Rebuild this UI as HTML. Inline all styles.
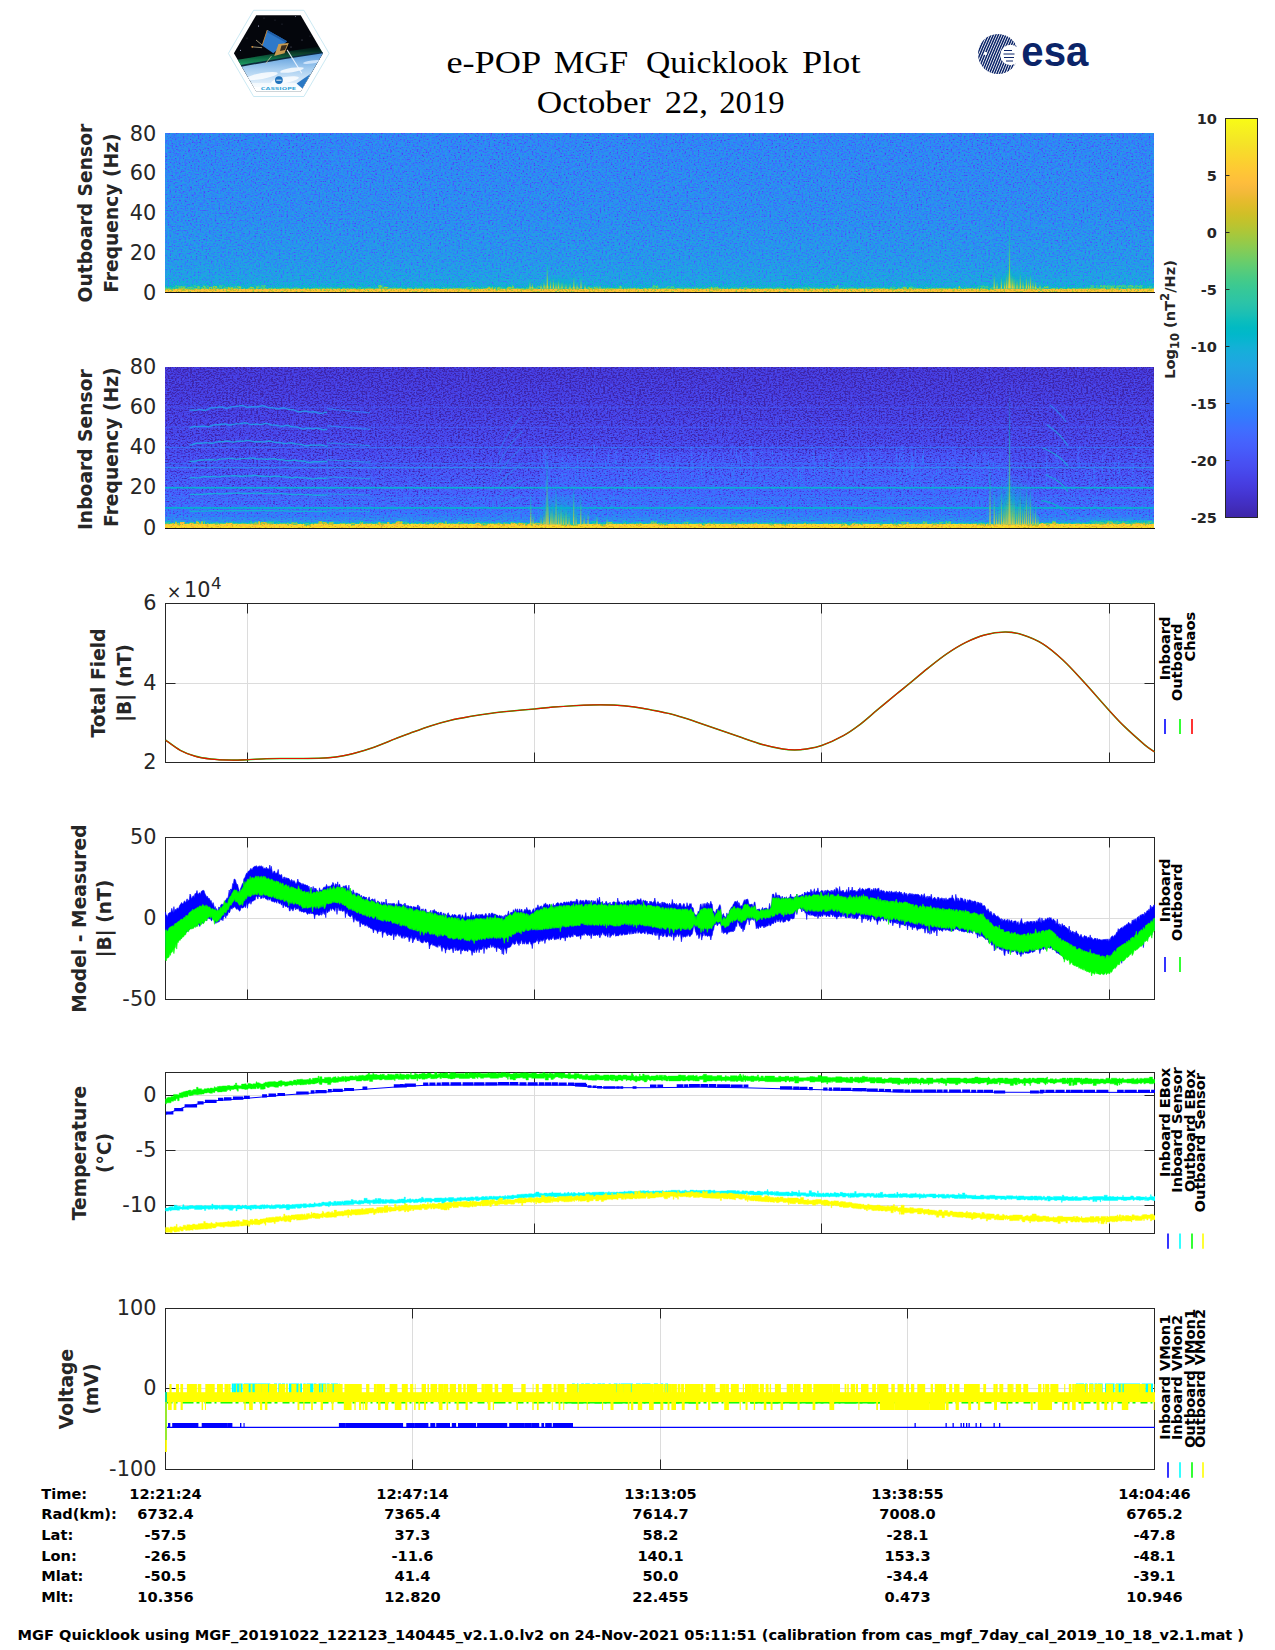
<!DOCTYPE html>
<html lang="en"><head><meta charset="utf-8"><title>e-POP MGF Quicklook Plot</title>
<style>html,body{margin:0;padding:0;background:#fff}svg{display:block}text{font-family:'DejaVu Sans','Liberation Sans',sans-serif}.tk{font-size:20.83px;fill:#262626}.yl{font-size:18.70px;font-weight:bold;fill:#262626;text-anchor:middle}.b{font-size:14.58px;font-weight:bold;fill:#000}.lg{font-size:14.58px;font-weight:bold;fill:#000;text-anchor:middle}.cb{font-size:14.58px;font-weight:bold;fill:#262626}.ttl{font-family:"Liberation Serif","DejaVu Serif",serif;font-size:31px;fill:#000}</style></head><body>
<svg width="1275" height="1650" viewBox="0 0 1275 1650">
<defs>
<filter id="sp1" filterUnits="userSpaceOnUse" x="165" y="133" width="989" height="159" color-interpolation-filters="sRGB">
<feTurbulence type="fractalNoise" baseFrequency="0.53 0.69" numOctaves="2" seed="3" result="n"/>
<feColorMatrix in="n" type="matrix" values="1 0 0 0 0  1 0 0 0 0  1 0 0 0 0  0 0 0 0 1" result="ng"/>
<feComponentTransfer in="ng" result="ns"><feFuncR type="table" tableValues="0 0 0 0.16 0.33 0.5 0.56 0.62 0.68 0.74 0.8"/><feFuncG type="table" tableValues="0 0 0 0.16 0.33 0.5 0.56 0.62 0.68 0.74 0.8"/><feFuncB type="table" tableValues="0 0 0 0.16 0.33 0.5 0.56 0.62 0.68 0.74 0.8"/></feComponentTransfer>
<feComposite in="SourceGraphic" in2="ns" operator="arithmetic" k1="0" k2="1" k3="0.38" k4="-0.18126" result="s"/>
<feComponentTransfer in="s"><feFuncR type="table" tableValues="0.2422 0.2504 0.2578 0.2647 0.2706 0.2751 0.2783 0.2803 0.2813 0.2810 0.2795 0.2760 0.2699 0.2602 0.2440 0.2206 0.1963 0.1834 0.1786 0.1764 0.1687 0.1540 0.1460 0.1380 0.1248 0.1113 0.0952 0.0689 0.0297 0.0036 0.0067 0.0433 0.0964 0.1408 0.1717 0.1938 0.2161 0.2470 0.2906 0.3406 0.3909 0.4456 0.5044 0.5616 0.6174 0.6720 0.7242 0.7738 0.8203 0.8634 0.9035 0.9393 0.9728 0.9956 0.9970 0.9952 0.9892 0.9786 0.9676 0.9610 0.9597 0.9628 0.9691 0.9769"/><feFuncG type="table" tableValues="0.1504 0.1650 0.1818 0.1978 0.2147 0.2342 0.2559 0.2782 0.3006 0.3228 0.3447 0.3667 0.3892 0.4123 0.4358 0.4603 0.4847 0.5074 0.5289 0.5499 0.5703 0.5902 0.6091 0.6276 0.6459 0.6635 0.6798 0.6948 0.7082 0.7203 0.7312 0.7411 0.7500 0.7584 0.7670 0.7758 0.7843 0.7918 0.7973 0.8008 0.8029 0.8024 0.7993 0.7942 0.7876 0.7793 0.7698 0.7598 0.7498 0.7406 0.7330 0.7288 0.7298 0.7434 0.7659 0.7893 0.8136 0.8386 0.8639 0.8890 0.9135 0.9373 0.9606 0.9839"/><feFuncB type="table" tableValues="0.6603 0.7076 0.7511 0.7952 0.8364 0.8710 0.8991 0.9221 0.9414 0.9579 0.9717 0.9829 0.9906 0.9952 0.9988 0.9973 0.9892 0.9798 0.9682 0.9520 0.9359 0.9218 0.9079 0.8973 0.8883 0.8763 0.8598 0.8394 0.8163 0.7917 0.7660 0.7394 0.7120 0.6842 0.6554 0.6251 0.5923 0.5567 0.5188 0.4789 0.4354 0.3909 0.3480 0.3045 0.2612 0.2227 0.1910 0.1646 0.1535 0.1596 0.1774 0.2100 0.2394 0.2371 0.2199 0.2028 0.1885 0.1766 0.1643 0.1537 0.1423 0.1265 0.1064 0.0805"/><feFuncA type="linear" slope="0" intercept="1"/></feComponentTransfer>
</filter>
<filter id="sp2" filterUnits="userSpaceOnUse" x="165" y="367" width="989" height="161" color-interpolation-filters="sRGB">
<feTurbulence type="fractalNoise" baseFrequency="0.53 0.69" numOctaves="2" seed="11" result="n"/>
<feColorMatrix in="n" type="matrix" values="1 0 0 0 0  1 0 0 0 0  1 0 0 0 0  0 0 0 0 1" result="ng"/>
<feComponentTransfer in="ng" result="ns"><feFuncR type="table" tableValues="0 0 0 0.16 0.33 0.5 0.56 0.62 0.68 0.74 0.8"/><feFuncG type="table" tableValues="0 0 0 0.16 0.33 0.5 0.56 0.62 0.68 0.74 0.8"/><feFuncB type="table" tableValues="0 0 0 0.16 0.33 0.5 0.56 0.62 0.68 0.74 0.8"/></feComponentTransfer>
<feComposite in="SourceGraphic" in2="ns" operator="arithmetic" k1="0" k2="1" k3="0.35" k4="-0.16695" result="s"/>
<feComponentTransfer in="s"><feFuncR type="table" tableValues="0.2422 0.2504 0.2578 0.2647 0.2706 0.2751 0.2783 0.2803 0.2813 0.2810 0.2795 0.2760 0.2699 0.2602 0.2440 0.2206 0.1963 0.1834 0.1786 0.1764 0.1687 0.1540 0.1460 0.1380 0.1248 0.1113 0.0952 0.0689 0.0297 0.0036 0.0067 0.0433 0.0964 0.1408 0.1717 0.1938 0.2161 0.2470 0.2906 0.3406 0.3909 0.4456 0.5044 0.5616 0.6174 0.6720 0.7242 0.7738 0.8203 0.8634 0.9035 0.9393 0.9728 0.9956 0.9970 0.9952 0.9892 0.9786 0.9676 0.9610 0.9597 0.9628 0.9691 0.9769"/><feFuncG type="table" tableValues="0.1504 0.1650 0.1818 0.1978 0.2147 0.2342 0.2559 0.2782 0.3006 0.3228 0.3447 0.3667 0.3892 0.4123 0.4358 0.4603 0.4847 0.5074 0.5289 0.5499 0.5703 0.5902 0.6091 0.6276 0.6459 0.6635 0.6798 0.6948 0.7082 0.7203 0.7312 0.7411 0.7500 0.7584 0.7670 0.7758 0.7843 0.7918 0.7973 0.8008 0.8029 0.8024 0.7993 0.7942 0.7876 0.7793 0.7698 0.7598 0.7498 0.7406 0.7330 0.7288 0.7298 0.7434 0.7659 0.7893 0.8136 0.8386 0.8639 0.8890 0.9135 0.9373 0.9606 0.9839"/><feFuncB type="table" tableValues="0.6603 0.7076 0.7511 0.7952 0.8364 0.8710 0.8991 0.9221 0.9414 0.9579 0.9717 0.9829 0.9906 0.9952 0.9988 0.9973 0.9892 0.9798 0.9682 0.9520 0.9359 0.9218 0.9079 0.8973 0.8883 0.8763 0.8598 0.8394 0.8163 0.7917 0.7660 0.7394 0.7120 0.6842 0.6554 0.6251 0.5923 0.5567 0.5188 0.4789 0.4354 0.3909 0.3480 0.3045 0.2612 0.2227 0.1910 0.1646 0.1535 0.1596 0.1774 0.2100 0.2394 0.2371 0.2199 0.2028 0.1885 0.1766 0.1643 0.1537 0.1423 0.1265 0.1064 0.0805"/><feFuncA type="linear" slope="0" intercept="1"/></feComponentTransfer>
</filter>
<linearGradient id="cbg" x1="0" y1="1" x2="0" y2="0">
<stop offset="0.0000" stop-color="#3e26a8"/>
<stop offset="0.0159" stop-color="#402ab4"/>
<stop offset="0.0317" stop-color="#422ec0"/>
<stop offset="0.0476" stop-color="#4332cb"/>
<stop offset="0.0635" stop-color="#4537d5"/>
<stop offset="0.0794" stop-color="#463cde"/>
<stop offset="0.0952" stop-color="#4741e5"/>
<stop offset="0.1111" stop-color="#4747eb"/>
<stop offset="0.1270" stop-color="#484df0"/>
<stop offset="0.1429" stop-color="#4852f4"/>
<stop offset="0.1587" stop-color="#4758f8"/>
<stop offset="0.1746" stop-color="#465efb"/>
<stop offset="0.1905" stop-color="#4563fd"/>
<stop offset="0.2063" stop-color="#4269fe"/>
<stop offset="0.2222" stop-color="#3e6fff"/>
<stop offset="0.2381" stop-color="#3875fe"/>
<stop offset="0.2540" stop-color="#327cfc"/>
<stop offset="0.2698" stop-color="#2f81fa"/>
<stop offset="0.2857" stop-color="#2e87f7"/>
<stop offset="0.3016" stop-color="#2d8cf3"/>
<stop offset="0.3175" stop-color="#2b91ef"/>
<stop offset="0.3333" stop-color="#2797eb"/>
<stop offset="0.3492" stop-color="#259be8"/>
<stop offset="0.3651" stop-color="#23a0e5"/>
<stop offset="0.3810" stop-color="#20a5e3"/>
<stop offset="0.3968" stop-color="#1ca9df"/>
<stop offset="0.4127" stop-color="#18addb"/>
<stop offset="0.4286" stop-color="#12b1d6"/>
<stop offset="0.4444" stop-color="#08b5d0"/>
<stop offset="0.4603" stop-color="#01b8ca"/>
<stop offset="0.4762" stop-color="#02bac3"/>
<stop offset="0.4921" stop-color="#0bbdbd"/>
<stop offset="0.5079" stop-color="#19bfb6"/>
<stop offset="0.5238" stop-color="#24c1ae"/>
<stop offset="0.5397" stop-color="#2cc4a7"/>
<stop offset="0.5556" stop-color="#31c69f"/>
<stop offset="0.5714" stop-color="#37c897"/>
<stop offset="0.5873" stop-color="#3fca8e"/>
<stop offset="0.6032" stop-color="#4acb84"/>
<stop offset="0.6190" stop-color="#57cc7a"/>
<stop offset="0.6349" stop-color="#64cd6f"/>
<stop offset="0.6508" stop-color="#72cd64"/>
<stop offset="0.6667" stop-color="#81cc59"/>
<stop offset="0.6825" stop-color="#8fcb4e"/>
<stop offset="0.6984" stop-color="#9dc943"/>
<stop offset="0.7143" stop-color="#abc739"/>
<stop offset="0.7302" stop-color="#b9c431"/>
<stop offset="0.7460" stop-color="#c5c22a"/>
<stop offset="0.7619" stop-color="#d1bf27"/>
<stop offset="0.7778" stop-color="#dcbd29"/>
<stop offset="0.7937" stop-color="#e6bb2d"/>
<stop offset="0.8095" stop-color="#f0ba36"/>
<stop offset="0.8254" stop-color="#f8ba3d"/>
<stop offset="0.8413" stop-color="#febe3c"/>
<stop offset="0.8571" stop-color="#fec338"/>
<stop offset="0.8730" stop-color="#fec934"/>
<stop offset="0.8889" stop-color="#fccf30"/>
<stop offset="0.9048" stop-color="#fad62d"/>
<stop offset="0.9206" stop-color="#f7dc2a"/>
<stop offset="0.9365" stop-color="#f5e327"/>
<stop offset="0.9524" stop-color="#f5e924"/>
<stop offset="0.9683" stop-color="#f6ef20"/>
<stop offset="0.9841" stop-color="#f7f51b"/>
<stop offset="1.0000" stop-color="#f9fb15"/>
</linearGradient>
<linearGradient id="g1" x1="0" y1="0" x2="0" y2="1">
<stop offset="0.0000" stop-color="#4a4a4a"/>
<stop offset="0.5000" stop-color="#4f4f4f"/>
<stop offset="0.8000" stop-color="#575757"/>
<stop offset="0.9200" stop-color="#5f5f5f"/>
<stop offset="0.9660" stop-color="#6b6b6b"/>
<stop offset="0.9760" stop-color="#8a8a8a"/>
<stop offset="0.9830" stop-color="#d0d0d0"/>
<stop offset="1.0000" stop-color="#d5d5d5"/>
</linearGradient>
<linearGradient id="g2" x1="0" y1="0" x2="0" y2="1">
<stop offset="0.0000" stop-color="#0f0f0f"/>
<stop offset="0.2500" stop-color="#141414"/>
<stop offset="0.5000" stop-color="#1c1c1c"/>
<stop offset="0.7000" stop-color="#282828"/>
<stop offset="0.8500" stop-color="#343434"/>
<stop offset="0.9300" stop-color="#424242"/>
<stop offset="0.9620" stop-color="#545454"/>
<stop offset="0.9710" stop-color="#8a8a8a"/>
<stop offset="0.9780" stop-color="#e2e2e2"/>
<stop offset="1.0000" stop-color="#e9e9e9"/>
</linearGradient>
<clipPath id="c1"><rect x="165" y="133" width="989" height="159"/></clipPath>
<clipPath id="c2"><rect x="165" y="367" width="989" height="161"/></clipPath>
<linearGradient id="stk" x1="0" y1="0" x2="0" y2="1"><stop offset="0" stop-color="#1ca9df" stop-opacity="0"/><stop offset="0.35" stop-color="#02bac3" stop-opacity="0.6"/><stop offset="0.75" stop-color="#81cc59" stop-opacity="0.9"/><stop offset="1" stop-color="#fccf30" stop-opacity="1"/></linearGradient>
<radialGradient id="glow" cx="0.5" cy="1" r="1" gradientTransform="translate(0.5 1) scale(0.5 1) translate(-0.5 -1)"><stop offset="0" stop-color="#37c897" stop-opacity="0.85"/><stop offset="0.5" stop-color="#01b8ca" stop-opacity="0.45"/><stop offset="1" stop-color="#20a5e3" stop-opacity="0"/></radialGradient>
</defs>
<text class="ttl" x="446.4" y="72.7" textLength="94.8" lengthAdjust="spacingAndGlyphs">e-POP</text>
<text class="ttl" x="553.7" y="72.7" textLength="74.5" lengthAdjust="spacingAndGlyphs">MGF</text>
<text class="ttl" x="645.9" y="72.7" textLength="142.3" lengthAdjust="spacingAndGlyphs">Quicklook</text>
<text class="ttl" x="802.1" y="72.7" textLength="58.4" lengthAdjust="spacingAndGlyphs">Plot</text>
<text class="ttl" x="536.7" y="113.0" textLength="113.7" lengthAdjust="spacingAndGlyphs">October</text>
<text class="ttl" x="664.7" y="113.0" textLength="43.3" lengthAdjust="spacingAndGlyphs">22,</text>
<text class="ttl" x="719.3" y="113.0" textLength="65.2" lengthAdjust="spacingAndGlyphs">2019</text>
<g id="cassiope">
<polygon points="228.4,53.4 253.6,10.3 303.9,10.3 329.1,53.4 303.9,96.5 253.6,96.5" fill="#fff" stroke="#b5e0ee" stroke-width="0.7"/>
<defs><clipPath id="hx"><polygon points="233.9,53.3 256.2,15.2 300.7,15.2 322.9,53.3 300.7,91.4 256.2,91.4"/></clipPath>
<linearGradient id="eg" x1="0" y1="0" x2="0" y2="1"><stop offset="0" stop-color="#4f93d8"/><stop offset="0.35" stop-color="#a5cdf0"/><stop offset="0.7" stop-color="#eaf4fc"/><stop offset="1" stop-color="#ffffff"/></linearGradient>
<linearGradient id="au" x1="0" y1="0" x2="0" y2="1"><stop offset="0" stop-color="#0a5a3a" stop-opacity="0"/><stop offset="0.6" stop-color="#128050" stop-opacity="0.85"/><stop offset="1" stop-color="#25b070"/></linearGradient>
<filter id="bl" x="-10%" y="-10%" width="120%" height="120%"><feGaussianBlur stdDeviation="0.7"/></filter></defs>
<g clip-path="url(#hx)">
<rect x="230" y="12" width="100" height="84" fill="#04060c"/>
<circle cx="258.5" cy="26.0" r="0.60" fill="#cfd6ff"/>
<circle cx="240.5" cy="50.3" r="0.50" fill="#cfd6ff"/>
<circle cx="295.6" cy="16.5" r="0.40" fill="#cfd6ff"/>
<circle cx="302.0" cy="40.0" r="0.40" fill="#cfd6ff"/>
<circle cx="291.0" cy="47.0" r="0.40" fill="#cfd6ff"/>
<circle cx="264.0" cy="18.0" r="0.35" fill="#cfd6ff"/>
<circle cx="282.0" cy="24.0" r="0.30" fill="#cfd6ff"/>
<circle cx="310.0" cy="36.0" r="0.30" fill="#cfd6ff"/>
<circle cx="247.0" cy="38.0" r="0.30" fill="#cfd6ff"/>
<circle cx="275.0" cy="20.0" r="0.30" fill="#cfd6ff"/>
<path d="M230 61 Q 280 52.5 330 45 L330 51.5 Q 280 59 230 67.5 Z" fill="url(#au)" filter="url(#bl)"/>
<path d="M228 67.5 Q 280 57.5 332 50.5 L332 100 L228 100 Z" fill="#0b2a3c"/>
<path d="M228 69.3 Q 280 59.2 332 52 L332 100 L228 100 Z" fill="url(#eg)"/>
<g filter="url(#bl)" opacity="0.8"><ellipse cx="262" cy="76" rx="16" ry="3" fill="#fff" transform="rotate(-10 262 76)"/><ellipse cx="292" cy="70" rx="12" ry="2.2" fill="#fff" transform="rotate(-9 292 70)"/><ellipse cx="312" cy="62" rx="9" ry="1.6" fill="#dfeeff" transform="rotate(-8 312 62)"/><ellipse cx="285" cy="80" rx="14" ry="3" fill="#fff" transform="rotate(-10 285 80)"/></g>
<rect x="240" y="83" width="80" height="5" fill="#fff" opacity="0.6"/><rect x="240" y="87" width="80" height="10" fill="#fff"/>
<path d="M287.1 49.9 L301.8 73.2" stroke="#f4f8ff" stroke-width="1.1" opacity="0.9"/>
<polygon points="296.6,83.5 310.4,74 302.7,88.7" fill="#2a78c4"/>
<polygon points="267.3,30 287.1,41.2 273.3,53.3 262.1,45.6" fill="#2e79c9"/>
<polygon points="267.3,30 287.1,41.2 285.5,42.6 266.4,31.8" fill="#1f5ea8"/>
<polygon points="278.5,44 288.8,43 284.5,53.3 274.2,55.9" fill="#c89b52"/>
<polygon points="281.5,45.5 287,45 285,50 280,51" fill="#3a2c1c"/>
<path d="M267.3 30 L262.1 45.6" stroke="#c88a3a" stroke-width="0.9"/>
<path d="M262.1 47.7 L251.7 46.8 M271.6 55.9 L265.6 63.7 M262 45 L256 40" stroke="#d6c8a0" stroke-width="0.7" fill="none"/>
<circle cx="252.3" cy="46.8" r="0.9" fill="#e09030"/>
<circle cx="278.9" cy="80.1" r="3.9" fill="#1f72bc"/><path d="M276.3 80.2 h5.2" stroke="#fff" stroke-width="0.9"/>
<text x="278.5" y="90.4" text-anchor="middle" style="font-size:4.1px;fill:#3aa8da;font-weight:bold" textLength="35.4" lengthAdjust="spacingAndGlyphs">CASSIOPE</text>
</g></g>
<g id="esa">
<clipPath id="es"><circle cx="998" cy="54" r="20"/></clipPath>
<g clip-path="url(#es)" stroke="#0b2468" stroke-width="1.5">
<path d="M937.0 80 Q 947.0 54 959.0 28" fill="none"/>
<path d="M939.5 80 Q 949.5 54 961.5 28" fill="none"/>
<path d="M942.0 80 Q 952.0 54 964.0 28" fill="none"/>
<path d="M944.5 80 Q 954.5 54 966.5 28" fill="none"/>
<path d="M947.0 80 Q 957.0 54 969.0 28" fill="none"/>
<path d="M949.5 80 Q 959.5 54 971.5 28" fill="none"/>
<path d="M952.0 80 Q 962.0 54 974.0 28" fill="none"/>
<path d="M954.5 80 Q 964.5 54 976.5 28" fill="none"/>
<path d="M957.0 80 Q 967.0 54 979.0 28" fill="none"/>
<path d="M959.5 80 Q 969.5 54 981.5 28" fill="none"/>
<path d="M962.0 80 Q 972.0 54 984.0 28" fill="none"/>
<path d="M964.5 80 Q 974.5 54 986.5 28" fill="none"/>
<path d="M967.0 80 Q 977.0 54 989.0 28" fill="none"/>
<path d="M969.5 80 Q 979.5 54 991.5 28" fill="none"/>
<path d="M972.0 80 Q 982.0 54 994.0 28" fill="none"/>
<path d="M974.5 80 Q 984.5 54 996.5 28" fill="none"/>
<path d="M977.0 80 Q 987.0 54 999.0 28" fill="none"/>
<path d="M979.5 80 Q 989.5 54 1001.5 28" fill="none"/>
<path d="M982.0 80 Q 992.0 54 1004.0 28" fill="none"/>
<path d="M984.5 80 Q 994.5 54 1006.5 28" fill="none"/>
<path d="M987.0 80 Q 997.0 54 1009.0 28" fill="none"/>
<path d="M989.5 80 Q 999.5 54 1011.5 28" fill="none"/>
<path d="M992.0 80 Q 1002.0 54 1014.0 28" fill="none"/>
<path d="M994.5 80 Q 1004.5 54 1016.5 28" fill="none"/>
<path d="M997.0 80 Q 1007.0 54 1019.0 28" fill="none"/>
<path d="M999.5 80 Q 1009.5 54 1021.5 28" fill="none"/>
<path d="M1002.0 80 Q 1012.0 54 1024.0 28" fill="none"/>
<path d="M1004.5 80 Q 1014.5 54 1026.5 28" fill="none"/>
<path d="M1007.0 80 Q 1017.0 54 1029.0 28" fill="none"/>
<path d="M1009.5 80 Q 1019.5 54 1031.5 28" fill="none"/>
<path d="M1012.0 80 Q 1022.0 54 1034.0 28" fill="none"/>
<path d="M1014.5 80 Q 1024.5 54 1036.5 28" fill="none"/>
<path d="M1017.0 80 Q 1027.0 54 1039.0 28" fill="none"/>
</g>
<circle cx="1010.5" cy="55" r="10.2" fill="#fff"/>
<path d="M1004 50.5 h8 M1003.5 54 h11 M1004 57.5 h10 M1006 61 h7" stroke="#0b2468" stroke-width="1" fill="none"/>
<circle cx="985.5" cy="53.5" r="1.7" fill="#fff"/>
<text x="1021.3" y="66.1" style="font-family:'Liberation Sans','DejaVu Sans',sans-serif;font-weight:bold;font-size:42px;fill:#0b2468" textLength="67" lengthAdjust="spacingAndGlyphs">esa</text>
</g>
<rect x="1225.5" y="118.5" width="32" height="399" fill="url(#cbg)" stroke="#262626" stroke-width="1"/>
<text class="cb" x="1217" y="123.80" text-anchor="end">10</text>
<path d="M1225.5 175.50 h4" stroke="#262626" stroke-width="1"/>
<text class="cb" x="1217" y="180.80" text-anchor="end">5</text>
<path d="M1225.5 232.50 h4" stroke="#262626" stroke-width="1"/>
<text class="cb" x="1217" y="237.80" text-anchor="end">0</text>
<path d="M1225.5 289.50 h4" stroke="#262626" stroke-width="1"/>
<text class="cb" x="1217" y="294.80" text-anchor="end">-5</text>
<path d="M1225.5 346.50 h4" stroke="#262626" stroke-width="1"/>
<text class="cb" x="1217" y="351.80" text-anchor="end">-10</text>
<path d="M1225.5 403.50 h4" stroke="#262626" stroke-width="1"/>
<text class="cb" x="1217" y="408.80" text-anchor="end">-15</text>
<path d="M1225.5 460.50 h4" stroke="#262626" stroke-width="1"/>
<text class="cb" x="1217" y="465.80" text-anchor="end">-20</text>
<text class="cb" x="1217" y="522.80" text-anchor="end">-25</text>
<text class="cb" transform="translate(1174.5,319.5) rotate(-90)" text-anchor="middle">Log<tspan dy="4" style="font-size:11.6px">10</tspan><tspan dy="-4"> (nT</tspan><tspan dy="-6" style="font-size:11.6px">2</tspan><tspan dy="6">/Hz)</tspan></text>
<g filter="url(#sp1)">
<rect x="165" y="133" width="989" height="159" fill="url(#g1)"/>
<g clip-path="url(#c1)"><rect x="165.0" y="286.6" width="3.3" height="3.0" fill="#8f8f8f" opacity="0.8"/><rect x="169.9" y="286.6" width="3.5" height="3.0" fill="#8d8d8d" opacity="0.8"/><rect x="174.7" y="285.2" width="1.9" height="3.0" fill="#8e8e8e" opacity="0.8"/><rect x="178.3" y="286.6" width="6.7" height="3.0" fill="#acacac" opacity="0.8"/><rect x="186.2" y="286.6" width="6.9" height="3.0" fill="#9b9b9b" opacity="0.8"/><rect x="193.5" y="286.6" width="2.1" height="3.0" fill="#909090" opacity="0.8"/><rect x="197.3" y="286.6" width="2.5" height="3.0" fill="#ababab" opacity="0.8"/><rect x="201.7" y="285.8" width="4.2" height="3.0" fill="#a6a6a6" opacity="0.8"/><rect x="208.7" y="286.6" width="3.5" height="3.0" fill="#b3b3b3" opacity="0.8"/><rect x="213.0" y="285.8" width="4.7" height="3.0" fill="#b5b5b5" opacity="0.8"/><rect x="218.5" y="285.2" width="6.9" height="3.0" fill="#949494" opacity="0.8"/><rect x="226.4" y="286.6" width="6.6" height="3.0" fill="#b7b7b7" opacity="0.8"/><rect x="234.8" y="285.8" width="6.3" height="3.0" fill="#adadad" opacity="0.8"/><rect x="249.6" y="286.6" width="4.1" height="3.0" fill="#b5b5b5" opacity="0.8"/><rect x="254.7" y="285.2" width="4.7" height="3.0" fill="#9b9b9b" opacity="0.8"/><rect x="260.5" y="285.2" width="5.2" height="3.0" fill="#9f9f9f" opacity="0.8"/><rect x="356.6" y="286.6" width="3.9" height="3.0" fill="#909090" opacity="0.8"/><rect x="378.3" y="285.2" width="4.1" height="3.0" fill="#c4c4c4" opacity="0.8"/><rect x="383.8" y="286.6" width="4.2" height="3.0" fill="#b6b6b6" opacity="0.8"/><rect x="466.1" y="286.6" width="6.9" height="3.0" fill="#989898" opacity="0.8"/><rect x="486.9" y="286.6" width="5.9" height="3.0" fill="#bfbfbf" opacity="0.8"/><rect x="495.2" y="286.6" width="5.6" height="3.0" fill="#a4a4a4" opacity="0.8"/><rect x="506.8" y="286.6" width="4.0" height="3.0" fill="#b5b5b5" opacity="0.8"/><rect x="511.4" y="285.2" width="2.2" height="3.0" fill="#b9b9b9" opacity="0.8"/><rect x="522.1" y="286.6" width="3.4" height="3.0" fill="#8c8c8c" opacity="0.8"/><rect x="527.9" y="286.6" width="5.5" height="3.0" fill="#a4a4a4" opacity="0.8"/><rect x="536.0" y="285.8" width="6.0" height="3.0" fill="#979797" opacity="0.8"/><rect x="543.5" y="285.2" width="5.7" height="3.0" fill="#bbbbbb" opacity="0.8"/><rect x="557.0" y="286.6" width="6.0" height="3.0" fill="#a9a9a9" opacity="0.8"/><rect x="564.5" y="286.6" width="1.6" height="3.0" fill="#aeaeae" opacity="0.8"/><rect x="568.5" y="286.6" width="2.3" height="3.0" fill="#ababab" opacity="0.8"/><rect x="571.8" y="286.6" width="4.4" height="3.0" fill="#bebebe" opacity="0.8"/><rect x="576.3" y="286.6" width="2.6" height="3.0" fill="#a8a8a8" opacity="0.8"/><rect x="587.5" y="286.6" width="4.9" height="3.0" fill="#b3b3b3" opacity="0.8"/><rect x="593.8" y="286.6" width="4.4" height="3.0" fill="#b3b3b3" opacity="0.8"/><rect x="618.7" y="285.8" width="2.8" height="3.0" fill="#b8b8b8" opacity="0.8"/><rect x="652.5" y="285.2" width="5.5" height="3.0" fill="#a4a4a4" opacity="0.8"/><rect x="667.1" y="285.8" width="6.8" height="3.0" fill="#9a9a9a" opacity="0.8"/><rect x="709.6" y="286.6" width="3.0" height="3.0" fill="#b9b9b9" opacity="0.8"/><rect x="712.8" y="286.6" width="6.2" height="3.0" fill="#a5a5a5" opacity="0.8"/><rect x="743.8" y="286.6" width="2.9" height="3.0" fill="#a8a8a8" opacity="0.8"/><rect x="804.7" y="286.6" width="5.3" height="3.0" fill="#949494" opacity="0.8"/><rect x="835.5" y="285.2" width="3.0" height="3.0" fill="#adadad" opacity="0.8"/><rect x="890.3" y="286.6" width="6.0" height="3.0" fill="#8f8f8f" opacity="0.8"/><rect x="902.6" y="286.6" width="4.0" height="3.0" fill="#afafaf" opacity="0.8"/><rect x="908.6" y="286.6" width="4.2" height="3.0" fill="#b6b6b6" opacity="0.8"/><rect x="958.6" y="285.8" width="1.6" height="3.0" fill="#c3c3c3" opacity="0.8"/><rect x="986.3" y="286.6" width="7.0" height="3.0" fill="#8f8f8f" opacity="0.8"/><rect x="993.6" y="285.8" width="5.6" height="3.0" fill="#929292" opacity="0.8"/><rect x="1012.3" y="285.2" width="1.6" height="3.0" fill="#b2b2b2" opacity="0.8"/><rect x="1015.1" y="285.2" width="5.5" height="3.0" fill="#9d9d9d" opacity="0.8"/><rect x="1023.2" y="285.2" width="1.5" height="3.0" fill="#919191" opacity="0.8"/><rect x="1033.7" y="286.6" width="3.5" height="3.0" fill="#9f9f9f" opacity="0.8"/><rect x="1038.6" y="286.6" width="3.0" height="3.0" fill="#8d8d8d" opacity="0.8"/><rect x="1043.6" y="285.8" width="5.0" height="3.0" fill="#a4a4a4" opacity="0.8"/><rect x="1091.0" y="285.2" width="3.7" height="3.0" fill="#ababab" opacity="0.8"/><rect x="1095.9" y="286.6" width="2.4" height="3.0" fill="#a8a8a8" opacity="0.8"/><rect x="1100.7" y="285.8" width="4.5" height="3.0" fill="#c5c5c5" opacity="0.8"/><rect x="1106.6" y="286.6" width="2.3" height="3.0" fill="#959595" opacity="0.8"/><rect x="1110.5" y="286.6" width="3.3" height="3.0" fill="#bebebe" opacity="0.8"/><rect x="1116.0" y="286.6" width="3.8" height="3.0" fill="#a0a0a0" opacity="0.8"/><rect x="1120.8" y="285.8" width="1.8" height="3.0" fill="#929292" opacity="0.8"/><rect x="1129.8" y="285.2" width="3.0" height="3.0" fill="#b0b0b0" opacity="0.8"/><rect x="1140.2" y="285.2" width="2.2" height="3.0" fill="#c3c3c3" opacity="0.8"/><rect x="1148.6" y="285.2" width="4.4" height="3.0" fill="#999999" opacity="0.8"/><rect x="1153.3" y="286.6" width="2.3" height="3.0" fill="#c1c1c1" opacity="0.8"/><rect x="1090" y="285.0" width="64" height="3" fill="#838383" opacity="0.6"/><rect x="176.0" y="285.5" width="10.0" height="2" fill="#a0a0a0" opacity="0.7"/><rect x="192.0" y="285.5" width="8.0" height="2" fill="#a0a0a0" opacity="0.7"/><rect x="203.0" y="285.5" width="6.0" height="2" fill="#a0a0a0" opacity="0.7"/><rect x="978.0" y="285.5" width="10.0" height="2" fill="#a0a0a0" opacity="0.7"/><rect x="1003.0" y="285.5" width="30.0" height="2" fill="#a0a0a0" opacity="0.7"/><rect x="1100.0" y="285.5" width="40.0" height="2" fill="#a0a0a0" opacity="0.7"/></g>
</g>
<g clip-path="url(#c1)"><rect x="534.0" y="272.5" width="52.0" height="16.0" fill="url(#glow)"/><rect x="986.0" y="262.5" width="52.0" height="26.0" fill="url(#glow)"/><rect x="546.7" y="252.5" width="1.2" height="36.0" fill="url(#stk)"/><rect x="529.4" y="276.5" width="1.2" height="12.0" fill="url(#stk)"/><rect x="531.9" y="279.5" width="1.2" height="9.0" fill="url(#stk)"/><rect x="540.4" y="280.5" width="1.2" height="8.0" fill="url(#stk)"/><rect x="543.4" y="276.5" width="1.2" height="12.0" fill="url(#stk)"/><rect x="549.9" y="274.5" width="1.2" height="14.0" fill="url(#stk)"/><rect x="552.8" y="272.5" width="1.2" height="16.0" fill="url(#stk)"/><rect x="555.4" y="278.5" width="1.2" height="10.0" fill="url(#stk)"/><rect x="557.9" y="274.5" width="1.2" height="14.0" fill="url(#stk)"/><rect x="561.4" y="278.5" width="1.2" height="10.0" fill="url(#stk)"/><rect x="565.4" y="280.5" width="1.2" height="8.0" fill="url(#stk)"/><rect x="569.4" y="279.5" width="1.2" height="9.0" fill="url(#stk)"/><rect x="573.2" y="270.5" width="1.2" height="18.0" fill="url(#stk)"/><rect x="576.4" y="279.5" width="1.2" height="9.0" fill="url(#stk)"/><rect x="580.4" y="272.5" width="1.2" height="16.0" fill="url(#stk)"/><rect x="584.4" y="281.5" width="1.2" height="7.0" fill="url(#stk)"/><rect x="599.4" y="282.5" width="1.2" height="6.0" fill="url(#stk)"/><rect x="1008.9" y="204.5" width="1.2" height="84.0" fill="url(#stk)"/><rect x="1007.7" y="258.5" width="1.2" height="30.0" fill="url(#stk)"/><rect x="1010.2" y="262.5" width="1.2" height="26.0" fill="url(#stk)"/><rect x="993.6" y="266.5" width="1.2" height="22.0" fill="url(#stk)"/><rect x="996.4" y="276.5" width="1.2" height="12.0" fill="url(#stk)"/><rect x="1000.8" y="270.5" width="1.2" height="18.0" fill="url(#stk)"/><rect x="1003.9" y="274.5" width="1.2" height="14.0" fill="url(#stk)"/><rect x="1005.9" y="266.5" width="1.2" height="22.0" fill="url(#stk)"/><rect x="1011.9" y="268.5" width="1.2" height="20.0" fill="url(#stk)"/><rect x="1013.4" y="270.5" width="1.2" height="18.0" fill="url(#stk)"/><rect x="1016.4" y="274.5" width="1.2" height="14.0" fill="url(#stk)"/><rect x="1019.7" y="264.5" width="1.2" height="24.0" fill="url(#stk)"/><rect x="1022.4" y="274.5" width="1.2" height="14.0" fill="url(#stk)"/><rect x="1025.8" y="268.5" width="1.2" height="20.0" fill="url(#stk)"/><rect x="1027.9" y="274.5" width="1.2" height="14.0" fill="url(#stk)"/><rect x="1029.9" y="266.5" width="1.2" height="22.0" fill="url(#stk)"/><rect x="1032.4" y="276.5" width="1.2" height="12.0" fill="url(#stk)"/><rect x="1035.0" y="276.5" width="1.2" height="12.0" fill="url(#stk)"/><rect x="1039.4" y="281.5" width="1.2" height="7.0" fill="url(#stk)"/></g>
<path d="M165 292.5 H1155" stroke="#111" stroke-width="1"/>
<text class="tk" x="156.2" y="299.60" text-anchor="end">0</text>
<text class="tk" x="156.2" y="259.85" text-anchor="end">20</text>
<text class="tk" x="156.2" y="220.10" text-anchor="end">40</text>
<text class="tk" x="156.2" y="180.35" text-anchor="end">60</text>
<text class="tk" x="156.2" y="140.60" text-anchor="end">80</text>
<text class="yl" transform="translate(92.2,213.1) rotate(-90)">Outboard Sensor</text>
<text class="yl" transform="translate(118,213.1) rotate(-90)">Frequency (Hz)</text>
<g filter="url(#sp2)">
<rect x="165" y="367" width="989" height="161" fill="url(#g2)"/>
<g clip-path="url(#c2)"><rect x="165.0" y="521.2" width="5.1" height="3.0" fill="#929292" opacity="0.8"/><rect x="172.4" y="522.6" width="1.5" height="3.0" fill="#c3c3c3" opacity="0.8"/><rect x="174.8" y="521.2" width="2.2" height="3.0" fill="#c8c8c8" opacity="0.8"/><rect x="177.4" y="522.6" width="1.9" height="3.0" fill="#acacac" opacity="0.8"/><rect x="179.9" y="521.8" width="4.8" height="3.0" fill="#e2e2e2" opacity="0.8"/><rect x="189.5" y="522.6" width="4.4" height="3.0" fill="#dedede" opacity="0.8"/><rect x="196.0" y="521.2" width="3.2" height="3.0" fill="#d8d8d8" opacity="0.8"/><rect x="201.2" y="521.2" width="1.9" height="3.0" fill="#dbdbdb" opacity="0.8"/><rect x="203.8" y="521.2" width="1.7" height="3.0" fill="#aaaaaa" opacity="0.8"/><rect x="206.7" y="522.6" width="1.5" height="3.0" fill="#9c9c9c" opacity="0.8"/><rect x="215.0" y="521.8" width="2.7" height="3.0" fill="#949494" opacity="0.8"/><rect x="225.9" y="522.6" width="6.5" height="3.0" fill="#dbdbdb" opacity="0.8"/><rect x="232.6" y="521.2" width="1.6" height="3.0" fill="#8f8f8f" opacity="0.8"/><rect x="249.0" y="521.2" width="3.3" height="3.0" fill="#8d8d8d" opacity="0.8"/><rect x="254.3" y="521.8" width="3.6" height="3.0" fill="#b1b1b1" opacity="0.8"/><rect x="258.2" y="521.2" width="1.9" height="3.0" fill="#dedede" opacity="0.8"/><rect x="260.5" y="521.8" width="6.8" height="3.0" fill="#cecece" opacity="0.8"/><rect x="268.3" y="521.2" width="5.9" height="3.0" fill="#9c9c9c" opacity="0.8"/><rect x="275.8" y="521.2" width="4.0" height="3.0" fill="#8d8d8d" opacity="0.8"/><rect x="287.1" y="522.6" width="1.7" height="3.0" fill="#a1a1a1" opacity="0.8"/><rect x="291.0" y="521.8" width="6.4" height="3.0" fill="#a8a8a8" opacity="0.8"/><rect x="304.1" y="522.6" width="6.6" height="3.0" fill="#8d8d8d" opacity="0.8"/><rect x="318.4" y="521.2" width="3.6" height="3.0" fill="#d2d2d2" opacity="0.8"/><rect x="322.4" y="521.8" width="4.2" height="3.0" fill="#d2d2d2" opacity="0.8"/><rect x="329.0" y="521.8" width="4.8" height="3.0" fill="#b3b3b3" opacity="0.8"/><rect x="351.1" y="522.6" width="3.8" height="3.0" fill="#a2a2a2" opacity="0.8"/><rect x="359.3" y="521.2" width="4.0" height="3.0" fill="#b3b3b3" opacity="0.8"/><rect x="377.6" y="521.8" width="3.0" height="3.0" fill="#cbcbcb" opacity="0.8"/><rect x="381.3" y="522.6" width="2.9" height="3.0" fill="#a3a3a3" opacity="0.8"/><rect x="386.9" y="521.8" width="2.5" height="3.0" fill="#e1e1e1" opacity="0.8"/><rect x="395.6" y="521.2" width="7.0" height="3.0" fill="#d8d8d8" opacity="0.8"/><rect x="403.3" y="521.8" width="4.0" height="3.0" fill="#9f9f9f" opacity="0.8"/><rect x="425.7" y="521.8" width="3.4" height="3.0" fill="#979797" opacity="0.8"/><rect x="434.6" y="521.8" width="2.6" height="3.0" fill="#aeaeae" opacity="0.8"/><rect x="438.3" y="522.6" width="4.9" height="3.0" fill="#d0d0d0" opacity="0.8"/><rect x="444.9" y="521.2" width="1.8" height="3.0" fill="#c4c4c4" opacity="0.8"/><rect x="457.8" y="521.8" width="3.8" height="3.0" fill="#afafaf" opacity="0.8"/><rect x="475.8" y="522.6" width="3.9" height="3.0" fill="#d2d2d2" opacity="0.8"/><rect x="480.9" y="522.6" width="6.4" height="3.0" fill="#969696" opacity="0.8"/><rect x="497.8" y="522.6" width="2.4" height="3.0" fill="#b8b8b8" opacity="0.8"/><rect x="503.0" y="522.6" width="2.1" height="3.0" fill="#a5a5a5" opacity="0.8"/><rect x="510.3" y="522.6" width="4.8" height="3.0" fill="#d9d9d9" opacity="0.8"/><rect x="517.0" y="522.6" width="6.0" height="3.0" fill="#c1c1c1" opacity="0.8"/><rect x="524.9" y="522.6" width="2.6" height="3.0" fill="#8e8e8e" opacity="0.8"/><rect x="530.3" y="522.6" width="2.4" height="3.0" fill="#a0a0a0" opacity="0.8"/><rect x="534.8" y="522.6" width="6.4" height="3.0" fill="#c5c5c5" opacity="0.8"/><rect x="542.2" y="521.8" width="3.6" height="3.0" fill="#c3c3c3" opacity="0.8"/><rect x="546.8" y="521.8" width="2.9" height="3.0" fill="#b1b1b1" opacity="0.8"/><rect x="551.0" y="521.2" width="1.6" height="3.0" fill="#b3b3b3" opacity="0.8"/><rect x="561.3" y="522.6" width="6.0" height="3.0" fill="#969696" opacity="0.8"/><rect x="568.6" y="522.6" width="2.0" height="3.0" fill="#8e8e8e" opacity="0.8"/><rect x="571.0" y="522.6" width="6.6" height="3.0" fill="#8f8f8f" opacity="0.8"/><rect x="591.5" y="521.2" width="6.0" height="3.0" fill="#a4a4a4" opacity="0.8"/><rect x="599.9" y="522.6" width="5.9" height="3.0" fill="#909090" opacity="0.8"/><rect x="606.8" y="521.8" width="5.7" height="3.0" fill="#dadada" opacity="0.8"/><rect x="623.6" y="521.2" width="3.5" height="3.0" fill="#999999" opacity="0.8"/><rect x="635.7" y="522.6" width="5.8" height="3.0" fill="#c2c2c2" opacity="0.8"/><rect x="650.7" y="521.2" width="6.4" height="3.0" fill="#cbcbcb" opacity="0.8"/><rect x="658.1" y="522.6" width="3.6" height="3.0" fill="#aaaaaa" opacity="0.8"/><rect x="664.0" y="522.6" width="3.9" height="3.0" fill="#a4a4a4" opacity="0.8"/><rect x="684.1" y="521.8" width="5.6" height="3.0" fill="#c0c0c0" opacity="0.8"/><rect x="698.5" y="522.6" width="1.5" height="3.0" fill="#b8b8b8" opacity="0.8"/><rect x="701.7" y="522.6" width="3.8" height="3.0" fill="#9c9c9c" opacity="0.8"/><rect x="707.3" y="522.6" width="4.1" height="3.0" fill="#c8c8c8" opacity="0.8"/><rect x="712.8" y="521.8" width="1.9" height="3.0" fill="#aeaeae" opacity="0.8"/><rect x="730.8" y="522.6" width="6.5" height="3.0" fill="#aeaeae" opacity="0.8"/><rect x="754.5" y="522.6" width="3.2" height="3.0" fill="#e1e1e1" opacity="0.8"/><rect x="769.3" y="522.6" width="5.1" height="3.0" fill="#a1a1a1" opacity="0.8"/><rect x="781.3" y="522.6" width="6.7" height="3.0" fill="#a2a2a2" opacity="0.8"/><rect x="803.7" y="522.6" width="2.9" height="3.0" fill="#dddddd" opacity="0.8"/><rect x="840.6" y="522.6" width="4.6" height="3.0" fill="#adadad" opacity="0.8"/><rect x="847.0" y="522.6" width="4.6" height="3.0" fill="#8d8d8d" opacity="0.8"/><rect x="852.0" y="522.6" width="6.6" height="3.0" fill="#c8c8c8" opacity="0.8"/><rect x="861.1" y="521.8" width="1.9" height="3.0" fill="#9c9c9c" opacity="0.8"/><rect x="879.7" y="522.6" width="2.9" height="3.0" fill="#8d8d8d" opacity="0.8"/><rect x="893.5" y="522.6" width="5.0" height="3.0" fill="#969696" opacity="0.8"/><rect x="900.9" y="521.8" width="5.1" height="3.0" fill="#afafaf" opacity="0.8"/><rect x="906.0" y="521.8" width="2.9" height="3.0" fill="#dadada" opacity="0.8"/><rect x="922.6" y="521.2" width="4.4" height="3.0" fill="#c8c8c8" opacity="0.8"/><rect x="931.5" y="522.6" width="6.0" height="3.0" fill="#b8b8b8" opacity="0.8"/><rect x="938.4" y="521.8" width="5.6" height="3.0" fill="#b5b5b5" opacity="0.8"/><rect x="945.5" y="521.2" width="5.9" height="3.0" fill="#bebebe" opacity="0.8"/><rect x="976.3" y="522.6" width="2.1" height="3.0" fill="#aeaeae" opacity="0.8"/><rect x="979.6" y="522.6" width="6.4" height="3.0" fill="#ababab" opacity="0.8"/><rect x="986.9" y="522.6" width="3.9" height="3.0" fill="#acacac" opacity="0.8"/><rect x="993.4" y="522.6" width="2.8" height="3.0" fill="#a9a9a9" opacity="0.8"/><rect x="1001.5" y="521.2" width="5.6" height="3.0" fill="#c7c7c7" opacity="0.8"/><rect x="1007.8" y="522.6" width="2.8" height="3.0" fill="#b7b7b7" opacity="0.8"/><rect x="1026.6" y="522.6" width="4.8" height="3.0" fill="#a7a7a7" opacity="0.8"/><rect x="1031.9" y="522.6" width="6.9" height="3.0" fill="#999999" opacity="0.8"/><rect x="1040.8" y="522.6" width="2.6" height="3.0" fill="#d0d0d0" opacity="0.8"/><rect x="1045.6" y="522.6" width="3.9" height="3.0" fill="#a3a3a3" opacity="0.8"/><rect x="1052.1" y="521.2" width="4.1" height="3.0" fill="#c7c7c7" opacity="0.8"/><rect x="1099.8" y="521.8" width="5.0" height="3.0" fill="#a1a1a1" opacity="0.8"/><rect x="1106.9" y="521.2" width="6.4" height="3.0" fill="#c9c9c9" opacity="0.8"/><rect x="1115.3" y="521.2" width="2.9" height="3.0" fill="#8c8c8c" opacity="0.8"/><rect x="1120.7" y="522.6" width="4.4" height="3.0" fill="#d9d9d9" opacity="0.8"/><rect x="1130.3" y="522.6" width="2.1" height="3.0" fill="#989898" opacity="0.8"/><rect x="1134.8" y="522.6" width="6.7" height="3.0" fill="#d4d4d4" opacity="0.8"/><rect x="1142.8" y="522.6" width="2.6" height="3.0" fill="#c2c2c2" opacity="0.8"/><rect x="1147.9" y="521.2" width="4.4" height="3.0" fill="#9d9d9d" opacity="0.8"/><rect x="540" y="451.5" width="470" height="72.5" fill="#505050" opacity="0.12"/><rect x="540" y="467.6" width="470" height="56.4" fill="#505050" opacity="0.10"/><rect x="1090" y="520.5" width="64" height="3" fill="#999999" opacity="0.6"/><rect x="719.3" y="450.6" width="1.1" height="10.0" fill="#494949" opacity="0.45"/><rect x="992.8" y="462.9" width="1.1" height="8.9" fill="#494949" opacity="0.45"/><rect x="664.8" y="461.6" width="1.1" height="8.2" fill="#494949" opacity="0.45"/><rect x="731.4" y="461.0" width="1.1" height="19.2" fill="#494949" opacity="0.45"/><rect x="700.7" y="465.7" width="1.1" height="11.6" fill="#494949" opacity="0.45"/><rect x="880.6" y="445.3" width="1.1" height="16.4" fill="#494949" opacity="0.45"/><rect x="639.1" y="449.5" width="1.1" height="14.3" fill="#494949" opacity="0.45"/><rect x="635.9" y="469.8" width="1.1" height="20.4" fill="#494949" opacity="0.45"/><rect x="912.0" y="454.5" width="1.1" height="15.5" fill="#494949" opacity="0.45"/><rect x="797.7" y="466.8" width="1.1" height="23.4" fill="#494949" opacity="0.45"/><rect x="701.1" y="454.4" width="1.1" height="21.1" fill="#494949" opacity="0.45"/><rect x="915.1" y="459.5" width="1.1" height="12.7" fill="#494949" opacity="0.45"/><rect x="791.3" y="469.9" width="1.1" height="21.3" fill="#494949" opacity="0.45"/><rect x="701.9" y="448.0" width="1.1" height="12.3" fill="#494949" opacity="0.45"/><rect x="711.8" y="466.0" width="1.1" height="14.8" fill="#494949" opacity="0.45"/><rect x="623.9" y="473.6" width="1.1" height="19.5" fill="#494949" opacity="0.45"/><rect x="667.9" y="466.3" width="1.1" height="12.8" fill="#494949" opacity="0.45"/><rect x="759.6" y="460.7" width="1.1" height="18.2" fill="#494949" opacity="0.45"/><rect x="842.6" y="462.7" width="1.1" height="22.9" fill="#494949" opacity="0.45"/><rect x="932.8" y="471.9" width="1.1" height="21.2" fill="#494949" opacity="0.45"/><rect x="956.5" y="450.0" width="1.1" height="10.2" fill="#494949" opacity="0.45"/><rect x="922.1" y="454.5" width="1.1" height="8.2" fill="#494949" opacity="0.45"/><rect x="543.3" y="444.9" width="1.1" height="18.5" fill="#494949" opacity="0.45"/><rect x="653.5" y="470.6" width="1.1" height="10.3" fill="#494949" opacity="0.45"/><rect x="645.9" y="450.2" width="1.1" height="13.5" fill="#494949" opacity="0.45"/><rect x="608.5" y="446.4" width="1.1" height="20.7" fill="#494949" opacity="0.45"/><rect x="615.6" y="446.8" width="1.1" height="17.7" fill="#494949" opacity="0.45"/><rect x="899.0" y="453.5" width="1.1" height="22.3" fill="#494949" opacity="0.45"/><rect x="902.1" y="448.3" width="1.1" height="11.2" fill="#494949" opacity="0.45"/><rect x="858.1" y="457.6" width="1.1" height="19.9" fill="#494949" opacity="0.45"/><rect x="740.6" y="447.0" width="1.1" height="16.9" fill="#494949" opacity="0.45"/><rect x="660.2" y="466.6" width="1.1" height="10.2" fill="#494949" opacity="0.45"/><rect x="765.8" y="471.9" width="1.1" height="15.5" fill="#494949" opacity="0.45"/><rect x="604.7" y="458.8" width="1.1" height="16.0" fill="#494949" opacity="0.45"/><rect x="787.3" y="447.6" width="1.1" height="8.1" fill="#494949" opacity="0.45"/><rect x="926.4" y="459.5" width="1.1" height="17.0" fill="#494949" opacity="0.45"/><rect x="845.4" y="448.3" width="1.1" height="14.0" fill="#494949" opacity="0.45"/><rect x="731.5" y="444.7" width="1.1" height="9.2" fill="#494949" opacity="0.45"/><rect x="832.3" y="454.5" width="1.1" height="8.5" fill="#494949" opacity="0.45"/><rect x="819.7" y="453.1" width="1.1" height="22.9" fill="#494949" opacity="0.45"/><rect x="690.7" y="444.0" width="1.1" height="16.2" fill="#494949" opacity="0.45"/><rect x="761.9" y="446.6" width="1.1" height="8.5" fill="#494949" opacity="0.45"/><rect x="869.8" y="454.8" width="1.1" height="13.4" fill="#494949" opacity="0.45"/><rect x="936.1" y="462.6" width="1.1" height="15.6" fill="#494949" opacity="0.45"/><rect x="780.8" y="450.4" width="1.1" height="11.4" fill="#494949" opacity="0.45"/><rect x="739.1" y="460.9" width="1.1" height="16.9" fill="#494949" opacity="0.45"/><rect x="919.9" y="464.8" width="1.1" height="21.2" fill="#494949" opacity="0.45"/><rect x="724.5" y="458.5" width="1.1" height="12.3" fill="#494949" opacity="0.45"/><rect x="772.0" y="444.2" width="1.1" height="18.5" fill="#494949" opacity="0.45"/><rect x="903.9" y="463.7" width="1.1" height="13.1" fill="#494949" opacity="0.45"/><rect x="676.2" y="456.0" width="1.1" height="18.2" fill="#494949" opacity="0.45"/><rect x="900.3" y="472.5" width="1.1" height="19.6" fill="#494949" opacity="0.45"/><rect x="947.1" y="457.2" width="1.1" height="8.8" fill="#494949" opacity="0.45"/><rect x="676.8" y="473.5" width="1.1" height="11.0" fill="#494949" opacity="0.45"/><rect x="963.7" y="455.3" width="1.1" height="18.5" fill="#494949" opacity="0.45"/><rect x="902.5" y="446.2" width="1.1" height="17.8" fill="#494949" opacity="0.45"/><rect x="822.9" y="454.7" width="1.1" height="19.1" fill="#494949" opacity="0.45"/><rect x="813.5" y="453.1" width="1.1" height="11.4" fill="#494949" opacity="0.45"/><rect x="846.2" y="459.8" width="1.1" height="20.2" fill="#494949" opacity="0.45"/><rect x="584.8" y="468.2" width="1.1" height="8.6" fill="#494949" opacity="0.45"/><rect x="895.8" y="446.1" width="1.1" height="18.5" fill="#494949" opacity="0.45"/><rect x="708.4" y="448.8" width="1.1" height="20.6" fill="#494949" opacity="0.45"/><rect x="797.7" y="465.9" width="1.1" height="12.8" fill="#494949" opacity="0.45"/><rect x="732.9" y="464.0" width="1.1" height="14.9" fill="#494949" opacity="0.45"/><rect x="834.5" y="445.5" width="1.1" height="8.9" fill="#494949" opacity="0.45"/><rect x="800.2" y="472.5" width="1.1" height="9.9" fill="#494949" opacity="0.45"/><rect x="912.4" y="456.3" width="1.1" height="22.7" fill="#494949" opacity="0.45"/><rect x="744.3" y="473.2" width="1.1" height="14.2" fill="#494949" opacity="0.45"/><rect x="811.5" y="445.4" width="1.1" height="23.7" fill="#494949" opacity="0.45"/><rect x="757.7" y="461.2" width="1.1" height="9.6" fill="#494949" opacity="0.45"/><rect x="835.8" y="467.3" width="1.1" height="10.4" fill="#494949" opacity="0.45"/><rect x="545.2" y="473.5" width="1.1" height="18.9" fill="#494949" opacity="0.45"/><rect x="594.2" y="444.5" width="1.1" height="9.4" fill="#494949" opacity="0.45"/><rect x="939.7" y="469.8" width="1.1" height="8.3" fill="#494949" opacity="0.45"/><rect x="870.3" y="466.3" width="1.1" height="19.7" fill="#494949" opacity="0.45"/><rect x="624.6" y="472.1" width="1.1" height="20.4" fill="#494949" opacity="0.45"/><rect x="867.7" y="447.8" width="1.1" height="19.7" fill="#494949" opacity="0.45"/><rect x="576.9" y="454.7" width="1.1" height="19.3" fill="#494949" opacity="0.45"/><rect x="750.8" y="445.5" width="1.1" height="12.1" fill="#494949" opacity="0.45"/><rect x="983.5" y="452.0" width="1.1" height="8.2" fill="#494949" opacity="0.45"/><rect x="544.8" y="454.0" width="1.1" height="21.1" fill="#494949" opacity="0.45"/><rect x="574.8" y="464.3" width="1.1" height="19.7" fill="#494949" opacity="0.45"/><rect x="614.7" y="447.7" width="1.1" height="15.8" fill="#494949" opacity="0.45"/><rect x="565.6" y="462.6" width="1.1" height="17.2" fill="#494949" opacity="0.45"/><rect x="740.7" y="453.2" width="1.1" height="10.3" fill="#494949" opacity="0.45"/><rect x="906.4" y="462.7" width="1.1" height="18.3" fill="#494949" opacity="0.45"/><rect x="828.9" y="461.0" width="1.1" height="14.2" fill="#494949" opacity="0.45"/><rect x="901.2" y="445.1" width="1.1" height="20.6" fill="#494949" opacity="0.45"/><rect x="799.9" y="464.8" width="1.1" height="9.0" fill="#494949" opacity="0.45"/><rect x="988.0" y="452.4" width="1.1" height="21.2" fill="#494949" opacity="0.45"/><rect x="691.4" y="455.4" width="1.1" height="23.6" fill="#494949" opacity="0.45"/><rect x="922.1" y="455.5" width="1.1" height="12.9" fill="#494949" opacity="0.45"/><rect x="736.0" y="446.9" width="1.1" height="14.0" fill="#494949" opacity="0.45"/><rect x="854.4" y="455.5" width="1.1" height="22.3" fill="#494949" opacity="0.45"/><rect x="911.1" y="465.1" width="1.1" height="8.0" fill="#494949" opacity="0.45"/><rect x="659.5" y="460.9" width="1.1" height="17.4" fill="#494949" opacity="0.45"/><rect x="915.0" y="446.9" width="1.1" height="8.7" fill="#494949" opacity="0.45"/><rect x="923.0" y="449.2" width="1.1" height="21.9" fill="#494949" opacity="0.45"/><rect x="802.2" y="465.4" width="1.1" height="21.6" fill="#494949" opacity="0.45"/><rect x="910.8" y="453.0" width="1.1" height="22.6" fill="#494949" opacity="0.45"/><rect x="698.2" y="471.1" width="1.1" height="16.9" fill="#494949" opacity="0.45"/><rect x="906.4" y="467.6" width="1.1" height="20.0" fill="#494949" opacity="0.45"/><rect x="968.5" y="466.6" width="1.1" height="17.7" fill="#494949" opacity="0.45"/><rect x="851.1" y="459.6" width="1.1" height="11.3" fill="#494949" opacity="0.45"/><rect x="655.7" y="451.0" width="1.1" height="20.7" fill="#494949" opacity="0.45"/><rect x="750.4" y="471.0" width="1.1" height="20.9" fill="#494949" opacity="0.45"/><rect x="894.7" y="466.6" width="1.1" height="17.3" fill="#494949" opacity="0.45"/><rect x="952.4" y="446.9" width="1.1" height="16.3" fill="#494949" opacity="0.45"/><rect x="758.2" y="455.9" width="1.1" height="11.0" fill="#494949" opacity="0.45"/><rect x="626.8" y="468.2" width="1.1" height="19.2" fill="#494949" opacity="0.45"/><rect x="705.6" y="456.6" width="1.1" height="14.4" fill="#494949" opacity="0.45"/><rect x="777.0" y="469.2" width="1.1" height="8.7" fill="#494949" opacity="0.45"/><rect x="998.7" y="462.4" width="1.1" height="9.7" fill="#494949" opacity="0.45"/><rect x="830.3" y="449.9" width="1.1" height="10.5" fill="#494949" opacity="0.45"/><rect x="813.9" y="463.3" width="1.1" height="16.3" fill="#494949" opacity="0.45"/><rect x="547.5" y="472.6" width="1.1" height="23.8" fill="#494949" opacity="0.45"/><rect x="938.1" y="459.0" width="1.1" height="17.1" fill="#494949" opacity="0.45"/><rect x="658.9" y="450.1" width="1.1" height="14.8" fill="#494949" opacity="0.45"/><rect x="975.3" y="450.5" width="1.1" height="21.1" fill="#494949" opacity="0.45"/><rect x="983.1" y="466.0" width="1.1" height="8.6" fill="#494949" opacity="0.45"/><rect x="630.9" y="468.2" width="1.1" height="9.3" fill="#494949" opacity="0.45"/><rect x="561.6" y="456.8" width="1.1" height="21.9" fill="#494949" opacity="0.45"/><rect x="749.7" y="445.1" width="1.1" height="22.6" fill="#494949" opacity="0.45"/><rect x="567.7" y="455.6" width="1.1" height="14.4" fill="#494949" opacity="0.45"/><rect x="593.4" y="444.7" width="1.1" height="12.1" fill="#494949" opacity="0.45"/><rect x="1102.1" y="454.3" width="1.1" height="23.3" fill="#494949" opacity="0.45"/><rect x="1113.7" y="461.8" width="1.1" height="15.2" fill="#494949" opacity="0.45"/><rect x="1057.6" y="444.5" width="1.1" height="23.9" fill="#494949" opacity="0.45"/><rect x="1064.4" y="472.5" width="1.1" height="12.1" fill="#494949" opacity="0.45"/><rect x="1078.7" y="446.4" width="1.1" height="22.5" fill="#494949" opacity="0.45"/><rect x="1132.1" y="472.2" width="1.1" height="20.6" fill="#494949" opacity="0.45"/><rect x="1118.1" y="454.1" width="1.1" height="23.8" fill="#494949" opacity="0.45"/><rect x="1046.1" y="469.3" width="1.1" height="20.1" fill="#494949" opacity="0.45"/><rect x="1143.3" y="453.2" width="1.1" height="12.8" fill="#494949" opacity="0.45"/><rect x="1105.1" y="450.8" width="1.1" height="9.7" fill="#494949" opacity="0.45"/><rect x="1075.6" y="465.9" width="1.1" height="10.0" fill="#494949" opacity="0.45"/><rect x="1092.9" y="468.6" width="1.1" height="11.8" fill="#494949" opacity="0.45"/><rect x="1055.7" y="453.2" width="1.1" height="8.2" fill="#494949" opacity="0.45"/><rect x="1118.9" y="467.8" width="1.1" height="8.6" fill="#494949" opacity="0.45"/><rect x="1142.0" y="467.0" width="1.1" height="22.9" fill="#494949" opacity="0.45"/><rect x="1135.3" y="446.8" width="1.1" height="10.2" fill="#494949" opacity="0.45"/><rect x="1089.2" y="470.7" width="1.1" height="22.9" fill="#494949" opacity="0.45"/><rect x="1132.6" y="454.7" width="1.1" height="15.2" fill="#494949" opacity="0.45"/><rect x="1077.4" y="448.8" width="1.1" height="15.6" fill="#494949" opacity="0.45"/><rect x="1109.1" y="469.4" width="1.1" height="11.5" fill="#494949" opacity="0.45"/><rect x="1046.2" y="452.1" width="1.1" height="16.9" fill="#494949" opacity="0.45"/><rect x="1055.9" y="447.4" width="1.1" height="12.3" fill="#494949" opacity="0.45"/><rect x="1085.3" y="469.0" width="1.1" height="12.3" fill="#494949" opacity="0.45"/><rect x="1132.4" y="463.6" width="1.1" height="10.7" fill="#494949" opacity="0.45"/><rect x="1094.0" y="464.1" width="1.1" height="22.5" fill="#494949" opacity="0.45"/></g>
</g>
<g clip-path="url(#c2)"><rect x="165" y="507.07" width="989" height="1.6" fill="#01b8c9" opacity="0.95"/><rect x="165" y="486.95" width="989" height="1.6" fill="#06b5cf" opacity="0.95"/><rect x="165" y="466.93" width="989" height="1.4" fill="#2a92ee" opacity="0.85"/><rect x="165" y="446.85" width="989" height="1.3" fill="#307ffb" opacity="0.70"/><rect x="165" y="426.77" width="989" height="1.2" fill="#406cfe" opacity="0.50"/><rect x="165" y="406.65" width="989" height="1.2" fill="#4465fd" opacity="0.50"/><rect x="165" y="497.31" width="989" height="1.0" fill="#2d8cf3" opacity="0.60"/><rect x="165" y="463.10" width="989" height="1.0" fill="#317dfc" opacity="0.55"/><rect x="165" y="517.44" width="989" height="1.0" fill="#22a2e4" opacity="0.40"/><rect x="165" y="477.19" width="989" height="1.0" fill="#317dfc" opacity="0.30"/><polyline points="189.6,511.2 191.9,511.2 194.2,511.2 196.5,511.2 198.8,511.1 201.1,511.1 203.4,511.2 205.7,511.1 207.9,511.0 210.2,510.8 212.5,510.8 214.8,510.8 217.1,510.8 219.4,510.7 221.7,510.8 224.0,510.9 226.3,510.9 228.6,510.8 230.9,510.7 233.2,510.7 235.5,510.7 237.8,510.6 240.1,510.5 242.3,510.5 244.6,510.7 246.9,510.8 249.2,510.7 251.5,510.7 253.8,510.7 256.1,510.7 258.4,510.6 260.7,510.5 263.0,510.6 265.3,510.7 267.6,510.8 269.9,510.8 272.2,510.8 274.5,510.9 276.7,511.0 279.0,510.9 281.3,510.8 283.6,510.8 285.9,510.9 288.2,511.0 290.5,511.1 292.8,511.1 295.1,511.2 297.4,511.4 299.7,511.4 302.0,511.3 304.3,511.3 306.6,511.3 308.9,511.4 311.1,511.4 313.4,511.4 315.7,511.5 318.0,511.6 320.3,511.6 322.6,511.5 324.9,511.5 327.2,511.5" fill="none" stroke="#13b0d7" stroke-width="1.4" opacity="0.95"/><polyline points="327.2,511.0 329.3,511.0 331.5,511.0 333.6,511.0 335.8,511.1 337.9,511.1 340.0,511.1 342.2,511.2 344.3,511.2 346.5,511.2 348.6,511.3 350.7,511.3 352.9,511.3 355.0,511.3 357.2,511.4 359.3,511.4 361.4,511.4 363.6,511.5 365.7,511.5 367.9,511.5 370.0,511.5" fill="none" stroke="#1fa5e2" stroke-width="1.2" opacity="0.8"/><polyline points="189.6,494.5 191.9,494.5 194.2,494.4 196.5,494.3 198.8,494.5 201.1,494.5 203.4,494.2 205.7,493.9 207.9,493.7 210.2,493.8 212.5,493.7 214.8,493.6 217.1,493.5 219.4,493.7 221.7,493.9 224.0,493.8 226.3,493.5 228.6,493.3 230.9,493.4 233.2,493.3 235.5,493.1 237.8,493.0 240.1,493.2 242.3,493.5 244.6,493.5 246.9,493.4 249.2,493.3 251.5,493.4 253.8,493.3 256.1,493.1 258.4,493.0 260.7,493.2 263.0,493.5 265.3,493.6 267.6,493.6 269.9,493.6 272.2,493.8 274.5,493.8 276.7,493.7 279.0,493.5 281.3,493.6 283.6,493.9 285.9,494.0 288.2,494.1 290.5,494.2 292.8,494.5 295.1,494.7 297.4,494.5 299.7,494.4 302.0,494.4 304.3,494.6 306.6,494.7 308.9,494.8 311.1,494.8 313.4,495.1 315.7,495.3 318.0,495.2 320.3,495.0 322.6,494.9 324.9,495.0 327.2,494.9" fill="none" stroke="#19acdc" stroke-width="1.4" opacity="0.95"/><polyline points="327.2,493.9 329.3,494.0 331.5,494.0 333.6,494.1 335.8,494.2 337.9,494.2 340.0,494.3 342.2,494.3 344.3,494.4 346.5,494.5 348.6,494.5 350.7,494.6 352.9,494.6 355.0,494.7 357.2,494.7 359.3,494.8 361.4,494.9 363.6,494.9 365.7,495.0 367.9,495.0 370.0,495.1" fill="none" stroke="#23a0e5" stroke-width="1.2" opacity="0.8"/><polyline points="189.6,477.9 191.9,477.7 194.2,477.8 196.5,477.9 198.8,477.8 201.1,477.3 203.4,476.8 205.7,476.8 207.9,476.8 210.2,476.7 212.5,476.5 214.8,476.6 217.1,476.9 219.4,476.9 221.7,476.5 224.0,476.2 226.3,476.1 228.6,476.1 230.9,475.9 233.2,475.6 235.5,475.7 237.8,476.1 240.1,476.3 242.3,476.2 244.6,476.0 246.9,476.0 249.2,476.0 251.5,475.8 253.8,475.5 256.1,475.5 258.4,475.9 260.7,476.3 263.0,476.3 265.3,476.3 267.6,476.4 269.9,476.6 272.2,476.5 274.5,476.2 276.7,476.1 279.0,476.4 281.3,476.8 283.6,476.9 285.9,477.0 288.2,477.3 290.5,477.7 292.8,477.7 295.1,477.4 297.4,477.3 299.7,477.6 302.0,477.9 304.3,477.9 306.6,478.0 308.9,478.4 311.1,478.8 313.4,478.9 315.7,478.6 318.0,478.3 320.3,478.3 322.6,478.4 324.9,478.2 327.2,478.1" fill="none" stroke="#1ea8e0" stroke-width="1.4" opacity="0.95"/><polyline points="327.2,476.9 329.3,477.0 331.5,477.1 333.6,477.1 335.8,477.2 337.9,477.3 340.0,477.4 342.2,477.5 344.3,477.6 346.5,477.7 348.6,477.8 350.7,477.9 352.9,477.9 355.0,478.0 357.2,478.1 359.3,478.2 361.4,478.3 363.6,478.4 365.7,478.5 367.9,478.6 370.0,478.6" fill="none" stroke="#259be8" stroke-width="1.2" opacity="0.8"/><polyline points="189.6,461.2 191.9,461.4 194.2,461.5 196.5,461.0 198.8,460.2 201.1,459.9 203.4,460.0 205.7,459.9 207.9,459.7 210.2,459.5 212.5,459.8 214.8,460.1 217.1,459.9 219.4,459.2 221.7,458.9 224.0,458.9 226.3,458.8 228.6,458.4 230.9,458.3 233.2,458.6 235.5,459.1 237.8,459.1 240.1,458.8 242.3,458.6 244.6,458.6 246.9,458.6 249.2,458.2 251.5,457.9 253.8,458.2 256.1,458.8 258.4,459.0 260.7,458.9 263.0,458.9 265.3,459.2 267.6,459.3 269.9,458.9 272.2,458.6 274.5,458.8 276.7,459.3 279.0,459.7 281.3,459.7 283.6,459.9 285.9,460.5 288.2,460.8 290.5,460.5 292.8,460.2 295.1,460.2 297.4,460.7 299.7,461.0 302.0,461.0 304.3,461.3 306.6,462.0 308.9,462.5 311.1,462.3 313.4,461.8 315.7,461.7 318.0,461.8 320.3,461.8 322.6,461.5 324.9,461.5 327.2,462.0" fill="none" stroke="#21a3e3" stroke-width="1.4" opacity="0.95"/><polyline points="327.2,459.8 329.3,460.0 331.5,460.1 333.6,460.2 335.8,460.3 337.9,460.4 340.0,460.6 342.2,460.7 344.3,460.8 346.5,460.9 348.6,461.0 350.7,461.1 352.9,461.3 355.0,461.4 357.2,461.5 359.3,461.6 361.4,461.7 363.6,461.8 365.7,462.0 367.9,462.1 370.0,462.2" fill="none" stroke="#2896eb" stroke-width="1.2" opacity="0.8"/><polyline points="189.6,445.1 191.9,444.9 194.2,444.0 196.5,443.3 198.8,443.1 201.1,443.3 203.4,443.1 205.7,442.8 207.9,442.9 210.2,443.3 212.5,443.3 214.8,442.7 217.1,441.9 219.4,441.7 221.7,441.8 224.0,441.5 226.3,441.1 228.6,441.2 230.9,441.8 233.2,442.1 235.5,441.8 237.8,441.3 240.1,441.2 242.3,441.3 244.6,441.0 246.9,440.5 249.2,440.4 251.5,441.1 253.8,441.7 256.1,441.7 258.4,441.5 260.7,441.7 263.0,441.9 265.3,441.7 267.6,441.2 269.9,441.0 272.2,441.6 274.5,442.2 276.7,442.5 279.0,442.5 281.3,442.9 283.6,443.5 285.9,443.6 288.2,443.1 290.5,442.8 292.8,443.2 295.1,443.7 297.4,444.0 299.7,444.1 302.0,444.7 304.3,445.5 306.6,445.8 308.9,445.5 311.1,445.0 313.4,445.1 315.7,445.2 318.0,445.1 320.3,444.9 322.6,445.2 324.9,445.9 327.2,446.3" fill="none" stroke="#249ee6" stroke-width="1.4" opacity="0.95"/><polyline points="327.2,442.8 329.3,443.0 331.5,443.1 333.6,443.2 335.8,443.4 337.9,443.5 340.0,443.7 342.2,443.8 344.3,444.0 346.5,444.1 348.6,444.3 350.7,444.4 352.9,444.6 355.0,444.7 357.2,444.9 359.3,445.0 361.4,445.1 363.6,445.3 365.7,445.4 367.9,445.6 370.0,445.7" fill="none" stroke="#2b90ef" stroke-width="1.2" opacity="0.8"/><polyline points="189.6,428.2 191.9,427.0 194.2,426.5 196.5,426.6 198.8,426.7 201.1,426.3 203.4,426.1 205.7,426.4 207.9,426.8 210.2,426.4 212.5,425.4 214.8,424.7 217.1,424.7 219.4,424.7 221.7,424.2 224.0,423.9 226.3,424.3 228.6,425.0 230.9,425.0 233.2,424.4 235.5,423.9 237.8,423.9 240.1,423.8 242.3,423.3 244.6,422.8 246.9,423.2 249.2,424.1 251.5,424.5 253.8,424.3 256.1,424.1 258.4,424.4 260.7,424.5 263.0,424.0 265.3,423.4 267.6,423.6 269.9,424.5 272.2,425.1 274.5,425.1 276.7,425.3 279.0,425.9 281.3,426.4 283.6,426.0 285.9,425.4 288.2,425.5 290.5,426.2 292.8,426.7 295.1,426.9 297.4,427.2 299.7,428.1 302.0,428.9 304.3,428.8 306.6,428.3 308.9,428.2 311.1,428.5 313.4,428.6 315.7,428.4 318.0,428.3 320.3,429.0 322.6,429.8 324.9,429.8 327.2,429.2" fill="none" stroke="#2699ea" stroke-width="1.4" opacity="0.95"/><polyline points="327.2,425.8 329.3,425.9 331.5,426.1 333.6,426.3 335.8,426.5 337.9,426.6 340.0,426.8 342.2,427.0 344.3,427.2 346.5,427.4 348.6,427.5 350.7,427.7 352.9,427.9 355.0,428.1 357.2,428.2 359.3,428.4 361.4,428.6 363.6,428.8 365.7,428.9 367.9,429.1 370.0,429.3" fill="none" stroke="#2d8bf4" stroke-width="1.2" opacity="0.8"/><polyline points="189.6,410.1 191.9,409.9 194.2,410.2 196.5,410.1 198.8,409.6 201.1,409.6 203.4,410.2 205.7,410.2 207.9,409.3 210.2,408.1 212.5,407.7 214.8,407.8 217.1,407.5 219.4,407.0 221.7,407.0 224.0,407.7 226.3,408.2 228.6,407.7 230.9,406.9 233.2,406.6 235.5,406.6 237.8,406.3 240.1,405.6 242.3,405.5 244.6,406.3 246.9,407.2 249.2,407.2 251.5,406.7 253.8,406.7 256.1,407.0 258.4,406.8 260.7,406.0 263.0,405.7 265.3,406.5 267.6,407.4 269.9,407.8 272.2,407.7 274.5,408.1 276.7,408.8 279.0,408.9 281.3,408.2 283.6,407.8 285.9,408.3 288.2,409.2 290.5,409.6 292.8,409.7 295.1,410.4 297.4,411.5 299.7,412.0 302.0,411.5 304.3,411.0 306.6,411.3 308.9,412.0 311.1,412.0 313.4,411.7 315.7,412.0 318.0,413.0 320.3,413.5 322.6,413.1 324.9,412.4 327.2,412.3" fill="none" stroke="#2a93ed" stroke-width="1.4" opacity="0.95"/><polyline points="327.2,408.7 329.3,408.9 331.5,409.1 333.6,409.3 335.8,409.6 337.9,409.8 340.0,410.0 342.2,410.2 344.3,410.4 346.5,410.6 348.6,410.8 350.7,411.0 352.9,411.2 355.0,411.4 357.2,411.6 359.3,411.8 361.4,412.0 363.6,412.2 365.7,412.4 367.9,412.6 370.0,412.8" fill="none" stroke="#2e85f8" stroke-width="1.2" opacity="0.8"/><path d="M327.5 437.4 V511.9 M370 457.6 V511.9" stroke="#2e87f7" stroke-width="1" opacity="0.35"/><polyline points="499.0,517.6 500.1,516.9 501.3,516.5 502.4,516.1 503.6,515.7 504.8,515.4 505.9,515.1 507.1,514.9 508.2,514.6 509.4,514.4 510.5,514.1 511.6,513.9 512.8,513.6 514.0,513.4 515.1,513.2 516.2,513.0 517.4,512.8 518.5,512.5 519.7,512.3 520.9,512.1 522.0,511.9" fill="none" stroke="#249ee6" stroke-width="1.1" opacity="0.6"/><polyline points="499.0,507.2 500.1,505.8 501.3,504.9 502.4,504.2 503.6,503.5 504.8,502.9 505.9,502.3 507.1,501.7 508.2,501.2 509.4,500.7 510.5,500.2 511.6,499.7 512.8,499.3 514.0,498.8 515.1,498.4 516.2,497.9 517.4,497.5 518.5,497.1 519.7,496.7 520.9,496.3 522.0,495.9" fill="none" stroke="#2699e9" stroke-width="1.1" opacity="0.6"/><polyline points="499.0,496.7 500.1,494.6 501.3,493.4 502.4,492.2 503.6,491.2 504.8,490.3 505.9,489.4 507.1,488.6 508.2,487.8 509.4,487.1 510.5,486.3 511.6,485.6 512.8,484.9 514.0,484.2 515.1,483.6 516.2,482.9 517.4,482.3 518.5,481.6 519.7,481.0 520.9,480.4 522.0,479.8" fill="none" stroke="#2895ec" stroke-width="1.1" opacity="0.6"/><polyline points="499.0,486.3 500.1,483.5 501.3,481.8 502.4,480.3 503.6,479.0 504.8,477.8 505.9,476.6 507.1,475.5 508.2,474.4 509.4,473.4 510.5,472.4 511.6,471.5 512.8,470.5 514.0,469.6 515.1,468.7 516.2,467.9 517.4,467.0 518.5,466.2 519.7,465.4 520.9,464.6 522.0,463.8" fill="none" stroke="#2b90ef" stroke-width="1.1" opacity="0.6"/><polyline points="499.0,475.9 500.1,472.4 501.3,470.3 502.4,468.4 503.6,466.7 504.8,465.2 505.9,463.7 507.1,462.4 508.2,461.0 509.4,459.8 510.5,458.5 511.6,457.3 512.8,456.2 514.0,455.0 515.1,453.9 516.2,452.8 517.4,451.8 518.5,450.7 519.7,449.7 520.9,448.7 522.0,447.7" fill="none" stroke="#2d8cf3" stroke-width="1.1" opacity="0.6"/><polyline points="499.0,465.5 500.1,461.3 501.3,458.7 502.4,456.5 503.6,454.5 504.8,452.6 505.9,450.9 507.1,449.2 508.2,447.6 509.4,446.1 510.5,444.6 511.6,443.2 512.8,441.8 514.0,440.4 515.1,439.1 516.2,437.8 517.4,436.5 518.5,435.3 519.7,434.0 520.9,432.8 522.0,431.6" fill="none" stroke="#2e87f7" stroke-width="1.1" opacity="0.6"/><polyline points="499.0,455.0 500.1,450.2 501.3,447.2 502.4,444.6 503.6,442.2 504.8,440.1 505.9,438.0 507.1,436.1 508.2,434.3 509.4,432.5 510.5,430.7 511.6,429.1 512.8,427.4 514.0,425.9 515.1,424.3 516.2,422.8 517.4,421.3 518.5,419.8 519.7,418.4 520.9,417.0 522.0,415.6" fill="none" stroke="#2f82fa" stroke-width="1.1" opacity="0.6"/><rect x="532.0" y="490.5" width="60.0" height="34.0" fill="url(#glow)"/><rect x="984.0" y="474.5" width="56.0" height="50.0" fill="url(#glow)"/><rect x="530.1" y="490.5" width="1.3" height="34.0" fill="url(#stk)" opacity="0.8"/><rect x="532.4" y="510.5" width="1.3" height="14.0" fill="url(#stk)" opacity="0.8"/><rect x="540.4" y="512.5" width="1.3" height="12.0" fill="url(#stk)" opacity="0.8"/><rect x="543.4" y="506.5" width="1.3" height="18.0" fill="url(#stk)" opacity="0.8"/><rect x="546.4" y="446.5" width="1.3" height="78.0" fill="url(#stk)" opacity="0.8"/><rect x="545.4" y="494.5" width="1.3" height="30.0" fill="url(#stk)" opacity="0.8"/><rect x="547.6" y="490.5" width="1.3" height="34.0" fill="url(#stk)" opacity="0.8"/><rect x="549.9" y="502.5" width="1.3" height="22.0" fill="url(#stk)" opacity="0.8"/><rect x="551.4" y="496.5" width="1.3" height="28.0" fill="url(#stk)" opacity="0.8"/><rect x="553.4" y="506.5" width="1.3" height="18.0" fill="url(#stk)" opacity="0.8"/><rect x="555.4" y="480.5" width="1.3" height="44.0" fill="url(#stk)" opacity="0.8"/><rect x="557.9" y="502.5" width="1.3" height="22.0" fill="url(#stk)" opacity="0.8"/><rect x="560.4" y="498.5" width="1.3" height="26.0" fill="url(#stk)" opacity="0.8"/><rect x="562.9" y="508.5" width="1.3" height="16.0" fill="url(#stk)" opacity="0.8"/><rect x="565.4" y="502.5" width="1.3" height="22.0" fill="url(#stk)" opacity="0.8"/><rect x="568.4" y="510.5" width="1.3" height="14.0" fill="url(#stk)" opacity="0.8"/><rect x="573.0" y="480.5" width="1.3" height="44.0" fill="url(#stk)" opacity="0.8"/><rect x="575.4" y="508.5" width="1.3" height="16.0" fill="url(#stk)" opacity="0.8"/><rect x="580.1" y="490.5" width="1.3" height="34.0" fill="url(#stk)" opacity="0.8"/><rect x="583.4" y="510.5" width="1.3" height="14.0" fill="url(#stk)" opacity="0.8"/><rect x="587.4" y="506.5" width="1.3" height="18.0" fill="url(#stk)" opacity="0.8"/><rect x="596.4" y="512.5" width="1.3" height="12.0" fill="url(#stk)" opacity="0.8"/><rect x="606.4" y="515.5" width="1.3" height="9.0" fill="url(#stk)" opacity="0.8"/><rect x="1008.9" y="384.5" width="1.3" height="140.0" fill="url(#stk)" opacity="0.8"/><rect x="1007.6" y="464.5" width="1.3" height="60.0" fill="url(#stk)" opacity="0.8"/><rect x="1010.1" y="474.5" width="1.3" height="50.0" fill="url(#stk)" opacity="0.8"/><rect x="989.4" y="460.5" width="1.3" height="64.0" fill="url(#stk)" opacity="0.8"/><rect x="993.6" y="484.5" width="1.3" height="40.0" fill="url(#stk)" opacity="0.8"/><rect x="995.9" y="502.5" width="1.3" height="22.0" fill="url(#stk)" opacity="0.8"/><rect x="998.4" y="498.5" width="1.3" height="26.0" fill="url(#stk)" opacity="0.8"/><rect x="1000.8" y="478.5" width="1.3" height="46.0" fill="url(#stk)" opacity="0.8"/><rect x="1002.9" y="496.5" width="1.3" height="28.0" fill="url(#stk)" opacity="0.8"/><rect x="1004.4" y="488.5" width="1.3" height="36.0" fill="url(#stk)" opacity="0.8"/><rect x="1006.1" y="484.5" width="1.3" height="40.0" fill="url(#stk)" opacity="0.8"/><rect x="1011.9" y="488.5" width="1.3" height="36.0" fill="url(#stk)" opacity="0.8"/><rect x="1013.4" y="484.5" width="1.3" height="40.0" fill="url(#stk)" opacity="0.8"/><rect x="1015.9" y="498.5" width="1.3" height="26.0" fill="url(#stk)" opacity="0.8"/><rect x="1017.9" y="494.5" width="1.3" height="30.0" fill="url(#stk)" opacity="0.8"/><rect x="1019.6" y="482.5" width="1.3" height="42.0" fill="url(#stk)" opacity="0.8"/><rect x="1021.9" y="498.5" width="1.3" height="26.0" fill="url(#stk)" opacity="0.8"/><rect x="1023.9" y="494.5" width="1.3" height="30.0" fill="url(#stk)" opacity="0.8"/><rect x="1025.8" y="478.5" width="1.3" height="46.0" fill="url(#stk)" opacity="0.8"/><rect x="1027.8" y="494.5" width="1.3" height="30.0" fill="url(#stk)" opacity="0.8"/><rect x="1029.8" y="482.5" width="1.3" height="42.0" fill="url(#stk)" opacity="0.8"/><rect x="1032.3" y="502.5" width="1.3" height="22.0" fill="url(#stk)" opacity="0.8"/><rect x="1034.9" y="500.5" width="1.3" height="24.0" fill="url(#stk)" opacity="0.8"/><rect x="1037.3" y="512.5" width="1.3" height="12.0" fill="url(#stk)" opacity="0.8"/><path d="M1041.0 500.7 Q 1060.0 503.0 1068.0 516.0" fill="none" stroke="#02b7cb" stroke-width="1.3" opacity="0.85"/><path d="M1046.0 475.0 Q 1062.0 481.0 1068.0 492.0" fill="none" stroke="#12b1d6" stroke-width="1.3" opacity="0.85"/><path d="M1043.0 448.0 Q 1060.0 455.0 1068.0 466.0" fill="none" stroke="#1caadf" stroke-width="1.3" opacity="0.85"/><path d="M1047.0 425.0 Q 1060.0 433.0 1068.0 446.0" fill="none" stroke="#249ee6" stroke-width="1.3" opacity="0.85"/><path d="M1050.0 405.0 Q 1060.0 413.0 1066.0 422.0" fill="none" stroke="#2e87f7" stroke-width="1.3" opacity="0.85"/></g>
<path d="M165 528.5 H1155" stroke="#111" stroke-width="1"/>
<text class="tk" x="156.2" y="534.70" text-anchor="end">0</text>
<text class="tk" x="156.2" y="494.45" text-anchor="end">20</text>
<text class="tk" x="156.2" y="454.20" text-anchor="end">40</text>
<text class="tk" x="156.2" y="413.95" text-anchor="end">60</text>
<text class="tk" x="156.2" y="373.70" text-anchor="end">80</text>
<text class="yl" transform="translate(92.2,449.7) rotate(-90)">Inboard Sensor</text>
<text class="yl" transform="translate(118,447.2) rotate(-90)">Frequency (Hz)</text>
<path d="M247.5 603.5 V762.5" stroke="#dcdcdc" stroke-width="1"/>
<path d="M534.5 603.5 V762.5" stroke="#dcdcdc" stroke-width="1"/>
<path d="M821.5 603.5 V762.5" stroke="#dcdcdc" stroke-width="1"/>
<path d="M1109.5 603.5 V762.5" stroke="#dcdcdc" stroke-width="1"/>
<path d="M165.5 683.5 H1154.5" stroke="#dcdcdc" stroke-width="1"/>
<rect x="165.5" y="603.5" width="989.0" height="159.0" fill="none" stroke="#262626" stroke-width="1"/>
<path d="M247.5 762.5 v-10 M247.5 603.5 v10 M534.5 762.5 v-10 M534.5 603.5 v10 M821.5 762.5 v-10 M821.5 603.5 v10 M1109.5 762.5 v-10 M1109.5 603.5 v10 M165.5 683.5 h10 M1154.5 683.5 h-10" stroke="#262626" stroke-width="1" fill="none"/>
<text class="tk" x="156.4" y="769.20" text-anchor="end">2</text>
<text class="tk" x="156.4" y="690.20" text-anchor="end">4</text>
<text class="tk" x="156.4" y="610.20" text-anchor="end">6</text>
<text class="yl" transform="translate(105.3,683.0) rotate(-90)">Total Field</text>
<text class="yl" transform="translate(130.5,683.0) rotate(-90)">|B| (nT)</text>
<path d="M165.7 740.2 C168.1 741.9 175.6 747.8 180.4 750.4 C185.2 753.0 189.6 754.6 194.7 756.1 C199.8 757.6 204.9 758.4 211.0 759.1 C217.1 759.8 225.3 760.0 231.4 760.1 C237.5 760.2 241.9 759.9 247.7 759.7 C253.5 759.5 258.9 758.9 266.0 758.7 C273.1 758.5 281.7 758.6 290.5 758.5 C299.3 758.4 311.5 758.5 319.0 758.3 C326.5 758.1 329.6 757.9 335.4 757.1 C341.2 756.3 347.2 755.0 353.7 753.4 C360.1 751.8 367.3 749.7 374.1 747.3 C380.9 744.9 388.5 741.5 394.5 739.1 C400.5 736.8 404.0 735.4 410.0 733.2 C416.0 731.0 423.6 728.1 430.4 725.9 C437.2 723.7 444.0 721.8 450.8 720.2 C457.6 718.6 464.4 717.5 471.2 716.3 C478.0 715.1 484.8 714.1 491.6 713.2 C498.4 712.3 504.9 711.7 512.0 711.0 C519.1 710.3 527.6 709.6 534.4 709.0 C541.2 708.4 546.2 707.6 552.7 707.1 C559.2 706.6 566.3 706.1 573.1 705.7 C579.9 705.3 586.7 705.0 593.5 704.9 C600.3 704.8 607.1 704.8 613.9 705.1 C620.7 705.4 627.5 706.0 634.3 706.9 C641.1 707.8 648.8 709.5 654.7 710.6 C660.7 711.8 665.7 712.8 670.0 713.8 C674.3 714.8 675.3 715.2 680.4 716.8 C685.5 718.4 694.0 721.1 700.8 723.4 C707.6 725.7 714.4 728.1 721.2 730.5 C728.0 732.9 734.8 735.3 741.6 737.6 C748.4 739.9 755.2 742.5 762.0 744.4 C768.8 746.3 777.0 748.0 782.4 748.9 C787.8 749.8 790.5 749.9 794.6 749.9 C798.7 749.9 802.3 749.6 806.8 748.9 C811.3 748.2 815.6 747.8 821.7 745.6 C827.8 743.4 837.3 739.0 843.5 735.6 C849.7 732.2 853.1 729.7 858.8 725.4 C864.5 721.1 871.3 714.9 877.6 709.7 C883.9 704.5 891.2 698.4 896.5 694.0 C901.8 689.6 904.4 687.7 909.6 683.4 C914.8 679.1 921.6 673.2 927.8 668.3 C934.0 663.4 940.4 658.2 946.7 653.9 C953.0 649.6 959.2 645.7 965.5 642.6 C971.8 639.5 977.7 636.9 984.3 635.1 C990.9 633.3 998.7 632.1 1005.0 632.0 C1011.3 631.9 1016.0 632.7 1022.3 634.7 C1028.6 636.7 1035.9 639.5 1042.7 643.8 C1049.5 648.0 1056.3 653.9 1063.1 660.2 C1069.9 666.5 1075.8 673.2 1083.5 681.6 C1091.2 690.0 1102.6 703.2 1109.4 710.7 C1116.2 718.2 1118.4 720.7 1124.3 726.4 C1130.2 732.1 1139.7 740.5 1144.7 744.8 C1149.7 749.0 1152.9 750.7 1154.5 751.9" fill="none" stroke="#00d800" stroke-width="1.55"/>
<path d="M165.7 740.2 C168.1 741.9 175.6 747.8 180.4 750.4 C185.2 753.0 189.6 754.6 194.7 756.1 C199.8 757.6 204.9 758.4 211.0 759.1 C217.1 759.8 225.3 760.0 231.4 760.1 C237.5 760.2 241.9 759.9 247.7 759.7 C253.5 759.5 258.9 758.9 266.0 758.7 C273.1 758.5 281.7 758.6 290.5 758.5 C299.3 758.4 311.5 758.5 319.0 758.3 C326.5 758.1 329.6 757.9 335.4 757.1 C341.2 756.3 347.2 755.0 353.7 753.4 C360.1 751.8 367.3 749.7 374.1 747.3 C380.9 744.9 388.5 741.5 394.5 739.1 C400.5 736.8 404.0 735.4 410.0 733.2 C416.0 731.0 423.6 728.1 430.4 725.9 C437.2 723.7 444.0 721.8 450.8 720.2 C457.6 718.6 464.4 717.5 471.2 716.3 C478.0 715.1 484.8 714.1 491.6 713.2 C498.4 712.3 504.9 711.7 512.0 711.0 C519.1 710.3 527.6 709.6 534.4 709.0 C541.2 708.4 546.2 707.6 552.7 707.1 C559.2 706.6 566.3 706.1 573.1 705.7 C579.9 705.3 586.7 705.0 593.5 704.9 C600.3 704.8 607.1 704.8 613.9 705.1 C620.7 705.4 627.5 706.0 634.3 706.9 C641.1 707.8 648.8 709.5 654.7 710.6 C660.7 711.8 665.7 712.8 670.0 713.8 C674.3 714.8 675.3 715.2 680.4 716.8 C685.5 718.4 694.0 721.1 700.8 723.4 C707.6 725.7 714.4 728.1 721.2 730.5 C728.0 732.9 734.8 735.3 741.6 737.6 C748.4 739.9 755.2 742.5 762.0 744.4 C768.8 746.3 777.0 748.0 782.4 748.9 C787.8 749.8 790.5 749.9 794.6 749.9 C798.7 749.9 802.3 749.6 806.8 748.9 C811.3 748.2 815.6 747.8 821.7 745.6 C827.8 743.4 837.3 739.0 843.5 735.6 C849.7 732.2 853.1 729.7 858.8 725.4 C864.5 721.1 871.3 714.9 877.6 709.7 C883.9 704.5 891.2 698.4 896.5 694.0 C901.8 689.6 904.4 687.7 909.6 683.4 C914.8 679.1 921.6 673.2 927.8 668.3 C934.0 663.4 940.4 658.2 946.7 653.9 C953.0 649.6 959.2 645.7 965.5 642.6 C971.8 639.5 977.7 636.9 984.3 635.1 C990.9 633.3 998.7 632.1 1005.0 632.0 C1011.3 631.9 1016.0 632.7 1022.3 634.7 C1028.6 636.7 1035.9 639.5 1042.7 643.8 C1049.5 648.0 1056.3 653.9 1063.1 660.2 C1069.9 666.5 1075.8 673.2 1083.5 681.6 C1091.2 690.0 1102.6 703.2 1109.4 710.7 C1116.2 718.2 1118.4 720.7 1124.3 726.4 C1130.2 732.1 1139.7 740.5 1144.7 744.8 C1149.7 749.0 1152.9 750.7 1154.5 751.9" fill="none" stroke="#e81000" stroke-width="1.1"/>
<text class="tk" x="166.8" y="597.8" style="font-size:17.5px">×</text>
<text class="tk" x="183.9" y="597.2">10<tspan dx="0.5" dy="-8.6" style="font-size:16.7px">4</tspan></text>
<text class="lg" transform="translate(1170.3,648.5) rotate(-90)">Inboard</text>
<text class="lg" transform="translate(1182.3,662.4) rotate(-90)">Outboard</text>
<text class="lg" transform="translate(1194.5,636.7) rotate(-90)">Chaos</text>
<path d="M1165.0 719.0 V734.0" stroke="#0000ff" stroke-width="1.6"/>
<path d="M1180.0 719.0 V734.0" stroke="#00ff00" stroke-width="1.6"/>
<path d="M1192.0 719.0 V734.0" stroke="#ff0000" stroke-width="1.6"/>
<path d="M247.5 837.5 V999.5" stroke="#dcdcdc" stroke-width="1"/>
<path d="M534.5 837.5 V999.5" stroke="#dcdcdc" stroke-width="1"/>
<path d="M821.5 837.5 V999.5" stroke="#dcdcdc" stroke-width="1"/>
<path d="M1109.5 837.5 V999.5" stroke="#dcdcdc" stroke-width="1"/>
<path d="M165.5 918.5 H1154.5" stroke="#dcdcdc" stroke-width="1"/>
<rect x="165.5" y="837.5" width="989.0" height="162.0" fill="none" stroke="#262626" stroke-width="1"/>
<path d="M247.5 999.5 v-10 M247.5 837.5 v10 M534.5 999.5 v-10 M534.5 837.5 v10 M821.5 999.5 v-10 M821.5 837.5 v10 M1109.5 999.5 v-10 M1109.5 837.5 v10 M165.5 918.5 h10 M1154.5 918.5 h-10" stroke="#262626" stroke-width="1" fill="none"/>
<text class="tk" x="156.4" y="1006.20" text-anchor="end">-50</text>
<text class="tk" x="156.4" y="925.20" text-anchor="end">0</text>
<text class="tk" x="156.4" y="844.20" text-anchor="end">50</text>
<text class="yl" transform="translate(85.8,918.5) rotate(-90)">Model - Measured</text>
<text class="yl" transform="translate(111.2,918.5) rotate(-90)">|B| (nT)</text>
<clipPath id="c4"><rect x="165.0" y="837.5" width="990.0" height="162.0"/></clipPath>
<g clip-path="url(#c4)">
<polygon points="165.5,912.0 166.2,915.4 166.9,914.9 167.6,917.6 168.3,913.7 169.0,913.1 169.7,912.6 170.4,912.8 171.1,911.6 171.8,908.3 172.5,910.8 173.2,912.6 173.9,906.6 174.6,911.7 175.3,909.2 176.0,910.6 176.7,908.7 177.4,907.8 178.1,909.2 178.8,907.9 179.5,906.1 180.2,904.6 180.9,904.0 181.6,902.5 182.3,903.8 183.0,904.1 183.7,902.5 184.4,900.9 185.1,901.5 185.8,903.1 186.5,900.0 187.2,898.8 187.9,901.5 188.6,899.9 189.3,899.9 190.0,894.0 190.7,895.2 191.4,898.5 192.1,897.8 192.8,896.2 193.5,895.7 194.2,897.5 194.9,893.7 195.6,893.6 196.3,893.1 197.0,890.5 197.7,894.0 198.4,894.3 199.1,892.9 199.8,892.8 200.5,894.4 201.2,891.5 201.9,891.0 202.6,890.6 203.3,890.4 204.0,890.5 204.7,892.9 205.4,894.5 206.1,895.8 206.8,897.3 207.5,896.3 208.2,898.7 208.9,898.1 209.6,898.8 210.3,901.6 211.0,900.3 211.7,902.4 212.4,904.9 213.1,902.6 213.8,905.0 214.5,908.9 215.2,906.5 215.9,910.5 216.6,908.5 217.3,912.0 218.0,911.6 218.7,907.0 219.4,907.3 220.1,908.2 220.8,904.9 221.5,904.2 222.2,903.9 222.9,905.2 223.6,904.8 224.3,902.3 225.0,901.7 225.7,900.0 226.4,899.3 227.1,897.8 227.8,898.9 228.5,894.9 229.2,890.0 229.9,894.5 230.6,888.9 231.3,890.1 232.0,888.5 232.7,883.5 233.4,883.9 234.1,879.0 234.8,879.2 235.5,879.9 236.2,883.0 236.9,884.6 237.6,884.5 238.3,888.0 239.0,889.9 239.7,894.4 240.4,889.1 241.1,887.3 241.8,885.5 242.5,883.4 243.2,883.9 243.9,878.6 244.6,878.3 245.3,876.5 246.0,874.4 246.7,873.0 247.4,873.5 248.1,871.3 248.8,871.2 249.5,870.4 250.2,869.5 250.9,868.3 251.6,869.4 252.3,869.5 253.0,867.6 253.7,867.1 254.4,866.4 255.1,866.2 255.8,866.3 256.5,865.7 257.2,867.6 257.9,866.5 258.6,866.7 259.3,865.7 260.0,866.9 260.7,865.9 261.4,865.8 262.1,867.5 262.8,866.5 263.5,868.8 264.2,868.4 264.9,867.9 265.6,869.3 266.3,867.0 267.0,869.2 267.7,868.4 268.4,868.7 269.1,869.5 269.8,865.0 270.5,870.5 271.2,866.2 271.9,870.0 272.6,873.4 273.3,872.5 274.0,871.1 274.7,871.1 275.4,874.1 276.1,872.7 276.8,873.4 277.5,872.1 278.2,869.4 278.9,875.6 279.6,874.5 280.3,875.6 281.0,874.5 281.7,874.7 282.4,878.7 283.1,878.9 283.8,877.1 284.5,876.9 285.2,879.4 285.9,877.4 286.6,878.3 287.3,878.0 288.0,878.9 288.7,878.1 289.4,879.6 290.1,880.1 290.8,882.0 291.5,879.4 292.2,880.2 292.9,882.2 293.6,880.7 294.3,880.7 295.0,882.2 295.7,883.9 296.4,883.5 297.1,882.0 297.8,879.0 298.5,882.0 299.2,882.3 299.9,882.5 300.6,882.9 301.3,883.6 302.0,885.2 302.7,883.6 303.4,883.8 304.1,884.7 304.8,884.9 305.5,884.7 306.2,885.3 306.9,885.6 307.6,885.3 308.3,887.4 309.0,886.1 309.7,890.0 310.4,889.3 311.1,887.0 311.8,890.2 312.5,889.1 313.2,886.4 313.9,891.3 314.6,887.9 315.3,888.7 316.0,888.2 316.7,890.5 317.4,890.4 318.1,892.7 318.8,892.1 319.5,887.8 320.2,890.6 320.9,889.8 321.6,890.2 322.3,890.8 323.0,888.6 323.7,887.3 324.4,887.5 325.1,886.6 325.8,887.7 326.5,884.4 327.2,886.1 327.9,887.7 328.6,886.2 329.3,886.2 330.0,886.5 330.7,886.5 331.4,884.9 332.1,885.3 332.8,882.4 333.5,883.1 334.2,886.7 334.9,885.5 335.6,883.7 336.3,884.1 337.0,887.0 337.7,881.8 338.4,887.4 339.1,884.4 339.8,884.5 340.5,888.4 341.2,887.6 341.9,887.4 342.6,888.0 343.3,885.8 344.0,888.5 344.7,885.9 345.4,886.2 346.1,885.2 346.8,887.1 347.5,888.9 348.2,889.8 348.9,885.1 349.6,891.8 350.3,889.9 351.0,891.7 351.7,890.9 352.4,894.1 353.1,889.8 353.8,891.9 354.5,893.3 355.2,895.8 355.9,892.7 356.6,893.2 357.3,893.0 358.0,894.8 358.7,893.7 359.4,894.0 360.1,895.6 360.8,897.6 361.5,895.3 362.2,897.4 362.9,897.6 363.6,896.3 364.3,897.3 365.0,896.8 365.7,897.9 366.4,897.1 367.1,900.0 367.8,900.2 368.5,897.9 369.2,896.8 369.9,900.0 370.6,900.6 371.3,899.6 372.0,899.3 372.7,898.9 373.4,899.5 374.1,902.3 374.8,898.7 375.5,901.8 376.2,902.6 376.9,903.6 377.6,900.9 378.3,901.2 379.0,903.1 379.7,901.9 380.4,904.4 381.1,904.1 381.8,901.6 382.5,904.2 383.2,902.1 383.9,902.3 384.6,902.4 385.3,906.5 386.0,899.0 386.7,902.9 387.4,903.9 388.1,905.8 388.8,903.0 389.5,903.8 390.2,905.5 390.9,903.1 391.6,904.4 392.3,903.5 393.0,904.1 393.7,903.3 394.4,903.4 395.1,904.7 395.8,905.4 396.5,903.7 397.2,906.1 397.9,904.0 398.6,900.3 399.3,904.1 400.0,904.1 400.7,904.1 401.4,904.1 402.1,905.4 402.8,905.0 403.5,904.4 404.2,905.5 404.9,903.0 405.6,904.7 406.3,908.1 407.0,905.1 407.7,906.8 408.4,905.7 409.1,906.0 409.8,908.3 410.5,906.0 411.2,906.6 411.9,906.4 412.6,909.5 413.3,906.6 414.0,906.8 414.7,907.0 415.4,907.2 416.1,907.1 416.8,908.5 417.5,905.3 418.2,905.1 418.9,909.1 419.6,906.4 420.3,910.6 421.0,911.5 421.7,908.9 422.4,910.2 423.1,908.7 423.8,912.6 424.5,911.2 425.2,909.1 425.9,909.1 426.6,912.9 427.3,912.1 428.0,912.3 428.7,912.3 429.4,913.5 430.1,912.4 430.8,910.2 431.5,913.5 432.2,912.8 432.9,910.2 433.6,911.1 434.3,909.4 435.0,911.6 435.7,911.2 436.4,911.5 437.1,912.1 437.8,913.3 438.5,911.9 439.2,914.9 439.9,912.9 440.6,912.1 441.3,912.1 442.0,914.9 442.7,915.4 443.4,912.9 444.1,916.4 444.8,913.4 445.5,914.0 446.2,915.0 446.9,916.4 447.6,913.5 448.3,912.7 449.0,915.3 449.7,915.0 450.4,916.6 451.1,916.1 451.8,915.4 452.5,914.2 453.2,916.3 453.9,914.8 454.6,914.6 455.3,915.0 456.0,914.9 456.7,917.6 457.4,916.8 458.1,915.3 458.8,914.7 459.5,914.8 460.2,914.5 460.9,918.1 461.6,916.9 462.3,914.7 463.0,916.3 463.7,918.2 464.4,917.3 465.1,915.9 465.8,912.6 466.5,917.7 467.2,916.2 467.9,917.7 468.6,915.9 469.3,917.7 470.0,917.0 470.7,915.1 471.4,912.2 472.1,917.5 472.8,915.3 473.5,915.1 474.2,917.4 474.9,916.3 475.6,914.8 476.3,913.8 477.0,915.2 477.7,915.8 478.4,914.5 479.1,918.0 479.8,914.3 480.5,915.0 481.2,914.4 481.9,914.8 482.6,914.2 483.3,916.1 484.0,915.8 484.7,915.8 485.4,913.7 486.1,913.6 486.8,916.1 487.5,915.8 488.2,915.9 488.9,913.3 489.6,913.5 490.3,916.7 491.0,913.7 491.7,913.1 492.4,913.2 493.1,913.4 493.8,915.1 494.5,913.9 495.2,914.0 495.9,914.9 496.6,915.0 497.3,915.1 498.0,916.3 498.7,916.4 499.4,915.2 500.1,915.5 500.8,916.2 501.5,915.7 502.2,919.1 502.9,915.9 503.6,918.6 504.3,915.4 505.0,918.0 505.7,914.7 506.4,915.0 507.1,916.5 507.8,913.6 508.5,910.9 509.2,915.4 509.9,914.3 510.6,912.6 511.3,912.5 512.0,912.1 512.7,912.7 513.4,909.7 514.1,912.3 514.8,910.7 515.5,908.7 516.2,909.7 516.9,912.0 517.6,908.8 518.3,911.6 519.0,911.5 519.7,908.8 520.4,912.3 521.1,909.8 521.8,909.0 522.5,912.1 523.2,912.9 523.9,911.0 524.6,909.4 525.3,909.5 526.0,911.1 526.7,907.4 527.4,909.6 528.1,909.9 528.8,910.4 529.5,909.9 530.2,909.9 530.9,912.3 531.6,912.7 532.3,910.9 533.0,909.5 533.7,908.6 534.4,912.0 535.1,910.5 535.8,907.8 536.5,908.1 537.2,907.4 537.9,904.8 538.6,906.9 539.3,908.4 540.0,906.2 540.7,906.4 541.4,905.7 542.1,908.6 542.8,906.6 543.5,905.5 544.2,903.7 544.9,905.2 545.6,902.9 546.3,904.8 547.0,904.9 547.7,904.6 548.4,907.3 549.1,904.5 549.8,904.1 550.5,906.3 551.2,905.7 551.9,904.7 552.6,907.5 553.3,903.6 554.0,907.0 554.7,905.0 555.4,905.8 556.1,903.8 556.8,903.1 557.5,902.8 558.2,902.7 558.9,903.4 559.6,905.5 560.3,903.1 561.0,902.7 561.7,903.0 562.4,903.9 563.1,903.8 563.8,902.0 564.5,902.1 565.2,902.4 565.9,903.3 566.6,901.7 567.3,903.3 568.0,901.7 568.7,902.1 569.4,903.5 570.1,901.4 570.8,901.2 571.5,901.2 572.2,901.6 572.9,901.9 573.6,901.4 574.3,902.5 575.0,900.9 575.7,903.3 576.4,899.3 577.1,899.3 577.8,900.4 578.5,904.2 579.2,904.0 579.9,900.6 580.6,900.1 581.3,901.9 582.0,900.4 582.7,901.1 583.4,900.4 584.1,902.4 584.8,901.9 585.5,899.9 586.2,900.1 586.9,900.2 587.6,902.1 588.3,900.4 589.0,903.4 589.7,900.5 590.4,903.0 591.1,900.7 591.8,900.4 592.5,903.8 593.2,900.5 593.9,902.5 594.6,901.1 595.3,900.8 596.0,903.0 596.7,904.1 597.4,898.4 598.1,900.8 598.8,900.8 599.5,897.0 600.2,903.2 600.9,902.1 601.6,903.3 602.3,901.3 603.0,903.3 603.7,904.8 604.4,903.2 605.1,904.9 605.8,901.5 606.5,901.4 607.2,903.6 607.9,904.1 608.6,902.9 609.3,904.4 610.0,902.1 610.7,904.9 611.4,903.9 612.1,905.6 612.8,902.0 613.5,901.8 614.2,902.3 614.9,901.8 615.6,903.4 616.3,902.4 617.0,904.6 617.7,898.1 618.4,901.4 619.1,902.2 619.8,901.7 620.5,904.5 621.2,902.5 621.9,902.2 622.6,902.9 623.3,904.7 624.0,901.0 624.7,901.6 625.4,903.3 626.1,903.4 626.8,901.5 627.5,900.8 628.2,900.8 628.9,900.6 629.6,903.0 630.3,902.7 631.0,900.6 631.7,903.6 632.4,901.5 633.1,900.9 633.8,900.9 634.5,900.6 635.2,900.3 635.9,903.2 636.6,902.2 637.3,898.8 638.0,899.8 638.7,899.9 639.4,900.3 640.1,900.0 640.8,898.5 641.5,901.1 642.2,903.9 642.9,900.4 643.6,900.3 644.3,900.9 645.0,901.0 645.7,900.5 646.4,902.2 647.1,901.0 647.8,904.3 648.5,903.3 649.2,904.4 649.9,901.0 650.6,901.9 651.3,901.5 652.0,902.0 652.7,903.7 653.4,901.8 654.1,901.8 654.8,898.0 655.5,901.7 656.2,903.6 656.9,905.0 657.6,901.8 658.3,901.8 659.0,904.2 659.7,903.4 660.4,903.3 661.1,905.7 661.8,902.2 662.5,902.1 663.2,904.3 663.9,902.1 664.6,903.0 665.3,902.9 666.0,903.6 666.7,904.3 667.4,903.5 668.1,904.3 668.8,906.2 669.5,903.0 670.2,905.2 670.9,904.6 671.6,904.3 672.3,899.4 673.0,903.0 673.7,904.4 674.4,903.1 675.1,903.9 675.8,904.9 676.5,903.4 677.2,906.7 677.9,904.7 678.6,906.4 679.3,903.5 680.0,903.5 680.7,903.6 681.4,906.2 682.1,906.7 682.8,905.6 683.5,903.7 684.2,903.7 684.9,907.0 685.6,906.9 686.3,907.3 687.0,902.7 687.7,905.4 688.4,906.2 689.1,905.4 689.8,903.6 690.5,904.1 691.2,903.6 691.9,908.8 692.6,907.2 693.3,908.3 694.0,913.4 694.7,913.8 695.4,915.1 696.1,915.6 696.8,914.6 697.5,914.3 698.2,911.2 698.9,912.3 699.6,909.9 700.3,904.8 701.0,903.8 701.7,907.2 702.4,907.3 703.1,903.5 703.8,907.4 704.5,903.5 705.2,906.6 705.9,903.4 706.6,904.3 707.3,902.2 708.0,905.5 708.7,903.2 709.4,905.5 710.1,904.0 710.8,901.2 711.5,903.8 712.2,904.3 712.9,910.9 713.6,911.1 714.3,912.1 715.0,913.7 715.7,912.4 716.4,909.4 717.1,909.9 717.8,908.9 718.5,907.8 719.2,905.9 719.9,904.6 720.6,906.5 721.3,914.8 722.0,917.6 722.7,914.7 723.4,913.6 724.1,916.6 724.8,916.2 725.5,917.4 726.2,917.3 726.9,912.9 727.6,916.1 728.3,914.1 729.0,913.6 729.7,909.9 730.4,909.3 731.1,907.8 731.8,906.8 732.5,906.9 733.2,904.3 733.9,904.0 734.6,901.7 735.3,901.8 736.0,901.3 736.7,902.5 737.4,900.7 738.1,905.3 738.8,902.4 739.5,903.8 740.2,907.3 740.9,905.6 741.6,905.8 742.3,906.2 743.0,903.4 743.7,901.6 744.4,899.7 745.1,901.8 745.8,899.5 746.5,899.5 747.2,899.2 747.9,899.3 748.6,902.9 749.3,904.7 750.0,904.2 750.7,904.6 751.4,904.3 752.1,904.0 752.8,906.4 753.5,906.6 754.2,902.4 754.9,901.9 755.6,906.7 756.3,913.0 757.0,909.6 757.7,909.5 758.4,909.3 759.1,908.9 759.8,909.2 760.5,912.4 761.2,910.4 761.9,908.8 762.6,907.4 763.3,910.3 764.0,908.5 764.7,908.5 765.4,908.2 766.1,908.0 766.8,908.2 767.5,910.1 768.2,910.2 768.9,908.1 769.6,903.4 770.3,909.2 771.0,906.0 771.7,904.1 772.4,894.3 773.1,894.1 773.8,894.2 774.5,897.4 775.2,896.7 775.9,892.5 776.6,895.6 777.3,895.1 778.0,898.2 778.7,895.0 779.4,895.2 780.1,896.3 780.8,898.6 781.5,897.9 782.2,896.1 782.9,898.7 783.6,899.1 784.3,897.4 785.0,897.3 785.7,899.3 786.4,896.7 787.1,899.1 787.8,898.5 788.5,897.8 789.2,897.4 789.9,896.9 790.6,894.0 791.3,896.9 792.0,897.1 792.7,897.1 793.4,897.7 794.1,896.7 794.8,899.5 795.5,896.3 796.2,896.9 796.9,894.0 797.6,898.1 798.3,896.2 799.0,895.4 799.7,895.9 800.4,895.0 801.1,896.2 801.8,894.4 802.5,894.0 803.2,896.3 803.9,895.1 804.6,892.1 805.3,893.8 806.0,892.4 806.7,894.3 807.4,891.6 808.1,892.1 808.8,892.6 809.5,892.2 810.2,893.0 810.9,889.3 811.6,891.4 812.3,891.3 813.0,894.4 813.7,891.1 814.4,888.7 815.1,893.1 815.8,891.9 816.5,891.0 817.2,891.0 817.9,887.9 818.6,891.5 819.3,892.7 820.0,891.7 820.7,892.0 821.4,890.6 822.1,890.6 822.8,891.1 823.5,894.3 824.2,890.6 824.9,894.3 825.6,890.3 826.3,891.7 827.0,890.2 827.7,890.2 828.4,890.6 829.1,892.1 829.8,890.9 830.5,892.2 831.2,890.0 831.9,892.5 832.6,890.5 833.3,892.4 834.0,889.7 834.7,889.6 835.4,892.4 836.1,887.5 836.8,889.6 837.5,888.5 838.2,890.9 838.9,893.3 839.6,886.5 840.3,891.5 841.0,890.7 841.7,891.6 842.4,891.0 843.1,890.0 843.8,891.6 844.5,893.1 845.2,891.9 845.9,892.2 846.6,889.6 847.3,893.2 848.0,891.1 848.7,887.1 849.4,893.1 850.1,890.8 850.8,890.0 851.5,890.8 852.2,887.0 852.9,891.2 853.6,890.5 854.3,890.7 855.0,890.1 855.7,891.6 856.4,892.1 857.1,890.7 857.8,892.1 858.5,889.2 859.2,890.0 859.9,887.7 860.6,890.9 861.3,890.3 862.0,888.7 862.7,888.6 863.4,889.2 864.1,890.0 864.8,890.9 865.5,888.9 866.2,889.5 866.9,889.1 867.6,888.7 868.3,888.1 869.0,889.3 869.7,887.9 870.4,891.3 871.1,890.4 871.8,889.2 872.5,890.4 873.2,889.7 873.9,888.2 874.6,891.3 875.3,888.4 876.0,888.5 876.7,891.3 877.4,888.7 878.1,889.1 878.8,887.9 879.5,891.9 880.2,891.5 880.9,890.1 881.6,890.2 882.3,890.7 883.0,891.5 883.7,890.5 884.4,891.3 885.1,893.5 885.8,892.3 886.5,891.1 887.2,891.7 887.9,891.7 888.6,892.5 889.3,890.9 890.0,893.7 890.7,891.7 891.4,891.1 892.1,891.8 892.8,892.7 893.5,892.5 894.2,891.7 894.9,892.7 895.6,891.7 896.3,891.2 897.0,893.9 897.7,892.2 898.4,893.3 899.1,891.6 899.8,891.8 900.5,893.3 901.2,892.0 901.9,894.1 902.6,893.9 903.3,896.1 904.0,892.5 904.7,892.6 905.4,894.8 906.1,893.2 906.8,894.2 907.5,896.9 908.2,893.7 908.9,895.6 909.6,893.3 910.3,893.4 911.0,895.1 911.7,893.7 912.4,893.8 913.1,895.8 913.8,893.9 914.5,895.0 915.2,894.3 915.9,894.3 916.6,894.6 917.3,894.3 918.0,894.7 918.7,894.5 919.4,895.3 920.1,896.7 920.8,896.0 921.5,894.2 922.2,894.9 922.9,897.8 923.6,895.3 924.3,893.6 925.0,896.5 925.7,898.4 926.4,896.5 927.1,899.3 927.8,895.9 928.5,898.3 929.2,896.0 929.9,898.0 930.6,896.8 931.3,894.2 932.0,898.2 932.7,900.2 933.4,898.1 934.1,898.1 934.8,897.1 935.5,899.1 936.2,898.8 936.9,900.7 937.6,897.3 938.3,897.4 939.0,897.5 939.7,900.6 940.4,898.5 941.1,898.8 941.8,897.7 942.5,898.4 943.2,900.8 943.9,898.1 944.6,899.1 945.3,900.4 946.0,897.8 946.7,900.2 947.4,899.4 948.1,900.0 948.8,898.4 949.5,898.3 950.2,897.8 950.9,898.5 951.6,897.7 952.3,894.9 953.0,898.0 953.7,898.6 954.4,900.7 955.1,901.6 955.8,894.3 956.5,898.6 957.2,897.8 957.9,901.2 958.6,898.2 959.3,900.4 960.0,901.3 960.7,897.8 961.4,898.3 962.1,898.1 962.8,899.2 963.5,900.8 964.2,901.8 964.9,898.8 965.6,899.5 966.3,902.3 967.0,903.0 967.7,899.7 968.4,901.5 969.1,899.8 969.8,899.9 970.5,900.2 971.2,900.5 971.9,902.9 972.6,900.8 973.3,901.9 974.0,901.2 974.7,901.1 975.4,901.3 976.1,901.8 976.8,905.5 977.5,902.1 978.2,902.5 978.9,902.4 979.6,903.4 980.3,902.7 981.0,904.8 981.7,902.9 982.4,906.0 983.1,906.1 983.8,905.5 984.5,905.5 985.2,906.7 985.9,909.3 986.6,910.3 987.3,910.5 988.0,908.7 988.7,910.4 989.4,912.4 990.1,912.8 990.8,911.2 991.5,912.2 992.2,915.4 992.9,915.6 993.6,913.4 994.3,913.5 995.0,915.1 995.7,915.6 996.4,916.6 997.1,917.0 997.8,915.7 998.5,917.2 999.2,917.4 999.9,918.7 1000.6,919.8 1001.3,918.5 1002.0,921.8 1002.7,919.2 1003.4,920.4 1004.1,920.2 1004.8,919.1 1005.5,921.6 1006.2,920.4 1006.9,919.8 1007.6,919.3 1008.3,923.1 1009.0,919.5 1009.7,920.9 1010.4,921.7 1011.1,920.3 1011.8,920.2 1012.5,922.9 1013.2,922.5 1013.9,921.0 1014.6,921.1 1015.3,920.9 1016.0,920.9 1016.7,924.6 1017.4,922.3 1018.1,921.6 1018.8,925.0 1019.5,924.3 1020.2,922.0 1020.9,920.2 1021.6,918.5 1022.3,923.0 1023.0,923.2 1023.7,924.2 1024.4,923.2 1025.1,921.9 1025.8,925.2 1026.5,921.8 1027.2,921.7 1027.9,921.3 1028.6,921.9 1029.3,922.7 1030.0,921.3 1030.7,921.6 1031.4,921.7 1032.1,921.1 1032.8,924.3 1033.5,921.3 1034.2,921.6 1034.9,921.3 1035.6,923.8 1036.3,920.6 1037.0,922.3 1037.7,921.0 1038.4,918.7 1039.1,922.3 1039.8,917.6 1040.5,921.3 1041.2,923.2 1041.9,917.9 1042.6,920.4 1043.3,921.6 1044.0,919.9 1044.7,922.0 1045.4,918.6 1046.1,919.9 1046.8,919.3 1047.5,918.0 1048.2,917.8 1048.9,920.2 1049.6,917.4 1050.3,918.3 1051.0,917.6 1051.7,920.1 1052.4,920.6 1053.1,919.0 1053.8,919.3 1054.5,920.8 1055.2,920.8 1055.9,924.0 1056.6,922.7 1057.3,919.1 1058.0,923.9 1058.7,924.5 1059.4,923.7 1060.1,927.3 1060.8,924.2 1061.5,927.9 1062.2,923.5 1062.9,925.5 1063.6,925.9 1064.3,925.0 1065.0,927.0 1065.7,927.0 1066.4,927.4 1067.1,928.0 1067.8,929.2 1068.5,930.1 1069.2,926.1 1069.9,932.7 1070.6,930.3 1071.3,933.0 1072.0,931.9 1072.7,931.1 1073.4,931.7 1074.1,934.6 1074.8,932.0 1075.5,933.6 1076.2,930.8 1076.9,932.7 1077.6,934.0 1078.3,933.9 1079.0,935.8 1079.7,937.3 1080.4,935.2 1081.1,934.3 1081.8,936.4 1082.5,937.2 1083.2,938.4 1083.9,936.3 1084.6,935.4 1085.3,936.6 1086.0,935.9 1086.7,936.6 1087.4,938.9 1088.1,937.1 1088.8,937.5 1089.5,938.2 1090.2,934.9 1090.9,938.7 1091.6,937.5 1092.3,938.3 1093.0,940.0 1093.7,939.6 1094.4,938.3 1095.1,938.8 1095.8,938.0 1096.5,941.1 1097.2,938.3 1097.9,939.4 1098.6,939.9 1099.3,938.9 1100.0,939.6 1100.7,940.1 1101.4,940.3 1102.1,939.4 1102.8,940.3 1103.5,939.5 1104.2,939.6 1104.9,939.4 1105.6,939.4 1106.3,939.1 1107.0,941.0 1107.7,938.9 1108.4,941.5 1109.1,938.8 1109.8,941.1 1110.5,938.4 1111.2,936.9 1111.9,936.2 1112.6,935.8 1113.3,938.1 1114.0,935.7 1114.7,935.2 1115.4,935.4 1116.1,933.6 1116.8,932.1 1117.5,932.5 1118.2,928.6 1118.9,931.0 1119.6,929.2 1120.3,928.5 1121.0,928.1 1121.7,927.6 1122.4,928.8 1123.1,926.6 1123.8,927.4 1124.5,925.6 1125.2,926.3 1125.9,925.0 1126.6,924.2 1127.3,924.8 1128.0,923.3 1128.7,922.2 1129.4,923.9 1130.1,923.2 1130.8,924.5 1131.5,923.7 1132.2,919.9 1132.9,921.7 1133.6,919.8 1134.3,919.3 1135.0,921.1 1135.7,918.7 1136.4,921.7 1137.1,917.7 1137.8,917.1 1138.5,916.4 1139.2,919.6 1139.9,915.4 1140.6,914.9 1141.3,916.1 1142.0,914.0 1142.7,914.4 1143.4,914.1 1144.1,915.7 1144.8,912.2 1145.5,913.6 1146.2,913.1 1146.9,910.8 1147.6,910.7 1148.3,911.1 1149.0,908.9 1149.7,911.4 1150.4,905.1 1151.1,909.3 1151.8,906.5 1152.5,907.6 1153.2,906.5 1153.9,904.9 1154.6,904.9 1154.6,930.3 1153.9,927.9 1153.2,928.2 1152.5,931.4 1151.8,934.8 1151.1,933.2 1150.4,934.1 1149.7,931.7 1149.0,934.5 1148.3,936.0 1147.6,939.3 1146.9,938.9 1146.2,936.9 1145.5,940.3 1144.8,938.9 1144.1,940.3 1143.4,947.6 1142.7,941.1 1142.0,943.3 1141.3,943.2 1140.6,942.9 1139.9,944.5 1139.2,945.7 1138.5,947.7 1137.8,946.4 1137.1,945.9 1136.4,947.0 1135.7,947.8 1135.0,949.3 1134.3,948.1 1133.6,949.9 1132.9,947.8 1132.2,951.4 1131.5,951.4 1130.8,953.6 1130.1,952.8 1129.4,953.4 1128.7,952.9 1128.0,954.4 1127.3,954.0 1126.6,954.9 1125.9,955.0 1125.2,953.0 1124.5,955.2 1123.8,957.3 1123.1,957.3 1122.4,957.9 1121.7,963.3 1121.0,956.6 1120.3,957.5 1119.6,960.2 1118.9,958.5 1118.2,959.8 1117.5,962.4 1116.8,962.4 1116.1,963.6 1115.4,963.3 1114.7,965.1 1114.0,965.3 1113.3,968.6 1112.6,964.1 1111.9,967.8 1111.2,966.9 1110.5,967.0 1109.8,969.7 1109.1,968.6 1108.4,969.6 1107.7,969.1 1107.0,970.6 1106.3,970.1 1105.6,969.1 1104.9,968.7 1104.2,974.2 1103.5,970.2 1102.8,967.1 1102.1,968.5 1101.4,966.6 1100.7,969.9 1100.0,969.3 1099.3,969.9 1098.6,969.8 1097.9,968.1 1097.2,969.2 1096.5,969.2 1095.8,969.0 1095.1,968.7 1094.4,966.1 1093.7,966.1 1093.0,968.4 1092.3,964.4 1091.6,964.9 1090.9,967.6 1090.2,966.3 1089.5,969.6 1088.8,966.0 1088.1,966.5 1087.4,967.0 1086.7,966.3 1086.0,965.2 1085.3,965.1 1084.6,965.9 1083.9,965.4 1083.2,967.6 1082.5,965.0 1081.8,962.9 1081.1,962.7 1080.4,963.7 1079.7,960.5 1079.0,962.8 1078.3,962.6 1077.6,963.0 1076.9,960.8 1076.2,963.0 1075.5,961.0 1074.8,964.7 1074.1,960.0 1073.4,960.3 1072.7,959.1 1072.0,959.4 1071.3,960.3 1070.6,960.3 1069.9,960.1 1069.2,959.7 1068.5,957.5 1067.8,957.7 1067.1,955.9 1066.4,958.0 1065.7,955.0 1065.0,956.7 1064.3,956.9 1063.6,958.7 1062.9,956.2 1062.2,955.4 1061.5,954.2 1060.8,954.8 1060.1,954.7 1059.4,954.3 1058.7,953.7 1058.0,953.2 1057.3,952.8 1056.6,953.1 1055.9,951.5 1055.2,950.6 1054.5,948.8 1053.8,949.5 1053.1,949.3 1052.4,949.8 1051.7,946.1 1051.0,948.2 1050.3,948.0 1049.6,948.3 1048.9,946.0 1048.2,948.0 1047.5,945.0 1046.8,949.0 1046.1,948.7 1045.4,949.3 1044.7,946.1 1044.0,948.9 1043.3,949.7 1042.6,948.9 1041.9,947.6 1041.2,949.7 1040.5,950.2 1039.8,953.6 1039.1,949.1 1038.4,946.9 1037.7,949.3 1037.0,947.2 1036.3,949.7 1035.6,947.5 1034.9,951.5 1034.2,951.0 1033.5,952.0 1032.8,952.2 1032.1,952.3 1031.4,950.6 1030.7,952.3 1030.0,952.7 1029.3,953.0 1028.6,953.3 1027.9,953.3 1027.2,953.3 1026.5,953.0 1025.8,953.2 1025.1,953.0 1024.4,951.4 1023.7,952.7 1023.0,954.4 1022.3,952.3 1021.6,954.6 1020.9,956.6 1020.2,953.9 1019.5,954.2 1018.8,950.5 1018.1,952.7 1017.4,955.0 1016.7,953.6 1016.0,952.4 1015.3,949.7 1014.6,950.0 1013.9,951.7 1013.2,951.5 1012.5,951.9 1011.8,949.8 1011.1,952.6 1010.4,950.4 1009.7,950.9 1009.0,951.0 1008.3,953.9 1007.6,951.2 1006.9,949.0 1006.2,951.1 1005.5,950.2 1004.8,955.7 1004.1,954.4 1003.4,948.3 1002.7,948.0 1002.0,950.8 1001.3,949.1 1000.6,949.5 999.9,949.3 999.2,949.1 998.5,945.8 997.8,947.5 997.1,948.3 996.4,946.3 995.7,949.1 995.0,946.0 994.3,951.0 993.6,943.4 992.9,943.9 992.2,945.4 991.5,945.0 990.8,941.9 990.1,942.1 989.4,940.2 988.7,942.5 988.0,938.8 987.3,939.9 986.6,937.1 985.9,939.8 985.2,937.9 984.5,938.3 983.8,937.6 983.1,936.9 982.4,936.2 981.7,935.2 981.0,936.5 980.3,934.1 979.6,936.6 978.9,934.8 978.2,934.6 977.5,938.1 976.8,932.8 976.1,934.3 975.4,932.5 974.7,930.2 974.0,930.1 973.3,931.1 972.6,933.6 971.9,931.0 971.2,933.0 970.5,930.5 969.8,933.1 969.1,932.5 968.4,932.0 967.7,932.6 967.0,931.4 966.3,931.7 965.6,931.4 964.9,931.7 964.2,931.9 963.5,931.7 962.8,931.4 962.1,931.2 961.4,931.4 960.7,930.7 960.0,927.7 959.3,931.2 958.6,930.1 957.9,929.2 957.2,930.0 956.5,928.2 955.8,929.2 955.1,929.3 954.4,928.4 953.7,930.8 953.0,931.1 952.3,931.0 951.6,928.3 950.9,930.0 950.2,931.4 949.5,930.6 948.8,930.6 948.1,930.1 947.4,929.6 946.7,930.3 946.0,929.3 945.3,930.6 944.6,929.0 943.9,929.2 943.2,929.4 942.5,931.4 941.8,930.9 941.1,930.3 940.4,929.7 939.7,930.6 939.0,930.1 938.3,929.2 937.6,927.4 936.9,936.0 936.2,929.6 935.5,930.7 934.8,930.8 934.1,932.7 933.4,930.6 932.7,930.5 932.0,929.8 931.3,933.7 930.6,927.8 929.9,934.3 929.2,927.8 928.5,932.7 927.8,933.3 927.1,929.5 926.4,926.5 925.7,929.8 925.0,933.2 924.3,929.3 923.6,928.1 922.9,929.1 922.2,927.5 921.5,928.0 920.8,928.5 920.1,928.8 919.4,928.8 918.7,928.9 918.0,928.7 917.3,930.5 916.6,928.4 915.9,927.2 915.2,926.1 914.5,927.9 913.8,927.8 913.1,926.6 912.4,929.8 911.7,926.5 911.0,926.7 910.3,927.1 909.6,924.8 908.9,925.9 908.2,924.6 907.5,930.0 906.8,924.0 906.1,924.5 905.4,926.0 904.7,925.5 904.0,925.5 903.3,923.9 902.6,924.7 901.9,924.6 901.2,924.6 900.5,924.1 899.8,928.1 899.1,923.8 898.4,922.1 897.7,924.0 897.0,920.7 896.3,923.6 895.6,922.7 894.9,922.4 894.2,922.8 893.5,922.6 892.8,925.8 892.1,921.9 891.4,919.3 890.7,922.9 890.0,922.8 889.3,920.0 888.6,919.7 887.9,918.9 887.2,919.2 886.5,921.4 885.8,920.2 885.1,919.1 884.4,918.3 883.7,921.1 883.0,919.0 882.3,918.5 881.6,918.8 880.9,919.4 880.2,921.4 879.5,919.4 878.8,920.5 878.1,920.9 877.4,924.6 876.7,920.8 876.0,920.5 875.3,918.3 874.6,920.3 873.9,919.3 873.2,917.5 872.5,916.8 871.8,917.3 871.1,920.0 870.4,921.8 869.7,917.2 869.0,919.7 868.3,919.6 867.6,920.7 866.9,916.0 866.2,919.1 865.5,918.9 864.8,915.6 864.1,918.7 863.4,918.9 862.7,917.4 862.0,922.8 861.3,917.8 860.6,915.2 859.9,914.9 859.2,915.4 858.5,916.5 857.8,918.5 857.1,918.4 856.4,919.3 855.7,917.2 855.0,917.9 854.3,918.5 853.6,918.5 852.9,914.7 852.2,918.4 851.5,914.4 850.8,916.6 850.1,918.0 849.4,917.5 848.7,917.4 848.0,918.0 847.3,914.1 846.6,918.0 845.9,917.7 845.2,917.5 844.5,915.5 843.8,914.4 843.1,916.7 842.4,914.3 841.7,916.4 841.0,917.4 840.3,916.4 839.6,914.7 838.9,916.9 838.2,916.4 837.5,917.1 836.8,919.2 836.1,916.7 835.4,916.8 834.7,917.1 834.0,915.9 833.3,914.2 832.6,916.7 831.9,914.0 831.2,914.9 830.5,913.2 829.8,917.0 829.1,915.4 828.4,916.4 827.7,915.2 827.0,915.4 826.3,916.9 825.6,914.1 824.9,915.4 824.2,914.4 823.5,913.9 822.8,916.4 822.1,916.1 821.4,914.5 820.7,916.6 820.0,916.7 819.3,915.4 818.6,916.5 817.9,918.5 817.2,913.8 816.5,916.4 815.8,916.3 815.1,916.2 814.4,916.3 813.7,915.2 813.0,915.7 812.3,914.7 811.6,914.9 810.9,915.6 810.2,912.7 809.5,915.2 808.8,915.0 808.1,914.2 807.4,913.0 806.7,919.6 806.0,911.9 805.3,913.3 804.6,911.4 803.9,910.4 803.2,911.1 802.5,907.5 801.8,912.0 801.1,908.9 800.4,908.9 799.7,907.0 799.0,906.1 798.3,906.6 797.6,910.5 796.9,914.5 796.2,910.7 795.5,910.7 794.8,914.1 794.1,918.4 793.4,918.4 792.7,919.2 792.0,918.2 791.3,918.4 790.6,918.1 789.9,920.2 789.2,921.1 788.5,921.3 787.8,920.5 787.1,919.8 786.4,919.4 785.7,920.7 785.0,922.1 784.3,921.6 783.6,922.3 782.9,922.2 782.2,919.0 781.5,920.6 780.8,921.8 780.1,922.4 779.4,918.7 778.7,920.4 778.0,922.0 777.3,919.9 776.6,919.5 775.9,922.6 775.2,922.7 774.5,920.3 773.8,923.3 773.1,923.9 772.4,923.3 771.7,923.4 771.0,925.1 770.3,926.1 769.6,925.1 768.9,923.0 768.2,925.7 767.5,925.9 766.8,925.6 766.1,926.7 765.4,926.8 764.7,926.3 764.0,928.0 763.3,926.3 762.6,926.1 761.9,925.8 761.2,926.6 760.5,927.9 759.8,925.7 759.1,926.9 758.4,928.7 757.7,928.3 757.0,925.9 756.3,928.8 755.6,922.9 754.9,920.4 754.2,916.5 753.5,920.4 752.8,917.6 752.1,919.9 751.4,918.1 750.7,920.5 750.0,917.5 749.3,924.9 748.6,920.0 747.9,919.2 747.2,919.6 746.5,922.5 745.8,924.4 745.1,925.7 744.4,929.8 743.7,928.5 743.0,931.7 742.3,926.9 741.6,928.9 740.9,928.0 740.2,924.7 739.5,926.4 738.8,923.4 738.1,922.5 737.4,920.6 736.7,926.6 736.0,925.4 735.3,927.4 734.6,930.6 733.9,930.0 733.2,931.9 732.5,931.2 731.8,931.7 731.1,931.1 730.4,931.8 729.7,932.1 729.0,931.7 728.3,932.1 727.6,933.5 726.9,934.4 726.2,932.8 725.5,932.3 724.8,932.7 724.1,932.7 723.4,933.6 722.7,929.6 722.0,932.7 721.3,926.6 720.6,924.0 719.9,923.5 719.2,923.6 718.5,923.2 717.8,925.2 717.1,925.8 716.4,922.9 715.7,924.6 715.0,924.6 714.3,925.7 713.6,930.0 712.9,930.9 712.2,935.6 711.5,936.1 710.8,940.0 710.1,935.5 709.4,936.3 708.7,935.6 708.0,936.2 707.3,936.5 706.6,935.2 705.9,935.1 705.2,936.2 704.5,934.4 703.8,932.5 703.1,935.9 702.4,936.4 701.7,940.1 701.0,933.4 700.3,933.7 699.6,936.9 698.9,938.7 698.2,934.4 697.5,934.6 696.8,935.4 696.1,932.7 695.4,931.4 694.7,927.5 694.0,923.8 693.3,928.4 692.6,932.4 691.9,934.7 691.2,934.3 690.5,936.2 689.8,936.5 689.1,936.2 688.4,933.7 687.7,935.2 687.0,936.6 686.3,935.0 685.6,937.2 684.9,936.5 684.2,936.4 683.5,937.3 682.8,935.3 682.1,937.4 681.4,941.8 680.7,935.8 680.0,933.5 679.3,935.1 678.6,936.7 677.9,934.7 677.2,933.7 676.5,935.5 675.8,937.2 675.1,935.1 674.4,936.8 673.7,940.5 673.0,934.8 672.3,933.6 671.6,936.9 670.9,936.6 670.2,934.5 669.5,936.3 668.8,933.2 668.1,935.6 667.4,936.8 666.7,936.8 666.0,936.7 665.3,933.2 664.6,933.6 663.9,935.9 663.2,936.6 662.5,936.5 661.8,932.8 661.1,935.8 660.4,934.7 659.7,936.3 659.0,939.8 658.3,932.8 657.6,933.5 656.9,935.6 656.2,932.2 655.5,935.4 654.8,935.2 654.1,932.6 653.4,931.9 652.7,934.9 652.0,934.6 651.3,933.8 650.6,933.9 649.9,933.9 649.2,933.5 648.5,933.2 647.8,934.5 647.1,933.2 646.4,931.0 645.7,931.4 645.0,934.1 644.3,933.4 643.6,932.1 642.9,932.5 642.2,932.9 641.5,933.6 640.8,933.5 640.1,932.9 639.4,931.2 638.7,932.6 638.0,933.4 637.3,930.1 636.6,931.6 635.9,933.6 635.2,932.7 634.5,931.8 633.8,934.0 633.1,932.6 632.4,934.1 631.7,930.6 631.0,934.3 630.3,931.4 629.6,934.4 628.9,930.9 628.2,933.5 627.5,934.4 626.8,934.3 626.1,934.8 625.4,934.5 624.7,935.1 624.0,933.8 623.3,933.4 622.6,935.2 621.9,934.5 621.2,935.5 620.5,933.5 619.8,934.1 619.1,935.2 618.4,935.9 617.7,935.6 617.0,935.9 616.3,935.7 615.6,936.2 614.9,932.8 614.2,933.6 613.5,935.3 612.8,934.7 612.1,934.3 611.4,936.1 610.7,935.7 610.0,937.7 609.3,933.6 608.6,933.1 607.9,937.3 607.2,935.8 606.5,933.3 605.8,935.9 605.1,936.1 604.4,934.0 603.7,934.7 603.0,932.9 602.3,932.3 601.6,935.3 600.9,933.3 600.2,937.6 599.5,937.5 598.8,933.7 598.1,935.1 597.4,935.6 596.7,934.4 596.0,935.3 595.3,935.4 594.6,934.9 593.9,936.0 593.2,934.8 592.5,932.7 591.8,935.7 591.1,938.7 590.4,933.6 589.7,935.6 589.0,935.5 588.3,934.0 587.6,935.6 586.9,935.3 586.2,934.2 585.5,933.8 584.8,932.9 584.1,935.4 583.4,933.4 582.7,935.5 582.0,934.7 581.3,935.5 580.6,939.3 579.9,935.3 579.2,936.0 578.5,936.2 577.8,936.1 577.1,936.4 576.4,936.4 575.7,935.2 575.0,934.4 574.3,935.2 573.6,933.2 572.9,937.1 572.2,935.2 571.5,935.9 570.8,937.3 570.1,937.3 569.4,937.1 568.7,934.0 568.0,937.1 567.3,937.8 566.6,937.1 565.9,937.2 565.2,941.1 564.5,936.4 563.8,938.3 563.1,937.2 562.4,937.6 561.7,937.7 561.0,938.5 560.3,940.1 559.6,935.4 558.9,938.5 558.2,939.1 557.5,938.3 556.8,939.5 556.1,938.3 555.4,939.6 554.7,939.7 554.0,939.3 553.3,935.8 552.6,938.2 551.9,938.8 551.2,939.9 550.5,938.6 549.8,939.2 549.1,940.4 548.4,939.5 547.7,937.5 547.0,939.1 546.3,939.3 545.6,940.1 544.9,943.5 544.2,938.2 543.5,940.3 542.8,940.2 542.1,941.5 541.4,940.3 540.7,939.7 540.0,941.8 539.3,941.0 538.6,944.1 537.9,938.6 537.2,941.3 536.5,939.8 535.8,942.2 535.1,942.5 534.4,942.5 533.7,943.3 533.0,941.8 532.3,948.6 531.6,944.0 530.9,944.3 530.2,941.9 529.5,941.1 528.8,942.6 528.1,944.3 527.4,943.4 526.7,944.3 526.0,942.9 525.3,940.5 524.6,944.2 523.9,941.9 523.2,944.0 522.5,944.1 521.8,940.3 521.1,940.4 520.4,943.8 519.7,942.3 519.0,945.6 518.3,943.3 517.6,943.7 516.9,941.4 516.2,940.1 515.5,943.9 514.8,944.1 514.1,944.6 513.4,943.3 512.7,942.2 512.0,944.3 511.3,945.3 510.6,946.8 509.9,947.1 509.2,947.6 508.5,947.5 507.8,947.7 507.1,948.0 506.4,953.5 505.7,949.6 505.0,949.0 504.3,947.1 503.6,954.7 502.9,946.7 502.2,954.1 501.5,948.4 500.8,950.0 500.1,947.6 499.4,949.0 498.7,948.0 498.0,947.4 497.3,947.3 496.6,951.8 495.9,947.4 495.2,947.2 494.5,948.2 493.8,945.1 493.1,947.2 492.4,945.1 491.7,947.5 491.0,945.2 490.3,944.1 489.6,948.1 488.9,946.9 488.2,947.4 487.5,947.6 486.8,949.4 486.1,948.7 485.4,947.3 484.7,947.5 484.0,953.6 483.3,945.7 482.6,948.2 481.9,949.5 481.2,949.6 480.5,949.4 479.8,949.2 479.1,952.7 478.4,947.3 477.7,949.8 477.0,950.6 476.3,952.6 475.6,948.4 474.9,950.6 474.2,953.0 473.5,951.3 472.8,951.4 472.1,955.4 471.4,951.5 470.7,950.3 470.0,949.7 469.3,950.0 468.6,948.4 467.9,951.5 467.2,951.3 466.5,949.7 465.8,951.0 465.1,950.4 464.4,950.9 463.7,949.2 463.0,949.4 462.3,950.9 461.6,949.4 460.9,954.2 460.2,948.5 459.5,949.6 458.8,950.6 458.1,949.9 457.4,950.7 456.7,950.2 456.0,947.3 455.3,950.9 454.6,947.4 453.9,947.2 453.2,952.9 452.5,949.8 451.8,948.1 451.1,948.8 450.4,948.8 449.7,949.8 449.0,950.0 448.3,948.8 447.6,946.3 446.9,949.9 446.2,948.4 445.5,953.2 444.8,948.2 444.1,948.5 443.4,947.1 442.7,947.7 442.0,951.5 441.3,948.2 440.6,945.4 439.9,944.4 439.2,946.4 438.5,944.0 437.8,947.5 437.1,945.6 436.4,947.1 435.7,946.5 435.0,945.3 434.3,945.7 433.6,945.0 432.9,945.6 432.2,943.6 431.5,944.0 430.8,944.9 430.1,945.3 429.4,949.0 428.7,942.6 428.0,942.2 427.3,941.0 426.6,942.5 425.9,942.0 425.2,942.3 424.5,940.3 423.8,940.8 423.1,942.9 422.4,942.8 421.7,942.6 421.0,942.4 420.3,941.6 419.6,938.0 418.9,941.1 418.2,938.2 417.5,940.9 416.8,939.0 416.1,937.1 415.4,937.4 414.7,939.5 414.0,938.8 413.3,941.5 412.6,943.0 411.9,935.6 411.2,938.4 410.5,937.0 409.8,940.2 409.1,941.8 408.4,936.5 407.7,937.0 407.0,937.4 406.3,936.1 405.6,937.8 404.9,935.6 404.2,938.6 403.5,935.4 402.8,936.8 402.1,938.4 401.4,937.7 400.7,935.5 400.0,934.6 399.3,936.4 398.6,935.6 397.9,934.1 397.2,933.6 396.5,935.1 395.8,936.5 395.1,934.1 394.4,935.1 393.7,940.0 393.0,932.7 392.3,934.0 391.6,935.4 390.9,935.3 390.2,935.3 389.5,934.3 388.8,935.1 388.1,932.4 387.4,935.9 386.7,934.2 386.0,933.3 385.3,931.6 384.6,932.2 383.9,932.0 383.2,933.5 382.5,937.5 381.8,931.1 381.1,930.9 380.4,931.7 379.7,929.3 379.0,931.9 378.3,930.5 377.6,933.6 376.9,930.9 376.2,930.3 375.5,930.1 374.8,929.6 374.1,929.8 373.4,932.9 372.7,929.2 372.0,929.1 371.3,928.6 370.6,928.4 369.9,927.4 369.2,927.1 368.5,927.6 367.8,924.7 367.1,926.4 366.4,924.1 365.7,925.4 365.0,926.2 364.3,923.9 363.6,924.2 362.9,924.8 362.2,924.2 361.5,922.8 360.8,922.9 360.1,927.1 359.4,921.2 358.7,919.9 358.0,921.7 357.3,920.4 356.6,920.8 355.9,920.3 355.2,917.6 354.5,919.0 353.8,922.3 353.1,918.9 352.4,915.5 351.7,914.7 351.0,916.5 350.3,916.9 349.6,916.4 348.9,915.8 348.2,915.3 347.5,910.9 346.8,913.7 346.1,911.5 345.4,917.7 344.7,909.5 344.0,911.4 343.3,910.2 342.6,911.4 341.9,911.1 341.2,908.3 340.5,911.1 339.8,908.9 339.1,910.8 338.4,907.5 337.7,908.0 337.0,914.4 336.3,908.3 335.6,906.9 334.9,911.4 334.2,910.1 333.5,909.6 332.8,908.4 332.1,908.6 331.4,910.6 330.7,907.7 330.0,909.4 329.3,911.5 328.6,910.8 327.9,912.5 327.2,912.7 326.5,909.1 325.8,917.7 325.1,911.9 324.4,914.5 323.7,913.6 323.0,911.2 322.3,914.0 321.6,915.3 320.9,912.0 320.2,915.0 319.5,915.2 318.8,915.6 318.1,915.0 317.4,914.0 316.7,914.0 316.0,915.1 315.3,914.2 314.6,918.9 313.9,913.9 313.2,914.0 312.5,913.5 311.8,912.6 311.1,914.0 310.4,911.8 309.7,914.1 309.0,912.7 308.3,913.6 307.6,914.5 306.9,913.6 306.2,912.5 305.5,911.7 304.8,912.2 304.1,911.9 303.4,912.4 302.7,911.3 302.0,911.9 301.3,911.8 300.6,910.4 299.9,911.4 299.2,910.4 298.5,907.6 297.8,909.3 297.1,908.4 296.4,908.5 295.7,910.0 295.0,906.9 294.3,907.7 293.6,909.5 292.9,911.1 292.2,908.9 291.5,909.2 290.8,907.4 290.1,911.1 289.4,910.9 288.7,906.7 288.0,907.5 287.3,907.3 286.6,906.3 285.9,906.8 285.2,906.5 284.5,904.6 283.8,905.6 283.1,907.9 282.4,902.2 281.7,905.2 281.0,904.2 280.3,902.0 279.6,903.7 278.9,903.4 278.2,901.8 277.5,899.9 276.8,903.3 276.1,902.1 275.4,900.9 274.7,902.4 274.0,901.8 273.3,901.6 272.6,901.6 271.9,901.3 271.2,901.1 270.5,897.4 269.8,899.5 269.1,900.3 268.4,897.8 267.7,900.3 267.0,898.7 266.3,899.2 265.6,898.9 264.9,897.2 264.2,897.2 263.5,898.3 262.8,895.0 262.1,898.3 261.4,898.3 260.7,898.7 260.0,895.1 259.3,896.9 258.6,895.5 257.9,899.1 257.2,897.0 256.5,895.7 255.8,897.1 255.1,900.2 254.4,900.0 253.7,900.7 253.0,901.1 252.3,901.3 251.6,901.9 250.9,904.3 250.2,900.8 249.5,903.2 248.8,903.5 248.1,903.7 247.4,908.3 246.7,902.0 246.0,905.8 245.3,907.8 244.6,905.4 243.9,907.1 243.2,907.8 242.5,907.9 241.8,908.1 241.1,907.0 240.4,910.0 239.7,911.2 239.0,910.6 238.3,909.8 237.6,908.0 236.9,909.5 236.2,908.7 235.5,907.7 234.8,906.5 234.1,907.4 233.4,907.7 232.7,907.4 232.0,909.3 231.3,908.4 230.6,908.4 229.9,911.9 229.2,912.9 228.5,911.0 227.8,914.6 227.1,915.8 226.4,915.2 225.7,918.2 225.0,913.4 224.3,916.7 223.6,917.1 222.9,920.8 222.2,918.2 221.5,919.9 220.8,920.2 220.1,917.2 219.4,921.6 218.7,921.8 218.0,922.2 217.3,922.3 216.6,921.9 215.9,923.5 215.2,922.0 214.5,921.2 213.8,918.5 213.1,918.3 212.4,918.5 211.7,920.9 211.0,920.3 210.3,917.4 209.6,918.8 208.9,918.9 208.2,917.1 207.5,916.9 206.8,921.0 206.1,919.4 205.4,919.6 204.7,919.4 204.0,922.2 203.3,922.8 202.6,922.8 201.9,923.7 201.2,920.1 200.5,924.1 199.8,926.5 199.1,924.6 198.4,924.4 197.7,924.3 197.0,925.7 196.3,926.2 195.6,925.7 194.9,925.5 194.2,926.9 193.5,927.3 192.8,927.6 192.1,928.2 191.4,926.9 190.7,928.8 190.0,928.3 189.3,929.8 188.6,930.7 187.9,928.7 187.2,931.7 186.5,932.0 185.8,932.6 185.1,931.6 184.4,933.1 183.7,934.8 183.0,935.7 182.3,934.4 181.6,936.8 180.9,938.8 180.2,934.5 179.5,937.7 178.8,939.3 178.1,939.4 177.4,940.3 176.7,940.9 176.0,940.9 175.3,938.9 174.6,944.2 173.9,941.0 173.2,946.1 172.5,943.9 171.8,944.6 171.1,945.0 170.4,942.4 169.7,943.5 169.0,944.2 168.3,945.2 167.6,947.8 166.9,947.9 166.2,948.0 165.5,945.5" fill="#0000ff" stroke="#0000ff" stroke-width="0.6" stroke-linejoin="miter"/>
<polygon points="165.5,930.6 166.2,929.6 166.9,930.8 167.6,931.3 168.3,930.1 169.0,928.0 169.7,927.4 170.4,927.0 171.1,926.6 171.8,926.3 172.5,926.0 173.2,925.5 173.9,926.9 174.6,923.8 175.3,923.8 176.0,923.0 176.7,923.2 177.4,922.2 178.1,921.6 178.8,921.3 179.5,921.3 180.2,919.9 180.9,919.4 181.6,918.9 182.3,919.6 183.0,919.0 183.7,917.7 184.4,916.9 185.1,918.2 185.8,915.6 186.5,915.6 187.2,915.6 187.9,916.0 188.6,913.7 189.3,912.6 190.0,912.3 190.7,911.6 191.4,911.1 192.1,910.8 192.8,909.1 193.5,910.5 194.2,909.8 194.9,908.9 195.6,908.7 196.3,908.5 197.0,907.6 197.7,907.2 198.4,907.9 199.1,906.3 199.8,905.9 200.5,906.0 201.2,906.5 201.9,906.1 202.6,904.6 203.3,904.8 204.0,906.2 204.7,906.0 205.4,906.2 206.1,904.8 206.8,907.3 207.5,905.7 208.2,907.1 208.9,907.3 209.6,906.8 210.3,908.0 211.0,908.4 211.7,909.5 212.4,908.3 213.1,909.2 213.8,909.4 214.5,909.6 215.2,909.8 215.9,910.0 216.6,911.1 217.3,910.5 218.0,909.9 218.7,910.4 219.4,910.1 220.1,907.9 220.8,907.2 221.5,908.9 222.2,906.2 222.9,906.2 223.6,904.8 224.3,900.6 225.0,903.4 225.7,902.8 226.4,902.8 227.1,904.3 227.8,902.9 228.5,899.6 229.2,898.4 229.9,896.9 230.6,895.9 231.3,895.5 232.0,893.3 232.7,892.4 233.4,890.9 234.1,889.9 234.8,889.7 235.5,890.5 236.2,889.9 236.9,890.4 237.6,892.4 238.3,892.9 239.0,891.1 239.7,893.4 240.4,890.9 241.1,889.6 241.8,889.9 242.5,887.5 243.2,888.5 243.9,881.4 244.6,885.8 245.3,883.1 246.0,881.5 246.7,882.5 247.4,879.5 248.1,878.8 248.8,880.0 249.5,879.9 250.2,876.3 250.9,880.1 251.6,877.8 252.3,877.7 253.0,877.2 253.7,879.0 254.4,878.0 255.1,877.2 255.8,875.9 256.5,876.4 257.2,878.3 257.9,875.9 258.6,876.3 259.3,878.8 260.0,876.6 260.7,877.3 261.4,875.9 262.1,878.2 262.8,877.2 263.5,875.9 264.2,877.7 264.9,876.3 265.6,877.2 266.3,878.2 267.0,878.9 267.7,879.1 268.4,877.8 269.1,879.5 269.8,879.2 270.5,880.8 271.2,878.8 271.9,879.8 272.6,879.7 273.3,880.8 274.0,881.8 274.7,880.7 275.4,882.8 276.1,881.1 276.8,881.0 277.5,881.7 278.2,881.5 278.9,882.0 279.6,884.8 280.3,882.5 281.0,883.6 281.7,884.8 282.4,883.0 283.1,883.4 283.8,886.4 284.5,885.8 285.2,884.7 285.9,885.1 286.6,884.7 287.3,886.5 288.0,886.9 288.7,885.4 289.4,888.1 290.1,888.5 290.8,886.9 291.5,886.7 292.2,888.3 292.9,886.9 293.6,887.5 294.3,888.5 295.0,888.0 295.7,888.7 296.4,888.9 297.1,889.6 297.8,889.1 298.5,885.7 299.2,888.8 299.9,889.0 300.6,891.6 301.3,889.5 302.0,892.3 302.7,891.2 303.4,892.1 304.1,891.2 304.8,891.0 305.5,893.8 306.2,891.9 306.9,892.0 307.6,892.3 308.3,891.6 309.0,894.1 309.7,893.2 310.4,889.7 311.1,887.9 311.8,893.9 312.5,893.8 313.2,892.4 313.9,892.0 314.6,892.1 315.3,893.9 316.0,891.8 316.7,891.3 317.4,892.1 318.1,891.8 318.8,893.2 319.5,891.5 320.2,891.1 320.9,891.5 321.6,892.0 322.3,890.9 323.0,889.9 323.7,890.1 324.4,889.4 325.1,890.0 325.8,889.6 326.5,890.7 327.2,889.0 327.9,888.0 328.6,890.4 329.3,889.2 330.0,887.3 330.7,887.1 331.4,889.4 332.1,888.7 332.8,889.1 333.5,886.2 334.2,887.2 334.9,888.8 335.6,889.2 336.3,887.6 337.0,887.3 337.7,886.5 338.4,887.1 339.1,887.7 339.8,887.1 340.5,889.4 341.2,888.0 341.9,887.0 342.6,887.9 343.3,888.2 344.0,888.0 344.7,890.1 345.4,888.2 346.1,891.6 346.8,891.2 347.5,889.7 348.2,890.2 348.9,891.8 349.6,890.7 350.3,888.1 351.0,891.6 351.7,894.1 352.4,894.9 353.1,895.4 353.8,893.7 354.5,894.5 355.2,895.1 355.9,896.8 356.6,896.8 357.3,896.3 358.0,894.8 358.7,895.7 359.4,896.1 360.1,896.5 360.8,898.2 361.5,897.1 362.2,900.1 362.9,899.1 363.6,898.8 364.3,899.9 365.0,901.2 365.7,899.3 366.4,899.2 367.1,900.6 367.8,899.8 368.5,901.3 369.2,901.1 369.9,902.5 370.6,901.8 371.3,900.5 372.0,900.7 372.7,901.3 373.4,901.6 374.1,902.0 374.8,902.2 375.5,903.7 376.2,904.1 376.9,902.7 377.6,902.4 378.3,902.6 379.0,904.2 379.7,904.8 380.4,904.0 381.1,905.1 381.8,905.0 382.5,905.7 383.2,905.2 383.9,904.3 384.6,906.0 385.3,904.6 386.0,904.7 386.7,905.4 387.4,907.6 388.1,905.2 388.8,905.1 389.5,905.7 390.2,905.0 390.9,907.2 391.6,905.6 392.3,905.8 393.0,907.5 393.7,906.3 394.4,907.7 395.1,905.7 395.8,904.7 396.5,905.8 397.2,907.4 397.9,906.2 398.6,906.9 399.3,905.9 400.0,908.5 400.7,906.6 401.4,908.3 402.1,906.4 402.8,906.5 403.5,905.0 404.2,906.5 404.9,909.1 405.6,906.7 406.3,909.4 407.0,907.9 407.7,909.4 408.4,910.3 409.1,907.8 409.8,908.5 410.5,908.1 411.2,909.5 411.9,908.6 412.6,908.9 413.3,911.3 414.0,910.9 414.7,910.3 415.4,910.7 416.1,909.1 416.8,909.7 417.5,909.5 418.2,911.4 418.9,910.0 419.6,911.8 420.3,910.7 421.0,910.7 421.7,911.9 422.4,910.4 423.1,910.7 423.8,911.6 424.5,911.0 425.2,911.4 425.9,912.7 426.6,914.0 427.3,912.1 428.0,914.0 428.7,912.4 429.4,911.8 430.1,912.2 430.8,912.7 431.5,915.0 432.2,912.5 432.9,913.7 433.6,915.7 434.3,913.4 435.0,913.2 435.7,913.4 436.4,915.7 437.1,914.2 437.8,916.1 438.5,915.4 439.2,915.4 439.9,915.7 440.6,914.8 441.3,915.5 442.0,916.5 442.7,915.1 443.4,915.3 444.1,917.5 444.8,916.5 445.5,914.4 446.2,916.1 446.9,918.6 447.6,918.2 448.3,917.9 449.0,917.1 449.7,917.5 450.4,919.6 451.1,917.2 451.8,917.3 452.5,917.4 453.2,918.0 453.9,919.5 454.6,917.5 455.3,917.7 456.0,918.4 456.7,919.3 457.4,917.8 458.1,920.8 458.8,917.9 459.5,919.8 460.2,920.6 460.9,921.1 461.6,919.0 462.3,918.5 463.0,918.4 463.7,920.1 464.4,920.4 465.1,921.3 465.8,920.4 466.5,920.6 467.2,919.6 467.9,918.8 468.6,920.8 469.3,919.3 470.0,919.1 470.7,921.4 471.4,919.6 472.1,919.4 472.8,921.4 473.5,919.3 474.2,920.4 474.9,918.9 475.6,918.7 476.3,918.6 477.0,918.8 477.7,918.7 478.4,919.0 479.1,918.7 479.8,919.2 480.5,918.2 481.2,919.0 481.9,918.4 482.6,919.1 483.3,919.4 484.0,918.2 484.7,919.6 485.4,919.2 486.1,919.2 486.8,917.6 487.5,916.5 488.2,918.1 488.9,920.3 489.6,917.3 490.3,917.4 491.0,917.2 491.7,919.9 492.4,917.6 493.1,918.2 493.8,917.9 494.5,917.4 495.2,914.9 495.9,917.5 496.6,918.4 497.3,917.9 498.0,918.0 498.7,918.1 499.4,918.0 500.1,918.8 500.8,919.3 501.5,918.0 502.2,918.3 502.9,921.0 503.6,919.6 504.3,919.2 505.0,919.5 505.7,917.0 506.4,917.0 507.1,916.2 507.8,916.4 508.5,915.4 509.2,915.1 509.9,914.6 510.6,914.3 511.3,915.4 512.0,915.5 512.7,915.0 513.4,913.2 514.1,913.4 514.8,911.8 515.5,911.6 516.2,912.1 516.9,914.0 517.6,912.9 518.3,912.0 519.0,913.1 519.7,914.1 520.4,912.1 521.1,913.7 521.8,912.2 522.5,914.4 523.2,912.8 523.9,913.9 524.6,913.2 525.3,915.4 526.0,913.8 526.7,913.5 527.4,915.5 528.1,914.1 528.8,916.4 529.5,915.5 530.2,915.4 530.9,914.1 531.6,914.1 532.3,913.4 533.0,913.0 533.7,914.9 534.4,911.9 535.1,912.1 535.8,911.2 536.5,910.3 537.2,911.4 537.9,909.5 538.6,911.3 539.3,910.4 540.0,909.9 540.7,908.9 541.4,908.8 542.1,910.3 542.8,909.2 543.5,907.5 544.2,907.7 544.9,907.4 545.6,909.0 546.3,907.3 547.0,908.4 547.7,909.6 548.4,908.1 549.1,908.2 549.8,907.3 550.5,906.8 551.2,903.9 551.9,908.0 552.6,906.4 553.3,908.9 554.0,906.7 554.7,908.7 555.4,907.3 556.1,906.1 556.8,907.7 557.5,906.4 558.2,907.2 558.9,905.9 559.6,905.7 560.3,905.7 561.0,907.0 561.7,905.5 562.4,907.9 563.1,905.9 563.8,905.3 564.5,905.5 565.2,907.5 565.9,905.4 566.6,905.3 567.3,905.4 568.0,906.0 568.7,905.0 569.4,905.8 570.1,906.0 570.8,907.4 571.5,905.3 572.2,906.6 572.9,905.1 573.6,903.2 574.3,906.7 575.0,906.3 575.7,904.5 576.4,904.3 577.1,904.8 577.8,905.7 578.5,904.4 579.2,905.6 579.9,904.4 580.6,906.1 581.3,904.5 582.0,904.0 582.7,906.7 583.4,906.6 584.1,906.4 584.8,904.9 585.5,904.0 586.2,906.3 586.9,904.0 587.6,906.8 588.3,904.4 589.0,904.3 589.7,904.2 590.4,905.4 591.1,901.7 591.8,905.0 592.5,906.1 593.2,905.1 593.9,904.3 594.6,904.6 595.3,904.3 596.0,904.6 596.7,905.2 597.4,905.7 598.1,904.7 598.8,904.4 599.5,904.9 600.2,904.9 600.9,905.2 601.6,902.2 602.3,904.5 603.0,905.1 603.7,905.4 604.4,904.7 605.1,904.8 605.8,905.2 606.5,904.9 607.2,905.8 607.9,907.0 608.6,904.7 609.3,903.6 610.0,905.8 610.7,905.1 611.4,905.6 612.1,905.5 612.8,905.1 613.5,905.8 614.2,905.4 614.9,905.8 615.6,902.5 616.3,905.3 617.0,905.5 617.7,904.9 618.4,905.1 619.1,906.4 619.8,904.6 620.5,904.6 621.2,904.6 621.9,904.5 622.6,906.7 623.3,904.8 624.0,904.5 624.7,905.1 625.4,904.5 626.1,904.8 626.8,907.1 627.5,905.0 628.2,906.8 628.9,905.7 629.6,904.2 630.3,904.9 631.0,905.0 631.7,904.5 632.4,906.4 633.1,904.2 633.8,904.2 634.5,905.7 635.2,904.8 635.9,905.7 636.6,905.4 637.3,904.5 638.0,904.9 638.7,904.3 639.4,904.2 640.1,905.1 640.8,905.5 641.5,904.4 642.2,907.0 642.9,905.8 643.6,901.5 644.3,904.9 645.0,904.7 645.7,905.6 646.4,907.4 647.1,905.9 647.8,904.9 648.5,905.0 649.2,906.0 649.9,905.1 650.6,905.5 651.3,905.6 652.0,905.7 652.7,906.5 653.4,906.4 654.1,905.9 654.8,906.6 655.5,908.1 656.2,905.9 656.9,906.3 657.6,906.0 658.3,906.7 659.0,906.3 659.7,907.1 660.4,908.8 661.1,907.6 661.8,910.0 662.5,907.2 663.2,907.3 663.9,909.5 664.6,909.2 665.3,908.0 666.0,907.7 666.7,908.4 667.4,910.3 668.1,907.6 668.8,908.6 669.5,910.6 670.2,907.8 670.9,909.1 671.6,907.8 672.3,908.2 673.0,910.0 673.7,908.6 674.4,908.3 675.1,908.5 675.8,909.1 676.5,909.6 677.2,909.4 677.9,909.7 678.6,909.2 679.3,909.4 680.0,909.0 680.7,909.4 681.4,911.2 682.1,908.7 682.8,909.3 683.5,909.5 684.2,910.1 684.9,908.7 685.6,908.9 686.3,910.3 687.0,908.7 687.7,909.2 688.4,911.2 689.1,910.3 689.8,910.7 690.5,908.7 691.2,909.0 691.9,911.0 692.6,912.2 693.3,912.1 694.0,912.8 694.7,917.4 695.4,916.3 696.1,920.2 696.8,916.1 697.5,914.7 698.2,913.3 698.9,914.7 699.6,912.1 700.3,909.7 701.0,910.4 701.7,908.8 702.4,910.4 703.1,908.3 703.8,908.3 704.5,908.2 705.2,908.3 705.9,908.3 706.6,909.0 707.3,909.4 708.0,908.3 708.7,908.3 709.4,909.3 710.1,908.3 710.8,908.3 711.5,908.6 712.2,909.8 712.9,913.8 713.6,913.4 714.3,917.8 715.0,916.3 715.7,914.6 716.4,913.3 717.1,913.5 717.8,909.6 718.5,911.1 719.2,911.5 719.9,910.6 720.6,909.2 721.3,913.8 722.0,920.5 722.7,919.9 723.4,918.0 724.1,917.1 724.8,919.0 725.5,919.1 726.2,917.9 726.9,916.8 727.6,914.4 728.3,915.2 729.0,913.7 729.7,911.0 730.4,910.0 731.1,909.1 731.8,908.3 732.5,909.4 733.2,907.3 733.9,906.6 734.6,906.5 735.3,909.6 736.0,908.1 736.7,909.6 737.4,907.5 738.1,908.3 738.8,907.9 739.5,909.5 740.2,907.9 740.9,910.4 741.6,910.0 742.3,908.9 743.0,908.3 743.7,905.5 744.4,904.7 745.1,904.4 745.8,904.1 746.5,905.2 747.2,904.4 747.9,904.0 748.6,906.6 749.3,906.4 750.0,907.8 750.7,908.6 751.4,906.7 752.1,906.8 752.8,909.0 753.5,906.8 754.2,906.7 754.9,905.5 755.6,908.3 756.3,910.2 757.0,910.0 757.7,910.7 758.4,910.4 759.1,911.8 759.8,911.6 760.5,910.3 761.2,910.4 761.9,909.6 762.6,910.3 763.3,909.5 764.0,910.9 764.7,909.7 765.4,909.7 766.1,909.2 766.8,910.6 767.5,908.7 768.2,909.5 768.9,910.4 769.6,909.6 770.3,908.2 771.0,907.9 771.7,903.5 772.4,898.0 773.1,898.0 773.8,897.8 774.5,898.1 775.2,898.8 775.9,897.6 776.6,897.7 777.3,899.4 778.0,897.7 778.7,898.0 779.4,898.2 780.1,900.0 780.8,899.2 781.5,898.1 782.2,900.2 782.9,898.0 783.6,898.4 784.3,898.7 785.0,899.2 785.7,897.9 786.4,898.2 787.1,898.5 787.8,899.4 788.5,898.2 789.2,898.5 789.9,897.9 790.6,897.9 791.3,900.8 792.0,898.3 792.7,899.2 793.4,900.4 794.1,897.7 794.8,897.5 795.5,897.4 796.2,897.3 796.9,894.0 797.6,899.3 798.3,897.3 799.0,896.7 799.7,897.7 800.4,897.1 801.1,896.3 801.8,896.2 802.5,896.5 803.2,895.8 803.9,898.1 804.6,897.5 805.3,895.1 806.0,897.2 806.7,894.9 807.4,897.3 808.1,896.6 808.8,895.5 809.5,894.8 810.2,896.6 810.9,896.1 811.6,897.0 812.3,895.6 813.0,894.9 813.7,894.7 814.4,894.7 815.1,894.9 815.8,895.1 816.5,894.9 817.2,894.7 817.9,895.1 818.6,894.7 819.3,895.7 820.0,897.1 820.7,892.0 821.4,892.5 822.1,895.2 822.8,896.1 823.5,896.1 824.2,896.5 824.9,894.8 825.6,894.9 826.3,896.4 827.0,894.7 827.7,896.9 828.4,892.7 829.1,897.5 829.8,896.8 830.5,894.7 831.2,894.7 831.9,894.7 832.6,894.8 833.3,894.7 834.0,896.9 834.7,895.8 835.4,896.2 836.1,896.5 836.8,895.5 837.5,895.3 838.2,893.8 838.9,895.5 839.6,896.5 840.3,896.0 841.0,898.1 841.7,895.9 842.4,897.3 843.1,896.6 843.8,897.7 844.5,896.8 845.2,897.4 845.9,896.7 846.6,898.9 847.3,899.4 848.0,897.3 848.7,897.3 849.4,897.0 850.1,894.9 850.8,898.9 851.5,896.6 852.2,899.0 852.9,897.3 853.6,896.3 854.3,896.8 855.0,898.4 855.7,897.2 856.4,894.9 857.1,899.0 857.8,896.7 858.5,898.3 859.2,896.3 859.9,896.2 860.6,898.7 861.3,895.8 862.0,895.8 862.7,898.4 863.4,894.2 864.1,896.2 864.8,896.7 865.5,896.1 866.2,896.4 866.9,896.4 867.6,896.8 868.3,899.1 869.0,899.6 869.7,900.0 870.4,897.6 871.1,898.1 871.8,897.8 872.5,897.9 873.2,898.0 873.9,898.3 874.6,898.5 875.3,898.3 876.0,900.0 876.7,899.6 877.4,900.2 878.1,896.7 878.8,901.8 879.5,899.2 880.2,899.1 880.9,899.3 881.6,901.7 882.3,900.4 883.0,900.6 883.7,900.6 884.4,900.1 885.1,902.7 885.8,900.1 886.5,901.2 887.2,900.9 887.9,900.8 888.6,902.4 889.3,901.3 890.0,902.9 890.7,901.0 891.4,900.9 892.1,901.6 892.8,901.1 893.5,901.0 894.2,903.6 894.9,901.2 895.6,901.3 896.3,899.0 897.0,901.4 897.7,902.7 898.4,904.0 899.1,902.1 899.8,901.8 900.5,903.3 901.2,902.2 901.9,902.6 902.6,903.7 903.3,902.5 904.0,902.8 904.7,901.8 905.4,902.0 906.1,902.2 906.8,902.6 907.5,902.5 908.2,903.7 908.9,903.7 909.6,903.5 910.3,904.3 911.0,904.0 911.7,904.8 912.4,904.7 913.1,904.0 913.8,906.7 914.5,906.2 915.2,905.1 915.9,904.8 916.6,905.1 917.3,905.5 918.0,908.1 918.7,908.3 919.4,906.5 920.1,905.8 920.8,906.1 921.5,907.5 922.2,906.3 922.9,903.9 923.6,906.3 924.3,906.4 925.0,906.4 925.7,909.2 926.4,906.5 927.1,906.6 927.8,907.1 928.5,907.0 929.2,906.8 929.9,908.0 930.6,905.6 931.3,907.0 932.0,909.2 932.7,908.8 933.4,907.6 934.1,907.5 934.8,908.1 935.5,908.3 936.2,910.4 936.9,907.5 937.6,909.2 938.3,907.7 939.0,910.2 939.7,908.6 940.4,908.9 941.1,908.9 941.8,910.3 942.5,908.2 943.2,908.2 943.9,910.9 944.6,908.8 945.3,909.7 946.0,909.9 946.7,909.0 947.4,910.1 948.1,909.4 948.8,908.8 949.5,908.8 950.2,909.0 950.9,911.2 951.6,909.1 952.3,910.0 953.0,911.3 953.7,909.2 954.4,911.8 955.1,910.7 955.8,909.6 956.5,909.7 957.2,909.7 957.9,912.0 958.6,911.8 959.3,909.8 960.0,911.3 960.7,910.1 961.4,912.1 962.1,910.4 962.8,912.4 963.5,910.6 964.2,913.2 964.9,911.0 965.6,909.8 966.3,912.2 967.0,911.1 967.7,911.5 968.4,911.7 969.1,911.7 969.8,914.0 970.5,913.5 971.2,914.6 971.9,913.0 972.6,913.4 973.3,913.2 974.0,912.6 974.7,912.7 975.4,913.2 976.1,913.8 976.8,913.2 977.5,914.4 978.2,914.4 978.9,915.7 979.6,914.7 980.3,914.0 981.0,914.0 981.7,914.2 982.4,915.8 983.1,913.4 983.8,916.7 984.5,916.7 985.2,918.1 985.9,919.6 986.6,919.8 987.3,919.2 988.0,921.2 988.7,919.5 989.4,923.6 990.1,922.0 990.8,923.5 991.5,923.1 992.2,924.8 992.9,925.2 993.6,926.3 994.3,927.3 995.0,926.2 995.7,926.2 996.4,926.1 997.1,927.5 997.8,927.0 998.5,929.6 999.2,925.0 999.9,928.7 1000.6,929.5 1001.3,929.6 1002.0,929.4 1002.7,929.6 1003.4,929.7 1004.1,932.3 1004.8,932.1 1005.5,932.1 1006.2,931.8 1006.9,931.6 1007.6,931.7 1008.3,931.6 1009.0,931.2 1009.7,933.2 1010.4,933.7 1011.1,934.0 1011.8,932.2 1012.5,933.9 1013.2,933.5 1013.9,933.0 1014.6,932.6 1015.3,932.5 1016.0,934.3 1016.7,934.7 1017.4,934.1 1018.1,933.8 1018.8,934.9 1019.5,934.7 1020.2,935.9 1020.9,934.7 1021.6,934.9 1022.3,935.6 1023.0,934.3 1023.7,934.3 1024.4,934.1 1025.1,934.1 1025.8,935.9 1026.5,935.7 1027.2,933.6 1027.9,933.4 1028.6,932.8 1029.3,935.5 1030.0,934.8 1030.7,932.9 1031.4,934.6 1032.1,933.7 1032.8,934.0 1033.5,933.6 1034.2,933.9 1034.9,932.4 1035.6,928.8 1036.3,931.4 1037.0,933.7 1037.7,932.9 1038.4,932.4 1039.1,931.3 1039.8,932.9 1040.5,934.0 1041.2,931.1 1041.9,931.0 1042.6,930.7 1043.3,930.6 1044.0,930.8 1044.7,932.5 1045.4,930.4 1046.1,930.4 1046.8,930.2 1047.5,930.8 1048.2,929.8 1048.9,929.8 1049.6,929.6 1050.3,929.8 1051.0,930.9 1051.7,930.8 1052.4,931.1 1053.1,933.0 1053.8,932.2 1054.5,933.4 1055.2,933.7 1055.9,934.5 1056.6,937.7 1057.3,936.0 1058.0,936.7 1058.7,938.4 1059.4,938.4 1060.1,938.2 1060.8,938.6 1061.5,941.2 1062.2,941.0 1062.9,939.7 1063.6,940.2 1064.3,941.7 1065.0,941.3 1065.7,941.4 1066.4,942.5 1067.1,942.1 1067.8,942.7 1068.5,943.3 1069.2,943.4 1069.9,945.9 1070.6,944.3 1071.3,944.8 1072.0,945.0 1072.7,947.2 1073.4,946.4 1074.1,946.1 1074.8,947.3 1075.5,946.6 1076.2,949.6 1076.9,949.1 1077.6,949.4 1078.3,948.9 1079.0,948.1 1079.7,948.4 1080.4,948.9 1081.1,949.1 1081.8,951.8 1082.5,949.7 1083.2,952.3 1083.9,950.6 1084.6,950.9 1085.3,951.5 1086.0,951.4 1086.7,951.6 1087.4,951.8 1088.1,953.3 1088.8,952.1 1089.5,953.3 1090.2,949.3 1090.9,954.6 1091.6,952.9 1092.3,954.7 1093.0,953.2 1093.7,953.4 1094.4,953.5 1095.1,954.9 1095.8,954.2 1096.5,954.7 1097.2,954.8 1097.9,954.9 1098.6,954.9 1099.3,954.7 1100.0,956.7 1100.7,956.4 1101.4,955.9 1102.1,956.6 1102.8,955.6 1103.5,957.1 1104.2,956.0 1104.9,958.6 1105.6,958.0 1106.3,955.5 1107.0,955.3 1107.7,955.1 1108.4,955.5 1109.1,957.9 1109.8,955.4 1110.5,956.9 1111.2,954.6 1111.9,955.6 1112.6,953.3 1113.3,952.1 1114.0,951.7 1114.7,950.3 1115.4,951.7 1116.1,951.8 1116.8,948.6 1117.5,948.0 1118.2,947.5 1118.9,947.1 1119.6,947.1 1120.3,945.8 1121.0,946.6 1121.7,944.9 1122.4,945.0 1123.1,944.1 1123.8,944.4 1124.5,943.3 1125.2,943.1 1125.9,944.5 1126.6,941.4 1127.3,941.6 1128.0,942.7 1128.7,939.9 1129.4,940.8 1130.1,941.4 1130.8,938.1 1131.5,938.4 1132.2,937.1 1132.9,937.2 1133.6,937.5 1134.3,938.2 1135.0,935.0 1135.7,934.7 1136.4,931.1 1137.1,935.9 1137.8,934.9 1138.5,933.5 1139.2,931.3 1139.9,931.4 1140.6,930.8 1141.3,929.4 1142.0,930.2 1142.7,930.6 1143.4,927.4 1144.1,929.1 1144.8,928.9 1145.5,925.6 1146.2,925.0 1146.9,925.0 1147.6,924.2 1148.3,923.2 1149.0,923.2 1149.7,923.4 1150.4,923.3 1151.1,920.6 1151.8,921.9 1152.5,922.3 1153.2,918.9 1153.9,918.6 1154.6,918.1 1154.6,931.0 1153.9,930.0 1153.2,932.0 1152.5,933.2 1151.8,938.2 1151.1,934.6 1150.4,934.9 1149.7,936.7 1149.0,936.9 1148.3,937.7 1147.6,941.5 1146.9,939.5 1146.2,941.0 1145.5,941.4 1144.8,941.1 1144.1,942.1 1143.4,944.5 1142.7,944.7 1142.0,945.7 1141.3,946.3 1140.6,946.3 1139.9,946.5 1139.2,947.4 1138.5,948.1 1137.8,949.1 1137.1,949.4 1136.4,949.5 1135.7,950.8 1135.0,950.1 1134.3,949.9 1133.6,952.5 1132.9,954.4 1132.2,955.6 1131.5,951.6 1130.8,954.3 1130.1,954.8 1129.4,955.1 1128.7,956.7 1128.0,956.7 1127.3,957.7 1126.6,956.7 1125.9,958.6 1125.2,959.2 1124.5,960.2 1123.8,960.9 1123.1,961.1 1122.4,961.0 1121.7,960.8 1121.0,960.9 1120.3,961.2 1119.6,964.4 1118.9,965.1 1118.2,964.4 1117.5,964.2 1116.8,966.3 1116.1,967.0 1115.4,968.4 1114.7,967.2 1114.0,968.8 1113.3,968.7 1112.6,970.1 1111.9,971.8 1111.2,972.5 1110.5,971.2 1109.8,973.4 1109.1,974.1 1108.4,972.7 1107.7,973.0 1107.0,974.0 1106.3,974.7 1105.6,972.4 1104.9,973.3 1104.2,974.3 1103.5,974.6 1102.8,974.4 1102.1,973.7 1101.4,973.2 1100.7,974.5 1100.0,974.4 1099.3,974.3 1098.6,973.9 1097.9,974.1 1097.2,973.4 1096.5,973.5 1095.8,971.0 1095.1,973.6 1094.4,974.4 1093.7,973.2 1093.0,973.0 1092.3,973.0 1091.6,976.0 1090.9,971.2 1090.2,972.2 1089.5,972.4 1088.8,972.1 1088.1,971.7 1087.4,971.4 1086.7,971.7 1086.0,970.0 1085.3,971.1 1084.6,969.7 1083.9,968.3 1083.2,970.2 1082.5,969.4 1081.8,968.1 1081.1,969.3 1080.4,968.2 1079.7,967.5 1079.0,968.4 1078.3,965.9 1077.6,966.8 1076.9,966.0 1076.2,966.8 1075.5,965.0 1074.8,965.9 1074.1,965.3 1073.4,965.1 1072.7,964.7 1072.0,962.4 1071.3,962.4 1070.6,963.6 1069.9,964.6 1069.2,960.6 1068.5,959.5 1067.8,960.7 1067.1,960.2 1066.4,959.8 1065.7,959.2 1065.0,958.6 1064.3,962.2 1063.6,957.5 1062.9,957.1 1062.2,956.1 1061.5,955.9 1060.8,955.2 1060.1,954.3 1059.4,952.7 1058.7,951.9 1058.0,950.6 1057.3,952.1 1056.6,950.6 1055.9,949.4 1055.2,950.4 1054.5,950.3 1053.8,949.5 1053.1,949.3 1052.4,948.3 1051.7,947.0 1051.0,946.2 1050.3,945.5 1049.6,947.9 1048.9,948.0 1048.2,945.4 1047.5,948.2 1046.8,951.5 1046.1,948.5 1045.4,948.5 1044.7,946.6 1044.0,946.9 1043.3,946.7 1042.6,947.3 1041.9,948.4 1041.2,949.0 1040.5,948.3 1039.8,947.9 1039.1,948.8 1038.4,949.8 1037.7,949.6 1037.0,948.7 1036.3,949.9 1035.6,947.7 1034.9,950.3 1034.2,950.0 1033.5,950.6 1032.8,948.3 1032.1,951.0 1031.4,950.5 1030.7,949.8 1030.0,949.3 1029.3,948.9 1028.6,951.3 1027.9,951.7 1027.2,951.2 1026.5,950.7 1025.8,952.1 1025.1,951.0 1024.4,950.4 1023.7,952.4 1023.0,952.4 1022.3,952.5 1021.6,950.2 1020.9,951.6 1020.2,952.2 1019.5,953.2 1018.8,950.8 1018.1,951.8 1017.4,950.7 1016.7,948.7 1016.0,951.5 1015.3,950.6 1014.6,949.8 1013.9,950.5 1013.2,950.9 1012.5,950.0 1011.8,950.4 1011.1,949.8 1010.4,954.8 1009.7,949.9 1009.0,948.8 1008.3,949.5 1007.6,949.5 1006.9,949.7 1006.2,948.9 1005.5,949.4 1004.8,948.7 1004.1,948.0 1003.4,948.6 1002.7,946.2 1002.0,948.6 1001.3,946.7 1000.6,947.5 999.9,946.8 999.2,947.3 998.5,945.9 997.8,946.5 997.1,946.0 996.4,945.0 995.7,950.2 995.0,944.8 994.3,943.1 993.6,944.5 992.9,942.8 992.2,940.8 991.5,940.4 990.8,942.7 990.1,942.0 989.4,944.1 988.7,940.8 988.0,937.4 987.3,938.3 986.6,938.9 985.9,938.3 985.2,937.6 984.5,934.9 983.8,935.6 983.1,934.3 982.4,932.9 981.7,931.6 981.0,932.4 980.3,934.9 979.6,933.8 978.9,931.1 978.2,933.4 977.5,931.7 976.8,933.0 976.1,932.5 975.4,932.7 974.7,931.3 974.0,929.9 973.3,930.4 972.6,932.2 971.9,931.5 971.2,929.0 970.5,930.7 969.8,928.9 969.1,929.8 968.4,930.9 967.7,933.1 967.0,930.2 966.3,928.4 965.6,929.4 964.9,929.8 964.2,929.5 963.5,928.2 962.8,927.8 962.1,928.7 961.4,927.7 960.7,928.7 960.0,928.9 959.3,929.1 958.6,927.7 957.9,927.5 957.2,926.8 956.5,926.1 955.8,926.1 955.1,928.2 954.4,928.9 953.7,928.9 953.0,928.9 952.3,926.6 951.6,932.0 950.9,928.7 950.2,927.9 949.5,926.5 948.8,928.3 948.1,928.6 947.4,925.8 946.7,928.5 946.0,927.4 945.3,928.5 944.6,927.5 943.9,927.7 943.2,928.2 942.5,927.5 941.8,928.3 941.1,928.0 940.4,925.3 939.7,927.6 939.0,927.2 938.3,927.2 937.6,925.3 936.9,927.6 936.2,926.0 935.5,927.0 934.8,926.2 934.1,924.8 933.4,927.1 932.7,927.1 932.0,926.7 931.3,925.8 930.6,923.9 929.9,925.4 929.2,931.0 928.5,926.1 927.8,924.8 927.1,926.2 926.4,926.1 925.7,925.6 925.0,925.8 924.3,923.5 923.6,924.3 922.9,923.6 922.2,925.4 921.5,922.8 920.8,923.0 920.1,924.2 919.4,922.1 918.7,922.5 918.0,923.2 917.3,924.5 916.6,921.5 915.9,924.4 915.2,922.8 914.5,924.1 913.8,922.7 913.1,923.4 912.4,922.5 911.7,921.2 911.0,922.8 910.3,922.8 909.6,922.2 908.9,921.3 908.2,920.3 907.5,921.6 906.8,921.7 906.1,921.4 905.4,922.1 904.7,924.6 904.0,919.3 903.3,920.9 902.6,918.8 901.9,921.4 901.2,919.2 900.5,919.2 899.8,921.1 899.1,921.1 898.4,920.0 897.7,919.7 897.0,918.2 896.3,918.7 895.6,920.2 894.9,919.2 894.2,917.6 893.5,918.0 892.8,918.9 892.1,920.0 891.4,920.0 890.7,917.6 890.0,919.9 889.3,917.7 888.6,924.5 887.9,917.6 887.2,918.7 886.5,919.4 885.8,918.3 885.1,919.1 884.4,919.1 883.7,916.6 883.0,916.3 882.3,916.9 881.6,915.9 880.9,918.2 880.2,917.0 879.5,916.4 878.8,915.1 878.1,916.9 877.4,916.9 876.7,916.3 876.0,919.0 875.3,916.2 874.6,916.7 873.9,915.7 873.2,915.9 872.5,915.5 871.8,915.1 871.1,913.8 870.4,915.9 869.7,913.9 869.0,915.6 868.3,914.1 867.6,914.9 866.9,912.6 866.2,915.0 865.5,914.9 864.8,913.8 864.1,913.3 863.4,914.7 862.7,914.0 862.0,913.7 861.3,914.3 860.6,914.8 859.9,911.8 859.2,913.4 858.5,912.3 857.8,913.7 857.1,912.5 856.4,911.9 855.7,913.0 855.0,914.3 854.3,914.4 853.6,914.4 852.9,912.5 852.2,914.3 851.5,912.3 850.8,912.8 850.1,912.7 849.4,914.1 848.7,913.8 848.0,914.1 847.3,916.8 846.6,913.6 845.9,913.1 845.2,913.0 844.5,913.3 843.8,911.3 843.1,914.7 842.4,910.3 841.7,912.7 841.0,912.6 840.3,912.4 839.6,910.9 838.9,911.1 838.2,909.1 837.5,911.8 836.8,911.6 836.1,908.7 835.4,910.1 834.7,911.2 834.0,911.1 833.3,911.0 832.6,909.7 831.9,908.2 831.2,909.7 830.5,909.6 829.8,911.2 829.1,908.7 828.4,911.1 827.7,910.9 827.0,911.5 826.3,911.2 825.6,911.4 824.9,911.7 824.2,909.0 823.5,909.6 822.8,909.4 822.1,910.7 821.4,912.0 820.7,910.3 820.0,910.8 819.3,911.2 818.6,911.6 817.9,910.5 817.2,911.8 816.5,910.6 815.8,910.5 815.1,911.6 814.4,911.0 813.7,910.9 813.0,911.5 812.3,909.8 811.6,909.1 810.9,911.4 810.2,910.0 809.5,911.2 808.8,909.4 808.1,909.6 807.4,911.6 806.7,911.8 806.0,908.8 805.3,911.2 804.6,908.2 803.9,909.7 803.2,907.6 802.5,907.5 801.8,909.2 801.1,908.8 800.4,906.8 799.7,908.3 799.0,908.7 798.3,908.9 797.6,908.4 796.9,912.8 796.2,910.1 795.5,910.2 794.8,910.9 794.1,912.0 793.4,913.0 792.7,913.6 792.0,914.0 791.3,913.2 790.6,914.1 789.9,914.2 789.2,914.2 788.5,913.8 787.8,912.0 787.1,914.4 786.4,914.5 785.7,914.6 785.0,912.0 784.3,914.7 783.6,916.7 782.9,914.7 782.2,914.3 781.5,914.6 780.8,912.1 780.1,913.6 779.4,912.9 778.7,912.6 778.0,914.5 777.3,914.8 776.6,914.6 775.9,912.9 775.2,914.4 774.5,916.2 773.8,915.9 773.1,916.1 772.4,917.3 771.7,915.2 771.0,915.0 770.3,917.7 769.6,916.7 768.9,918.3 768.2,917.3 767.5,918.0 766.8,917.1 766.1,918.0 765.4,919.1 764.7,917.5 764.0,917.4 763.3,917.5 762.6,918.1 761.9,920.0 761.2,917.9 760.5,918.3 759.8,917.6 759.1,919.8 758.4,919.0 757.7,920.3 757.0,921.1 756.3,921.4 755.6,918.0 754.9,918.6 754.2,918.6 753.5,918.6 752.8,916.5 752.1,917.6 751.4,918.6 750.7,917.5 750.0,916.4 749.3,918.6 748.6,918.1 747.9,915.8 747.2,918.4 746.5,917.7 745.8,920.0 745.1,920.4 744.4,920.7 743.7,920.5 743.0,919.9 742.3,922.3 741.6,922.1 740.9,922.7 740.2,918.7 739.5,921.2 738.8,921.0 738.1,920.7 737.4,917.6 736.7,919.8 736.0,919.8 735.3,920.8 734.6,921.2 733.9,920.3 733.2,919.8 732.5,922.8 731.8,920.8 731.1,921.2 730.4,922.8 729.7,922.1 729.0,925.4 728.3,925.9 727.6,926.3 726.9,925.4 726.2,927.0 725.5,927.6 724.8,927.6 724.1,925.3 723.4,926.0 722.7,925.1 722.0,924.9 721.3,926.1 720.6,921.4 719.9,921.5 719.2,921.9 718.5,922.2 717.8,922.6 717.1,921.7 716.4,920.9 715.7,922.3 715.0,923.9 714.3,922.5 713.6,925.5 712.9,924.4 712.2,927.4 711.5,929.0 710.8,928.3 710.1,927.6 709.4,928.8 708.7,927.9 708.0,929.0 707.3,932.4 706.6,927.3 705.9,929.1 705.2,928.7 704.5,927.3 703.8,929.5 703.1,931.5 702.4,927.8 701.7,929.6 701.0,932.7 700.3,927.7 699.6,928.1 698.9,927.9 698.2,927.7 697.5,925.5 696.8,925.1 696.1,926.7 695.4,926.1 694.7,925.1 694.0,924.3 693.3,925.7 692.6,927.1 691.9,928.2 691.2,928.0 690.5,929.8 689.8,929.9 689.1,929.8 688.4,928.3 687.7,927.3 687.0,929.5 686.3,928.8 685.6,929.8 684.9,928.1 684.2,929.8 683.5,928.2 682.8,928.9 682.1,927.3 681.4,929.9 680.7,931.0 680.0,928.8 679.3,927.0 678.6,928.9 677.9,928.0 677.2,929.7 676.5,929.8 675.8,929.4 675.1,928.7 674.4,929.7 673.7,932.9 673.0,930.5 672.3,929.4 671.6,928.8 670.9,927.8 670.2,928.9 669.5,933.4 668.8,926.9 668.1,928.3 667.4,926.9 666.7,927.5 666.0,929.4 665.3,929.2 664.6,929.3 663.9,928.6 663.2,927.9 662.5,927.4 661.8,926.9 661.1,929.3 660.4,927.1 659.7,928.6 659.0,928.4 658.3,927.5 657.6,928.1 656.9,927.1 656.2,927.5 655.5,927.4 654.8,925.8 654.1,927.2 653.4,927.1 652.7,927.4 652.0,927.1 651.3,924.4 650.6,926.5 649.9,925.5 649.2,926.4 648.5,926.1 647.8,924.3 647.1,926.2 646.4,925.7 645.7,926.2 645.0,924.6 644.3,926.1 643.6,925.8 642.9,924.7 642.2,924.4 641.5,925.4 640.8,925.0 640.1,923.8 639.4,923.8 638.7,925.1 638.0,925.2 637.3,923.5 636.6,928.1 635.9,924.8 635.2,925.0 634.5,924.1 633.8,926.7 633.1,924.8 632.4,923.7 631.7,924.2 631.0,925.5 630.3,923.9 629.6,923.1 628.9,925.6 628.2,923.8 627.5,924.4 626.8,922.9 626.1,925.0 625.4,923.3 624.7,923.5 624.0,923.6 623.3,924.9 622.6,923.6 621.9,925.0 621.2,923.4 620.5,925.8 619.8,925.9 619.1,925.6 618.4,926.1 617.7,926.1 617.0,923.6 616.3,926.3 615.6,926.0 614.9,926.2 614.2,925.7 613.5,926.0 612.8,925.5 612.1,924.9 611.4,925.2 610.7,925.0 610.0,924.5 609.3,924.1 608.6,926.0 607.9,925.0 607.2,923.6 606.5,928.1 605.8,924.6 605.1,923.4 604.4,926.0 603.7,925.7 603.0,924.0 602.3,924.2 601.6,925.6 600.9,925.5 600.2,924.9 599.5,922.9 598.8,925.5 598.1,925.6 597.4,924.4 596.7,925.4 596.0,924.6 595.3,924.8 594.6,925.6 593.9,925.0 593.2,925.1 592.5,923.0 591.8,925.4 591.1,924.6 590.4,925.1 589.7,924.5 589.0,925.4 588.3,922.9 587.6,925.2 586.9,925.3 586.2,923.4 585.5,925.1 584.8,922.8 584.1,925.1 583.4,922.8 582.7,923.8 582.0,922.9 581.3,923.4 580.6,923.3 579.9,925.9 579.2,925.3 578.5,925.5 577.8,924.9 577.1,925.5 576.4,925.9 575.7,925.1 575.0,926.1 574.3,925.3 573.6,926.2 572.9,926.5 572.2,924.1 571.5,926.5 570.8,925.6 570.1,925.0 569.4,925.8 568.7,926.9 568.0,926.7 567.3,926.1 566.6,927.0 565.9,927.2 565.2,926.8 564.5,926.2 563.8,926.7 563.1,925.5 562.4,925.6 561.7,927.5 561.0,925.8 560.3,931.7 559.6,925.7 558.9,928.0 558.2,927.7 557.5,927.6 556.8,928.2 556.1,927.3 555.4,927.6 554.7,928.4 554.0,926.4 553.3,928.3 552.6,926.6 551.9,928.7 551.2,927.4 550.5,928.9 549.8,926.6 549.1,929.1 548.4,928.9 547.7,928.1 547.0,929.5 546.3,928.5 545.6,928.1 544.9,929.6 544.2,929.0 543.5,927.9 542.8,929.8 542.1,930.0 541.4,929.3 540.7,929.8 540.0,929.6 539.3,929.7 538.6,929.9 537.9,928.1 537.2,930.3 536.5,928.6 535.8,930.3 535.1,928.8 534.4,929.2 533.7,930.1 533.0,928.0 532.3,930.2 531.6,927.9 530.9,928.7 530.2,930.2 529.5,929.6 528.8,930.9 528.1,930.2 527.4,930.8 526.7,928.3 526.0,930.6 525.3,928.5 524.6,931.5 523.9,930.9 523.2,931.9 522.5,930.7 521.8,930.6 521.1,934.2 520.4,931.9 519.7,932.6 519.0,932.7 518.3,930.2 517.6,932.6 516.9,931.5 516.2,932.5 515.5,933.7 514.8,933.3 514.1,934.4 513.4,934.6 512.7,934.2 512.0,934.2 511.3,937.1 510.6,936.1 509.9,936.2 509.2,935.6 508.5,936.9 507.8,942.1 507.1,937.9 506.4,937.1 505.7,938.1 505.0,937.9 504.3,943.3 503.6,939.1 502.9,937.7 502.2,937.6 501.5,937.3 500.8,937.2 500.1,938.9 499.4,936.7 498.7,937.7 498.0,938.4 497.3,936.4 496.6,938.6 495.9,938.3 495.2,937.6 494.5,938.4 493.8,936.3 493.1,937.5 492.4,937.9 491.7,938.5 491.0,937.3 490.3,938.3 489.6,936.5 488.9,938.9 488.2,936.7 487.5,938.5 486.8,937.3 486.1,937.8 485.4,939.2 484.7,939.5 484.0,938.2 483.3,938.8 482.6,938.1 481.9,939.9 481.2,939.6 480.5,937.7 479.8,939.9 479.1,939.4 478.4,938.8 477.7,940.2 477.0,940.2 476.3,940.5 475.6,940.4 474.9,939.0 474.2,943.6 473.5,940.7 472.8,940.0 472.1,940.6 471.4,938.6 470.7,939.4 470.0,940.3 469.3,941.3 468.6,940.3 467.9,940.1 467.2,940.9 466.5,940.3 465.8,940.3 465.1,939.6 464.4,940.3 463.7,937.7 463.0,938.6 462.3,938.5 461.6,938.0 460.9,940.0 460.2,939.8 459.5,938.4 458.8,939.4 458.1,939.1 457.4,937.1 456.7,938.4 456.0,937.6 455.3,938.9 454.6,939.1 453.9,938.4 453.2,939.5 452.5,938.4 451.8,938.0 451.1,937.4 450.4,938.4 449.7,938.3 449.0,938.1 448.3,938.0 447.6,937.2 446.9,934.7 446.2,935.9 445.5,935.0 444.8,934.4 444.1,935.1 443.4,935.8 442.7,936.0 442.0,935.8 441.3,934.0 440.6,933.8 439.9,936.3 439.2,934.2 438.5,934.8 437.8,937.2 437.1,935.7 436.4,935.1 435.7,935.5 435.0,933.9 434.3,933.8 433.6,934.1 432.9,934.7 432.2,932.4 431.5,934.1 430.8,934.5 430.1,934.0 429.4,934.1 428.7,931.8 428.0,931.4 427.3,931.3 426.6,933.5 425.9,931.0 425.2,933.0 424.5,932.9 423.8,935.3 423.1,932.6 422.4,932.1 421.7,930.6 421.0,932.0 420.3,935.3 419.6,930.2 418.9,930.7 418.2,930.9 417.5,931.2 416.8,931.0 416.1,928.2 415.4,930.5 414.7,929.7 414.0,930.1 413.3,930.1 412.6,929.4 411.9,927.4 411.2,929.5 410.5,928.7 409.8,929.0 409.1,928.4 408.4,927.9 407.7,927.5 407.0,926.1 406.3,925.2 405.6,926.4 404.9,924.5 404.2,925.7 403.5,925.5 402.8,925.0 402.1,924.5 401.4,926.3 400.7,924.1 400.0,926.0 399.3,921.9 398.6,923.2 397.9,924.5 397.2,923.9 396.5,923.3 395.8,924.0 395.1,921.7 394.4,923.3 393.7,922.4 393.0,923.5 392.3,923.0 391.6,921.6 390.9,920.7 390.2,920.5 389.5,921.6 388.8,921.3 388.1,921.4 387.4,919.9 386.7,921.6 386.0,921.4 385.3,919.8 384.6,920.3 383.9,919.3 383.2,921.4 382.5,920.8 381.8,920.6 381.1,920.5 380.4,919.9 379.7,919.7 379.0,919.5 378.3,919.6 377.6,916.8 376.9,919.5 376.2,916.8 375.5,916.3 374.8,916.7 374.1,918.4 373.4,918.3 372.7,918.0 372.0,916.5 371.3,916.2 370.6,915.9 369.9,917.4 369.2,917.2 368.5,914.2 367.8,916.8 367.1,915.7 366.4,916.3 365.7,913.5 365.0,915.7 364.3,914.6 363.6,914.8 362.9,915.2 362.2,914.6 361.5,913.4 360.8,913.6 360.1,913.4 359.4,913.7 358.7,910.7 358.0,912.8 357.3,912.9 356.6,912.5 355.9,912.0 355.2,910.5 354.5,910.9 353.8,910.8 353.1,909.3 352.4,910.7 351.7,909.1 351.0,908.6 350.3,909.5 349.6,908.2 348.9,909.7 348.2,908.2 347.5,907.4 346.8,907.4 346.1,905.4 345.4,905.2 344.7,905.9 344.0,905.2 343.3,903.7 342.6,905.0 341.9,903.3 341.2,903.1 340.5,901.9 339.8,904.3 339.1,903.1 338.4,901.8 337.7,903.0 337.0,903.2 336.3,902.2 335.6,902.9 334.9,901.2 334.2,902.6 333.5,902.4 332.8,900.7 332.1,902.9 331.4,903.2 330.7,903.3 330.0,903.7 329.3,903.3 328.6,903.9 327.9,904.0 327.2,902.9 326.5,903.3 325.8,905.3 325.1,907.6 324.4,908.9 323.7,906.5 323.0,903.9 322.3,907.1 321.6,904.9 320.9,907.6 320.2,905.3 319.5,907.4 318.8,908.5 318.1,908.3 317.4,906.1 316.7,906.1 316.0,908.5 315.3,907.1 314.6,905.7 313.9,907.4 313.2,906.7 312.5,912.0 311.8,905.8 311.1,906.9 310.4,907.4 309.7,906.9 309.0,908.0 308.3,907.6 307.6,908.3 306.9,908.1 306.2,905.5 305.5,908.1 304.8,907.9 304.1,907.7 303.4,907.4 302.7,908.7 302.0,906.1 301.3,906.6 300.6,903.9 299.9,905.6 299.2,905.6 298.5,904.1 297.8,903.9 297.1,903.9 296.4,904.2 295.7,903.3 295.0,902.4 294.3,904.2 293.6,904.3 292.9,903.4 292.2,901.6 291.5,903.3 290.8,903.5 290.1,902.0 289.4,902.7 288.7,906.0 288.0,901.1 287.3,902.4 286.6,900.0 285.9,900.2 285.2,901.4 284.5,901.5 283.8,901.2 283.1,898.6 282.4,900.0 281.7,899.0 281.0,900.4 280.3,899.7 279.6,898.7 278.9,899.6 278.2,897.5 277.5,899.2 276.8,898.4 276.1,898.9 275.4,896.2 274.7,898.1 274.0,897.9 273.3,895.3 272.6,896.4 271.9,897.4 271.2,897.2 270.5,896.4 269.8,896.4 269.1,896.7 268.4,896.6 267.7,895.5 267.0,895.4 266.3,894.8 265.6,895.6 264.9,894.2 264.2,895.3 263.5,892.5 262.8,895.0 262.1,895.2 261.4,895.2 260.7,895.2 260.0,895.3 259.3,895.0 258.6,892.8 257.9,893.1 257.2,895.0 256.5,894.6 255.8,894.6 255.1,893.6 254.4,894.8 253.7,894.4 253.0,895.4 252.3,893.3 251.6,895.4 250.9,896.4 250.2,896.7 249.5,895.9 248.8,896.7 248.1,895.1 247.4,896.1 246.7,898.3 246.0,899.4 245.3,897.6 244.6,900.9 243.9,900.0 243.2,902.8 242.5,905.6 241.8,902.5 241.1,904.7 240.4,904.8 239.7,905.3 239.0,904.8 238.3,903.4 237.6,902.4 236.9,901.3 236.2,902.0 235.5,901.8 234.8,898.5 234.1,900.7 233.4,901.2 232.7,902.4 232.0,903.0 231.3,905.2 230.6,904.9 229.9,905.3 229.2,906.8 228.5,909.5 227.8,909.8 227.1,909.6 226.4,912.1 225.7,913.2 225.0,912.2 224.3,912.0 223.6,915.1 222.9,914.8 222.2,915.7 221.5,916.6 220.8,917.8 220.1,918.9 219.4,918.6 218.7,920.5 218.0,920.2 217.3,921.7 216.6,921.9 215.9,921.4 215.2,920.2 214.5,924.3 213.8,920.2 213.1,919.7 212.4,919.2 211.7,917.2 211.0,916.5 210.3,918.1 209.6,916.6 208.9,917.1 208.2,917.7 207.5,917.7 206.8,920.2 206.1,921.1 205.4,920.6 204.7,920.8 204.0,923.3 203.3,923.8 202.6,922.0 201.9,922.0 201.2,924.9 200.5,925.3 199.8,923.6 199.1,923.2 198.4,923.4 197.7,926.6 197.0,925.3 196.3,926.2 195.6,927.5 194.9,925.6 194.2,927.3 193.5,928.5 192.8,927.7 192.1,929.1 191.4,928.8 190.7,928.6 190.0,929.5 189.3,928.9 188.6,931.8 187.9,931.5 187.2,931.2 186.5,931.3 185.8,934.6 185.1,935.0 184.4,934.9 183.7,936.8 183.0,937.0 182.3,937.2 181.6,938.7 180.9,938.3 180.2,940.4 179.5,939.9 178.8,941.0 178.1,942.8 177.4,942.1 176.7,949.1 176.0,944.1 175.3,947.4 174.6,948.8 173.9,953.6 173.2,949.2 172.5,951.5 171.8,952.6 171.1,952.1 170.4,955.4 169.7,953.5 169.0,957.2 168.3,957.4 167.6,958.1 166.9,957.9 166.2,960.9 165.5,959.7" fill="#00ff00" stroke="#00ff00" stroke-width="0.6" stroke-linejoin="miter"/>
</g>
<text class="lg" transform="translate(1170.3,890.4) rotate(-90)">Inboard</text>
<text class="lg" transform="translate(1182.3,902.4) rotate(-90)">Outboard</text>
<path d="M1165.0 957.0 V972.0" stroke="#0000ff" stroke-width="1.6"/>
<path d="M1180.0 957.0 V972.0" stroke="#00ff00" stroke-width="1.6"/>
<path d="M247.5 1072.5 V1233.5" stroke="#dcdcdc" stroke-width="1"/>
<path d="M534.5 1072.5 V1233.5" stroke="#dcdcdc" stroke-width="1"/>
<path d="M821.5 1072.5 V1233.5" stroke="#dcdcdc" stroke-width="1"/>
<path d="M1109.5 1072.5 V1233.5" stroke="#dcdcdc" stroke-width="1"/>
<path d="M165.5 1205.5 H1154.5" stroke="#dcdcdc" stroke-width="1"/>
<path d="M165.5 1150.5 H1154.5" stroke="#dcdcdc" stroke-width="1"/>
<path d="M165.5 1095.5 H1154.5" stroke="#dcdcdc" stroke-width="1"/>
<rect x="165.5" y="1072.5" width="989.0" height="161.0" fill="none" stroke="#262626" stroke-width="1"/>
<path d="M247.5 1233.5 v-10 M247.5 1072.5 v10 M534.5 1233.5 v-10 M534.5 1072.5 v10 M821.5 1233.5 v-10 M821.5 1072.5 v10 M1109.5 1233.5 v-10 M1109.5 1072.5 v10 M165.5 1205.5 h10 M1154.5 1205.5 h-10 M165.5 1150.5 h10 M1154.5 1150.5 h-10 M165.5 1095.5 h10 M1154.5 1095.5 h-10" stroke="#262626" stroke-width="1" fill="none"/>
<text class="tk" x="156.4" y="1212.20" text-anchor="end">-10</text>
<text class="tk" x="156.4" y="1157.20" text-anchor="end">-5</text>
<text class="tk" x="156.4" y="1102.20" text-anchor="end">0</text>
<text class="yl" transform="translate(85.8,1153.0) rotate(-90)">Temperature</text>
<text class="yl" transform="translate(111.2,1153.0) rotate(-90)">(°C)</text>
<clipPath id="c5"><rect x="165.0" y="1072.5" width="990.0" height="161.0"/></clipPath>
<g clip-path="url(#c5)">
<polyline points="166.0,1114.2 176.0,1110.2 187.0,1106.2 213.0,1100.9 248.0,1098.2 285.0,1095.0 333.0,1091.5 400.0,1086.7 427.0,1085.2 499.0,1084.9 570.0,1085.2 600.0,1087.7 650.0,1087.7 700.0,1087.2 740.0,1087.7 800.0,1089.2 860.0,1090.7 900.0,1092.2 1154.0,1092.4" fill="none" stroke="#0000ff" stroke-width="1"/>
<path d="M166.0 1111.4h7.4v3.2h-7.4zM174.2 1108.1h9.1v3.2h-9.1zM184.6 1104.3h12.5v3.2h-12.5zM197.5 1101.3h6.1v3.2h-6.1zM204.9 1099.8h11.7v3.2h-11.7zM218.0 1097.7h5.3v3.2h-5.3zM224.0 1097.2h7.5v3.2h-7.5zM232.9 1096.6h10.5v3.2h-10.5zM244.0 1095.7h5.8v3.2h-5.8zM262.1 1094.2h5.0v3.2h-5.0zM268.5 1093.6h7.6v3.2h-7.6zM277.4 1092.9h7.6v3.2h-7.6zM296.2 1091.4h12.5v3.2h-12.5z" fill="#0000ff"/>
<path d="M310.7 1090.3h3.8v3.2h-3.8zM315.4 1090.0h11.2v3.2h-11.2zM327.9 1089.1h3.9v3.2h-3.9zM332.6 1088.7h10.2v3.2h-10.2zM344.1 1087.9h9.9v3.2h-9.9zM362.5 1086.6h4.8v3.2h-4.8zM393.8 1084.3h13.0v3.2h-13.0z" fill="#0000ff"/>
<path d="M400.0 1083.9h3.3v3.2h-3.3zM404.7 1083.6h11.2v3.2h-11.2zM423.1 1082.6h5.2v3.2h-5.2zM429.4 1082.4h6.0v3.2h-6.0zM436.7 1082.4h4.1v3.2h-4.1zM441.6 1082.3h7.7v3.2h-7.7zM450.5 1082.3h10.7v3.2h-10.7zM462.6 1082.3h10.9v3.2h-10.9zM474.1 1082.2h10.3v3.2h-10.3zM485.3 1082.2h11.9v3.2h-11.9zM497.8 1082.1h11.2v3.2h-11.2zM509.6 1082.1h8.7v3.2h-8.7zM519.5 1082.2h7.0v3.2h-7.0zM527.7 1082.2h10.0v3.2h-10.0zM538.8 1082.3h5.6v3.2h-5.6zM544.9 1082.3h6.4v3.2h-6.4zM551.8 1082.3h6.1v3.2h-6.1zM558.6 1082.4h8.1v3.2h-8.1zM568.0 1082.4h6.0v3.2h-6.0zM574.3 1082.8h11.9v3.2h-11.9z" fill="#0000ff"/>
<path d="M575.0 1084.1h12.1v2.5h-12.1zM587.6 1085.2h3.9v2.5h-3.9zM592.7 1085.6h3.9v2.5h-3.9zM597.0 1085.9h5.1v2.5h-5.1zM603.2 1086.2h12.4v2.5h-12.4zM616.2 1086.2h3.6v2.5h-3.6zM620.2 1086.2h3.0v2.5h-3.0zM632.6 1086.2h3.9v2.5h-3.9z" fill="#0000ff"/>
<path d="M650.0 1084.5h6.5v3.0h-6.5zM657.3 1084.4h5.8v3.0h-5.8zM676.7 1084.2h6.8v3.0h-6.8zM684.1 1084.2h4.1v3.0h-4.1zM688.9 1084.1h11.0v3.0h-11.0zM700.4 1084.0h7.8v3.0h-7.8zM708.8 1084.1h7.5v3.0h-7.5zM717.1 1084.2h12.9v3.0h-12.9zM730.5 1084.4h12.2v3.0h-12.2zM743.5 1084.6h4.9v3.0h-4.9z" fill="#0000ff"/>
<path d="" fill="#0000ff"/>
<path d="M780.0 1086.3h12.3v3.2h-12.3zM793.2 1086.6h6.0v3.2h-6.0zM799.5 1086.8h8.0v3.2h-8.0zM808.9 1087.0h3.9v3.2h-3.9zM823.2 1087.4h4.3v3.2h-4.3zM828.8 1087.5h3.3v3.2h-3.3zM833.2 1087.6h7.2v3.2h-7.2zM840.8 1087.8h10.6v3.2h-10.6zM852.3 1088.1h9.8v3.2h-9.8z" fill="#0000ff"/>
<path d="M860.0 1088.1h6.7v3.0h-6.7zM867.0 1088.4h10.8v3.0h-10.8zM878.8 1088.8h5.5v3.0h-5.5zM884.9 1089.0h6.2v3.0h-6.2zM892.5 1089.3h11.3v3.0h-11.3zM904.3 1089.6h5.9v3.0h-5.9zM911.1 1089.6h11.5v3.0h-11.5zM923.4 1089.6h12.8v3.0h-12.8zM936.9 1089.6h5.7v3.0h-5.7zM943.4 1089.6h4.2v3.0h-4.2zM949.1 1089.6h11.8v3.0h-11.8zM962.2 1089.6h7.9v3.0h-7.9zM971.2 1089.7h5.0v3.0h-5.0zM977.2 1089.7h6.0v3.0h-6.0zM983.7 1089.7h9.4v3.0h-9.4z" fill="#0000ff"/>
<path d="M994.0 1090.6h11.2v3.0h-11.2zM1030.0 1090.6h8.9v3.0h-8.9zM1039.5 1090.6h3.8v3.0h-3.8z" fill="#0000ff"/>
<path d="M1040.0 1089.7h4.6v3.0h-4.6zM1045.4 1089.7h8.9v3.0h-8.9zM1055.5 1089.7h9.1v3.0h-9.1zM1066.0 1089.7h4.4v3.0h-4.4zM1070.7 1089.7h12.1v3.0h-12.1zM1083.6 1089.7h11.4v3.0h-11.4zM1096.4 1089.8h12.0v3.0h-12.0zM1117.1 1089.8h6.6v3.0h-6.6zM1124.5 1089.8h12.3v3.0h-12.3zM1138.0 1089.8h12.0v3.0h-12.0zM1151.1 1089.8h8.0v3.0h-8.0z" fill="#0000ff"/>
<polygon points="165.5,1208.1 168.7,1208.1 168.7,1206.9 169.9,1206.9 169.9,1206.8 171.1,1206.8 171.1,1206.7 171.9,1206.7 171.9,1206.6 173.1,1206.6 173.1,1207.5 173.9,1207.5 174.0,1205.2 177.2,1205.2 177.2,1206.2 179.6,1206.2 179.6,1206.1 180.4,1206.1 180.4,1207.0 182.0,1207.0 182.0,1206.4 182.8,1206.4 182.8,1204.7 184.0,1204.7 184.0,1206.2 187.2,1206.2 187.2,1206.0 188.8,1206.0 188.8,1206.0 189.6,1206.0 189.6,1205.5 190.4,1205.5 190.5,1205.5 192.9,1205.5 192.9,1205.9 193.7,1205.9 193.7,1205.9 194.5,1205.9 194.5,1205.9 195.7,1205.9 195.7,1205.4 198.9,1205.4 198.9,1205.4 202.1,1205.4 202.1,1205.9 204.5,1205.9 204.5,1205.4 205.7,1205.4 205.7,1205.8 208.1,1205.8 208.1,1205.8 210.5,1205.8 210.6,1205.8 211.8,1205.8 211.8,1204.0 213.0,1204.0 213.0,1205.3 214.6,1205.3 214.6,1205.3 217.8,1205.3 217.8,1205.7 219.4,1205.7 219.4,1205.2 220.2,1205.2 220.2,1206.2 221.4,1206.2 221.4,1205.2 223.8,1205.2 223.8,1205.2 224.6,1205.2 224.6,1205.2 227.8,1205.2 227.9,1205.2 229.5,1205.2 229.5,1205.2 232.7,1205.2 232.7,1205.6 233.5,1205.6 233.5,1205.6 235.9,1205.6 235.9,1205.6 237.1,1205.6 237.1,1205.1 238.7,1205.1 238.7,1205.1 239.9,1205.1 239.9,1206.1 242.3,1206.1 242.3,1205.0 243.1,1205.0 243.1,1206.0 244.3,1206.0 244.4,1205.5 245.2,1205.5 245.2,1205.0 246.0,1205.0 246.0,1205.5 246.8,1205.5 246.8,1206.0 250.0,1206.0 250.0,1205.5 251.6,1205.5 251.6,1205.0 252.4,1205.0 252.4,1205.5 253.6,1205.5 253.6,1204.9 254.4,1204.9 254.4,1204.9 255.2,1204.9 255.2,1204.9 256.4,1204.9 256.5,1205.9 258.9,1205.9 258.9,1205.9 259.7,1205.9 259.7,1205.4 260.5,1205.4 260.5,1204.9 261.3,1204.9 261.3,1204.9 262.1,1204.9 262.1,1204.8 262.9,1204.8 262.9,1205.3 263.7,1205.3 263.7,1204.8 264.9,1204.8 264.9,1205.3 266.5,1205.3 266.5,1204.8 267.7,1204.8 267.8,1205.3 269.0,1205.3 269.0,1205.3 269.8,1205.3 269.8,1205.8 271.4,1205.8 271.4,1204.7 272.2,1204.7 272.2,1205.7 273.8,1205.7 273.8,1205.2 274.6,1205.2 274.6,1205.2 275.4,1205.2 275.4,1204.7 276.2,1204.7 276.2,1204.7 279.4,1204.7 279.4,1204.7 280.6,1204.7 280.7,1205.6 281.5,1205.6 281.5,1205.1 282.3,1205.1 282.3,1204.6 284.7,1204.6 284.7,1205.6 285.5,1205.6 285.5,1205.1 286.3,1205.1 286.3,1204.6 289.5,1204.6 289.5,1205.0 291.9,1205.0 291.9,1204.5 293.5,1204.5 293.5,1205.0 294.3,1205.0 294.3,1204.4 295.5,1204.4 295.6,1204.3 297.2,1204.3 297.2,1204.2 300.4,1204.2 300.4,1203.9 301.6,1203.9 301.6,1204.3 303.2,1204.3 303.2,1203.7 306.4,1203.7 306.4,1204.4 308.8,1204.4 308.8,1203.7 310.0,1203.7 310.0,1203.6 310.8,1203.6 310.8,1204.1 314.0,1204.1 314.0,1202.8 315.2,1202.8 315.3,1203.7 318.5,1203.7 318.5,1203.0 320.1,1203.0 320.1,1203.3 321.7,1203.3 321.7,1202.2 322.5,1202.2 322.5,1202.1 323.3,1202.1 323.3,1202.1 324.1,1202.1 324.1,1202.5 325.3,1202.5 325.3,1202.4 328.5,1202.4 328.5,1201.7 329.3,1201.7 329.3,1201.6 330.9,1201.6 331.0,1202.5 332.2,1202.5 332.2,1202.4 333.8,1202.4 333.8,1201.3 336.2,1201.3 336.2,1202.2 337.0,1202.2 337.0,1201.6 337.8,1201.6 337.8,1201.6 341.0,1201.6 341.0,1202.0 341.8,1202.0 341.8,1200.9 342.6,1200.9 342.6,1201.9 343.8,1201.9 343.8,1200.9 345.4,1200.9 345.5,1200.8 346.3,1200.8 346.3,1200.8 349.5,1200.8 349.5,1201.1 350.3,1201.1 350.3,1201.1 351.1,1201.1 351.1,1199.5 352.7,1199.5 352.7,1199.9 353.5,1199.9 353.5,1201.5 354.3,1201.5 354.3,1200.4 356.7,1200.4 356.7,1201.4 358.3,1201.4 358.3,1200.8 359.1,1200.8 359.2,1200.3 360.0,1200.3 360.0,1200.7 360.8,1200.7 360.8,1200.2 361.6,1200.2 361.6,1200.7 364.0,1200.7 364.0,1198.3 367.2,1198.3 367.2,1199.9 369.6,1199.9 369.6,1200.3 370.4,1200.3 370.4,1200.3 372.8,1200.3 372.8,1199.7 375.2,1199.7 375.2,1198.5 376.8,1198.5 376.9,1200.1 377.7,1200.1 377.7,1198.5 380.9,1198.5 380.9,1199.5 381.7,1199.5 381.7,1199.5 384.1,1199.5 384.1,1200.4 384.9,1200.4 384.9,1199.4 386.5,1199.4 386.5,1199.8 388.9,1199.8 388.9,1199.8 390.1,1199.8 390.1,1199.3 392.5,1199.3 392.5,1199.7 394.1,1199.7 394.2,1200.2 397.4,1200.2 397.4,1199.6 399.0,1199.6 399.0,1199.0 399.8,1199.0 399.8,1199.5 400.6,1199.5 400.6,1199.0 401.8,1199.0 401.8,1199.0 404.2,1199.0 404.2,1197.1 405.4,1197.1 405.4,1199.9 407.0,1199.9 407.0,1199.3 409.4,1199.3 409.4,1198.8 411.0,1198.8 411.1,1199.7 411.9,1199.7 411.9,1199.2 413.5,1199.2 413.5,1199.7 415.1,1199.7 415.1,1199.1 415.9,1199.1 415.9,1199.1 417.1,1199.1 417.1,1199.6 417.9,1199.6 417.9,1199.0 419.5,1199.0 419.5,1198.5 420.3,1198.5 420.3,1198.5 421.5,1198.5 421.5,1197.2 423.1,1197.2 423.2,1198.4 424.0,1198.4 424.0,1199.4 424.8,1199.4 424.8,1198.4 425.6,1198.4 425.6,1198.3 426.8,1198.3 426.8,1198.3 430.0,1198.3 430.0,1198.2 431.2,1198.2 431.2,1198.7 432.0,1198.7 432.0,1199.1 434.4,1199.1 434.4,1198.1 436.8,1198.1 436.8,1198.0 440.0,1198.0 440.1,1197.9 441.7,1197.9 441.7,1198.3 444.9,1198.3 444.9,1197.7 446.1,1197.7 446.1,1198.2 448.5,1198.2 448.5,1197.6 449.3,1197.6 449.3,1197.6 452.5,1197.6 452.5,1197.5 453.7,1197.5 453.7,1198.4 456.9,1198.4 456.9,1197.8 460.1,1197.8 460.1,1197.2 461.3,1197.2 461.4,1197.7 462.2,1197.7 462.2,1197.7 464.6,1197.7 464.6,1197.1 465.8,1197.1 465.8,1198.1 467.4,1198.1 467.4,1197.5 469.8,1197.5 469.8,1197.4 470.6,1197.4 470.6,1196.9 473.0,1196.9 473.0,1197.3 473.8,1197.3 473.8,1197.8 475.0,1197.8 475.0,1196.8 475.8,1196.8 475.9,1196.7 478.3,1196.7 478.3,1197.7 479.1,1197.7 479.1,1197.6 480.3,1197.6 480.3,1197.6 481.1,1197.6 481.1,1197.1 481.9,1197.1 481.9,1196.5 482.7,1196.5 482.7,1196.5 483.9,1196.5 483.9,1197.0 485.1,1197.0 485.1,1196.4 487.5,1196.4 487.5,1197.4 488.7,1197.4 488.8,1196.3 492.0,1196.3 492.0,1197.2 492.8,1197.2 492.8,1196.2 494.4,1196.2 494.4,1196.6 496.0,1196.6 496.0,1196.6 498.4,1196.6 498.4,1196.5 499.2,1196.5 499.2,1196.0 500.8,1196.0 500.8,1196.9 501.6,1196.9 501.6,1196.3 504.8,1196.3 504.8,1195.5 505.6,1195.5 505.7,1196.5 507.3,1196.5 507.3,1195.4 508.1,1195.4 508.1,1195.8 511.3,1195.8 511.3,1195.6 512.1,1195.6 512.1,1195.0 513.7,1195.0 513.7,1195.4 516.9,1195.4 516.9,1194.6 517.7,1194.6 517.7,1194.6 520.1,1194.6 520.1,1194.4 520.9,1194.4 520.9,1194.3 521.7,1194.3 521.8,1194.2 523.0,1194.2 523.0,1194.2 524.6,1194.2 524.6,1194.0 527.0,1194.0 527.0,1194.3 528.6,1194.3 528.6,1193.7 531.8,1193.7 531.8,1194.0 534.2,1194.0 534.2,1193.3 535.0,1193.3 535.0,1193.3 535.8,1193.3 535.8,1192.0 539.0,1192.0 539.0,1193.2 540.2,1193.2 540.3,1193.2 541.5,1193.2 541.5,1193.7 543.9,1193.7 543.9,1193.1 545.5,1193.1 545.5,1193.1 546.3,1193.1 546.3,1193.1 547.1,1193.1 547.1,1193.6 548.7,1193.6 548.7,1193.0 551.9,1193.0 551.9,1191.9 552.7,1191.9 552.7,1193.0 554.3,1193.0 554.3,1192.9 557.5,1192.9 557.6,1192.9 560.0,1192.9 560.0,1192.8 560.8,1192.8 560.8,1193.8 564.0,1193.8 564.0,1192.8 565.6,1192.8 565.6,1193.7 566.4,1193.7 566.4,1193.2 567.2,1193.2 567.2,1192.7 568.0,1192.7 568.0,1192.1 568.8,1192.1 568.8,1193.2 570.4,1193.2 570.4,1193.2 571.2,1193.2 571.3,1192.6 572.1,1192.6 572.1,1193.6 573.3,1193.6 573.3,1192.6 574.9,1192.6 574.9,1193.1 575.7,1193.1 575.7,1193.6 578.1,1193.6 578.1,1192.5 579.3,1192.5 579.3,1193.0 581.7,1193.0 581.7,1193.0 583.3,1193.0 583.3,1192.4 584.5,1192.4 584.5,1193.4 586.1,1193.4 586.2,1192.4 587.0,1192.4 587.0,1192.4 587.8,1192.4 587.8,1192.4 588.6,1192.4 588.6,1192.3 589.8,1192.3 589.8,1192.8 592.2,1192.8 592.2,1192.3 594.6,1192.3 594.6,1192.2 597.8,1192.2 597.8,1192.2 598.6,1192.2 598.6,1192.1 601.8,1192.1 601.8,1192.0 604.2,1192.0 604.3,1193.0 605.1,1193.0 605.1,1192.4 608.3,1192.4 608.3,1191.8 609.5,1191.8 609.5,1192.8 610.3,1192.8 610.3,1192.3 612.7,1192.3 612.7,1192.2 615.1,1192.2 615.1,1192.6 615.9,1192.6 615.9,1192.1 618.3,1192.1 618.3,1192.5 619.1,1192.5 619.1,1192.0 619.9,1192.0 620.0,1192.0 623.2,1192.0 623.2,1191.9 624.0,1191.9 624.0,1191.3 624.8,1191.3 624.8,1191.8 628.0,1191.8 628.0,1191.2 630.4,1191.2 630.4,1191.1 631.6,1191.1 631.6,1191.6 634.8,1191.6 634.8,1191.5 635.6,1191.5 635.6,1191.5 638.0,1191.5 638.0,1191.4 639.6,1191.4 639.7,1190.8 641.3,1190.8 641.3,1191.3 642.5,1191.3 642.5,1190.7 643.7,1190.7 643.7,1190.7 644.5,1190.7 644.5,1191.2 645.3,1191.2 645.3,1191.1 647.7,1191.1 647.7,1190.6 648.5,1190.6 648.5,1191.5 650.9,1191.5 650.9,1191.5 652.5,1191.5 652.5,1191.0 654.1,1191.0 654.2,1191.5 655.0,1191.5 655.0,1191.0 655.8,1191.0 655.8,1190.9 658.2,1190.9 658.2,1190.9 659.8,1190.9 659.8,1190.9 662.2,1190.9 662.2,1190.4 663.0,1190.4 663.0,1191.4 665.4,1191.4 665.4,1190.9 666.2,1190.9 666.2,1190.8 667.0,1190.8 667.0,1191.3 667.8,1191.3 667.9,1190.8 671.1,1190.8 671.1,1190.3 674.3,1190.3 674.3,1190.3 675.5,1190.3 675.5,1190.3 676.7,1190.3 676.7,1190.7 677.5,1190.7 677.5,1190.2 678.3,1190.2 678.3,1190.2 679.9,1190.2 679.9,1191.2 682.3,1191.2 682.3,1190.7 683.5,1190.7 683.5,1191.2 684.3,1191.2 684.4,1190.2 686.0,1190.2 686.0,1190.7 686.8,1190.7 686.8,1191.2 690.0,1191.2 690.0,1190.1 692.4,1190.1 692.4,1190.1 693.6,1190.1 693.6,1190.6 694.8,1190.6 694.8,1190.6 696.0,1190.6 696.0,1190.1 696.8,1190.1 696.8,1190.6 699.2,1190.6 699.2,1190.5 700.0,1190.5 700.1,1190.5 702.5,1190.5 702.5,1190.5 703.7,1190.5 703.7,1190.0 704.5,1190.0 704.5,1190.5 706.1,1190.5 706.1,1190.6 708.5,1190.6 708.5,1190.1 709.3,1190.1 709.3,1190.1 710.9,1190.1 710.9,1190.7 713.3,1190.7 713.3,1190.2 714.1,1190.2 714.1,1190.2 714.9,1190.2 715.0,1191.2 717.4,1191.2 717.4,1191.3 720.6,1191.3 720.6,1190.9 723.8,1190.9 723.8,1190.9 727.0,1190.9 727.0,1190.5 729.4,1190.5 729.4,1190.5 732.6,1190.5 732.6,1190.6 735.8,1190.6 735.8,1191.2 737.0,1191.2 737.0,1190.7 739.4,1190.7 739.4,1191.7 740.2,1191.7 740.3,1191.8 741.9,1191.8 741.9,1190.8 742.7,1190.8 742.7,1190.8 743.9,1190.8 743.9,1191.3 745.1,1191.3 745.1,1190.9 747.5,1190.9 747.5,1191.4 748.3,1191.4 748.3,1191.9 749.5,1191.9 749.5,1191.0 752.7,1191.0 752.7,1191.0 753.9,1191.0 753.9,1192.0 757.1,1192.0 757.2,1191.1 759.6,1191.1 759.6,1191.2 760.4,1191.2 760.4,1191.7 762.8,1191.7 762.8,1192.3 764.0,1192.3 764.0,1191.3 767.2,1191.3 767.2,1189.6 768.0,1189.6 768.0,1191.4 768.8,1191.4 768.8,1191.9 770.4,1191.9 770.4,1191.5 772.8,1191.5 772.8,1192.0 773.6,1192.0 773.7,1192.5 774.5,1192.5 774.5,1191.6 775.3,1191.6 775.3,1192.6 776.1,1192.6 776.1,1191.6 778.5,1191.6 778.5,1192.2 780.1,1192.2 780.1,1192.2 783.3,1192.2 783.3,1192.3 785.7,1192.3 785.7,1191.9 786.9,1191.9 786.9,1191.9 789.3,1191.9 789.3,1193.0 790.1,1193.0 790.2,1193.0 791.4,1193.0 791.4,1191.4 793.0,1191.4 793.0,1192.1 795.4,1192.1 795.4,1192.1 797.0,1192.1 797.0,1192.7 798.6,1192.7 798.6,1190.4 799.4,1190.4 799.4,1192.2 800.2,1192.2 800.2,1193.2 801.0,1193.2 801.0,1192.8 803.4,1192.8 803.4,1192.8 805.8,1192.8 805.9,1193.4 809.1,1193.4 809.1,1190.7 811.5,1190.7 811.5,1192.5 813.1,1192.5 813.1,1192.6 813.9,1192.6 813.9,1192.6 815.1,1192.6 815.1,1193.1 815.9,1193.1 815.9,1193.2 816.7,1193.2 816.7,1193.7 817.5,1193.7 817.5,1190.9 818.3,1190.9 818.3,1193.2 820.7,1193.2 820.8,1193.8 822.4,1193.8 822.4,1193.3 823.2,1193.3 823.2,1192.9 824.0,1192.9 824.0,1193.9 824.8,1193.9 824.8,1193.4 825.6,1193.4 825.6,1192.9 828.8,1192.9 828.8,1194.0 830.0,1194.0 830.0,1193.0 831.6,1193.0 831.6,1193.5 834.0,1193.5 834.0,1192.4 835.6,1192.4 835.7,1193.1 837.3,1193.1 837.3,1193.1 838.5,1193.1 838.5,1193.6 839.3,1193.6 839.3,1194.1 840.1,1194.1 840.1,1192.3 842.5,1192.3 842.5,1193.1 845.7,1193.1 845.7,1193.6 848.1,1193.6 848.1,1193.2 848.9,1193.2 848.9,1194.2 849.7,1194.2 849.7,1193.2 850.5,1193.2 850.6,1193.2 853.0,1193.2 853.0,1193.2 854.6,1193.2 854.6,1191.5 856.2,1191.5 856.2,1193.7 858.6,1193.7 858.6,1193.2 860.2,1193.2 860.2,1193.3 863.4,1193.3 863.4,1193.3 864.2,1193.3 864.2,1193.8 865.0,1193.8 865.0,1193.8 866.6,1193.8 866.6,1193.3 869.8,1193.3 869.9,1193.8 871.1,1193.8 871.1,1193.3 873.5,1193.3 873.5,1193.4 874.3,1193.4 874.3,1194.4 875.9,1194.4 875.9,1193.4 877.1,1193.4 877.1,1194.4 877.9,1194.4 877.9,1193.4 880.3,1193.4 880.3,1192.3 882.7,1192.3 882.7,1194.4 883.5,1194.4 883.5,1194.4 884.3,1194.4 884.4,1194.0 886.0,1194.0 886.0,1194.5 886.8,1194.5 886.8,1194.5 888.4,1194.5 888.4,1194.0 889.6,1194.0 889.6,1194.0 892.8,1194.0 892.8,1194.0 894.4,1194.0 894.4,1193.5 895.2,1193.5 895.2,1194.5 896.8,1194.5 896.8,1192.3 898.0,1192.3 898.0,1194.1 899.2,1194.1 899.3,1194.1 900.1,1194.1 900.1,1193.6 900.9,1193.6 900.9,1194.1 902.5,1194.1 902.5,1193.6 903.3,1193.6 903.3,1193.6 906.5,1193.6 906.5,1193.6 907.3,1193.6 907.3,1194.6 908.9,1194.6 908.9,1194.2 909.7,1194.2 909.7,1194.2 910.5,1194.2 910.5,1193.7 912.9,1193.7 913.0,1193.7 915.4,1193.7 915.4,1192.9 916.2,1192.9 916.2,1194.2 918.6,1194.2 918.6,1194.2 919.4,1194.2 919.4,1193.7 920.2,1193.7 920.2,1194.2 921.8,1194.2 921.8,1194.8 922.6,1194.8 922.6,1194.8 923.4,1194.8 923.4,1193.8 924.2,1193.8 924.2,1194.3 925.0,1194.3 925.1,1194.8 926.3,1194.8 926.3,1194.3 929.5,1194.3 929.5,1193.9 932.7,1193.9 932.7,1193.9 935.9,1193.9 935.9,1195.0 938.3,1195.0 938.3,1194.1 939.1,1194.1 939.1,1194.6 941.5,1194.6 941.5,1194.2 942.3,1194.2 942.3,1194.2 944.7,1194.2 944.7,1195.2 946.3,1195.2 946.4,1194.3 947.6,1194.3 947.6,1194.3 948.8,1194.3 948.8,1195.3 949.6,1195.3 949.6,1194.8 952.0,1194.8 952.0,1194.4 954.4,1194.4 954.4,1195.0 956.0,1195.0 956.0,1195.0 958.4,1195.0 958.4,1193.5 959.2,1193.5 959.2,1194.6 961.6,1194.6 961.6,1195.1 962.4,1195.1 962.5,1192.9 964.9,1192.9 964.9,1194.7 965.7,1194.7 965.7,1194.7 966.9,1194.7 966.9,1195.3 970.1,1195.3 970.1,1195.3 971.7,1195.3 971.7,1195.4 974.9,1195.4 974.9,1194.9 975.7,1194.9 975.7,1196.0 976.5,1196.0 976.5,1196.0 978.1,1196.0 978.1,1196.0 980.5,1196.0 980.6,1195.1 981.4,1195.1 981.4,1195.1 983.8,1195.1 983.8,1196.2 984.6,1196.2 984.6,1195.7 985.4,1195.7 985.4,1196.2 986.6,1196.2 986.6,1195.7 989.8,1195.7 989.8,1195.3 990.6,1195.3 990.6,1195.3 991.8,1195.3 991.8,1195.3 995.0,1195.3 995.0,1195.9 995.8,1195.9 995.9,1195.9 997.5,1195.9 997.5,1196.0 1000.7,1196.0 1000.7,1196.1 1001.5,1196.1 1001.5,1196.1 1004.7,1196.1 1004.7,1196.2 1005.5,1196.2 1005.5,1196.7 1006.3,1196.7 1006.3,1195.7 1008.7,1195.7 1008.7,1195.7 1009.5,1195.7 1009.5,1195.7 1010.7,1195.7 1010.7,1195.8 1011.9,1195.8 1012.0,1195.8 1012.8,1195.8 1012.8,1196.3 1015.2,1196.3 1015.2,1196.3 1016.0,1196.3 1016.0,1195.8 1016.8,1195.8 1016.8,1196.4 1018.4,1196.4 1018.4,1195.9 1020.8,1195.9 1020.8,1195.9 1024.0,1195.9 1024.0,1196.5 1025.2,1196.5 1025.2,1196.5 1026.0,1196.5 1026.0,1196.5 1027.2,1196.5 1027.3,1196.5 1030.5,1196.5 1030.5,1196.1 1032.9,1196.1 1032.9,1196.6 1034.1,1196.6 1034.1,1196.1 1037.3,1196.1 1037.3,1196.7 1038.1,1196.7 1038.1,1196.2 1041.3,1196.2 1041.3,1196.7 1042.1,1196.7 1042.1,1197.2 1043.3,1197.2 1043.3,1196.2 1044.5,1196.2 1044.5,1197.3 1046.9,1197.3 1047.0,1196.3 1047.8,1196.3 1047.8,1196.3 1050.2,1196.3 1050.2,1196.9 1052.6,1196.9 1052.6,1197.4 1053.4,1197.4 1053.4,1196.4 1054.6,1196.4 1054.6,1196.4 1057.0,1196.4 1057.0,1196.5 1060.2,1196.5 1060.2,1196.5 1061.4,1196.5 1061.4,1197.0 1062.2,1197.0 1062.2,1195.2 1063.8,1195.2 1063.9,1196.5 1064.7,1196.5 1064.7,1197.0 1065.5,1197.0 1065.5,1196.5 1067.9,1196.5 1067.9,1197.0 1068.7,1197.0 1068.7,1197.0 1071.9,1197.0 1071.9,1196.5 1073.5,1196.5 1073.5,1197.5 1074.3,1197.5 1074.3,1197.0 1075.1,1197.0 1075.1,1196.5 1077.5,1196.5 1077.5,1197.5 1079.9,1197.5 1080.0,1197.5 1081.2,1197.5 1081.2,1197.5 1082.8,1197.5 1082.8,1196.5 1084.0,1196.5 1084.0,1196.5 1084.8,1196.5 1084.8,1196.5 1087.2,1196.5 1087.2,1197.5 1088.8,1197.5 1088.8,1197.5 1089.6,1197.5 1089.6,1197.0 1092.8,1197.0 1092.8,1196.5 1094.4,1196.5 1094.4,1196.5 1095.2,1196.5 1095.3,1196.5 1096.9,1196.5 1096.9,1196.5 1100.1,1196.5 1100.1,1196.5 1100.9,1196.5 1100.9,1196.5 1102.5,1196.5 1102.5,1196.5 1103.3,1196.5 1103.3,1197.0 1104.1,1197.0 1104.1,1195.2 1107.3,1195.2 1107.3,1197.0 1108.9,1197.0 1108.9,1196.5 1111.3,1196.5 1111.3,1197.0 1112.1,1197.0 1112.2,1196.5 1113.0,1196.5 1113.0,1196.5 1113.8,1196.5 1113.8,1197.0 1117.0,1197.0 1117.0,1196.5 1117.8,1196.5 1117.8,1197.0 1121.0,1197.0 1121.0,1197.0 1122.6,1197.0 1122.6,1195.4 1123.4,1195.4 1123.4,1197.0 1126.6,1197.0 1126.6,1197.0 1127.4,1197.0 1127.4,1197.0 1130.6,1197.0 1130.7,1195.9 1133.1,1195.9 1133.1,1196.5 1133.9,1196.5 1133.9,1197.5 1134.7,1197.5 1134.7,1197.5 1136.3,1197.5 1136.3,1196.5 1139.5,1196.5 1139.5,1196.5 1140.3,1196.5 1140.3,1197.0 1143.5,1197.0 1143.5,1197.0 1144.7,1197.0 1144.7,1197.5 1145.5,1197.5 1145.5,1196.5 1146.3,1196.5 1146.4,1197.5 1148.8,1197.5 1148.8,1197.0 1150.4,1197.0 1150.4,1194.7 1151.2,1194.7 1151.2,1196.5 1152.8,1196.5 1152.8,1197.0 1154.0,1197.0 1154.0,1196.5 1155.0,1196.5 1155.0,1200.5 1154.0,1200.5 1154.0,1200.5 1152.8,1200.5 1152.8,1200.0 1151.2,1200.0 1151.2,1199.5 1150.4,1199.5 1150.4,1200.0 1148.8,1200.0 1148.8,1200.5 1146.4,1200.5 1146.3,1199.5 1145.5,1199.5 1145.5,1200.5 1144.7,1200.5 1144.7,1199.5 1143.5,1199.5 1143.5,1200.0 1140.3,1200.0 1140.3,1200.5 1139.5,1200.5 1139.5,1200.0 1136.3,1200.0 1136.3,1199.5 1134.7,1199.5 1134.7,1200.0 1133.9,1200.0 1133.9,1200.5 1133.1,1200.5 1133.1,1199.5 1130.7,1199.5 1130.6,1200.0 1127.4,1200.0 1127.4,1200.0 1126.6,1200.0 1126.6,1200.5 1123.4,1200.5 1123.4,1200.0 1122.6,1200.0 1122.6,1200.0 1121.0,1200.0 1121.0,1199.5 1117.8,1199.5 1117.8,1200.5 1117.0,1200.5 1117.0,1200.5 1113.8,1200.5 1113.8,1200.5 1113.0,1200.5 1113.0,1200.5 1112.2,1200.5 1112.1,1200.5 1111.3,1200.5 1111.3,1200.5 1108.9,1200.5 1108.9,1200.5 1107.3,1200.5 1107.3,1200.5 1104.1,1200.5 1104.1,1200.0 1103.3,1200.0 1103.3,1200.5 1102.5,1200.5 1102.5,1199.5 1100.9,1199.5 1100.9,1201.8 1100.1,1201.8 1100.1,1200.0 1096.9,1200.0 1096.9,1201.6 1095.3,1201.6 1095.2,1200.5 1094.4,1200.5 1094.4,1201.6 1092.8,1201.6 1092.8,1199.5 1089.6,1199.5 1089.6,1200.5 1088.8,1200.5 1088.8,1200.0 1087.2,1200.0 1087.2,1200.0 1084.8,1200.0 1084.8,1200.0 1084.0,1200.0 1084.0,1200.0 1082.8,1200.0 1082.8,1200.0 1081.2,1200.0 1081.2,1200.5 1080.0,1200.5 1079.9,1200.5 1077.5,1200.5 1077.5,1200.5 1075.1,1200.5 1075.1,1200.0 1074.3,1200.0 1074.3,1200.5 1073.5,1200.5 1073.5,1200.5 1071.9,1200.5 1071.9,1200.5 1068.7,1200.5 1068.7,1200.5 1067.9,1200.5 1067.9,1200.0 1065.5,1200.0 1065.5,1200.5 1064.7,1200.5 1064.7,1200.5 1063.9,1200.5 1063.8,1200.5 1062.2,1200.5 1062.2,1202.3 1061.4,1202.3 1061.4,1200.0 1060.2,1200.0 1060.2,1200.0 1057.0,1200.0 1057.0,1200.4 1054.6,1200.4 1054.6,1199.9 1053.4,1199.9 1053.4,1199.4 1052.6,1199.4 1052.6,1199.9 1050.2,1199.9 1050.2,1201.1 1047.8,1201.1 1047.8,1199.3 1047.0,1199.3 1046.9,1200.3 1044.5,1200.3 1044.5,1199.2 1043.3,1199.2 1043.3,1199.7 1042.1,1199.7 1042.1,1200.2 1041.3,1200.2 1041.3,1199.7 1038.1,1199.7 1038.1,1200.2 1037.3,1200.2 1037.3,1200.1 1034.1,1200.1 1034.1,1199.6 1032.9,1199.6 1032.9,1200.1 1030.5,1200.1 1030.5,1200.0 1027.3,1200.0 1027.2,1199.0 1026.0,1199.0 1026.0,1199.5 1025.2,1199.5 1025.2,1200.0 1024.0,1200.0 1024.0,1199.4 1020.8,1199.4 1020.8,1199.9 1018.4,1199.9 1018.4,1199.9 1016.8,1199.9 1016.8,1198.8 1016.0,1198.8 1016.0,1198.8 1015.2,1198.8 1015.2,1198.8 1012.8,1198.8 1012.8,1198.8 1012.0,1198.8 1011.9,1199.3 1010.7,1199.3 1010.7,1198.7 1009.5,1198.7 1009.5,1199.2 1008.7,1199.2 1008.7,1198.7 1006.3,1198.7 1006.3,1199.7 1005.5,1199.7 1005.5,1199.7 1004.7,1199.7 1004.7,1199.1 1001.5,1199.1 1001.5,1199.6 1000.7,1199.6 1000.7,1198.5 997.5,1198.5 997.5,1199.4 995.9,1199.4 995.8,1199.4 995.0,1199.4 995.0,1198.8 991.8,1198.8 991.8,1198.8 990.6,1198.8 990.6,1198.3 989.8,1198.3 989.8,1199.2 986.6,1199.2 986.6,1198.7 985.4,1198.7 985.4,1198.2 984.6,1198.2 984.6,1198.7 983.8,1198.7 983.8,1199.1 981.4,1199.1 981.4,1199.1 980.6,1199.1 980.5,1199.0 978.1,1199.0 978.1,1199.0 976.5,1199.0 976.5,1199.0 975.7,1199.0 975.7,1198.9 974.9,1198.9 974.9,1198.9 971.7,1198.9 971.7,1198.3 970.1,1198.3 970.1,1198.3 966.9,1198.3 966.9,1197.7 965.7,1197.7 965.7,1198.7 964.9,1198.7 964.9,1198.6 962.5,1198.6 962.4,1198.6 961.6,1198.6 961.6,1198.6 959.2,1198.6 959.2,1197.6 958.4,1197.6 958.4,1198.5 956.0,1198.5 956.0,1198.5 954.4,1198.5 954.4,1197.9 952.0,1197.9 952.0,1197.3 949.6,1197.3 949.6,1198.3 948.8,1198.3 948.8,1197.8 947.6,1197.8 947.6,1197.8 946.4,1197.8 946.3,1198.2 944.7,1198.2 944.7,1198.2 942.3,1198.2 942.3,1197.7 941.5,1197.7 941.5,1197.1 939.1,1197.1 939.1,1198.1 938.3,1198.1 938.3,1197.0 935.9,1197.0 935.9,1197.9 932.7,1197.9 932.7,1196.9 929.5,1196.9 929.5,1196.8 926.3,1196.8 926.3,1197.8 925.1,1197.8 925.0,1197.3 924.2,1197.3 924.2,1197.8 923.4,1197.8 923.4,1197.8 922.6,1197.8 922.6,1197.8 921.8,1197.8 921.8,1197.7 920.2,1197.7 920.2,1199.0 919.4,1199.0 919.4,1197.2 918.6,1197.2 918.6,1197.2 916.2,1197.2 916.2,1197.2 915.4,1197.2 915.4,1197.2 913.0,1197.2 912.9,1197.7 910.5,1197.7 910.5,1197.7 909.7,1197.7 909.7,1197.7 908.9,1197.7 908.9,1197.1 907.3,1197.1 907.3,1197.6 906.5,1197.6 906.5,1197.1 903.3,1197.1 903.3,1197.1 902.5,1197.1 902.5,1197.6 900.9,1197.6 900.9,1197.6 900.1,1197.6 900.1,1197.6 899.3,1197.6 899.2,1196.6 898.0,1196.6 898.0,1197.6 896.8,1197.6 896.8,1197.5 895.2,1197.5 895.2,1197.5 894.4,1197.5 894.4,1197.5 892.8,1197.5 892.8,1197.5 889.6,1197.5 889.6,1197.5 888.4,1197.5 888.4,1197.0 886.8,1197.0 886.8,1197.0 886.0,1197.0 886.0,1197.0 884.4,1197.0 884.3,1196.4 883.5,1196.4 883.5,1197.4 882.7,1197.4 882.7,1197.4 880.3,1197.4 880.3,1197.4 877.9,1197.4 877.9,1196.9 877.1,1196.9 877.1,1197.4 875.9,1197.4 875.9,1197.4 874.3,1197.4 874.3,1197.4 873.5,1197.4 873.5,1196.3 871.1,1196.3 871.1,1197.3 869.9,1197.3 869.8,1196.3 866.6,1196.3 866.6,1197.3 865.0,1197.3 865.0,1197.3 864.2,1197.3 864.2,1197.3 863.4,1197.3 863.4,1196.3 860.2,1196.3 860.2,1196.7 858.6,1196.7 858.6,1197.2 856.2,1197.2 856.2,1196.7 854.6,1196.7 854.6,1197.2 853.0,1197.2 853.0,1197.2 850.6,1197.2 850.5,1197.8 849.7,1197.8 849.7,1196.2 848.9,1196.2 848.9,1197.2 848.1,1197.2 848.1,1196.1 845.7,1196.1 845.7,1197.1 842.5,1197.1 842.5,1196.1 840.1,1196.1 840.1,1196.1 839.3,1196.1 839.3,1197.1 838.5,1197.1 838.5,1196.6 837.3,1196.6 837.3,1197.1 835.7,1197.1 835.6,1196.5 834.0,1196.5 834.0,1196.5 831.6,1196.5 831.6,1196.5 830.0,1196.5 830.0,1197.0 828.8,1197.0 828.8,1196.4 825.6,1196.4 825.6,1196.9 824.8,1196.9 824.8,1196.4 824.0,1196.4 824.0,1196.9 823.2,1196.9 823.2,1196.3 822.4,1196.3 822.4,1196.8 820.8,1196.8 820.7,1196.7 818.3,1196.7 818.3,1196.7 817.5,1196.7 817.5,1196.2 816.7,1196.2 816.7,1196.7 815.9,1196.7 815.9,1195.6 815.1,1195.6 815.1,1196.6 813.9,1196.6 813.9,1196.1 813.1,1196.1 813.1,1196.5 811.5,1196.5 811.5,1196.0 809.1,1196.0 809.1,1196.4 805.9,1196.4 805.8,1195.8 803.4,1195.8 803.4,1195.3 801.0,1195.3 801.0,1196.2 800.2,1196.2 800.2,1196.2 799.4,1196.2 799.4,1196.2 798.6,1196.2 798.6,1196.2 797.0,1196.2 797.0,1195.6 795.4,1195.6 795.4,1195.6 793.0,1195.6 793.0,1196.0 791.4,1196.0 791.4,1196.0 790.2,1196.0 790.1,1195.5 789.3,1195.5 789.3,1195.9 786.9,1195.9 786.9,1195.4 785.7,1195.4 785.7,1195.8 783.3,1195.8 783.3,1195.7 780.1,1195.7 780.1,1195.7 778.5,1195.7 778.5,1195.6 776.1,1195.6 776.1,1195.1 775.3,1195.1 775.3,1195.6 774.5,1195.6 774.5,1194.5 773.7,1194.5 773.6,1195.0 772.8,1195.0 772.8,1195.0 770.4,1195.0 770.4,1194.4 768.8,1194.4 768.8,1195.4 768.0,1195.4 768.0,1194.9 767.2,1194.9 767.2,1194.3 764.0,1194.3 764.0,1194.3 762.8,1194.3 762.8,1195.2 760.4,1195.2 760.4,1195.2 759.6,1195.2 759.6,1195.1 757.2,1195.1 757.1,1195.0 753.9,1195.0 753.9,1195.0 752.7,1195.0 752.7,1194.5 749.5,1194.5 749.5,1194.4 748.3,1194.4 748.3,1194.4 747.5,1194.4 747.5,1193.9 745.1,1193.9 745.1,1194.8 743.9,1194.8 743.9,1194.3 742.7,1194.3 742.7,1194.3 741.9,1194.3 741.9,1194.8 740.3,1194.8 740.2,1193.7 739.4,1193.7 739.4,1194.7 737.0,1194.7 737.0,1194.2 735.8,1194.2 735.8,1194.1 732.6,1194.1 732.6,1195.1 729.4,1195.1 729.4,1194.5 727.0,1194.5 727.0,1193.9 723.8,1193.9 723.8,1193.4 720.6,1193.4 720.6,1194.3 717.4,1194.3 717.4,1194.2 715.0,1194.2 714.9,1193.7 714.1,1193.7 714.1,1194.2 713.3,1194.2 713.3,1193.2 710.9,1193.2 710.9,1194.1 709.3,1194.1 709.3,1193.6 708.5,1193.6 708.5,1194.1 706.1,1194.1 706.1,1193.5 704.5,1193.5 704.5,1194.0 703.7,1194.0 703.7,1194.0 702.5,1194.0 702.5,1193.5 700.1,1193.5 700.0,1194.0 699.2,1194.0 699.2,1195.2 696.8,1195.2 696.8,1194.1 696.0,1194.1 696.0,1193.1 694.8,1193.1 694.8,1193.1 693.6,1193.1 693.6,1194.1 692.4,1194.1 692.4,1194.1 690.0,1194.1 690.0,1193.2 686.8,1193.2 686.8,1194.2 686.0,1194.2 686.0,1193.7 684.4,1193.7 684.3,1193.7 683.5,1193.7 683.5,1193.7 682.3,1193.7 682.3,1194.2 679.9,1194.2 679.9,1194.2 678.3,1194.2 678.3,1194.2 677.5,1194.2 677.5,1194.2 676.7,1194.2 676.7,1193.8 675.5,1193.8 675.5,1195.0 674.3,1195.0 674.3,1194.3 671.1,1194.3 671.1,1194.3 667.9,1194.3 667.8,1194.3 667.0,1194.3 667.0,1194.3 666.2,1194.3 666.2,1195.5 665.4,1195.5 665.4,1193.9 663.0,1193.9 663.0,1194.4 662.2,1194.4 662.2,1193.9 659.8,1193.9 659.8,1194.4 658.2,1194.4 658.2,1193.9 655.8,1193.9 655.8,1194.5 655.0,1194.5 655.0,1194.0 654.2,1194.0 654.1,1194.5 652.5,1194.5 652.5,1194.0 650.9,1194.0 650.9,1194.5 648.5,1194.5 648.5,1193.6 647.7,1193.6 647.7,1195.2 645.3,1195.2 645.3,1194.7 644.5,1194.7 644.5,1194.7 643.7,1194.7 643.7,1194.2 642.5,1194.2 642.5,1194.8 641.3,1194.8 641.3,1194.8 639.7,1194.8 639.6,1196.0 638.0,1196.0 638.0,1194.0 635.6,1194.0 635.6,1195.0 634.8,1195.0 634.8,1195.1 631.6,1195.1 631.6,1194.6 630.4,1194.6 630.4,1194.7 628.0,1194.7 628.0,1195.3 624.8,1195.3 624.8,1195.9 624.0,1195.9 624.0,1194.9 623.2,1194.9 623.2,1194.5 620.0,1194.5 619.9,1195.0 619.1,1195.0 619.1,1196.6 618.3,1196.6 618.3,1196.2 615.9,1196.2 615.9,1194.6 615.1,1194.6 615.1,1194.7 612.7,1194.7 612.7,1195.3 610.3,1195.3 610.3,1195.8 609.5,1195.8 609.5,1195.8 608.3,1195.8 608.3,1194.9 605.1,1194.9 605.1,1196.0 604.3,1196.0 604.2,1195.5 601.8,1195.5 601.8,1195.6 598.6,1195.6 598.6,1195.7 597.8,1195.7 597.8,1196.2 594.6,1196.2 594.6,1196.9 592.2,1196.9 592.2,1196.3 589.8,1196.3 589.8,1195.8 588.6,1195.8 588.6,1196.4 587.8,1196.4 587.8,1195.9 587.0,1195.9 587.0,1195.4 586.2,1195.4 586.1,1195.9 584.5,1195.9 584.5,1196.4 583.3,1196.4 583.3,1196.0 581.7,1196.0 581.7,1196.5 579.3,1196.5 579.3,1196.5 578.1,1196.5 578.1,1195.6 575.7,1195.6 575.7,1196.6 574.9,1196.6 574.9,1196.6 573.3,1196.6 573.3,1196.6 572.1,1196.6 572.1,1195.6 571.3,1195.6 571.2,1195.7 570.4,1195.7 570.4,1196.2 568.8,1196.2 568.8,1196.2 568.0,1196.2 568.0,1196.7 567.2,1196.7 567.2,1196.7 566.4,1196.7 566.4,1196.7 565.6,1196.7 565.6,1196.8 564.0,1196.8 564.0,1196.8 560.8,1196.8 560.8,1196.3 560.0,1196.3 560.0,1196.9 557.6,1196.9 557.5,1196.9 554.3,1196.9 554.3,1197.0 552.7,1197.0 552.7,1196.5 551.9,1196.5 551.9,1197.0 548.7,1197.0 548.7,1197.1 547.1,1197.1 547.1,1196.6 546.3,1196.6 546.3,1196.6 545.5,1196.6 545.5,1196.6 543.9,1196.6 543.9,1197.2 541.5,1197.2 541.5,1197.2 540.3,1197.2 540.2,1197.2 539.0,1197.2 539.0,1196.8 535.8,1196.8 535.8,1196.8 535.0,1196.8 535.0,1196.8 534.2,1196.8 534.2,1197.5 531.8,1197.5 531.8,1197.7 528.6,1197.7 528.6,1197.3 527.0,1197.3 527.0,1197.5 524.6,1197.5 524.6,1198.2 523.0,1198.2 523.0,1197.7 521.8,1197.7 521.7,1198.3 520.9,1198.3 520.9,1197.9 520.1,1197.9 520.1,1198.6 517.7,1198.6 517.7,1198.1 516.9,1198.1 516.9,1197.9 513.7,1197.9 513.7,1199.0 512.1,1199.0 512.1,1199.1 511.3,1199.1 511.3,1198.8 508.1,1198.8 508.1,1199.4 507.3,1199.4 507.3,1198.5 505.7,1198.5 505.6,1199.5 504.8,1199.5 504.8,1199.8 501.6,1199.8 501.6,1198.9 500.8,1198.9 500.8,1200.0 499.2,1200.0 499.2,1199.5 498.4,1199.5 498.4,1200.1 496.0,1200.1 496.0,1199.6 494.4,1199.6 494.4,1199.7 492.8,1199.7 492.8,1200.2 492.0,1200.2 492.0,1199.3 488.8,1199.3 488.7,1200.4 487.5,1200.4 487.5,1200.4 485.1,1200.4 485.1,1200.0 483.9,1200.0 483.9,1200.5 482.7,1200.5 482.7,1200.5 481.9,1200.5 481.9,1200.1 481.1,1200.1 481.1,1199.6 480.3,1199.6 480.3,1200.1 479.1,1200.1 479.1,1200.7 478.3,1200.7 478.3,1200.7 475.9,1200.7 475.8,1199.8 475.0,1199.8 475.0,1199.8 473.8,1199.8 473.8,1200.8 473.0,1200.8 473.0,1200.4 470.6,1200.4 470.6,1200.4 469.8,1200.4 469.8,1201.0 467.4,1201.0 467.4,1200.6 465.8,1200.6 465.8,1200.1 464.6,1200.1 464.6,1200.2 462.2,1200.2 462.2,1200.2 461.4,1200.2 461.3,1201.2 460.1,1201.2 460.1,1200.8 456.9,1200.8 456.9,1201.4 453.7,1201.4 453.7,1201.0 452.5,1201.0 452.5,1202.3 449.3,1202.3 449.3,1201.6 448.5,1201.6 448.5,1200.7 446.1,1200.7 446.1,1201.7 444.9,1201.7 444.9,1203.6 441.7,1203.6 441.7,1201.4 440.1,1201.4 440.0,1202.0 436.8,1202.0 436.8,1202.1 434.4,1202.1 434.4,1201.1 432.0,1201.1 432.0,1202.2 431.2,1202.2 431.2,1202.2 430.0,1202.2 430.0,1201.8 426.8,1201.8 426.8,1201.8 425.6,1201.8 425.6,1202.4 424.8,1202.4 424.8,1201.4 424.0,1201.4 424.0,1201.9 423.2,1201.9 423.1,1201.9 421.5,1201.9 421.5,1202.5 420.3,1202.5 420.3,1201.5 419.5,1201.5 419.5,1202.0 417.9,1202.0 417.9,1202.6 417.1,1202.6 417.1,1202.6 415.9,1202.6 415.9,1202.6 415.1,1202.6 415.1,1202.7 413.5,1202.7 413.5,1201.7 411.9,1201.7 411.9,1202.2 411.1,1202.2 411.0,1202.8 409.4,1202.8 409.4,1202.3 407.0,1202.3 407.0,1202.4 405.4,1202.4 405.4,1204.0 404.2,1204.0 404.2,1203.0 401.8,1203.0 401.8,1202.5 400.6,1202.5 400.6,1203.0 399.8,1203.0 399.8,1203.0 399.0,1203.0 399.0,1203.1 397.4,1203.1 397.4,1203.2 394.2,1203.2 394.1,1203.2 392.5,1203.2 392.5,1203.3 390.1,1203.3 390.1,1203.3 388.9,1203.3 388.9,1202.8 386.5,1202.8 386.5,1203.4 384.9,1203.4 384.9,1203.4 384.1,1203.4 384.1,1203.5 381.7,1203.5 381.7,1202.5 380.9,1202.5 380.9,1203.6 377.7,1203.6 377.7,1203.1 376.9,1203.1 376.8,1203.6 375.2,1203.6 375.2,1203.7 372.8,1203.7 372.8,1202.8 370.4,1202.8 370.4,1204.6 369.6,1204.6 369.6,1203.4 367.2,1203.4 367.2,1203.1 364.0,1203.1 364.0,1203.7 361.6,1203.7 361.6,1203.7 360.8,1203.7 360.8,1204.2 360.0,1204.2 360.0,1204.3 359.2,1204.3 359.1,1204.3 358.3,1204.3 358.3,1203.9 356.7,1203.9 356.7,1203.4 354.3,1203.4 354.3,1204.0 353.5,1204.0 353.5,1204.5 352.7,1204.5 352.7,1204.6 351.1,1204.6 351.1,1204.6 350.3,1204.6 350.3,1204.6 349.5,1204.6 349.5,1204.8 346.3,1204.8 346.3,1204.8 345.5,1204.8 345.4,1204.9 343.8,1204.9 343.8,1204.9 342.6,1204.9 342.6,1203.9 341.8,1203.9 341.8,1205.0 341.0,1205.0 341.0,1205.1 337.8,1205.1 337.8,1205.1 337.0,1205.1 337.0,1205.2 336.2,1205.2 336.2,1205.3 333.8,1205.3 333.8,1205.4 332.2,1205.4 332.2,1204.5 331.0,1204.5 330.9,1205.6 329.3,1205.6 329.3,1206.8 328.5,1206.8 328.5,1205.9 325.3,1205.9 325.3,1205.0 324.1,1205.0 324.1,1205.1 323.3,1205.1 323.3,1205.1 322.5,1205.1 322.5,1205.7 321.7,1205.7 321.7,1206.3 320.1,1206.3 320.1,1206.5 318.5,1206.5 318.5,1206.2 315.3,1206.2 315.2,1206.8 314.0,1206.8 314.0,1207.1 310.8,1207.1 310.8,1207.1 310.0,1207.1 310.0,1207.2 308.8,1207.2 308.8,1206.9 306.4,1206.9 306.4,1207.7 303.2,1207.7 303.2,1206.8 301.6,1206.8 301.6,1207.9 300.4,1207.9 300.4,1208.2 297.2,1208.2 297.2,1207.3 295.6,1207.3 295.5,1208.4 294.3,1208.4 294.3,1208.0 293.5,1208.0 293.5,1208.5 291.9,1208.5 291.9,1208.5 289.5,1208.5 289.5,1209.7 286.3,1209.7 286.3,1208.1 285.5,1208.1 285.5,1208.1 284.7,1208.1 284.7,1208.1 282.3,1208.1 282.3,1208.6 281.5,1208.6 281.5,1208.1 280.7,1208.1 280.6,1208.7 279.4,1208.7 279.4,1207.7 276.2,1207.7 276.2,1208.7 275.4,1208.7 275.4,1208.2 274.6,1208.2 274.6,1208.7 273.8,1208.7 273.8,1208.7 272.2,1208.7 272.2,1208.2 271.4,1208.2 271.4,1208.8 269.8,1208.8 269.8,1208.3 269.0,1208.3 269.0,1207.8 267.8,1207.8 267.7,1208.3 266.5,1208.3 266.5,1208.3 264.9,1208.3 264.9,1208.8 263.7,1208.8 263.7,1208.8 262.9,1208.8 262.9,1207.8 262.1,1207.8 262.1,1208.9 261.3,1208.9 261.3,1208.9 260.5,1208.9 260.5,1208.9 259.7,1208.9 259.7,1208.9 258.9,1208.9 258.9,1208.4 256.5,1208.4 256.4,1208.9 255.2,1208.9 255.2,1208.4 254.4,1208.4 254.4,1208.4 253.6,1208.4 253.6,1209.0 252.4,1209.0 252.4,1208.0 251.6,1208.0 251.6,1210.1 250.0,1210.1 250.0,1209.0 246.8,1209.0 246.8,1209.0 246.0,1209.0 246.0,1208.5 245.2,1208.5 245.2,1208.5 244.4,1208.5 244.3,1208.0 243.1,1208.0 243.1,1208.0 242.3,1208.0 242.3,1209.1 239.9,1209.1 239.9,1209.1 238.7,1209.1 238.7,1209.1 237.1,1209.1 237.1,1210.9 235.9,1210.9 235.9,1208.1 233.5,1208.1 233.5,1209.1 232.7,1209.1 232.7,1210.3 229.5,1210.3 229.5,1209.2 227.9,1209.2 227.8,1208.7 224.6,1208.7 224.6,1208.7 223.8,1208.7 223.8,1209.2 221.4,1209.2 221.4,1208.7 220.2,1208.7 220.2,1209.2 219.4,1209.2 219.4,1208.2 217.8,1208.2 217.8,1209.3 214.6,1209.3 214.6,1208.3 213.0,1208.3 213.0,1209.3 211.8,1209.3 211.8,1208.8 210.6,1208.8 210.5,1209.3 208.1,1209.3 208.1,1208.8 205.7,1208.8 205.7,1210.5 204.5,1210.5 204.5,1208.9 202.1,1208.9 202.1,1209.4 198.9,1209.4 198.9,1209.4 195.7,1209.4 195.7,1209.4 194.5,1209.4 194.5,1208.4 193.7,1208.4 193.7,1208.4 192.9,1208.4 192.9,1208.5 190.5,1208.5 190.4,1209.0 189.6,1209.0 189.6,1208.5 188.8,1208.5 188.8,1209.5 187.2,1209.5 187.2,1209.2 184.0,1209.2 184.0,1209.3 182.8,1209.3 182.8,1209.4 182.0,1209.4 182.0,1209.0 180.4,1209.0 180.4,1209.1 179.6,1209.1 179.6,1210.2 177.2,1210.2 177.2,1210.0 174.0,1210.0 173.9,1210.0 173.1,1210.0 173.1,1210.1 171.9,1210.1 171.9,1210.2 171.1,1210.2 171.1,1210.8 169.9,1210.8 169.9,1209.9 168.7,1209.9 168.7,1211.1 165.5,1211.1" fill="#00ffff" stroke="#00ffff" stroke-width="0.4"/>
<polygon points="165.5,1098.9 166.7,1098.9 166.7,1097.8 167.9,1097.8 167.9,1097.2 171.1,1097.2 171.1,1096.4 173.5,1096.4 173.5,1094.4 175.9,1094.4 175.9,1094.5 177.5,1094.5 177.6,1094.8 179.2,1094.8 179.2,1092.9 181.6,1092.9 181.6,1092.2 183.2,1092.2 183.2,1091.8 184.4,1091.8 184.4,1091.5 185.6,1091.5 185.6,1091.1 188.0,1091.1 188.0,1090.5 189.2,1090.5 189.2,1090.1 190.8,1090.1 190.8,1091.2 191.6,1091.2 191.6,1090.4 192.4,1090.4 192.5,1090.3 193.3,1090.3 193.3,1089.5 196.5,1089.5 196.5,1087.3 198.1,1087.3 198.1,1088.8 199.3,1088.8 199.3,1088.7 201.7,1088.7 201.7,1089.8 204.1,1089.8 204.1,1088.8 207.3,1088.8 207.3,1088.3 208.9,1088.3 208.9,1088.8 210.1,1088.8 210.1,1088.0 212.5,1088.0 212.6,1088.4 213.4,1088.4 213.4,1088.3 214.2,1088.3 214.2,1086.8 215.0,1086.8 215.0,1087.4 217.4,1087.4 217.4,1086.5 219.0,1086.5 219.0,1086.3 222.2,1086.3 222.2,1086.0 223.4,1086.0 223.4,1085.9 226.6,1085.9 226.6,1086.3 227.4,1086.3 227.4,1085.5 229.8,1085.5 229.9,1086.0 230.7,1086.0 230.7,1085.9 233.9,1085.9 233.9,1084.9 235.5,1084.9 235.5,1083.0 236.7,1083.0 236.7,1085.3 237.5,1085.3 237.5,1085.2 238.3,1085.2 238.3,1085.8 241.5,1085.8 241.5,1084.1 244.7,1084.1 244.7,1083.8 246.3,1083.8 246.3,1085.1 247.9,1085.1 248.0,1083.5 249.6,1083.5 249.6,1083.4 250.4,1083.4 250.4,1084.0 252.0,1084.0 252.0,1084.6 252.8,1084.6 252.8,1083.8 256.0,1083.8 256.0,1081.8 256.8,1081.8 256.8,1082.8 259.2,1082.8 259.2,1083.3 260.4,1083.3 260.4,1083.9 263.6,1083.9 263.6,1082.9 265.2,1082.9 265.3,1082.1 266.5,1082.1 266.5,1082.7 267.3,1082.7 267.3,1081.9 268.5,1081.9 268.5,1081.8 269.3,1081.8 269.3,1081.8 270.5,1081.8 270.5,1081.7 273.7,1081.7 273.7,1081.4 275.3,1081.4 275.3,1082.0 278.5,1082.0 278.5,1081.0 279.7,1081.0 279.7,1080.9 280.5,1080.9 280.6,1080.5 281.4,1080.5 281.4,1080.8 282.2,1080.8 282.2,1081.4 284.6,1081.4 284.6,1082.0 285.4,1082.0 285.4,1081.9 286.6,1081.9 286.6,1081.8 287.8,1081.8 287.8,1081.7 289.4,1081.7 289.4,1080.9 291.8,1080.9 291.8,1081.4 292.6,1081.4 292.6,1081.3 293.4,1081.3 293.5,1080.1 295.9,1080.1 295.9,1081.0 296.7,1081.0 296.7,1079.6 299.9,1079.6 299.9,1079.3 301.1,1079.3 301.1,1079.2 302.7,1079.2 302.7,1079.8 304.3,1079.8 304.3,1079.7 306.7,1079.7 306.7,1079.5 307.9,1079.5 307.9,1079.4 309.1,1079.4 309.1,1078.6 310.7,1078.6 310.8,1079.8 312.4,1079.8 312.4,1078.3 314.8,1078.3 314.8,1078.1 316.4,1078.1 316.4,1078.0 318.0,1078.0 318.0,1076.1 318.8,1076.1 318.8,1078.5 319.6,1078.5 319.6,1076.7 322.0,1076.7 322.0,1079.0 324.4,1079.0 324.4,1077.4 327.6,1077.4 327.6,1077.2 330.8,1077.2 330.9,1078.4 332.1,1078.4 332.1,1077.7 333.3,1077.7 333.3,1076.9 334.9,1076.9 334.9,1076.8 336.1,1076.8 336.1,1078.1 337.7,1078.1 337.7,1076.6 338.5,1076.6 338.5,1077.3 341.7,1077.3 341.7,1076.4 344.1,1076.4 344.1,1077.6 344.9,1077.6 344.9,1076.2 345.7,1076.2 345.8,1076.8 346.6,1076.8 346.6,1076.8 349.8,1076.8 349.8,1075.9 353.0,1075.9 353.0,1076.4 355.4,1076.4 355.4,1075.6 356.2,1075.6 356.2,1076.2 358.6,1076.2 358.6,1075.4 361.8,1075.4 361.8,1075.2 363.4,1075.2 363.4,1075.8 365.8,1075.8 365.8,1074.9 367.0,1074.9 367.1,1074.5 368.3,1074.5 368.3,1073.0 369.5,1073.0 369.5,1074.7 372.7,1074.7 372.7,1073.4 373.9,1073.4 373.9,1074.5 377.1,1074.5 377.1,1075.1 379.5,1075.1 379.5,1075.0 380.3,1075.0 380.3,1074.3 381.1,1074.3 381.1,1075.0 381.9,1075.0 381.9,1074.3 383.1,1074.3 383.2,1074.2 384.4,1074.2 384.4,1075.6 387.6,1075.6 387.6,1074.1 388.8,1074.1 388.8,1074.4 392.0,1074.4 392.0,1074.7 394.4,1074.7 394.4,1075.3 395.2,1075.3 395.2,1073.9 398.4,1073.9 398.4,1075.2 399.6,1075.2 399.6,1073.8 400.4,1073.8 400.4,1073.8 401.2,1073.8 401.3,1074.5 404.5,1074.5 404.5,1075.1 406.1,1075.1 406.1,1074.3 409.3,1074.3 409.3,1075.0 410.5,1075.0 410.5,1072.4 411.3,1072.4 411.3,1074.9 414.5,1074.9 414.5,1073.4 415.3,1073.4 415.3,1073.4 416.1,1073.4 416.1,1074.1 416.9,1074.1 416.9,1074.1 417.7,1074.1 417.8,1074.7 419.0,1074.7 419.0,1074.0 420.6,1074.0 420.6,1074.0 421.8,1074.0 421.8,1073.2 425.0,1073.2 425.0,1073.9 427.4,1073.9 427.4,1073.1 429.8,1073.1 429.8,1073.1 430.6,1073.1 430.6,1073.8 431.4,1073.8 431.4,1074.5 434.6,1074.5 434.6,1072.0 437.0,1072.0 437.1,1074.4 438.3,1074.4 438.3,1073.7 439.9,1073.7 439.9,1073.0 441.5,1073.0 441.5,1073.7 442.3,1073.7 442.3,1073.0 445.5,1073.0 445.5,1072.6 447.9,1072.6 447.9,1074.4 449.5,1074.4 449.5,1073.6 450.3,1073.6 450.3,1071.2 452.7,1071.2 452.7,1071.2 455.1,1071.2 455.2,1072.9 456.0,1072.9 456.0,1073.6 459.2,1073.6 459.2,1073.6 460.8,1073.6 460.8,1073.6 464.0,1073.6 464.0,1074.2 464.8,1074.2 464.8,1072.8 468.0,1072.8 468.0,1074.2 468.8,1074.2 468.8,1072.8 469.6,1072.8 469.6,1072.4 471.2,1072.4 471.2,1072.4 472.0,1072.4 472.1,1072.8 475.3,1072.8 475.3,1072.8 476.5,1072.8 476.5,1073.5 477.3,1073.5 477.3,1072.8 478.1,1072.8 478.1,1072.7 479.7,1072.7 479.7,1072.7 480.5,1072.7 480.5,1073.4 483.7,1073.4 483.7,1073.4 485.3,1073.4 485.3,1073.4 487.7,1073.4 487.7,1072.7 488.5,1072.7 488.6,1072.7 489.4,1072.7 489.4,1073.4 490.2,1073.4 490.2,1072.7 493.4,1072.7 493.4,1072.6 496.6,1072.6 496.6,1074.0 497.4,1074.0 497.4,1073.3 498.6,1073.3 498.6,1072.6 499.4,1072.6 499.4,1073.3 501.0,1073.3 501.0,1070.8 502.6,1070.8 502.6,1072.2 505.8,1072.2 505.9,1073.3 507.5,1073.3 507.5,1072.6 508.3,1072.6 508.3,1073.3 509.9,1073.3 509.9,1074.0 513.1,1074.0 513.1,1073.3 515.5,1073.3 515.5,1072.7 517.1,1072.7 517.1,1073.4 520.3,1073.4 520.3,1072.7 522.7,1072.7 522.7,1072.7 523.5,1072.7 523.5,1072.3 525.9,1072.3 526.0,1072.7 528.4,1072.7 528.4,1073.4 531.6,1073.4 531.6,1072.7 533.2,1072.7 533.2,1072.7 536.4,1072.7 536.4,1074.1 539.6,1074.1 539.6,1073.4 542.8,1073.4 542.8,1071.7 544.4,1071.7 544.4,1072.7 545.2,1072.7 545.2,1073.5 548.4,1073.5 548.4,1074.2 549.2,1074.2 549.3,1072.8 550.9,1072.8 550.9,1073.5 553.3,1073.5 553.3,1074.2 554.5,1074.2 554.5,1072.8 555.3,1072.8 555.3,1072.8 558.5,1072.8 558.5,1072.8 560.9,1072.8 560.9,1072.9 562.5,1072.9 562.5,1072.9 564.9,1072.9 564.9,1074.5 568.1,1074.5 568.1,1073.2 570.5,1073.2 570.6,1074.8 571.8,1074.8 571.8,1074.8 574.2,1074.8 574.2,1073.6 576.6,1073.6 576.6,1073.7 579.0,1073.7 579.0,1074.5 582.2,1074.5 582.2,1075.4 585.4,1075.4 585.4,1074.2 586.6,1074.2 586.6,1074.3 587.8,1074.3 587.8,1075.7 589.4,1075.7 589.4,1075.8 590.6,1075.8 590.7,1075.2 591.9,1075.2 591.9,1075.3 595.1,1075.3 595.1,1074.3 596.7,1074.3 596.7,1074.8 598.3,1074.8 598.3,1074.9 599.5,1074.9 599.5,1075.7 602.7,1075.7 602.7,1075.7 603.5,1075.7 603.5,1075.0 604.3,1075.0 604.3,1075.0 605.9,1075.0 605.9,1075.0 606.7,1075.0 606.8,1075.0 608.4,1075.0 608.4,1075.0 609.2,1075.0 609.2,1075.7 610.0,1075.7 610.0,1075.0 611.2,1075.0 611.2,1075.0 612.0,1075.0 612.0,1075.0 612.8,1075.0 612.8,1075.1 613.6,1075.1 613.6,1075.1 614.8,1075.1 614.8,1075.8 618.0,1075.8 618.0,1075.1 621.2,1075.1 621.3,1075.8 622.9,1075.8 622.9,1075.1 626.1,1075.1 626.1,1075.1 626.9,1075.1 626.9,1075.8 630.1,1075.8 630.1,1075.8 631.3,1075.8 631.3,1073.4 632.9,1073.4 632.9,1075.1 633.7,1075.1 633.7,1076.5 635.3,1076.5 635.3,1075.8 636.9,1075.8 636.9,1076.5 639.3,1076.5 639.4,1074.1 640.2,1074.1 640.2,1075.9 642.6,1075.9 642.6,1074.1 644.2,1074.1 644.2,1075.2 646.6,1075.2 646.6,1075.2 647.4,1075.2 647.4,1075.2 649.0,1075.2 649.0,1075.9 649.8,1075.9 649.8,1076.6 651.0,1076.6 651.0,1075.9 653.4,1075.9 653.4,1075.9 655.8,1075.9 655.9,1075.2 658.3,1075.2 658.3,1076.6 659.1,1076.6 659.1,1075.2 661.5,1075.2 661.5,1075.2 662.7,1075.2 662.7,1076.7 663.5,1076.7 663.5,1075.3 665.9,1075.3 665.9,1076.0 667.1,1076.0 667.1,1076.7 667.9,1076.7 667.9,1076.0 668.7,1076.0 668.7,1076.0 670.3,1076.0 670.4,1076.0 672.8,1076.0 672.8,1076.0 676.0,1076.0 676.0,1076.0 678.4,1076.0 678.4,1074.9 680.8,1074.9 680.8,1075.3 682.4,1075.3 682.4,1075.3 684.0,1075.3 684.0,1075.3 685.6,1075.3 685.6,1076.7 687.2,1076.7 687.2,1076.0 688.0,1076.0 688.0,1075.4 688.8,1075.4 688.9,1075.4 689.7,1075.4 689.7,1075.4 692.9,1075.4 692.9,1075.0 693.7,1075.0 693.7,1076.1 694.5,1076.1 694.5,1076.1 695.7,1076.1 695.7,1075.4 697.3,1075.4 697.3,1076.8 698.1,1076.8 698.1,1076.8 699.3,1076.8 699.3,1076.1 702.5,1076.1 702.5,1075.4 703.3,1075.4 703.4,1074.3 706.6,1074.3 706.6,1075.5 707.4,1075.5 707.4,1075.5 709.8,1075.5 709.8,1075.5 711.4,1075.5 711.4,1075.5 712.2,1075.5 712.2,1076.2 714.6,1076.2 714.6,1076.2 717.0,1076.2 717.0,1075.6 720.2,1075.6 720.2,1075.6 721.0,1075.6 721.0,1075.6 721.8,1075.6 721.9,1077.0 725.1,1077.0 725.1,1075.7 726.3,1075.7 726.3,1076.4 728.7,1076.4 728.7,1077.1 730.3,1077.1 730.3,1075.7 732.7,1075.7 732.7,1075.7 735.1,1075.7 735.1,1075.8 735.9,1075.8 735.9,1075.8 737.1,1075.8 737.1,1076.5 737.9,1076.5 737.9,1075.8 739.5,1075.8 739.6,1074.0 740.8,1074.0 740.8,1075.8 742.0,1075.8 742.0,1077.2 742.8,1077.2 742.8,1074.7 743.6,1074.7 743.6,1076.1 744.8,1076.1 744.8,1075.8 746.0,1075.8 746.0,1076.6 746.8,1076.6 746.8,1075.9 747.6,1075.9 747.6,1076.6 750.8,1076.6 750.8,1075.9 754.0,1075.9 754.1,1076.6 757.3,1076.6 757.3,1074.9 758.5,1074.9 758.5,1076.7 759.3,1076.7 759.3,1077.4 760.9,1077.4 760.9,1076.0 761.7,1076.0 761.7,1076.0 763.3,1076.0 763.3,1077.4 764.9,1077.4 764.9,1076.0 766.5,1076.0 766.5,1076.1 768.9,1076.1 768.9,1076.1 772.1,1076.1 772.2,1076.1 774.6,1076.1 774.6,1077.5 776.2,1077.5 776.2,1077.6 778.6,1077.6 778.6,1076.2 781.0,1076.2 781.0,1076.9 781.8,1076.9 781.8,1076.9 785.0,1076.9 785.0,1076.3 786.6,1076.3 786.6,1076.3 789.0,1076.3 789.0,1077.7 789.8,1077.7 789.8,1077.0 790.6,1077.0 790.7,1077.0 793.1,1077.0 793.1,1077.7 793.9,1077.7 793.9,1076.3 794.7,1076.3 794.7,1076.3 795.5,1076.3 795.5,1076.4 798.7,1076.4 798.7,1077.8 801.9,1077.8 801.9,1077.8 803.5,1077.8 803.5,1077.8 806.7,1077.8 806.7,1077.2 809.9,1077.2 809.9,1076.5 813.1,1076.5 813.2,1076.8 814.8,1076.8 814.8,1077.2 818.0,1077.2 818.0,1075.5 821.2,1075.5 821.2,1076.6 823.6,1076.6 823.6,1076.6 826.8,1076.6 826.8,1076.7 827.6,1076.7 827.6,1077.4 830.8,1077.4 830.8,1078.1 831.6,1078.1 831.6,1077.4 832.4,1077.4 832.4,1077.4 835.6,1077.4 835.7,1076.8 838.1,1076.8 838.1,1076.8 841.3,1076.8 841.3,1076.9 842.1,1076.9 842.1,1077.6 845.3,1077.6 845.3,1077.7 846.1,1077.7 846.1,1077.3 847.7,1077.3 847.7,1077.7 848.5,1077.7 848.5,1078.4 849.7,1078.4 849.7,1077.1 852.9,1077.1 852.9,1078.5 854.5,1078.5 854.6,1077.2 857.8,1077.2 857.8,1077.2 859.0,1077.2 859.0,1077.9 859.8,1077.9 859.8,1077.3 861.4,1077.3 861.4,1077.3 862.2,1077.3 862.2,1076.2 864.6,1076.2 864.6,1076.9 867.8,1076.9 867.8,1078.8 868.6,1078.8 868.6,1077.4 870.2,1077.4 870.2,1077.4 872.6,1077.4 872.7,1077.5 875.1,1077.5 875.1,1078.2 876.3,1078.2 876.3,1077.6 879.5,1077.6 879.5,1077.6 881.9,1077.6 881.9,1079.1 884.3,1079.1 884.3,1078.4 885.1,1078.4 885.1,1079.1 888.3,1079.1 888.3,1078.1 889.5,1078.1 889.5,1077.8 890.3,1077.8 890.3,1077.8 891.9,1077.8 892.0,1077.9 894.4,1077.9 894.4,1077.9 897.6,1077.9 897.6,1078.0 900.0,1078.0 900.0,1078.7 900.8,1078.7 900.8,1079.4 904.0,1079.4 904.0,1078.0 904.8,1078.0 904.8,1078.0 907.2,1078.0 907.2,1078.0 908.0,1078.0 908.0,1078.7 908.8,1078.7 908.8,1078.0 909.6,1078.0 909.7,1078.0 910.9,1078.0 910.9,1078.0 912.1,1078.0 912.1,1078.0 914.5,1078.0 914.5,1078.0 915.3,1078.0 915.3,1078.0 916.9,1078.0 916.9,1078.7 918.5,1078.7 918.5,1079.4 920.1,1079.4 920.1,1078.7 920.9,1078.7 920.9,1078.0 923.3,1078.0 923.3,1078.7 924.1,1078.7 924.2,1079.4 926.6,1079.4 926.6,1078.0 928.2,1078.0 928.2,1078.0 929.0,1078.0 929.0,1078.0 930.6,1078.0 930.6,1078.0 933.0,1078.0 933.0,1079.4 936.2,1079.4 936.2,1078.7 938.6,1078.7 938.6,1078.7 939.4,1078.7 939.4,1078.7 940.6,1078.7 940.6,1078.0 943.0,1078.0 943.1,1078.7 944.3,1078.7 944.3,1078.7 945.5,1078.7 945.5,1079.4 946.7,1079.4 946.7,1078.0 949.1,1078.0 949.1,1078.0 949.9,1078.0 949.9,1078.0 952.3,1078.0 952.3,1078.0 955.5,1078.0 955.5,1078.0 957.9,1078.0 957.9,1078.0 959.5,1078.0 959.5,1078.0 960.3,1078.0 960.4,1078.7 963.6,1078.7 963.6,1078.1 966.0,1078.1 966.0,1078.1 966.8,1078.1 966.8,1078.8 969.2,1078.8 969.2,1078.4 971.6,1078.4 971.6,1078.1 974.8,1078.1 974.8,1077.0 978.0,1077.0 978.0,1077.7 980.4,1077.7 980.4,1078.1 981.2,1078.1 981.2,1078.1 984.4,1078.1 984.5,1078.1 986.9,1078.1 986.9,1078.1 988.1,1078.1 988.1,1077.0 988.9,1077.0 988.9,1078.1 990.1,1078.1 990.1,1079.5 991.7,1079.5 991.7,1078.8 992.5,1078.8 992.5,1078.8 993.7,1078.8 993.7,1078.1 994.5,1078.1 994.5,1078.8 997.7,1078.8 997.7,1078.1 999.3,1078.1 999.4,1078.1 1000.2,1078.1 1000.2,1078.1 1003.4,1078.1 1003.4,1079.5 1004.6,1079.5 1004.6,1078.1 1007.8,1078.1 1007.8,1078.8 1010.2,1078.8 1010.2,1078.8 1013.4,1078.8 1013.4,1078.1 1015.0,1078.1 1015.0,1078.1 1017.4,1078.1 1017.4,1078.8 1018.2,1078.8 1018.2,1078.1 1019.0,1078.1 1019.1,1078.8 1019.9,1078.8 1019.9,1079.5 1022.3,1079.5 1022.3,1079.5 1023.1,1079.5 1023.1,1078.8 1023.9,1078.8 1023.9,1078.1 1025.5,1078.1 1025.5,1078.8 1028.7,1078.8 1028.7,1078.1 1029.9,1078.1 1029.9,1078.1 1030.7,1078.1 1030.7,1079.5 1031.9,1079.5 1031.9,1078.1 1034.3,1078.1 1034.4,1078.8 1036.8,1078.8 1036.8,1078.1 1040.0,1078.1 1040.0,1078.1 1043.2,1078.1 1043.2,1078.1 1044.4,1078.1 1044.4,1078.8 1045.2,1078.8 1045.2,1078.1 1046.0,1078.1 1046.0,1078.1 1046.8,1078.1 1046.8,1077.0 1047.6,1077.0 1047.6,1079.5 1050.0,1079.5 1050.0,1078.8 1053.2,1078.8 1053.3,1079.5 1054.9,1079.5 1054.9,1078.8 1056.5,1078.8 1056.5,1079.5 1059.7,1079.5 1059.7,1078.8 1062.1,1078.8 1062.1,1078.1 1064.5,1078.1 1064.5,1078.1 1065.7,1078.1 1065.7,1079.5 1066.9,1079.5 1066.9,1078.1 1068.1,1078.1 1068.1,1078.8 1068.9,1078.8 1068.9,1078.1 1071.3,1078.1 1071.4,1078.1 1072.6,1078.1 1072.6,1079.5 1073.8,1079.5 1073.8,1078.1 1077.0,1078.1 1077.0,1078.1 1080.2,1078.1 1080.2,1078.8 1081.0,1078.8 1081.0,1078.1 1081.8,1078.1 1081.8,1079.5 1082.6,1079.5 1082.6,1078.8 1085.0,1078.8 1085.0,1078.1 1086.6,1078.1 1086.6,1078.1 1087.8,1078.1 1087.9,1078.8 1088.7,1078.8 1088.7,1078.8 1091.9,1078.8 1091.9,1079.6 1093.1,1079.6 1093.1,1078.9 1096.3,1078.9 1096.3,1078.9 1098.7,1078.9 1098.7,1079.6 1100.3,1079.6 1100.3,1078.9 1103.5,1078.9 1103.5,1079.6 1105.9,1079.6 1105.9,1078.2 1109.1,1078.2 1109.1,1078.2 1109.9,1078.2 1110.0,1079.6 1111.2,1079.6 1111.2,1078.2 1114.4,1078.2 1114.4,1078.2 1116.8,1078.2 1116.8,1078.9 1118.0,1078.9 1118.0,1078.9 1119.2,1078.9 1119.2,1078.2 1120.0,1078.2 1120.0,1078.9 1121.2,1078.9 1121.2,1078.9 1122.0,1078.9 1122.0,1078.2 1123.6,1078.2 1123.6,1079.6 1126.8,1079.6 1126.9,1078.9 1130.1,1078.9 1130.1,1078.9 1131.7,1078.9 1131.7,1078.2 1132.5,1078.2 1132.5,1078.9 1133.3,1078.9 1133.3,1078.2 1134.1,1078.2 1134.1,1079.6 1135.7,1079.6 1135.7,1078.9 1136.9,1078.9 1136.9,1078.2 1138.1,1078.2 1138.1,1079.6 1139.7,1079.6 1139.7,1078.2 1140.5,1078.2 1140.6,1078.9 1141.4,1078.9 1141.4,1078.2 1142.2,1078.2 1142.2,1078.9 1143.8,1078.9 1143.8,1078.2 1145.4,1078.2 1145.4,1078.2 1148.6,1078.2 1148.6,1078.2 1149.4,1078.2 1149.4,1077.1 1152.6,1077.1 1152.6,1078.9 1153.4,1078.9 1153.4,1079.6 1155.0,1079.6 1155.0,1083.1 1153.4,1083.1 1153.4,1083.8 1152.6,1083.8 1152.6,1083.8 1149.4,1083.8 1149.4,1083.1 1148.6,1083.1 1148.6,1083.1 1145.4,1083.1 1145.4,1083.8 1143.8,1083.8 1143.8,1082.4 1142.2,1082.4 1142.2,1083.1 1141.4,1083.1 1141.4,1083.8 1140.6,1083.8 1140.5,1083.1 1139.7,1083.1 1139.7,1083.1 1138.1,1083.1 1138.1,1083.8 1136.9,1083.8 1136.9,1083.8 1135.7,1083.8 1135.7,1083.8 1134.1,1083.8 1134.1,1083.8 1133.3,1083.8 1133.3,1083.5 1132.5,1083.5 1132.5,1083.8 1131.7,1083.8 1131.7,1083.1 1130.1,1083.1 1130.1,1083.1 1126.9,1083.1 1126.8,1082.4 1123.6,1082.4 1123.6,1082.4 1122.0,1082.4 1122.0,1083.8 1121.2,1083.8 1121.2,1083.1 1120.0,1083.1 1120.0,1084.9 1119.2,1084.9 1119.2,1083.1 1118.0,1083.1 1118.0,1085.5 1116.8,1085.5 1116.8,1084.8 1114.4,1084.8 1114.4,1083.8 1111.2,1083.8 1111.2,1083.8 1110.0,1083.8 1109.9,1083.1 1109.1,1083.1 1109.1,1083.1 1105.9,1083.1 1105.9,1083.8 1103.5,1083.8 1103.5,1083.1 1100.3,1083.1 1100.3,1083.8 1098.7,1083.8 1098.7,1083.8 1096.3,1083.8 1096.3,1085.5 1093.1,1085.5 1093.1,1083.1 1091.9,1083.1 1091.9,1083.7 1088.7,1083.7 1088.7,1083.7 1087.9,1083.7 1087.8,1083.4 1086.6,1083.4 1086.6,1083.7 1085.0,1083.7 1085.0,1083.7 1082.6,1083.7 1082.6,1084.8 1081.8,1084.8 1081.8,1083.7 1081.0,1083.7 1081.0,1083.7 1080.2,1083.7 1080.2,1082.3 1077.0,1082.3 1077.0,1084.8 1073.8,1084.8 1073.8,1085.5 1072.6,1085.5 1072.6,1082.3 1071.4,1082.3 1071.3,1085.5 1068.9,1085.5 1068.9,1083.0 1068.1,1083.0 1068.1,1083.7 1066.9,1083.7 1066.9,1083.0 1065.7,1083.0 1065.7,1083.7 1064.5,1083.7 1064.5,1083.7 1062.1,1083.7 1062.1,1082.3 1059.7,1082.3 1059.7,1082.3 1056.5,1082.3 1056.5,1083.0 1054.9,1083.0 1054.9,1083.7 1053.3,1083.7 1053.2,1083.0 1050.0,1083.0 1050.0,1082.3 1047.6,1082.3 1047.6,1083.7 1046.8,1083.7 1046.8,1083.0 1046.0,1083.0 1046.0,1084.8 1045.2,1084.8 1045.2,1083.7 1044.4,1083.7 1044.4,1083.0 1043.2,1083.0 1043.2,1082.3 1040.0,1082.3 1040.0,1083.7 1036.8,1083.7 1036.8,1083.0 1034.4,1083.0 1034.3,1082.3 1031.9,1082.3 1031.9,1083.0 1030.7,1083.0 1030.7,1085.5 1029.9,1085.5 1029.9,1083.7 1028.7,1083.7 1028.7,1083.0 1025.5,1083.0 1025.5,1085.5 1023.9,1085.5 1023.9,1083.0 1023.1,1083.0 1023.1,1083.7 1022.3,1083.7 1022.3,1083.0 1019.9,1083.0 1019.9,1083.7 1019.1,1083.7 1019.0,1083.7 1018.2,1083.7 1018.2,1082.3 1017.4,1082.3 1017.4,1084.8 1015.0,1084.8 1015.0,1083.7 1013.4,1083.7 1013.4,1085.4 1010.2,1085.4 1010.2,1083.7 1007.8,1083.7 1007.8,1083.7 1004.6,1083.7 1004.6,1083.0 1003.4,1083.0 1003.4,1083.0 1000.2,1083.0 1000.2,1084.8 999.4,1084.8 999.3,1082.3 997.7,1082.3 997.7,1083.7 994.5,1083.7 994.5,1083.7 993.7,1083.7 993.7,1083.0 992.5,1083.0 992.5,1083.7 991.7,1083.7 991.7,1083.7 990.1,1083.7 990.1,1083.7 988.9,1083.7 988.9,1084.1 988.1,1084.1 988.1,1084.7 986.9,1084.7 986.9,1082.3 984.5,1082.3 984.4,1083.0 981.2,1083.0 981.2,1083.0 980.4,1083.0 980.4,1083.7 978.0,1083.7 978.0,1083.0 974.8,1083.0 974.8,1083.4 971.6,1083.4 971.6,1083.0 969.2,1083.0 969.2,1083.0 966.8,1083.0 966.8,1083.7 966.0,1083.7 966.0,1083.0 963.6,1083.0 963.6,1082.2 960.4,1082.2 960.3,1083.6 959.5,1083.6 959.5,1083.6 957.9,1083.6 957.9,1084.7 955.5,1084.7 955.5,1083.6 952.3,1083.6 952.3,1083.6 949.9,1083.6 949.9,1083.6 949.1,1083.6 949.1,1082.9 946.7,1082.9 946.7,1085.4 945.5,1085.4 945.5,1083.6 944.3,1083.6 944.3,1083.6 943.1,1083.6 943.0,1082.9 940.6,1082.9 940.6,1082.2 939.4,1082.2 939.4,1083.6 938.6,1083.6 938.6,1082.2 936.2,1082.2 936.2,1082.2 933.0,1082.2 933.0,1083.6 930.6,1083.6 930.6,1083.6 929.0,1083.6 929.0,1084.7 928.2,1084.7 928.2,1083.3 926.6,1083.3 926.6,1083.6 924.2,1083.6 924.1,1084.0 923.3,1084.0 923.3,1082.9 920.9,1082.9 920.9,1084.7 920.1,1084.7 920.1,1082.9 918.5,1082.9 918.5,1083.6 916.9,1083.6 916.9,1082.9 915.3,1082.9 915.3,1083.6 914.5,1083.6 914.5,1083.6 912.1,1083.6 912.1,1082.2 910.9,1082.2 910.9,1083.6 909.7,1083.6 909.6,1083.6 908.8,1083.6 908.8,1084.7 908.0,1084.7 908.0,1082.9 907.2,1082.9 907.2,1083.6 904.8,1083.6 904.8,1082.9 904.0,1082.9 904.0,1083.6 900.8,1083.6 900.8,1082.9 900.0,1082.9 900.0,1084.6 897.6,1084.6 897.6,1083.5 894.4,1083.5 894.4,1083.5 892.0,1083.5 891.9,1082.7 890.3,1082.7 890.3,1082.0 889.5,1082.0 889.5,1082.7 888.3,1082.7 888.3,1082.6 885.1,1082.6 885.1,1083.3 884.3,1083.3 884.3,1083.3 881.9,1083.3 881.9,1082.9 879.5,1082.9 879.5,1082.9 876.3,1082.9 876.3,1081.7 875.1,1081.7 875.1,1083.1 872.7,1083.1 872.6,1083.0 870.2,1083.0 870.2,1081.6 868.6,1081.6 868.6,1081.6 867.8,1081.6 867.8,1081.5 864.6,1081.5 864.6,1082.2 862.2,1082.2 862.2,1082.9 861.4,1082.9 861.4,1082.2 859.8,1082.2 859.8,1082.8 859.0,1082.8 859.0,1082.8 857.8,1082.8 857.8,1082.1 854.6,1082.1 854.5,1081.3 852.9,1081.3 852.9,1082.7 849.7,1082.7 849.7,1082.6 848.5,1082.6 848.5,1082.6 847.7,1082.6 847.7,1082.6 846.1,1082.6 846.1,1081.9 845.3,1081.9 845.3,1081.8 842.1,1081.8 842.1,1082.5 841.3,1082.5 841.3,1082.4 838.1,1082.4 838.1,1082.4 835.7,1082.4 835.6,1081.6 832.4,1081.6 832.4,1082.3 831.6,1082.3 831.6,1080.9 830.8,1080.9 830.8,1082.3 827.6,1082.3 827.6,1084.0 826.8,1084.0 826.8,1082.2 823.6,1082.2 823.6,1082.6 821.2,1082.6 821.2,1081.5 818.0,1081.5 818.0,1081.4 814.8,1081.4 814.8,1082.1 813.2,1082.1 813.1,1082.1 809.9,1082.1 809.9,1080.7 806.7,1080.7 806.7,1080.6 803.5,1080.6 803.5,1081.3 801.9,1081.3 801.9,1081.3 798.7,1081.3 798.7,1083.1 795.5,1083.1 795.5,1083.0 794.7,1083.0 794.7,1080.5 793.9,1080.5 793.9,1081.2 793.1,1081.2 793.1,1081.2 790.7,1081.2 790.6,1081.2 789.8,1081.2 789.8,1081.9 789.0,1081.9 789.0,1080.5 786.6,1080.5 786.6,1081.9 785.0,1081.9 785.0,1081.1 781.8,1081.1 781.8,1081.1 781.0,1081.1 781.0,1081.8 778.6,1081.8 778.6,1081.8 776.2,1081.8 776.2,1081.7 774.6,1081.7 774.6,1081.7 772.2,1081.7 772.1,1081.7 768.9,1081.7 768.9,1081.7 766.5,1081.7 766.5,1081.6 764.9,1081.6 764.9,1080.9 763.3,1080.9 763.3,1080.9 761.7,1080.9 761.7,1080.9 760.9,1080.9 760.9,1080.9 759.3,1080.9 759.3,1081.6 758.5,1081.6 758.5,1080.2 757.3,1080.2 757.3,1080.8 754.1,1080.8 754.0,1081.5 750.8,1081.5 750.8,1080.8 747.6,1080.8 747.6,1080.8 746.8,1080.8 746.8,1080.1 746.0,1080.1 746.0,1081.4 744.8,1081.4 744.8,1080.0 743.6,1080.0 743.6,1081.4 742.8,1081.4 742.8,1081.4 742.0,1081.4 742.0,1081.4 740.8,1081.4 740.8,1080.7 739.6,1080.7 739.5,1080.7 737.9,1080.7 737.9,1081.4 737.1,1081.4 737.1,1081.4 735.9,1081.4 735.9,1080.7 735.1,1080.7 735.1,1081.3 732.7,1081.3 732.7,1081.3 730.3,1081.3 730.3,1080.6 728.7,1080.6 728.7,1080.6 726.3,1080.6 726.3,1081.3 725.1,1081.3 725.1,1080.5 721.9,1080.5 721.8,1081.2 721.0,1081.2 721.0,1080.5 720.2,1080.5 720.2,1080.5 717.0,1080.5 717.0,1081.1 714.6,1081.1 714.6,1080.4 712.2,1080.4 712.2,1081.1 711.4,1081.1 711.4,1081.1 709.8,1081.1 709.8,1081.1 707.4,1081.1 707.4,1081.1 706.6,1081.1 706.6,1082.1 703.4,1082.1 703.3,1079.6 702.5,1079.6 702.5,1079.6 699.3,1079.6 699.3,1081.0 698.1,1081.0 698.1,1081.0 697.3,1081.0 697.3,1081.0 695.7,1081.0 695.7,1081.0 694.5,1081.0 694.5,1080.3 693.7,1080.3 693.7,1081.0 692.9,1081.0 692.9,1080.3 689.7,1080.3 689.7,1081.0 688.9,1081.0 688.8,1081.0 688.0,1081.0 688.0,1080.2 687.2,1080.2 687.2,1080.2 685.6,1080.2 685.6,1080.9 684.0,1080.9 684.0,1080.9 682.4,1080.9 682.4,1080.2 680.8,1080.2 680.8,1080.9 678.4,1080.9 678.4,1080.9 676.0,1080.9 676.0,1080.9 672.8,1080.9 672.8,1080.9 670.4,1080.9 670.3,1080.9 668.7,1080.9 668.7,1079.5 667.9,1079.5 667.9,1080.9 667.1,1080.9 667.1,1080.9 665.9,1080.9 665.9,1080.2 663.5,1080.2 663.5,1079.5 662.7,1079.5 662.7,1080.8 661.5,1080.8 661.5,1080.1 659.1,1080.1 659.1,1080.1 658.3,1080.1 658.3,1080.1 655.9,1080.1 655.8,1080.8 653.4,1080.8 653.4,1080.1 651.0,1080.1 651.0,1080.8 649.8,1080.8 649.8,1080.1 649.0,1080.1 649.0,1079.4 647.4,1079.4 647.4,1080.8 646.6,1080.8 646.6,1081.9 644.2,1081.9 644.2,1080.8 642.6,1080.8 642.6,1080.1 640.2,1080.1 640.2,1080.8 639.4,1080.8 639.3,1080.7 636.9,1080.7 636.9,1081.8 635.3,1081.8 635.3,1080.7 633.7,1080.7 633.7,1080.0 632.9,1080.0 632.9,1080.0 631.3,1080.0 631.3,1080.7 630.1,1080.7 630.1,1080.0 626.9,1080.0 626.9,1080.7 626.1,1080.7 626.1,1079.3 622.9,1079.3 622.9,1080.7 621.3,1080.7 621.2,1080.0 618.0,1080.0 618.0,1081.1 614.8,1081.1 614.8,1079.3 613.6,1079.3 613.6,1080.7 612.8,1080.7 612.8,1080.6 612.0,1080.6 612.0,1080.6 611.2,1080.6 611.2,1079.9 610.0,1079.9 610.0,1079.2 609.2,1079.2 609.2,1080.6 608.4,1080.6 608.4,1080.6 606.8,1080.6 606.7,1080.6 605.9,1080.6 605.9,1080.6 604.3,1080.6 604.3,1079.2 603.5,1079.2 603.5,1079.9 602.7,1079.9 602.7,1079.9 599.5,1079.9 599.5,1079.8 598.3,1079.8 598.3,1079.7 596.7,1079.7 596.7,1080.3 595.1,1080.3 595.1,1080.2 591.9,1080.2 591.9,1080.1 590.7,1080.1 590.6,1080.0 589.4,1080.0 589.4,1079.9 587.8,1079.9 587.8,1079.2 586.6,1079.2 586.6,1079.8 585.4,1079.8 585.4,1079.6 582.2,1079.6 582.2,1078.7 579.0,1078.7 579.0,1077.9 576.6,1077.9 576.6,1079.2 574.2,1079.2 574.2,1078.3 571.8,1078.3 571.8,1078.3 570.6,1078.3 570.5,1078.8 568.1,1078.8 568.1,1078.0 564.9,1078.0 564.9,1077.8 562.5,1077.8 562.5,1078.5 560.9,1078.5 560.9,1077.7 558.5,1077.7 558.5,1077.0 555.3,1077.0 555.3,1077.7 554.5,1077.7 554.5,1078.4 553.3,1078.4 553.3,1079.4 550.9,1079.4 550.9,1077.7 549.3,1077.7 549.2,1077.7 548.4,1077.7 548.4,1080.1 545.2,1080.1 545.2,1077.6 544.4,1077.6 544.4,1078.3 542.8,1078.3 542.8,1078.3 539.6,1078.3 539.6,1078.3 536.4,1078.3 536.4,1078.3 533.2,1078.3 533.2,1078.3 531.6,1078.3 531.6,1077.6 528.4,1077.6 528.4,1080.0 526.0,1080.0 525.9,1078.3 523.5,1078.3 523.5,1078.3 522.7,1078.3 522.7,1077.6 520.3,1077.6 520.3,1078.0 517.1,1078.0 517.1,1078.3 515.5,1078.3 515.5,1080.0 513.1,1080.0 513.1,1079.3 509.9,1079.3 509.9,1076.8 508.3,1076.8 508.3,1079.3 507.5,1079.3 507.5,1077.5 505.9,1077.5 505.8,1076.8 502.6,1076.8 502.6,1077.5 501.0,1077.5 501.0,1077.5 499.4,1077.5 499.4,1077.5 498.6,1077.5 498.6,1078.2 497.4,1078.2 497.4,1078.2 496.6,1078.2 496.6,1078.2 493.4,1078.2 493.4,1078.3 490.2,1078.3 490.2,1077.6 489.4,1077.6 489.4,1077.6 488.6,1077.6 488.5,1076.9 487.7,1076.9 487.7,1077.6 485.3,1077.6 485.3,1077.6 483.7,1077.6 483.7,1078.3 480.5,1078.3 480.5,1077.6 479.7,1077.6 479.7,1076.9 478.1,1076.9 478.1,1078.4 477.3,1078.4 477.3,1077.7 476.5,1077.7 476.5,1077.0 475.3,1077.0 475.3,1078.4 472.1,1078.4 472.0,1077.7 471.2,1077.7 471.2,1077.7 469.6,1077.7 469.6,1078.4 468.8,1078.4 468.8,1078.4 468.0,1078.4 468.0,1078.4 464.8,1078.4 464.8,1078.4 464.0,1078.4 464.0,1078.5 460.8,1078.5 460.8,1078.5 459.2,1078.5 459.2,1077.8 456.0,1077.8 456.0,1077.8 455.2,1077.8 455.1,1078.5 452.7,1078.5 452.7,1078.9 450.3,1078.9 450.3,1078.5 449.5,1078.5 449.5,1078.6 447.9,1078.6 447.9,1077.9 445.5,1077.9 445.5,1077.9 442.3,1077.9 442.3,1077.2 441.5,1077.2 441.5,1078.6 439.9,1078.6 439.9,1077.2 438.3,1077.2 438.3,1077.9 437.1,1077.9 437.0,1078.6 434.6,1078.6 434.6,1078.7 431.4,1078.7 431.4,1078.7 430.6,1078.7 430.6,1077.3 429.8,1077.3 429.8,1078.0 427.4,1078.0 427.4,1078.8 425.0,1078.8 425.0,1079.2 421.8,1079.2 421.8,1078.2 420.6,1078.2 420.6,1078.9 419.0,1078.9 419.0,1078.2 417.8,1078.2 417.7,1080.7 416.9,1080.7 416.9,1078.3 416.1,1078.3 416.1,1079.0 415.3,1079.0 415.3,1079.0 414.5,1079.0 414.5,1079.1 411.3,1079.1 411.3,1078.8 410.5,1078.8 410.5,1077.8 409.3,1077.8 409.3,1079.2 406.1,1079.2 406.1,1078.6 404.5,1078.6 404.5,1079.4 401.3,1079.4 401.2,1079.4 400.4,1079.4 400.4,1078.7 399.6,1078.7 399.6,1079.4 398.4,1079.4 398.4,1078.8 395.2,1078.8 395.2,1080.6 394.4,1080.6 394.4,1079.6 392.0,1079.6 392.0,1079.7 388.8,1079.7 388.8,1079.7 387.6,1079.7 387.6,1079.8 384.4,1079.8 384.4,1079.1 383.2,1079.1 383.1,1079.2 381.9,1079.2 381.9,1079.9 381.1,1079.9 381.1,1079.9 380.3,1079.9 380.3,1079.9 379.5,1079.9 379.5,1079.3 377.1,1079.3 377.1,1079.4 373.9,1079.4 373.9,1079.4 372.7,1079.4 372.7,1081.4 369.5,1081.4 369.5,1079.7 368.3,1079.7 368.3,1080.5 367.1,1080.5 367.0,1080.5 365.8,1080.5 365.8,1080.7 363.4,1080.7 363.4,1080.1 361.8,1080.1 361.8,1081.0 358.6,1081.0 358.6,1081.1 356.2,1081.1 356.2,1079.8 355.4,1079.8 355.4,1079.9 353.0,1079.9 353.0,1080.1 349.8,1080.1 349.8,1081.0 346.6,1081.0 346.6,1081.7 345.8,1081.7 345.7,1081.8 344.9,1081.8 344.9,1080.4 344.1,1080.4 344.1,1081.3 341.7,1081.3 341.7,1081.5 338.5,1081.5 338.5,1082.2 337.7,1082.2 337.7,1082.3 336.1,1082.3 336.1,1082.4 334.9,1082.4 334.9,1082.5 333.3,1082.5 333.3,1081.9 332.1,1081.9 332.1,1082.6 330.9,1082.6 330.8,1084.6 327.6,1084.6 327.6,1083.0 324.4,1083.0 324.4,1082.5 322.0,1082.5 322.0,1084.4 319.6,1084.4 319.6,1083.4 318.8,1083.4 318.8,1082.1 318.0,1082.1 318.0,1082.9 316.4,1082.9 316.4,1083.4 314.8,1083.4 314.8,1083.9 312.4,1083.9 312.4,1083.7 310.8,1083.7 310.7,1084.2 309.1,1084.2 309.1,1084.3 307.9,1084.3 307.9,1083.7 306.7,1083.7 306.7,1084.6 304.3,1084.6 304.3,1084.7 302.7,1084.7 302.7,1084.8 301.1,1084.8 301.1,1084.9 299.9,1084.9 299.9,1084.5 296.7,1084.5 296.7,1085.2 295.9,1085.2 295.9,1084.7 293.5,1084.7 293.4,1084.8 292.6,1084.8 292.6,1085.6 291.8,1085.6 291.8,1085.1 289.4,1085.1 289.4,1085.2 287.8,1085.2 287.8,1086.0 286.6,1086.0 286.6,1086.1 285.4,1086.1 285.4,1086.2 284.6,1086.2 284.6,1084.9 282.2,1084.9 282.2,1085.7 281.4,1085.7 281.4,1086.5 280.6,1086.5 280.5,1085.8 279.7,1085.8 279.7,1085.9 278.5,1085.9 278.5,1087.3 275.3,1087.3 275.3,1087.0 273.7,1087.0 273.7,1086.6 270.5,1086.6 270.5,1086.7 269.3,1086.7 269.3,1087.4 268.5,1087.4 268.5,1087.5 267.3,1087.5 267.3,1086.9 266.5,1086.9 266.5,1086.3 265.3,1086.3 265.2,1088.9 263.6,1088.9 263.6,1089.2 260.4,1089.2 260.4,1087.5 259.2,1087.5 259.2,1088.4 256.8,1088.4 256.8,1087.1 256.0,1087.1 256.0,1088.7 252.8,1088.7 252.8,1088.8 252.0,1088.8 252.0,1088.9 250.4,1088.9 250.4,1088.3 249.6,1088.3 249.6,1088.4 248.0,1088.4 247.9,1089.3 246.3,1089.3 246.3,1089.4 244.7,1089.4 244.7,1089.0 241.5,1089.0 241.5,1088.6 238.3,1088.6 238.3,1091.2 237.5,1091.2 237.5,1090.2 236.7,1090.2 236.7,1088.9 235.5,1088.9 235.5,1089.1 233.9,1089.1 233.9,1089.4 230.7,1089.4 230.7,1090.9 229.9,1090.9 229.8,1089.7 227.4,1089.7 227.4,1090.5 226.6,1090.5 226.6,1091.5 223.4,1091.5 223.4,1091.6 222.2,1091.6 222.2,1091.9 219.0,1091.9 219.0,1092.1 217.4,1092.1 217.4,1090.9 215.0,1090.9 215.0,1092.4 214.2,1092.4 214.2,1092.5 213.4,1092.5 213.4,1091.9 212.6,1091.9 212.5,1093.2 210.1,1093.2 210.1,1093.0 208.9,1093.0 208.9,1092.5 207.3,1092.5 207.3,1093.0 204.1,1093.0 204.1,1094.0 201.7,1094.0 201.7,1094.3 199.3,1094.3 199.3,1094.4 198.1,1094.4 198.1,1094.7 196.5,1094.7 196.5,1094.4 193.3,1094.4 193.3,1095.2 192.5,1095.2 192.4,1095.3 191.6,1095.3 191.6,1095.4 190.8,1095.4 190.8,1095.7 189.2,1095.7 189.2,1094.7 188.0,1094.7 188.0,1096.7 185.6,1096.7 185.6,1097.1 184.4,1097.1 184.4,1096.7 183.2,1096.7 183.2,1097.8 181.6,1097.8 181.6,1097.8 179.2,1097.8 179.2,1100.7 177.6,1100.7 177.5,1098.7 175.9,1098.7 175.9,1100.4 173.5,1100.4 173.5,1101.3 171.1,1101.3 171.1,1102.8 167.9,1102.8 167.9,1102.7 166.7,1102.7 166.7,1103.8 165.5,1103.8" fill="#00ff00" stroke="#00ff00" stroke-width="0.4"/>
<polygon points="165.5,1227.4 168.7,1227.4 168.7,1228.5 169.9,1228.5 169.9,1226.9 172.3,1226.9 172.3,1227.3 173.9,1227.3 173.9,1226.4 176.3,1226.4 176.3,1224.3 177.1,1224.3 177.2,1227.4 179.6,1227.4 179.6,1226.4 180.8,1226.4 180.8,1226.9 183.2,1226.9 183.2,1225.2 185.6,1225.2 185.6,1226.3 186.8,1226.3 186.8,1224.7 190.0,1224.7 190.0,1225.1 191.6,1225.1 191.6,1225.0 192.4,1225.0 192.4,1224.2 193.2,1224.2 193.2,1224.1 194.8,1224.1 194.9,1224.7 198.1,1224.7 198.1,1223.7 200.5,1223.7 200.5,1223.5 203.7,1223.5 203.7,1221.4 205.3,1221.4 205.3,1223.0 207.7,1223.0 207.7,1223.5 210.9,1223.5 210.9,1222.5 211.7,1222.5 211.7,1223.1 212.5,1223.1 212.5,1223.7 215.7,1223.7 215.7,1222.1 216.5,1222.1 216.6,1222.7 219.8,1222.7 219.8,1222.5 223.0,1222.5 223.0,1222.3 224.6,1222.3 224.6,1222.1 227.8,1222.1 227.8,1221.2 228.6,1221.2 228.6,1221.8 229.4,1221.8 229.4,1221.8 231.8,1221.8 231.8,1220.9 235.0,1220.9 235.0,1221.4 236.2,1221.4 236.2,1220.6 239.4,1220.6 239.5,1221.7 240.3,1221.7 240.3,1221.7 242.7,1221.7 242.7,1219.7 244.3,1219.7 244.3,1220.0 247.5,1220.0 247.5,1220.4 248.3,1220.4 248.3,1221.1 249.9,1221.1 249.9,1219.5 251.1,1219.5 251.1,1219.4 251.9,1219.4 251.9,1219.3 252.7,1219.3 252.7,1220.6 254.3,1220.6 254.4,1219.0 257.6,1219.0 257.6,1220.1 260.0,1220.1 260.0,1219.1 261.6,1219.1 261.6,1219.0 263.2,1219.0 263.2,1218.8 264.0,1218.8 264.0,1218.7 265.2,1218.7 265.2,1218.6 266.0,1218.6 266.0,1217.8 266.8,1217.8 266.8,1217.7 267.6,1217.7 267.6,1218.3 268.4,1218.3 268.5,1217.5 271.7,1217.5 271.7,1217.2 274.1,1217.2 274.1,1217.6 275.3,1217.6 275.3,1216.8 278.5,1216.8 278.5,1217.1 279.3,1217.1 279.3,1216.4 280.9,1216.4 280.9,1217.6 282.5,1217.6 282.5,1216.7 283.7,1216.7 283.7,1214.1 284.9,1214.1 284.9,1215.8 285.7,1215.8 285.8,1215.7 287.0,1215.7 287.0,1216.2 287.8,1216.2 287.8,1215.5 288.6,1215.5 288.6,1215.4 289.4,1215.4 289.4,1216.0 291.0,1216.0 291.0,1215.1 291.8,1215.1 291.8,1215.0 293.4,1215.0 293.4,1214.9 295.0,1214.9 295.0,1214.7 296.6,1214.7 296.6,1214.6 297.4,1214.6 297.5,1214.5 300.7,1214.5 300.7,1214.2 303.1,1214.2 303.1,1214.7 304.3,1214.7 304.3,1213.9 305.1,1213.9 305.1,1215.2 306.3,1215.2 306.3,1213.7 307.9,1213.7 307.9,1213.6 309.5,1213.6 309.5,1214.8 311.1,1214.8 311.1,1212.2 311.9,1212.2 311.9,1213.9 312.7,1213.9 312.8,1213.1 315.2,1213.1 315.2,1213.6 318.4,1213.6 318.4,1214.0 320.0,1214.0 320.0,1213.9 321.6,1213.9 321.6,1213.1 322.4,1213.1 322.4,1211.2 323.2,1211.2 323.2,1212.2 324.0,1212.2 324.0,1213.5 325.6,1213.5 325.6,1212.7 326.8,1212.7 326.8,1211.9 328.4,1211.9 328.5,1211.7 329.3,1211.7 329.3,1212.4 331.7,1212.4 331.7,1211.5 332.5,1211.5 332.5,1212.8 334.1,1212.8 334.1,1210.1 336.5,1210.1 336.5,1211.7 338.1,1211.7 338.1,1211.6 341.3,1211.6 341.3,1211.3 342.1,1211.3 342.1,1211.2 343.3,1211.2 343.3,1211.8 344.1,1211.8 344.2,1210.4 346.6,1210.4 346.6,1210.1 347.8,1210.1 347.8,1209.6 348.6,1209.6 348.6,1210.0 350.2,1210.0 350.2,1211.2 351.0,1211.2 351.0,1209.4 351.8,1209.4 351.8,1209.7 355.0,1209.7 355.0,1209.4 357.4,1209.4 357.4,1209.2 360.6,1209.2 360.6,1209.6 361.4,1209.6 361.5,1208.4 363.1,1208.4 363.1,1209.4 364.3,1209.4 364.3,1209.3 365.5,1209.3 365.5,1208.5 368.7,1208.5 368.7,1208.2 371.9,1208.2 371.9,1207.9 373.5,1207.9 373.5,1209.2 375.1,1209.2 375.1,1209.1 376.7,1209.1 376.7,1207.5 377.5,1207.5 377.5,1207.4 378.3,1207.4 378.4,1207.4 379.2,1207.4 379.2,1207.3 380.0,1207.3 380.0,1207.2 383.2,1207.2 383.2,1207.7 384.0,1207.7 384.0,1205.8 386.4,1205.8 386.4,1205.6 388.0,1205.6 388.0,1207.2 389.6,1207.2 389.6,1206.4 390.4,1206.4 390.4,1207.0 392.0,1207.0 392.0,1207.6 394.4,1207.6 394.5,1204.2 396.1,1204.2 396.1,1206.5 398.5,1206.5 398.5,1205.6 399.7,1205.6 399.7,1206.2 401.3,1206.2 401.3,1205.4 404.5,1205.4 404.5,1203.5 405.7,1203.5 405.7,1204.0 407.3,1204.0 407.3,1205.7 408.9,1205.7 408.9,1204.9 410.5,1204.9 410.5,1205.5 411.3,1205.5 411.4,1205.5 412.6,1205.5 412.6,1206.1 413.8,1206.1 413.8,1205.3 416.2,1205.3 416.2,1205.2 419.4,1205.2 419.4,1205.0 420.2,1205.0 420.2,1204.2 421.0,1204.2 421.0,1205.6 421.8,1205.6 421.8,1204.1 424.2,1204.1 424.2,1203.9 425.0,1203.9 425.0,1204.6 427.4,1204.6 427.5,1202.6 428.3,1202.6 428.3,1204.4 429.1,1204.4 429.1,1204.3 429.9,1204.3 429.9,1203.6 430.7,1203.6 430.7,1204.2 431.9,1204.2 431.9,1203.5 433.1,1203.5 433.1,1203.4 434.7,1203.4 434.7,1204.0 437.9,1204.0 437.9,1203.1 439.5,1203.1 439.5,1203.0 440.7,1203.0 440.8,1203.6 444.0,1203.6 444.0,1202.7 447.2,1202.7 447.2,1202.5 448.0,1202.5 448.0,1202.4 449.2,1202.4 449.2,1202.3 451.6,1202.3 451.6,1202.9 453.2,1202.9 453.2,1201.0 454.0,1201.0 454.0,1202.0 457.2,1202.0 457.2,1201.8 458.4,1201.8 458.4,1201.8 460.0,1201.8 460.1,1201.7 463.3,1201.7 463.3,1201.5 465.7,1201.5 465.7,1201.3 467.3,1201.3 467.3,1201.9 469.7,1201.9 469.7,1201.0 471.3,1201.0 471.3,1202.3 472.1,1202.3 472.1,1200.9 473.3,1200.9 473.3,1201.5 474.1,1201.5 474.1,1201.5 476.5,1201.5 476.5,1202.0 479.7,1202.0 479.8,1201.8 481.0,1201.8 481.0,1201.0 481.8,1201.0 481.8,1200.3 484.2,1200.3 484.2,1200.1 487.4,1200.1 487.4,1199.9 488.6,1199.9 488.6,1200.6 489.8,1200.6 489.8,1199.8 491.4,1199.8 491.4,1199.7 493.0,1199.7 493.0,1199.6 494.6,1199.6 494.6,1200.9 497.8,1200.9 497.9,1199.3 498.7,1199.3 498.7,1199.2 499.5,1199.2 499.5,1198.1 502.7,1198.1 502.7,1200.4 504.3,1200.4 504.3,1199.6 507.5,1199.6 507.5,1199.5 510.7,1199.5 510.7,1200.0 513.9,1200.0 513.9,1199.9 514.7,1199.9 514.7,1199.1 517.9,1199.1 517.9,1198.3 519.1,1198.3 519.2,1197.9 521.6,1197.9 521.6,1198.1 522.8,1198.1 522.8,1199.4 523.6,1199.4 523.6,1198.0 526.0,1198.0 526.0,1198.6 528.4,1198.6 528.4,1197.8 530.8,1197.8 530.8,1197.3 531.6,1197.3 531.6,1198.3 533.2,1198.3 533.2,1198.2 534.4,1198.2 534.4,1198.2 535.6,1198.2 535.7,1197.4 536.5,1197.4 536.5,1197.4 537.3,1197.4 537.3,1197.4 538.1,1197.4 538.1,1198.0 541.3,1198.0 541.3,1195.4 544.5,1195.4 544.5,1197.1 547.7,1197.1 547.7,1196.5 550.9,1196.5 550.9,1196.8 551.7,1196.8 551.7,1198.2 552.5,1198.2 552.5,1196.7 554.1,1196.7 554.2,1198.1 557.4,1198.1 557.4,1196.5 558.2,1196.5 558.2,1197.2 559.0,1197.2 559.0,1196.5 561.4,1196.5 561.4,1196.4 563.8,1196.4 563.8,1196.3 564.6,1196.3 564.6,1196.9 565.8,1196.9 565.8,1196.2 569.0,1196.2 569.0,1196.0 572.2,1196.0 572.2,1197.3 573.8,1197.3 573.9,1196.5 574.7,1196.5 574.7,1196.5 575.9,1196.5 575.9,1195.8 576.7,1195.8 576.7,1195.7 578.3,1195.7 578.3,1196.4 579.1,1196.4 579.1,1196.3 579.9,1196.3 579.9,1195.6 582.3,1195.6 582.3,1196.2 583.9,1196.2 583.9,1196.1 585.5,1196.1 585.5,1194.3 586.7,1194.3 586.8,1194.2 589.2,1194.2 589.2,1195.2 592.4,1195.2 592.4,1195.1 593.2,1195.1 593.2,1196.4 595.6,1196.4 595.6,1194.9 598.8,1194.9 598.8,1195.5 601.2,1195.5 601.2,1195.4 603.6,1195.4 603.6,1194.6 605.2,1194.6 605.2,1193.4 606.8,1193.4 606.8,1195.1 610.0,1195.1 610.1,1195.0 611.7,1195.0 611.7,1193.1 612.5,1193.1 612.5,1194.9 613.7,1194.9 613.7,1194.8 616.9,1194.8 616.9,1192.9 618.1,1192.9 618.1,1193.5 621.3,1193.5 621.3,1193.7 622.1,1193.7 622.1,1193.7 622.9,1193.7 622.9,1193.7 623.7,1193.7 623.7,1195.0 624.5,1195.0 624.6,1193.6 626.2,1193.6 626.2,1193.5 629.4,1193.5 629.4,1194.1 630.6,1194.1 630.6,1193.3 633.0,1193.3 633.0,1194.6 634.6,1194.6 634.6,1191.4 637.0,1191.4 637.0,1193.7 637.8,1193.7 637.8,1191.2 640.2,1191.2 640.2,1192.9 642.6,1192.9 642.6,1192.7 643.4,1192.7 643.5,1193.4 645.9,1193.4 645.9,1192.6 647.5,1192.6 647.5,1193.2 649.9,1193.2 649.9,1192.4 652.3,1192.4 652.3,1193.8 654.7,1193.8 654.7,1193.0 655.5,1193.0 655.5,1192.3 658.7,1192.3 658.7,1193.6 659.9,1193.6 659.9,1192.9 661.5,1192.9 661.5,1193.6 662.3,1193.6 662.4,1191.1 663.6,1191.1 663.6,1192.1 664.4,1192.1 664.4,1192.1 667.6,1192.1 667.6,1192.0 670.0,1192.0 670.0,1192.0 673.2,1192.0 673.2,1191.9 674.0,1191.9 674.0,1192.2 675.6,1192.2 675.6,1192.6 676.4,1192.6 676.4,1193.3 677.6,1193.3 677.6,1190.7 678.4,1190.7 678.5,1192.5 679.7,1192.5 679.7,1193.2 682.9,1193.2 682.9,1193.1 685.3,1193.1 685.3,1191.7 686.1,1191.7 686.1,1192.4 687.7,1192.4 687.7,1192.3 688.5,1192.3 688.5,1192.3 690.9,1192.3 690.9,1191.6 692.1,1191.6 692.1,1191.7 693.3,1191.7 693.3,1192.5 695.7,1192.5 695.8,1191.9 696.6,1191.9 696.6,1191.9 697.4,1191.9 697.4,1192.7 698.6,1192.7 698.6,1192.0 699.4,1192.0 699.4,1193.4 702.6,1193.4 702.6,1191.1 704.2,1191.1 704.2,1192.3 705.8,1192.3 705.8,1191.3 707.4,1191.3 707.4,1193.8 710.6,1193.8 710.6,1193.3 711.4,1193.3 711.5,1192.6 712.3,1192.6 712.3,1192.7 713.1,1192.7 713.1,1193.4 715.5,1193.4 715.5,1192.8 717.1,1192.8 717.1,1192.5 719.5,1192.5 719.5,1193.7 720.3,1193.7 720.3,1193.7 721.5,1193.7 721.5,1193.1 722.7,1193.1 722.7,1193.9 723.5,1193.9 723.5,1193.2 726.7,1193.2 726.8,1194.0 728.0,1194.0 728.0,1193.4 729.2,1193.4 729.2,1193.1 732.4,1193.1 732.4,1193.7 734.0,1193.7 734.0,1193.8 734.8,1193.8 734.8,1193.9 735.6,1193.9 735.6,1193.9 738.8,1193.9 738.8,1194.9 740.0,1194.9 740.0,1193.9 741.6,1193.9 741.6,1194.4 742.4,1194.4 742.5,1194.4 744.9,1194.4 744.9,1195.3 746.5,1195.3 746.5,1193.0 747.3,1193.0 747.3,1196.2 748.1,1196.2 748.1,1195.6 749.7,1195.6 749.7,1196.4 750.9,1196.4 750.9,1195.8 751.7,1195.8 751.7,1195.8 753.3,1195.8 753.3,1195.3 754.1,1195.3 754.1,1196.0 754.9,1196.0 755.0,1195.4 755.8,1195.4 755.8,1195.4 758.2,1195.4 758.2,1195.6 761.4,1195.6 761.4,1197.3 764.6,1197.3 764.6,1195.7 767.8,1195.7 767.8,1196.4 769.0,1196.4 769.0,1196.4 769.8,1196.4 769.8,1197.2 773.0,1197.2 773.0,1197.4 773.8,1197.4 773.8,1198.2 774.6,1198.2 774.7,1197.6 775.5,1197.6 775.5,1197.6 776.3,1197.6 776.3,1197.7 777.1,1197.7 777.1,1197.1 778.7,1197.1 778.7,1197.9 779.9,1197.9 779.9,1196.9 783.1,1196.9 783.1,1198.2 786.3,1198.2 786.3,1198.4 787.5,1198.4 787.5,1197.8 788.3,1197.8 788.3,1197.8 789.1,1197.8 789.2,1197.9 790.0,1197.9 790.0,1197.9 792.4,1197.9 792.4,1198.1 795.6,1198.1 795.6,1197.9 798.0,1197.9 798.0,1198.4 798.8,1198.4 798.8,1199.1 800.4,1199.1 800.4,1197.5 803.6,1197.5 803.6,1200.1 806.8,1200.1 806.8,1200.3 807.6,1200.3 807.6,1199.0 808.4,1199.0 808.5,1200.4 810.9,1200.4 810.9,1200.5 812.5,1200.5 812.5,1199.9 815.7,1199.9 815.7,1199.4 818.1,1199.4 818.1,1199.6 821.3,1199.6 821.3,1200.5 823.7,1200.5 823.7,1199.9 824.5,1199.9 824.5,1200.0 826.1,1200.0 826.1,1200.0 827.7,1200.0 827.7,1200.8 828.5,1200.8 828.6,1200.9 829.4,1200.9 829.4,1201.7 831.0,1201.7 831.0,1201.1 831.8,1201.1 831.8,1201.2 834.2,1201.2 834.2,1200.8 835.4,1200.8 835.4,1200.9 838.6,1200.9 838.6,1202.6 839.4,1202.6 839.4,1202.0 840.6,1202.0 840.6,1201.4 842.2,1201.4 842.2,1201.6 843.0,1201.6 843.1,1201.7 845.5,1201.7 845.5,1202.6 848.7,1202.6 848.7,1202.2 850.3,1202.2 850.3,1202.4 851.1,1202.4 851.1,1202.5 851.9,1202.5 851.9,1203.3 853.1,1203.3 853.1,1203.4 856.3,1203.4 856.3,1203.7 857.9,1203.7 857.9,1203.9 860.3,1203.9 860.3,1204.1 861.5,1204.1 861.6,1204.9 862.4,1204.9 862.4,1204.3 864.0,1204.3 864.0,1205.2 866.4,1205.2 866.4,1205.4 867.6,1205.4 867.6,1204.2 868.4,1204.2 868.4,1204.2 869.2,1204.2 869.2,1205.0 871.6,1205.0 871.6,1205.3 872.8,1205.3 872.8,1205.4 873.6,1205.4 873.6,1205.5 876.8,1205.5 876.9,1205.0 877.7,1205.0 877.7,1205.1 880.1,1205.1 880.1,1206.0 880.9,1206.0 880.9,1206.0 883.3,1206.0 883.3,1206.2 884.9,1206.2 884.9,1206.4 887.3,1206.4 887.3,1205.8 888.5,1205.8 888.5,1206.6 890.9,1206.6 890.9,1206.1 893.3,1206.1 893.3,1204.6 894.5,1204.6 894.6,1206.4 895.4,1206.4 895.4,1206.5 897.8,1206.5 897.8,1208.1 899.4,1208.1 899.4,1207.5 900.2,1207.5 900.2,1207.6 901.0,1207.6 901.0,1205.2 904.2,1205.2 904.2,1207.9 907.4,1207.9 907.4,1208.2 909.8,1208.2 909.8,1207.6 911.0,1207.6 911.0,1207.7 913.4,1207.7 913.5,1208.6 914.3,1208.6 914.3,1208.7 917.5,1208.7 917.5,1208.3 918.3,1208.3 918.3,1208.3 921.5,1208.3 921.5,1208.6 923.1,1208.6 923.1,1210.1 923.9,1210.1 923.9,1209.5 924.7,1209.5 924.7,1209.5 927.9,1209.5 927.9,1209.1 929.1,1209.1 929.1,1209.9 930.3,1209.9 930.4,1210.0 931.6,1210.0 931.6,1210.1 932.4,1210.1 932.4,1210.2 934.8,1210.2 934.8,1211.1 935.6,1211.1 935.6,1210.5 936.4,1210.5 936.4,1211.2 938.8,1211.2 938.8,1210.0 942.0,1210.0 942.0,1211.7 944.4,1211.7 944.4,1210.5 945.2,1210.5 945.2,1210.6 947.6,1210.6 947.7,1212.2 950.1,1212.2 950.1,1211.0 952.5,1211.0 952.5,1211.9 955.7,1211.9 955.7,1212.1 957.3,1212.1 957.3,1212.3 958.5,1212.3 958.5,1212.0 961.7,1212.0 961.7,1212.0 962.9,1212.0 962.9,1212.8 964.1,1212.8 964.1,1212.9 965.7,1212.9 965.7,1212.3 966.5,1212.3 966.6,1211.3 967.4,1211.3 967.4,1212.4 968.2,1212.4 968.2,1212.5 971.4,1212.5 971.4,1213.5 973.0,1213.5 973.0,1212.5 975.4,1212.5 975.4,1213.1 977.0,1213.1 977.0,1213.2 980.2,1213.2 980.2,1214.2 981.8,1214.2 981.8,1212.5 984.2,1212.5 984.2,1213.7 985.4,1213.7 985.5,1215.1 986.3,1215.1 986.3,1213.8 987.5,1213.8 987.5,1213.8 989.9,1213.8 989.9,1213.9 991.1,1213.9 991.1,1214.0 994.3,1214.0 994.3,1215.5 995.1,1215.5 995.1,1215.5 995.9,1215.5 995.9,1214.9 996.7,1214.9 996.7,1214.2 997.5,1214.2 997.5,1214.2 999.1,1214.2 999.2,1215.7 1002.4,1215.7 1002.4,1214.4 1004.0,1214.4 1004.0,1215.2 1005.2,1215.2 1005.2,1215.9 1006.0,1215.9 1006.0,1215.3 1007.2,1215.3 1007.2,1216.0 1008.0,1216.0 1008.0,1216.1 1009.6,1216.1 1009.6,1215.4 1012.8,1215.4 1012.8,1214.9 1013.6,1214.9 1013.6,1214.9 1016.8,1214.9 1016.9,1215.0 1019.3,1215.0 1019.3,1215.1 1021.7,1215.1 1021.7,1215.2 1022.5,1215.2 1022.5,1216.7 1024.9,1216.7 1024.9,1216.1 1026.5,1216.1 1026.5,1215.4 1028.1,1215.4 1028.1,1216.2 1029.7,1216.2 1029.7,1216.3 1030.5,1216.3 1030.5,1215.6 1032.1,1215.6 1032.1,1213.9 1035.3,1213.9 1035.4,1214.0 1036.2,1214.0 1036.2,1215.4 1037.0,1215.4 1037.0,1215.8 1037.8,1215.8 1037.8,1215.8 1039.4,1215.8 1039.4,1216.5 1042.6,1216.5 1042.6,1215.9 1045.8,1215.9 1045.8,1216.6 1049.0,1216.6 1049.0,1217.4 1049.8,1217.4 1049.8,1217.4 1053.0,1217.4 1053.0,1216.8 1053.8,1216.8 1053.9,1217.5 1057.1,1217.5 1057.1,1216.8 1057.9,1216.8 1057.9,1216.2 1060.3,1216.2 1060.3,1216.2 1061.1,1216.2 1061.1,1216.2 1061.9,1216.2 1061.9,1216.2 1062.7,1216.2 1062.7,1217.0 1065.9,1217.0 1065.9,1217.0 1067.5,1217.0 1067.5,1217.0 1070.7,1217.0 1070.7,1217.1 1073.1,1217.1 1073.2,1216.4 1074.8,1216.4 1074.8,1217.9 1075.6,1217.9 1075.6,1216.5 1076.4,1216.5 1076.4,1216.5 1077.2,1216.5 1077.2,1216.5 1078.0,1216.5 1078.0,1217.2 1079.6,1217.2 1079.6,1218.0 1081.2,1218.0 1081.2,1216.6 1082.0,1216.6 1082.0,1218.0 1085.2,1218.0 1085.2,1217.4 1086.0,1217.4 1086.1,1217.4 1088.5,1217.4 1088.5,1217.4 1090.1,1217.4 1090.1,1216.6 1091.7,1216.6 1091.7,1216.6 1094.1,1216.6 1094.1,1218.0 1094.9,1218.0 1094.9,1217.2 1095.7,1217.2 1095.7,1216.5 1098.1,1216.5 1098.1,1216.5 1099.3,1216.5 1099.3,1217.9 1100.9,1217.9 1100.9,1216.4 1104.1,1216.4 1104.2,1216.4 1105.0,1216.4 1105.0,1216.4 1105.8,1216.4 1105.8,1217.7 1106.6,1217.7 1106.6,1216.3 1107.8,1216.3 1107.8,1217.0 1109.4,1217.0 1109.4,1216.3 1111.8,1216.3 1111.8,1216.2 1115.0,1216.2 1115.0,1216.1 1115.8,1216.1 1115.8,1216.1 1117.0,1216.1 1117.0,1214.9 1117.8,1214.9 1117.9,1216.6 1119.1,1216.6 1119.1,1214.8 1120.7,1214.8 1120.7,1217.2 1121.5,1217.2 1121.5,1215.4 1123.9,1215.4 1123.9,1216.3 1125.5,1216.3 1125.5,1215.5 1128.7,1215.5 1128.7,1216.1 1131.1,1216.1 1131.1,1216.6 1131.9,1216.6 1131.9,1214.8 1134.3,1214.8 1134.3,1215.8 1135.1,1215.8 1135.2,1215.7 1138.4,1215.7 1138.4,1216.3 1139.2,1216.3 1139.2,1216.2 1141.6,1216.2 1141.6,1215.4 1142.4,1215.4 1142.4,1214.7 1143.6,1214.7 1143.6,1214.6 1144.4,1214.6 1144.4,1214.6 1146.8,1214.6 1146.8,1215.1 1148.0,1215.1 1148.0,1215.1 1150.4,1215.1 1150.4,1214.2 1151.6,1214.2 1151.7,1214.2 1153.3,1214.2 1153.3,1215.5 1155.0,1215.5 1155.0,1219.7 1153.3,1219.7 1153.3,1219.8 1151.7,1219.8 1151.6,1220.9 1150.4,1220.9 1150.4,1218.6 1148.0,1218.6 1148.0,1220.0 1146.8,1220.0 1146.8,1218.8 1144.4,1218.8 1144.4,1220.6 1143.6,1220.6 1143.6,1218.9 1142.4,1218.9 1142.4,1220.3 1141.6,1220.3 1141.6,1220.4 1139.2,1220.4 1139.2,1220.5 1138.4,1220.5 1138.4,1220.6 1135.2,1220.6 1135.1,1219.3 1134.3,1219.3 1134.3,1220.1 1131.9,1220.1 1131.9,1221.9 1131.1,1221.9 1131.1,1221.0 1128.7,1221.0 1128.7,1221.1 1125.5,1221.1 1125.5,1220.5 1123.9,1220.5 1123.9,1220.7 1121.5,1220.7 1121.5,1221.4 1120.7,1221.4 1120.7,1220.8 1119.1,1220.8 1119.1,1220.8 1117.9,1220.8 1117.8,1221.6 1117.0,1221.6 1117.0,1221.7 1115.8,1221.7 1115.8,1221.0 1115.0,1221.0 1115.0,1221.8 1111.8,1221.8 1111.8,1221.2 1109.4,1221.2 1109.4,1221.9 1107.8,1221.9 1107.8,1221.9 1106.6,1221.9 1106.6,1223.7 1105.8,1223.7 1105.8,1220.6 1105.0,1220.6 1105.0,1222.0 1104.2,1222.0 1104.1,1223.8 1100.9,1223.8 1100.9,1220.7 1099.3,1220.7 1099.3,1223.2 1098.1,1223.2 1098.1,1221.4 1095.7,1221.4 1095.7,1222.1 1094.9,1222.1 1094.9,1221.5 1094.1,1221.5 1094.1,1222.2 1091.7,1222.2 1091.7,1222.2 1090.1,1222.2 1090.1,1221.6 1088.5,1221.6 1088.5,1222.3 1086.1,1222.3 1086.0,1222.3 1085.2,1222.3 1085.2,1222.2 1082.0,1222.2 1082.0,1221.5 1081.2,1221.5 1081.2,1220.8 1079.6,1220.8 1079.6,1222.1 1078.0,1222.1 1078.0,1221.4 1077.2,1221.4 1077.2,1222.1 1076.4,1222.1 1076.4,1222.1 1075.6,1222.1 1075.6,1222.1 1074.8,1222.1 1074.8,1221.3 1073.2,1221.3 1073.1,1222.0 1070.7,1222.0 1070.7,1220.5 1067.5,1220.5 1067.5,1223.0 1065.9,1223.0 1065.9,1221.2 1062.7,1221.2 1062.7,1221.8 1061.9,1221.8 1061.9,1221.8 1061.1,1221.8 1061.1,1221.1 1060.3,1221.1 1060.3,1223.5 1057.9,1223.5 1057.9,1221.7 1057.1,1221.7 1057.1,1222.1 1053.9,1222.1 1053.8,1221.7 1053.0,1221.7 1053.0,1220.9 1049.8,1220.9 1049.8,1221.6 1049.0,1221.6 1049.0,1221.5 1045.8,1221.5 1045.8,1220.8 1042.6,1220.8 1042.6,1221.4 1039.4,1221.4 1039.4,1221.8 1037.8,1221.8 1037.8,1221.4 1037.0,1221.4 1037.0,1220.7 1036.2,1220.7 1036.2,1220.6 1035.4,1220.6 1035.3,1221.3 1032.1,1221.3 1032.1,1221.2 1030.5,1221.2 1030.5,1222.9 1029.7,1222.9 1029.7,1221.1 1028.1,1221.1 1028.1,1220.3 1026.5,1220.3 1026.5,1220.3 1024.9,1220.3 1024.9,1221.9 1022.5,1221.9 1022.5,1220.8 1021.7,1220.8 1021.7,1219.3 1019.3,1219.3 1019.3,1220.6 1016.9,1220.6 1016.8,1220.5 1013.6,1220.5 1013.6,1220.5 1012.8,1220.5 1012.8,1220.7 1009.6,1220.7 1009.6,1218.9 1008.0,1218.9 1008.0,1219.5 1007.2,1219.5 1007.2,1218.8 1006.0,1218.8 1006.0,1219.4 1005.2,1219.4 1005.2,1218.7 1004.0,1218.7 1004.0,1220.0 1002.4,1220.0 1002.4,1219.9 999.2,1219.9 999.1,1219.8 997.5,1219.8 997.5,1219.8 996.7,1219.8 996.7,1219.1 995.9,1219.1 995.9,1219.7 995.1,1219.7 995.1,1219.7 994.3,1219.7 994.3,1218.2 991.1,1218.2 991.1,1219.5 989.9,1219.5 989.9,1219.4 987.5,1219.4 987.5,1221.1 986.3,1221.1 986.3,1218.6 985.5,1218.6 985.4,1218.6 984.2,1218.6 984.2,1218.5 981.8,1218.5 981.8,1219.1 980.2,1219.1 980.2,1217.4 977.0,1217.4 977.0,1218.0 975.4,1218.0 975.4,1218.5 973.0,1218.5 973.0,1219.5 971.4,1219.5 971.4,1218.1 968.2,1218.1 968.2,1217.3 967.4,1217.3 967.4,1218.0 966.6,1218.0 966.5,1217.9 965.7,1217.9 965.7,1217.1 964.1,1217.1 964.1,1217.0 962.9,1217.0 962.9,1217.6 961.7,1217.6 961.7,1217.3 958.5,1217.3 958.5,1217.2 957.3,1217.2 957.3,1217.0 955.7,1217.0 955.7,1216.8 952.5,1216.8 952.5,1215.2 950.1,1215.2 950.1,1216.4 947.7,1216.4 947.6,1215.5 945.2,1215.5 945.2,1215.4 944.4,1215.4 944.4,1217.7 942.0,1217.7 942.0,1215.6 938.8,1215.6 938.8,1217.2 936.4,1217.2 936.4,1214.7 935.6,1214.7 935.6,1215.3 934.8,1215.3 934.8,1214.4 932.4,1214.4 932.4,1215.0 931.6,1215.0 931.6,1214.2 930.4,1214.2 930.3,1214.8 929.1,1214.8 929.1,1214.7 927.9,1214.7 927.9,1213.7 924.7,1213.7 924.7,1214.4 923.9,1214.4 923.9,1213.6 923.1,1213.6 923.1,1212.8 921.5,1212.8 921.5,1213.9 918.3,1213.9 918.3,1213.9 917.5,1213.9 917.5,1212.2 914.3,1212.2 914.3,1212.8 913.5,1212.8 913.4,1213.3 911.0,1213.3 911.0,1213.2 909.8,1213.2 909.8,1212.4 907.4,1212.4 907.4,1212.8 904.2,1212.8 904.2,1214.3 901.0,1214.3 901.0,1211.8 900.2,1211.8 900.2,1214.2 899.4,1214.2 899.4,1211.6 897.8,1211.6 897.8,1210.7 895.4,1210.7 895.4,1212.0 894.6,1212.0 894.5,1210.5 893.3,1210.5 893.3,1212.8 890.9,1212.8 890.9,1210.8 888.5,1210.8 888.5,1210.7 887.3,1210.7 887.3,1211.3 884.9,1211.3 884.9,1210.4 883.3,1210.4 883.3,1210.9 880.9,1210.9 880.9,1210.2 880.1,1210.2 880.1,1210.7 877.7,1210.7 877.7,1209.9 876.9,1209.9 876.8,1210.4 873.6,1210.4 873.6,1210.7 872.8,1210.7 872.8,1210.2 871.6,1210.2 871.6,1209.2 869.2,1209.2 869.2,1209.8 868.4,1209.8 868.4,1208.4 867.6,1208.4 867.6,1210.7 866.4,1210.7 866.4,1209.4 864.0,1209.4 864.0,1208.5 862.4,1208.5 862.4,1207.7 861.6,1207.7 861.5,1209.0 860.3,1209.0 860.3,1208.8 857.9,1208.8 857.9,1208.6 856.3,1208.6 856.3,1208.3 853.1,1208.3 853.1,1207.9 851.9,1207.9 851.9,1207.4 851.1,1207.4 851.1,1206.6 850.3,1206.6 850.3,1207.1 848.7,1207.1 848.7,1207.5 845.5,1207.5 845.5,1207.6 843.1,1207.6 843.0,1206.5 842.2,1206.5 842.2,1207.0 840.6,1207.0 840.6,1206.9 839.4,1206.9 839.4,1205.4 838.6,1205.4 838.6,1205.8 835.4,1205.8 835.4,1205.0 834.2,1205.0 834.2,1205.4 831.8,1205.4 831.8,1207.8 831.0,1207.8 831.0,1204.5 829.4,1204.5 829.4,1205.8 828.6,1205.8 828.5,1205.7 827.7,1205.7 827.7,1204.9 826.1,1204.9 826.1,1205.6 824.5,1205.6 824.5,1205.5 823.7,1205.5 823.7,1204.7 821.3,1204.7 821.3,1203.8 818.1,1203.8 818.1,1204.3 815.7,1204.3 815.7,1205.2 812.5,1205.2 812.5,1204.0 810.9,1204.0 810.9,1203.9 808.5,1203.9 808.4,1204.6 807.6,1204.6 807.6,1204.5 806.8,1204.5 806.8,1204.3 803.6,1204.3 803.6,1203.8 800.4,1203.8 800.4,1204.0 798.8,1204.0 798.8,1204.0 798.0,1204.0 798.0,1202.4 795.6,1202.4 795.6,1203.7 792.4,1203.7 792.4,1203.5 790.0,1203.5 790.0,1202.8 789.2,1202.8 789.1,1204.5 788.3,1204.5 788.3,1202.7 787.5,1202.7 787.5,1201.9 786.3,1201.9 786.3,1202.4 783.1,1202.4 783.1,1201.5 779.9,1201.5 779.9,1202.1 778.7,1202.1 778.7,1202.7 777.1,1202.7 777.1,1202.6 776.3,1202.6 776.3,1201.8 775.5,1201.8 775.5,1201.1 774.7,1201.1 774.6,1202.4 773.8,1202.4 773.8,1202.3 773.0,1202.3 773.0,1202.1 769.8,1202.1 769.8,1201.3 769.0,1201.3 769.0,1202.0 767.8,1202.0 767.8,1201.7 764.6,1201.7 764.6,1201.5 761.4,1201.5 761.4,1201.2 758.2,1201.2 758.2,1201.0 755.8,1201.0 755.8,1201.0 755.0,1201.0 754.9,1200.2 754.1,1200.2 754.1,1200.9 753.3,1200.9 753.3,1200.7 751.7,1200.7 751.7,1200.7 750.9,1200.7 750.9,1200.6 749.7,1200.6 749.7,1199.8 748.1,1199.8 748.1,1201.5 747.3,1201.5 747.3,1199.6 746.5,1199.6 746.5,1200.2 744.9,1200.2 744.9,1198.6 742.5,1198.6 742.4,1199.3 741.6,1199.3 741.6,1199.2 740.0,1199.2 740.0,1199.1 738.8,1199.1 738.8,1198.1 735.6,1198.1 735.6,1199.8 734.8,1199.8 734.8,1199.4 734.0,1199.4 734.0,1199.3 732.4,1199.3 732.4,1199.1 729.2,1199.1 729.2,1198.3 728.0,1198.3 728.0,1198.9 726.8,1198.9 726.7,1198.8 723.5,1198.8 723.5,1198.1 722.7,1198.1 722.7,1198.0 721.5,1198.0 721.5,1200.4 720.3,1200.4 720.3,1197.9 719.5,1197.9 719.5,1198.5 717.1,1198.5 717.1,1198.4 715.5,1198.4 715.5,1198.3 713.1,1198.3 713.1,1198.3 712.3,1198.3 712.3,1198.2 711.5,1198.2 711.4,1198.2 710.6,1198.2 710.6,1198.0 707.4,1198.0 707.4,1198.0 705.8,1198.0 705.8,1197.9 704.2,1197.9 704.2,1197.8 702.6,1197.8 702.6,1196.9 699.4,1196.9 699.4,1197.6 698.6,1197.6 698.6,1197.6 697.4,1197.6 697.4,1196.8 696.6,1196.8 696.6,1197.5 695.8,1197.5 695.7,1197.4 693.3,1197.4 693.3,1195.9 692.1,1195.9 692.1,1196.5 690.9,1196.5 690.9,1197.2 688.5,1197.2 688.5,1196.5 687.7,1196.5 687.7,1197.0 686.1,1197.0 686.1,1196.6 685.3,1196.6 685.3,1196.6 682.9,1196.6 682.9,1196.7 679.7,1196.7 679.7,1196.0 678.5,1196.0 678.4,1199.2 677.6,1199.2 677.6,1197.5 676.4,1197.5 676.4,1197.5 675.6,1197.5 675.6,1196.8 674.0,1196.8 674.0,1199.3 673.2,1199.3 673.2,1196.2 670.0,1196.2 670.0,1197.6 667.6,1197.6 667.6,1198.8 664.4,1198.8 664.4,1197.7 663.6,1197.7 663.6,1196.4 662.4,1196.4 662.3,1197.1 661.5,1197.1 661.5,1197.1 659.9,1197.1 659.9,1197.1 658.7,1197.1 658.7,1197.2 655.5,1197.2 655.5,1197.9 654.7,1197.9 654.7,1198.0 652.3,1198.0 652.3,1198.0 649.9,1198.0 649.9,1198.5 647.5,1198.5 647.5,1196.8 645.9,1196.8 645.9,1198.3 643.5,1198.3 643.4,1198.3 642.6,1198.3 642.6,1198.2 640.2,1198.2 640.2,1198.6 637.8,1198.6 637.8,1197.9 637.0,1197.9 637.0,1198.7 634.6,1198.7 634.6,1198.1 633.0,1198.1 633.0,1198.9 630.6,1198.9 630.6,1199.0 629.4,1199.0 629.4,1198.4 626.2,1198.4 626.2,1199.2 624.6,1199.2 624.5,1197.8 623.7,1197.8 623.7,1199.3 622.9,1199.3 622.9,1199.3 622.1,1199.3 622.1,1199.3 621.3,1199.3 621.3,1198.1 618.1,1198.1 618.1,1199.6 616.9,1199.6 616.9,1199.0 613.7,1199.0 613.7,1199.1 612.5,1199.1 612.5,1199.8 611.7,1199.8 611.7,1199.2 610.1,1199.2 610.0,1199.3 606.8,1199.3 606.8,1200.1 605.2,1200.1 605.2,1200.2 603.6,1200.2 603.6,1201.4 601.2,1201.4 601.2,1199.7 598.8,1199.7 598.8,1200.9 595.6,1200.9 595.6,1199.2 593.2,1199.2 593.2,1200.7 592.4,1200.7 592.4,1200.8 589.2,1200.8 589.2,1202.0 586.8,1202.0 586.7,1200.3 585.5,1200.3 585.5,1201.0 583.9,1201.0 583.9,1201.1 582.3,1201.1 582.3,1201.2 579.9,1201.2 579.9,1200.5 579.1,1200.5 579.1,1201.3 578.3,1201.3 578.3,1199.9 576.7,1199.9 576.7,1200.7 575.9,1200.7 575.9,1200.0 574.7,1200.0 574.7,1201.4 573.9,1201.4 573.8,1200.8 572.2,1200.8 572.2,1201.6 569.0,1201.6 569.0,1201.8 565.8,1201.8 565.8,1201.8 564.6,1201.8 564.6,1201.9 563.8,1201.9 563.8,1201.3 561.4,1201.3 561.4,1200.7 559.0,1200.7 559.0,1202.1 558.2,1202.1 558.2,1202.1 557.4,1202.1 557.4,1201.6 554.2,1201.6 554.1,1201.6 552.5,1201.6 552.5,1202.4 551.7,1202.4 551.7,1201.0 550.9,1201.0 550.9,1202.5 547.7,1202.5 547.7,1202.7 544.5,1202.7 544.5,1202.1 541.3,1202.1 541.3,1202.9 538.1,1202.9 538.1,1202.3 537.3,1202.3 537.3,1202.3 536.5,1202.3 536.5,1204.1 535.7,1204.1 535.6,1201.7 534.4,1201.7 534.4,1202.4 533.2,1202.4 533.2,1201.8 531.6,1201.8 531.6,1202.6 530.8,1202.6 530.8,1202.0 528.4,1202.0 528.4,1202.1 526.0,1202.1 526.0,1202.9 523.6,1202.9 523.6,1202.9 522.8,1202.9 522.8,1205.5 521.6,1205.5 521.6,1203.1 519.2,1203.1 519.1,1203.2 517.9,1203.2 517.9,1202.6 514.7,1202.6 514.7,1204.1 513.9,1204.1 513.9,1204.2 510.7,1204.2 510.7,1203.7 507.5,1203.7 507.5,1204.5 504.3,1204.5 504.3,1203.9 502.7,1203.9 502.7,1204.1 499.5,1204.1 499.5,1204.8 498.7,1204.8 498.7,1204.2 497.9,1204.2 497.8,1205.5 494.6,1205.5 494.6,1203.8 493.0,1203.8 493.0,1204.6 491.4,1204.6 491.4,1206.5 489.8,1206.5 489.8,1204.8 488.6,1204.8 488.6,1205.5 487.4,1205.5 487.4,1205.7 484.2,1205.7 484.2,1205.9 481.8,1205.9 481.8,1204.5 481.0,1204.5 481.0,1206.0 479.8,1206.0 479.7,1205.5 476.5,1205.5 476.5,1206.4 474.1,1206.4 474.1,1205.0 473.3,1205.0 473.3,1206.9 472.1,1206.9 472.1,1205.8 471.3,1205.8 471.3,1206.6 469.7,1206.6 469.7,1207.2 467.3,1207.2 467.3,1206.9 465.7,1206.9 465.7,1207.1 463.3,1207.1 463.3,1206.6 460.1,1206.6 460.0,1206.0 458.4,1206.0 458.4,1207.4 457.2,1207.4 457.2,1207.6 454.0,1207.6 454.0,1207.7 453.2,1207.7 453.2,1206.4 451.6,1206.4 451.6,1207.9 449.2,1207.9 449.2,1209.8 448.0,1209.8 448.0,1208.4 447.2,1208.4 447.2,1210.0 444.0,1210.0 444.0,1209.5 440.8,1209.5 440.7,1208.6 439.5,1208.6 439.5,1208.7 437.9,1208.7 437.9,1208.2 434.7,1208.2 434.7,1209.0 433.1,1209.0 433.1,1207.7 431.9,1207.7 431.9,1209.1 430.7,1209.1 430.7,1207.8 429.9,1207.8 429.9,1207.8 429.1,1207.8 429.1,1208.6 428.3,1208.6 428.3,1208.6 427.5,1208.6 427.4,1209.5 425.0,1209.5 425.0,1209.5 424.2,1209.5 424.2,1208.3 421.8,1208.3 421.8,1209.8 421.0,1209.8 421.0,1209.8 420.2,1209.8 420.2,1209.9 419.4,1209.9 419.4,1209.4 416.2,1209.4 416.2,1209.5 413.8,1209.5 413.8,1210.7 412.6,1210.7 412.6,1209.0 411.4,1209.0 411.3,1210.4 410.5,1210.4 410.5,1210.5 408.9,1210.5 408.9,1211.7 407.3,1211.7 407.3,1210.4 405.7,1210.4 405.7,1211.9 404.5,1211.9 404.5,1210.3 401.3,1210.3 401.3,1211.1 399.7,1211.1 399.7,1211.2 398.5,1211.2 398.5,1210.0 396.1,1210.0 396.1,1210.9 394.5,1210.9 394.4,1211.1 392.0,1211.1 392.0,1211.2 390.4,1211.2 390.4,1212.0 389.6,1212.0 389.6,1210.7 388.0,1210.7 388.0,1212.3 386.4,1212.3 386.4,1212.5 384.0,1212.5 384.0,1211.2 383.2,1211.2 383.2,1212.8 380.0,1212.8 380.0,1212.2 379.2,1212.2 379.2,1213.0 378.4,1213.0 378.3,1213.0 377.5,1213.0 377.5,1211.7 376.7,1211.7 376.7,1213.3 375.1,1213.3 375.1,1214.5 373.5,1214.5 373.5,1212.8 371.9,1212.8 371.9,1213.1 368.7,1213.1 368.7,1214.1 365.5,1214.1 365.5,1214.2 364.3,1214.2 364.3,1214.3 363.1,1214.3 363.1,1214.4 361.5,1214.4 361.4,1214.5 360.6,1214.5 360.6,1214.8 357.4,1214.8 357.4,1215.0 355.0,1215.0 355.0,1214.6 351.8,1214.6 351.8,1215.4 351.0,1215.4 351.0,1215.4 350.2,1215.4 350.2,1214.9 348.6,1214.9 348.6,1217.4 347.8,1217.4 347.8,1215.0 346.6,1215.0 346.6,1215.3 344.2,1215.3 344.1,1215.7 343.3,1215.7 343.3,1216.1 342.1,1216.1 342.1,1215.5 341.3,1215.5 341.3,1215.8 338.1,1215.8 338.1,1215.9 336.5,1215.9 336.5,1217.2 334.1,1217.2 334.1,1217.0 332.5,1217.0 332.5,1217.1 331.7,1217.1 331.7,1217.3 329.3,1217.3 329.3,1217.3 328.5,1217.3 328.4,1217.5 326.8,1217.5 326.8,1217.6 325.6,1217.6 325.6,1217.0 324.0,1217.0 324.0,1216.4 323.2,1216.4 323.2,1217.9 322.4,1217.9 322.4,1217.3 321.6,1217.3 321.6,1217.4 320.0,1217.4 320.0,1218.6 318.4,1218.6 318.4,1218.5 315.2,1218.5 315.2,1218.0 312.8,1218.0 312.7,1217.4 311.9,1217.4 311.9,1218.2 311.1,1218.2 311.1,1218.3 309.5,1218.3 309.5,1218.5 307.9,1218.5 307.9,1219.3 306.3,1219.3 306.3,1219.4 305.1,1219.4 305.1,1219.5 304.3,1219.5 304.3,1219.6 303.1,1219.6 303.1,1219.8 300.7,1219.8 300.7,1220.1 297.5,1220.1 297.4,1220.2 296.6,1220.2 296.6,1218.9 295.0,1218.9 295.0,1219.8 293.4,1219.8 293.4,1219.2 291.8,1219.2 291.8,1220.0 291.0,1220.0 291.0,1222.0 289.4,1222.0 289.4,1221.0 288.6,1221.0 288.6,1221.4 287.8,1221.4 287.8,1220.4 287.0,1220.4 287.0,1221.3 285.8,1221.3 285.7,1221.8 284.9,1221.8 284.9,1221.2 283.7,1221.2 283.7,1220.2 282.5,1220.2 282.5,1221.1 280.9,1221.1 280.9,1220.6 279.3,1220.6 279.3,1221.3 278.5,1221.3 278.5,1221.7 275.3,1221.7 275.3,1223.6 274.1,1223.6 274.1,1222.1 271.7,1222.1 271.7,1222.4 268.5,1222.4 268.4,1222.5 267.6,1222.5 267.6,1221.9 266.8,1221.9 266.8,1222.0 266.0,1222.0 266.0,1225.2 265.2,1225.2 265.2,1223.6 264.0,1223.6 264.0,1222.3 263.2,1222.3 263.2,1223.2 261.6,1223.2 261.6,1224.0 260.0,1224.0 260.0,1224.7 257.6,1224.7 257.6,1224.6 254.4,1224.6 254.3,1224.1 252.7,1224.1 252.7,1224.9 251.9,1224.9 251.9,1224.3 251.1,1224.3 251.1,1224.4 249.9,1224.4 249.9,1226.3 248.3,1226.3 248.3,1224.6 247.5,1224.6 247.5,1225.6 244.3,1225.6 244.3,1225.7 242.7,1225.7 242.7,1225.9 240.3,1225.9 240.3,1224.5 239.5,1224.5 239.4,1226.2 236.2,1226.2 236.2,1226.3 235.0,1226.3 235.0,1226.5 231.8,1226.5 231.8,1226.7 229.4,1226.7 229.4,1226.0 228.6,1226.0 228.6,1226.8 227.8,1226.8 227.8,1226.3 224.6,1226.3 224.6,1227.2 223.0,1227.2 223.0,1226.7 219.8,1226.7 219.8,1226.2 216.6,1226.2 216.5,1227.0 215.7,1227.0 215.7,1227.9 212.5,1227.9 212.5,1227.3 211.7,1227.3 211.7,1228.5 210.9,1228.5 210.9,1228.4 207.7,1228.4 207.7,1229.0 205.3,1229.0 205.3,1228.8 203.7,1228.8 203.7,1229.1 200.5,1229.1 200.5,1229.3 198.1,1229.3 198.1,1229.6 194.9,1229.6 194.8,1229.0 193.2,1229.0 193.2,1230.2 192.4,1230.2 192.4,1229.9 191.6,1229.9 191.6,1230.0 190.0,1230.0 190.0,1230.3 186.8,1230.3 186.8,1230.5 185.6,1230.5 185.6,1229.4 183.2,1229.4 183.2,1231.1 180.8,1231.1 180.8,1229.9 179.6,1229.9 179.6,1231.6 177.2,1231.6 177.1,1231.7 176.3,1231.7 176.3,1232.0 173.9,1232.0 173.9,1230.8 172.3,1230.8 172.3,1232.5 169.9,1232.5 169.9,1232.0 168.7,1232.0 168.7,1232.3 165.5,1232.3" fill="#ffff00" stroke="#ffff00" stroke-width="0.4"/>
</g>
<text class="lg" transform="translate(1170.3,1122.4) rotate(-90)">Inboard EBox</text>
<text class="lg" transform="translate(1182.3,1130.0) rotate(-90)">Inboard Sensor</text>
<text class="lg" transform="translate(1194.6,1130.7) rotate(-90)">Outboard EBox</text>
<text class="lg" transform="translate(1205.4,1142.7) rotate(-90)">Outboard Sensor</text>
<path d="M1168.0 1233.6 V1248.7" stroke="#0000ff" stroke-width="1.6"/>
<path d="M1180.0 1233.6 V1248.7" stroke="#00ffff" stroke-width="1.6"/>
<path d="M1192.0 1233.6 V1248.7" stroke="#00ff00" stroke-width="1.6"/>
<path d="M1203.0 1233.6 V1248.7" stroke="#ffff00" stroke-width="1.6"/>
<path d="M412.5 1308.5 V1469.5" stroke="#dcdcdc" stroke-width="1"/>
<path d="M660.5 1308.5 V1469.5" stroke="#dcdcdc" stroke-width="1"/>
<path d="M907.5 1308.5 V1469.5" stroke="#dcdcdc" stroke-width="1"/>
<path d="M165.5 1388.5 H1154.5" stroke="#dcdcdc" stroke-width="1"/>
<rect x="165.5" y="1308.5" width="989.0" height="161.0" fill="none" stroke="#262626" stroke-width="1"/>
<path d="M412.5 1469.5 v-10 M412.5 1308.5 v10 M660.5 1469.5 v-10 M660.5 1308.5 v10 M907.5 1469.5 v-10 M907.5 1308.5 v10 M165.5 1388.5 h10 M1154.5 1388.5 h-10" stroke="#262626" stroke-width="1" fill="none"/>
<text class="tk" x="156.4" y="1476.20" text-anchor="end">-100</text>
<text class="tk" x="156.4" y="1395.20" text-anchor="end">0</text>
<text class="tk" x="156.4" y="1315.20" text-anchor="end">100</text>
<text class="yl" transform="translate(72.8,1389.0) rotate(-90)">Voltage</text>
<text class="yl" transform="translate(98.2,1389.0) rotate(-90)">(mV)</text>
<clipPath id="c6"><rect x="165.0" y="1308.5" width="990.0" height="161.0"/></clipPath>
<g clip-path="url(#c6)">
<path d="M166 1427.4H1155" stroke="#0000ff" stroke-width="1.1"/>
<path d="M168.0 1423.0h2.3v4.9h-2.3zM172.2 1423.0h3.3v4.9h-3.3zM175.5 1423.0h10.0v4.9h-10.0zM185.5 1423.0h9.7v4.9h-9.7zM195.1 1423.0h3.3v4.9h-3.3zM201.7 1423.0h4.6v4.9h-4.6zM206.3 1423.0h2.7v4.9h-2.7zM209.0 1423.0h4.9v4.9h-4.9zM213.8 1423.0h8.5v4.9h-8.5zM222.3 1423.0h5.3v4.9h-5.3zM227.7 1423.0h4.7v4.9h-4.7z" fill="#0000ff"/>
<path d="M338.9 1423.0h6.7v4.9h-6.7zM345.7 1423.0h3.8v4.9h-3.8zM349.5 1423.0h7.1v4.9h-7.1zM356.6 1423.0h10.0v4.9h-10.0zM366.6 1423.0h2.1v4.9h-2.1zM368.7 1423.0h7.1v4.9h-7.1zM375.8 1423.0h6.8v4.9h-6.8zM382.6 1423.0h9.7v4.9h-9.7zM392.3 1423.0h2.2v4.9h-2.2zM394.5 1423.0h8.6v4.9h-8.6zM406.3 1423.0h5.5v4.9h-5.5zM411.8 1423.0h2.7v4.9h-2.7zM414.6 1423.0h2.1v4.9h-2.1zM416.7 1423.0h5.3v4.9h-5.3zM421.9 1423.0h6.5v4.9h-6.5zM430.3 1423.0h5.0v4.9h-5.0zM436.2 1423.0h4.2v4.9h-4.2zM440.3 1423.0h9.7v4.9h-9.7zM451.8 1423.0h4.3v4.9h-4.3zM458.0 1423.0h9.3v4.9h-9.3zM467.3 1423.0h2.4v4.9h-2.4zM469.7 1423.0h6.4v4.9h-6.4zM477.1 1423.0h6.1v4.9h-6.1zM483.2 1423.0h8.6v4.9h-8.6zM491.8 1423.0h5.7v4.9h-5.7zM497.5 1423.0h9.7v4.9h-9.7zM509.2 1423.0h7.9v4.9h-7.9zM517.0 1423.0h7.2v4.9h-7.2zM524.3 1423.0h3.2v4.9h-3.2zM527.5 1423.0h3.9v4.9h-3.9zM531.5 1423.0h7.7v4.9h-7.7zM541.4 1423.0h2.7v4.9h-2.7zM545.2 1423.0h6.6v4.9h-6.6zM552.8 1423.0h3.7v4.9h-3.7zM556.5 1423.0h9.6v4.9h-9.6zM566.1 1423.0h3.2v4.9h-3.2zM569.3 1423.0h3.7v4.9h-3.7z" fill="#0000ff"/>
<path d="M240.0 1423.0h1.4v4.9h-1.4zM243.5 1423.0h1.1v4.9h-1.1z" fill="#0000ff"/>
<rect x="914.5" y="1423.0" width="1.3" height="4.5" fill="#0000ff"/>
<rect x="945.5" y="1423.0" width="1.3" height="4.5" fill="#0000ff"/>
<rect x="952.5" y="1423.0" width="1.3" height="4.5" fill="#0000ff"/>
<rect x="960.5" y="1423.0" width="1.3" height="4.5" fill="#0000ff"/>
<rect x="963.0" y="1423.0" width="1.3" height="4.5" fill="#0000ff"/>
<rect x="966.0" y="1423.0" width="1.3" height="4.5" fill="#0000ff"/>
<rect x="968.5" y="1423.0" width="1.3" height="4.5" fill="#0000ff"/>
<rect x="975.5" y="1423.0" width="1.3" height="4.5" fill="#0000ff"/>
<rect x="980.0" y="1423.0" width="1.3" height="4.5" fill="#0000ff"/>
<rect x="993.5" y="1423.0" width="1.3" height="4.5" fill="#0000ff"/>
<rect x="999.0" y="1423.0" width="1.3" height="4.5" fill="#0000ff"/>
<path d="M231.8 1383.5h1.5v9.5h-1.5zM233.4 1383.5h1.2v9.5h-1.2zM234.6 1383.5h1.8v9.5h-1.8zM236.4 1383.5h1.6v9.5h-1.6zM238.0 1383.5h1.8v9.5h-1.8zM239.7 1383.5h2.9v9.5h-2.9zM243.7 1383.5h2.1v9.5h-2.1zM245.8 1383.5h2.1v9.5h-2.1zM247.9 1383.5h1.0v9.5h-1.0zM248.9 1383.5h1.1v9.5h-1.1zM250.0 1383.5h2.0v9.5h-2.0zM252.0 1383.5h2.8v9.5h-2.8zM254.8 1383.5h1.7v9.5h-1.7zM256.4 1383.5h1.2v9.5h-1.2zM257.7 1383.5h2.1v9.5h-2.1zM259.8 1383.5h1.3v9.5h-1.3zM261.0 1383.5h2.7v9.5h-2.7zM263.7 1383.5h2.7v9.5h-2.7zM266.5 1383.5h2.1v9.5h-2.1zM268.6 1383.5h1.7v9.5h-1.7zM274.0 1383.5h2.1v9.5h-2.1zM276.1 1383.5h1.0v9.5h-1.0zM278.3 1383.5h2.8v9.5h-2.8zM282.0 1383.5h3.0v9.5h-3.0zM286.2 1383.5h1.5v9.5h-1.5zM288.9 1383.5h2.4v9.5h-2.4zM291.3 1383.5h1.3v9.5h-1.3zM292.6 1383.5h1.9v9.5h-1.9zM294.5 1383.5h2.8v9.5h-2.8zM297.3 1383.5h1.8v9.5h-1.8zM299.8 1383.5h2.2v9.5h-2.2zM303.4 1383.5h2.3v9.5h-2.3zM306.6 1383.5h1.8v9.5h-1.8zM308.3 1383.5h1.7v9.5h-1.7zM310.0 1383.5h1.6v9.5h-1.6zM311.6 1383.5h1.7v9.5h-1.7zM313.9 1383.5h2.5v9.5h-2.5zM318.5 1383.5h1.9v9.5h-1.9zM320.4 1383.5h2.2v9.5h-2.2zM322.6 1383.5h1.3v9.5h-1.3zM323.9 1383.5h2.2v9.5h-2.2zM326.7 1383.5h1.6v9.5h-1.6zM328.2 1383.5h1.4v9.5h-1.4zM331.0 1383.5h2.8v9.5h-2.8zM333.7 1383.5h2.1v9.5h-2.1zM335.8 1383.5h2.3v9.5h-2.3zM339.4 1383.5h0.6v9.5h-0.6z" fill="#00ffff"/>
<path d="M572.0 1383.5h2.8v9.5h-2.8zM577.0 1383.5h1.4v9.5h-1.4zM581.2 1383.5h2.7v9.5h-2.7zM585.2 1383.5h2.3v9.5h-2.3zM587.5 1383.5h2.3v9.5h-2.3zM592.6 1383.5h2.6v9.5h-2.6zM597.6 1383.5h2.6v9.5h-2.6zM600.1 1383.5h1.3v9.5h-1.3zM602.2 1383.5h2.7v9.5h-2.7zM608.6 1383.5h2.2v9.5h-2.2zM613.8 1383.5h2.3v9.5h-2.3zM616.0 1383.5h1.6v9.5h-1.6zM618.7 1383.5h1.4v9.5h-1.4zM620.6 1383.5h1.9v9.5h-1.9zM622.5 1383.5h2.1v9.5h-2.1zM624.6 1383.5h1.9v9.5h-1.9zM626.5 1383.5h2.9v9.5h-2.9zM629.4 1383.5h1.9v9.5h-1.9zM631.3 1383.5h1.6v9.5h-1.6zM636.0 1383.5h2.4v9.5h-2.4zM638.4 1383.5h2.3v9.5h-2.3zM641.9 1383.5h1.9v9.5h-1.9zM643.9 1383.5h2.8v9.5h-2.8zM646.7 1383.5h1.6v9.5h-1.6zM648.2 1383.5h2.3v9.5h-2.3zM653.9 1383.5h2.4v9.5h-2.4zM656.2 1383.5h1.7v9.5h-1.7zM660.9 1383.5h2.3v9.5h-2.3zM665.3 1383.5h1.3v9.5h-1.3zM666.6 1383.5h1.4v9.5h-1.4z" fill="#00ffff"/>
<path d="M1076.0 1383.5h2.5v9.5h-2.5zM1078.6 1383.5h1.8v9.5h-1.8zM1080.3 1383.5h1.3v9.5h-1.3zM1081.6 1383.5h2.4v9.5h-2.4zM1085.2 1383.5h1.9v9.5h-1.9zM1089.4 1383.5h1.9v9.5h-1.9zM1091.3 1383.5h2.0v9.5h-2.0zM1094.6 1383.5h2.9v9.5h-2.9zM1098.0 1383.5h2.8v9.5h-2.8zM1100.8 1383.5h1.9v9.5h-1.9zM1105.0 1383.5h2.1v9.5h-2.1zM1107.1 1383.5h1.3v9.5h-1.3zM1108.4 1383.5h1.6v9.5h-1.6zM1110.0 1383.5h1.1v9.5h-1.1zM1111.1 1383.5h1.1v9.5h-1.1zM1112.2 1383.5h2.3v9.5h-2.3zM1115.9 1383.5h2.4v9.5h-2.4zM1118.3 1383.5h2.8v9.5h-2.8zM1121.0 1383.5h1.6v9.5h-1.6zM1122.6 1383.5h1.7v9.5h-1.7zM1124.3 1383.5h2.7v9.5h-2.7zM1127.0 1383.5h2.0v9.5h-2.0zM1129.0 1383.5h1.3v9.5h-1.3zM1130.3 1383.5h1.8v9.5h-1.8zM1132.1 1383.5h2.7v9.5h-2.7zM1134.8 1383.5h1.1v9.5h-1.1zM1135.9 1383.5h1.0v9.5h-1.0zM1136.9 1383.5h1.5v9.5h-1.5zM1138.4 1383.5h1.7v9.5h-1.7zM1141.7 1383.5h1.5v9.5h-1.5zM1143.2 1383.5h2.4v9.5h-2.4zM1145.7 1383.5h1.8v9.5h-1.8zM1147.5 1383.5h2.0v9.5h-2.0zM1149.5 1383.5h1.3v9.5h-1.3zM1150.8 1383.5h1.5v9.5h-1.5zM1152.3 1383.5h0.7v9.5h-0.7z" fill="#00ffff"/>
<path d="M165.5 1402.6H1154.5" stroke="#00ff00" stroke-width="2" stroke-dasharray="7 3 2 4 12 3 3 5"/>
<path d="M563 1402.6H700 M750 1402.6H880" stroke="#00ff00" stroke-width="2"/>
<rect x="166" y="1392.2" width="989" height="9.9" fill="#ffff00"/>
<path d="M169.4 1384.0h2.2v9.0h-2.2zM176.0 1384.0h3.0v9.0h-3.0zM180.4 1384.0h2.7v9.0h-2.7zM186.9 1384.0h1.2v9.0h-1.2zM188.1 1384.0h1.8v9.0h-1.8zM189.9 1384.0h3.6v9.0h-3.6zM193.5 1384.0h3.4v9.0h-3.4zM197.7 1384.0h3.6v9.0h-3.6zM205.3 1384.0h2.5v9.0h-2.5zM207.7 1384.0h3.7v9.0h-3.7zM211.4 1384.0h3.3v9.0h-3.3zM217.0 1384.0h3.3v9.0h-3.3zM220.3 1384.0h2.6v9.0h-2.6zM224.5 1384.0h3.5v9.0h-3.5zM228.1 1384.0h2.5v9.0h-2.5zM236.1 1384.0h0.8v9.0h-0.8zM239.4 1384.0h1.3v9.0h-1.3zM243.1 1384.0h1.2v9.0h-1.2zM244.2 1384.0h2.8v9.0h-2.8zM247.0 1384.0h1.7v9.0h-1.7zM250.6 1384.0h1.9v9.0h-1.9zM254.7 1384.0h2.0v9.0h-2.0zM256.7 1384.0h2.9v9.0h-2.9zM259.6 1384.0h1.8v9.0h-1.8zM261.5 1384.0h2.4v9.0h-2.4zM263.9 1384.0h1.5v9.0h-1.5zM265.4 1384.0h2.9v9.0h-2.9zM269.0 1384.0h1.8v9.0h-1.8zM270.8 1384.0h2.6v9.0h-2.6zM273.4 1384.0h1.1v9.0h-1.1zM274.5 1384.0h2.5v9.0h-2.5zM278.8 1384.0h2.6v9.0h-2.6zM281.4 1384.0h3.9v9.0h-3.9zM286.0 1384.0h1.9v9.0h-1.9zM291.3 1384.0h3.4v9.0h-3.4zM294.7 1384.0h1.8v9.0h-1.8zM298.3 1384.0h2.0v9.0h-2.0zM302.9 1384.0h3.9v9.0h-3.9zM306.9 1384.0h1.1v9.0h-1.1zM308.0 1384.0h2.2v9.0h-2.2zM313.6 1384.0h1.9v9.0h-1.9zM315.4 1384.0h2.9v9.0h-2.9zM318.3 1384.0h0.8v9.0h-0.8zM320.4 1384.0h1.2v9.0h-1.2zM323.1 1384.0h2.7v9.0h-2.7zM326.6 1384.0h1.4v9.0h-1.4zM328.1 1384.0h3.4v9.0h-3.4zM331.5 1384.0h1.1v9.0h-1.1zM333.7 1384.0h2.9v9.0h-2.9zM336.6 1384.0h2.8v9.0h-2.8zM339.4 1384.0h1.5v9.0h-1.5zM340.9 1384.0h1.7v9.0h-1.7zM344.4 1384.0h4.0v9.0h-4.0zM348.4 1384.0h2.4v9.0h-2.4zM350.8 1384.0h3.1v9.0h-3.1zM353.9 1384.0h0.9v9.0h-0.9zM354.8 1384.0h2.6v9.0h-2.6zM357.4 1384.0h2.9v9.0h-2.9zM360.3 1384.0h1.5v9.0h-1.5zM366.1 1384.0h3.3v9.0h-3.3zM373.9 1384.0h2.9v9.0h-2.9zM376.9 1384.0h3.9v9.0h-3.9zM380.7 1384.0h2.1v9.0h-2.1zM382.9 1384.0h2.1v9.0h-2.1zM389.6 1384.0h3.0v9.0h-3.0zM392.6 1384.0h3.0v9.0h-3.0zM395.6 1384.0h1.8v9.0h-1.8zM401.8 1384.0h3.4v9.0h-3.4zM405.2 1384.0h0.8v9.0h-0.8zM406.0 1384.0h1.8v9.0h-1.8zM410.1 1384.0h1.5v9.0h-1.5zM411.6 1384.0h1.7v9.0h-1.7zM414.8 1384.0h0.8v9.0h-0.8zM421.6 1384.0h3.1v9.0h-3.1zM424.7 1384.0h1.3v9.0h-1.3zM427.4 1384.0h1.6v9.0h-1.6zM430.5 1384.0h3.6v9.0h-3.6zM434.0 1384.0h3.2v9.0h-3.2zM438.3 1384.0h1.2v9.0h-1.2zM439.4 1384.0h3.7v9.0h-3.7zM443.2 1384.0h3.3v9.0h-3.3zM446.5 1384.0h1.8v9.0h-1.8zM449.7 1384.0h3.6v9.0h-3.6zM453.2 1384.0h2.9v9.0h-2.9zM457.9 1384.0h2.0v9.0h-2.0zM459.9 1384.0h1.7v9.0h-1.7zM463.2 1384.0h1.2v9.0h-1.2zM464.3 1384.0h1.5v9.0h-1.5zM466.8 1384.0h3.9v9.0h-3.9zM470.7 1384.0h2.9v9.0h-2.9zM473.6 1384.0h3.5v9.0h-3.5zM481.5 1384.0h2.5v9.0h-2.5zM484.1 1384.0h1.4v9.0h-1.4zM485.5 1384.0h3.7v9.0h-3.7zM489.2 1384.0h3.3v9.0h-3.3zM494.6 1384.0h3.6v9.0h-3.6zM501.8 1384.0h3.4v9.0h-3.4zM505.2 1384.0h4.0v9.0h-4.0zM509.2 1384.0h3.7v9.0h-3.7zM521.3 1384.0h2.1v9.0h-2.1zM523.4 1384.0h2.3v9.0h-2.3zM532.6 1384.0h1.0v9.0h-1.0zM535.7 1384.0h1.0v9.0h-1.0zM536.7 1384.0h2.1v9.0h-2.1zM542.3 1384.0h3.9v9.0h-3.9zM546.2 1384.0h3.6v9.0h-3.6zM549.8 1384.0h1.7v9.0h-1.7zM553.6 1384.0h3.0v9.0h-3.0zM557.4 1384.0h1.3v9.0h-1.3zM558.7 1384.0h2.2v9.0h-2.2zM560.9 1384.0h2.6v9.0h-2.6zM567.0 1384.0h2.0v9.0h-2.0zM569.0 1384.0h3.3v9.0h-3.3zM572.3 1384.0h1.4v9.0h-1.4zM573.8 1384.0h1.5v9.0h-1.5zM580.7 1384.0h2.6v9.0h-2.6zM583.3 1384.0h3.7v9.0h-3.7zM587.0 1384.0h2.4v9.0h-2.4zM593.0 1384.0h3.1v9.0h-3.1zM596.1 1384.0h3.2v9.0h-3.2zM599.3 1384.0h3.8v9.0h-3.8zM605.0 1384.0h1.3v9.0h-1.3zM606.3 1384.0h1.8v9.0h-1.8zM609.8 1384.0h1.2v9.0h-1.2zM611.0 1384.0h3.5v9.0h-3.5zM614.5 1384.0h1.7v9.0h-1.7zM617.5 1384.0h2.7v9.0h-2.7zM623.7 1384.0h1.8v9.0h-1.8zM625.5 1384.0h2.4v9.0h-2.4zM630.1 1384.0h0.8v9.0h-0.8zM631.6 1384.0h3.9v9.0h-3.9zM635.5 1384.0h1.1v9.0h-1.1zM636.6 1384.0h1.0v9.0h-1.0zM637.6 1384.0h0.9v9.0h-0.9zM644.6 1384.0h3.5v9.0h-3.5zM648.2 1384.0h2.2v9.0h-2.2zM651.1 1384.0h2.7v9.0h-2.7zM653.9 1384.0h2.2v9.0h-2.2zM656.1 1384.0h3.9v9.0h-3.9zM660.0 1384.0h1.2v9.0h-1.2zM661.1 1384.0h2.6v9.0h-2.6zM665.5 1384.0h1.7v9.0h-1.7zM671.1 1384.0h3.7v9.0h-3.7zM674.7 1384.0h1.2v9.0h-1.2zM677.6 1384.0h2.9v9.0h-2.9zM681.3 1384.0h1.0v9.0h-1.0zM682.3 1384.0h1.7v9.0h-1.7zM686.0 1384.0h2.3v9.0h-2.3zM690.4 1384.0h1.9v9.0h-1.9zM692.3 1384.0h1.9v9.0h-1.9zM694.2 1384.0h4.0v9.0h-4.0zM698.1 1384.0h1.0v9.0h-1.0zM700.2 1384.0h3.1v9.0h-3.1zM705.4 1384.0h3.4v9.0h-3.4zM708.8 1384.0h3.6v9.0h-3.6zM712.4 1384.0h1.4v9.0h-1.4zM713.9 1384.0h1.5v9.0h-1.5zM719.8 1384.0h3.5v9.0h-3.5zM723.3 1384.0h0.9v9.0h-0.9zM724.2 1384.0h1.2v9.0h-1.2zM725.5 1384.0h3.4v9.0h-3.4zM730.8 1384.0h1.9v9.0h-1.9zM732.7 1384.0h2.1v9.0h-2.1zM734.8 1384.0h4.0v9.0h-4.0zM742.8 1384.0h1.2v9.0h-1.2zM745.0 1384.0h2.8v9.0h-2.8zM747.8 1384.0h1.7v9.0h-1.7zM749.4 1384.0h2.4v9.0h-2.4zM751.9 1384.0h3.0v9.0h-3.0zM754.9 1384.0h2.9v9.0h-2.9zM757.8 1384.0h0.9v9.0h-0.9zM759.8 1384.0h2.9v9.0h-2.9zM762.7 1384.0h1.2v9.0h-1.2zM765.6 1384.0h3.0v9.0h-3.0zM769.7 1384.0h1.4v9.0h-1.4zM774.9 1384.0h2.6v9.0h-2.6zM777.5 1384.0h3.4v9.0h-3.4zM786.7 1384.0h3.4v9.0h-3.4zM790.0 1384.0h1.4v9.0h-1.4zM791.4 1384.0h1.8v9.0h-1.8zM793.8 1384.0h3.4v9.0h-3.4zM797.2 1384.0h3.3v9.0h-3.3zM803.0 1384.0h3.4v9.0h-3.4zM806.5 1384.0h2.1v9.0h-2.1zM808.6 1384.0h0.9v9.0h-0.9zM809.5 1384.0h2.3v9.0h-2.3zM813.3 1384.0h1.5v9.0h-1.5zM814.8 1384.0h1.4v9.0h-1.4zM816.1 1384.0h3.1v9.0h-3.1zM819.2 1384.0h3.0v9.0h-3.0zM822.2 1384.0h1.1v9.0h-1.1zM823.3 1384.0h3.1v9.0h-3.1zM826.4 1384.0h2.6v9.0h-2.6zM829.0 1384.0h3.8v9.0h-3.8zM832.9 1384.0h3.4v9.0h-3.4zM836.2 1384.0h3.8v9.0h-3.8zM844.6 1384.0h1.8v9.0h-1.8zM847.2 1384.0h1.6v9.0h-1.6zM850.7 1384.0h1.7v9.0h-1.7zM852.4 1384.0h2.7v9.0h-2.7zM855.8 1384.0h2.2v9.0h-2.2zM861.0 1384.0h3.9v9.0h-3.9zM864.9 1384.0h3.6v9.0h-3.6zM872.2 1384.0h3.7v9.0h-3.7zM877.2 1384.0h1.5v9.0h-1.5zM878.8 1384.0h3.5v9.0h-3.5zM882.3 1384.0h2.0v9.0h-2.0zM884.3 1384.0h1.7v9.0h-1.7zM886.0 1384.0h2.4v9.0h-2.4zM891.3 1384.0h3.5v9.0h-3.5zM897.5 1384.0h1.9v9.0h-1.9zM899.4 1384.0h1.4v9.0h-1.4zM900.8 1384.0h2.8v9.0h-2.8zM905.9 1384.0h3.2v9.0h-3.2zM910.9 1384.0h1.1v9.0h-1.1zM912.0 1384.0h2.3v9.0h-2.3zM917.3 1384.0h2.5v9.0h-2.5zM919.8 1384.0h2.9v9.0h-2.9zM922.7 1384.0h2.5v9.0h-2.5zM930.6 1384.0h0.9v9.0h-0.9zM931.5 1384.0h1.5v9.0h-1.5zM934.8 1384.0h2.1v9.0h-2.1zM936.9 1384.0h2.3v9.0h-2.3zM939.1 1384.0h3.6v9.0h-3.6zM942.8 1384.0h3.2v9.0h-3.2zM949.2 1384.0h3.0v9.0h-3.0zM954.1 1384.0h2.8v9.0h-2.8zM956.9 1384.0h2.6v9.0h-2.6zM964.0 1384.0h2.9v9.0h-2.9zM966.9 1384.0h3.2v9.0h-3.2zM970.1 1384.0h3.8v9.0h-3.8zM973.9 1384.0h1.9v9.0h-1.9zM975.8 1384.0h1.8v9.0h-1.8zM977.6 1384.0h2.2v9.0h-2.2zM983.3 1384.0h2.8v9.0h-2.8zM993.4 1384.0h2.2v9.0h-2.2zM995.7 1384.0h2.0v9.0h-2.0zM999.4 1384.0h3.9v9.0h-3.9zM1007.5 1384.0h1.9v9.0h-1.9zM1009.4 1384.0h2.7v9.0h-2.7zM1012.2 1384.0h1.3v9.0h-1.3zM1015.7 1384.0h1.8v9.0h-1.8zM1017.5 1384.0h2.1v9.0h-2.1zM1019.6 1384.0h1.6v9.0h-1.6zM1023.3 1384.0h2.8v9.0h-2.8zM1026.1 1384.0h2.1v9.0h-2.1zM1038.1 1384.0h3.3v9.0h-3.3zM1042.9 1384.0h1.6v9.0h-1.6zM1045.1 1384.0h2.8v9.0h-2.8zM1047.9 1384.0h1.4v9.0h-1.4zM1050.3 1384.0h3.0v9.0h-3.0zM1053.3 1384.0h1.9v9.0h-1.9zM1055.2 1384.0h1.3v9.0h-1.3zM1056.5 1384.0h1.9v9.0h-1.9zM1064.2 1384.0h1.1v9.0h-1.1zM1068.8 1384.0h2.6v9.0h-2.6zM1072.2 1384.0h2.4v9.0h-2.4zM1074.7 1384.0h1.2v9.0h-1.2zM1075.9 1384.0h2.4v9.0h-2.4zM1078.3 1384.0h3.5v9.0h-3.5zM1081.8 1384.0h3.3v9.0h-3.3zM1085.7 1384.0h2.3v9.0h-2.3zM1089.0 1384.0h3.4v9.0h-3.4zM1092.3 1384.0h1.3v9.0h-1.3zM1094.7 1384.0h2.2v9.0h-2.2zM1096.9 1384.0h3.5v9.0h-3.5zM1100.5 1384.0h1.9v9.0h-1.9zM1105.9 1384.0h1.1v9.0h-1.1zM1107.0 1384.0h4.0v9.0h-4.0zM1111.0 1384.0h2.2v9.0h-2.2zM1115.2 1384.0h3.5v9.0h-3.5zM1120.6 1384.0h1.9v9.0h-1.9zM1123.8 1384.0h2.9v9.0h-2.9zM1126.7 1384.0h2.7v9.0h-2.7zM1129.3 1384.0h3.1v9.0h-3.1zM1132.4 1384.0h3.7v9.0h-3.7zM1136.0 1384.0h3.7v9.0h-3.7zM1139.8 1384.0h0.9v9.0h-0.9zM1140.7 1384.0h2.4v9.0h-2.4zM1143.1 1384.0h2.5v9.0h-2.5zM1148.0 1384.0h3.0v9.0h-3.0zM1154.1 1384.0h0.4v9.0h-0.4z" fill="#ffff00"/>
<path d="M563.0 1384.0h1.5v9.0h-1.5zM566.7 1384.0h3.7v9.0h-3.7zM570.5 1384.0h4.8v9.0h-4.8zM575.2 1384.0h2.5v9.0h-2.5zM578.5 1384.0h3.3v9.0h-3.3zM582.4 1384.0h3.3v9.0h-3.3zM585.8 1384.0h4.1v9.0h-4.1zM589.8 1384.0h3.6v9.0h-3.6zM593.5 1384.0h3.4v9.0h-3.4zM598.2 1384.0h1.2v9.0h-1.2zM600.6 1384.0h3.8v9.0h-3.8zM604.4 1384.0h3.1v9.0h-3.1zM608.0 1384.0h3.1v9.0h-3.1zM612.3 1384.0h3.4v9.0h-3.4zM616.5 1384.0h2.8v9.0h-2.8zM619.2 1384.0h4.7v9.0h-4.7zM624.9 1384.0h2.6v9.0h-2.6zM627.5 1384.0h2.9v9.0h-2.9zM633.6 1384.0h1.4v9.0h-1.4zM637.4 1384.0h3.3v9.0h-3.3zM640.7 1384.0h2.4v9.0h-2.4zM643.1 1384.0h3.1v9.0h-3.1zM647.0 1384.0h5.0v9.0h-5.0zM655.6 1384.0h4.9v9.0h-4.9zM660.5 1384.0h2.3v9.0h-2.3zM663.9 1384.0h1.3v9.0h-1.3zM667.5 1384.0h4.0v9.0h-4.0zM673.6 1384.0h3.3v9.0h-3.3zM681.3 1384.0h2.9v9.0h-2.9zM685.0 1384.0h4.8v9.0h-4.8zM689.8 1384.0h3.9v9.0h-3.9zM693.7 1384.0h3.7v9.0h-3.7zM697.3 1384.0h2.7v9.0h-2.7z" fill="#ffff00"/>
<path d="M168.1 1401.0h1.4v9.0h-1.4zM169.5 1401.0h2.2v9.0h-2.2zM173.6 1401.0h2.8v9.0h-2.8zM180.6 1401.0h2.2v9.0h-2.2zM201.6 1401.0h1.5v9.0h-1.5zM205.0 1401.0h0.9v9.0h-0.9zM244.3 1401.0h1.4v9.0h-1.4zM249.1 1401.0h0.8v9.0h-0.8zM249.9 1401.0h2.9v9.0h-2.9zM260.0 1401.0h2.2v9.0h-2.2zM264.9 1401.0h2.5v9.0h-2.5zM297.5 1401.0h1.9v9.0h-1.9zM303.3 1401.0h1.2v9.0h-1.2zM311.1 1401.0h1.8v9.0h-1.8zM320.6 1401.0h2.4v9.0h-2.4zM331.7 1401.0h1.7v9.0h-1.7zM343.8 1401.0h2.7v9.0h-2.7zM346.5 1401.0h2.4v9.0h-2.4zM348.9 1401.0h2.7v9.0h-2.7zM354.4 1401.0h1.3v9.0h-1.3zM359.0 1401.0h2.2v9.0h-2.2zM362.7 1401.0h1.0v9.0h-1.0zM364.9 1401.0h2.6v9.0h-2.6zM378.0 1401.0h2.6v9.0h-2.6zM385.0 1401.0h1.0v9.0h-1.0zM386.0 1401.0h2.2v9.0h-2.2zM394.8 1401.0h2.7v9.0h-2.7zM397.5 1401.0h2.0v9.0h-2.0zM399.5 1401.0h1.9v9.0h-1.9zM405.3 1401.0h2.0v9.0h-2.0zM414.1 1401.0h1.5v9.0h-1.5zM418.3 1401.0h1.8v9.0h-1.8zM424.1 1401.0h1.8v9.0h-1.8zM438.8 1401.0h0.9v9.0h-0.9zM439.7 1401.0h2.8v9.0h-2.8zM446.5 1401.0h1.6v9.0h-1.6zM456.5 1401.0h2.2v9.0h-2.2zM465.5 1401.0h2.3v9.0h-2.3zM487.8 1401.0h0.8v9.0h-0.8zM488.6 1401.0h1.9v9.0h-1.9zM492.8 1401.0h1.2v9.0h-1.2zM516.4 1401.0h1.5v9.0h-1.5zM532.3 1401.0h1.4v9.0h-1.4zM536.9 1401.0h1.8v9.0h-1.8zM551.8 1401.0h0.9v9.0h-0.9zM558.6 1401.0h1.8v9.0h-1.8zM563.3 1401.0h0.9v9.0h-0.9zM577.5 1401.0h1.3v9.0h-1.3zM586.7 1401.0h1.0v9.0h-1.0zM602.1 1401.0h1.0v9.0h-1.0zM610.5 1401.0h3.0v9.0h-3.0zM627.8 1401.0h1.6v9.0h-1.6zM630.9 1401.0h2.4v9.0h-2.4zM637.8 1401.0h1.7v9.0h-1.7zM639.4 1401.0h2.8v9.0h-2.8zM649.0 1401.0h1.6v9.0h-1.6zM650.6 1401.0h2.2v9.0h-2.2zM652.8 1401.0h0.9v9.0h-0.9zM660.4 1401.0h2.9v9.0h-2.9zM667.6 1401.0h1.9v9.0h-1.9zM671.4 1401.0h2.5v9.0h-2.5zM673.9 1401.0h2.1v9.0h-2.1zM681.8 1401.0h2.9v9.0h-2.9zM695.9 1401.0h2.5v9.0h-2.5zM708.0 1401.0h2.3v9.0h-2.3zM724.2 1401.0h1.5v9.0h-1.5zM725.7 1401.0h2.1v9.0h-2.1zM727.8 1401.0h1.1v9.0h-1.1zM739.7 1401.0h1.1v9.0h-1.1zM745.5 1401.0h2.1v9.0h-2.1zM753.8 1401.0h1.3v9.0h-1.3zM763.8 1401.0h2.5v9.0h-2.5zM770.6 1401.0h2.0v9.0h-2.0zM780.5 1401.0h2.6v9.0h-2.6zM797.5 1401.0h2.1v9.0h-2.1zM812.6 1401.0h2.7v9.0h-2.7zM829.4 1401.0h2.4v9.0h-2.4zM831.7 1401.0h2.5v9.0h-2.5zM858.4 1401.0h1.0v9.0h-1.0zM876.2 1401.0h1.8v9.0h-1.8zM887.6 1401.0h1.6v9.0h-1.6zM896.5 1401.0h2.7v9.0h-2.7zM902.5 1401.0h2.4v9.0h-2.4zM926.8 1401.0h1.0v9.0h-1.0zM945.7 1401.0h2.9v9.0h-2.9zM955.6 1401.0h1.1v9.0h-1.1zM956.7 1401.0h2.2v9.0h-2.2zM968.2 1401.0h2.9v9.0h-2.9zM977.9 1401.0h2.3v9.0h-2.3zM994.1 1401.0h1.9v9.0h-1.9zM996.0 1401.0h1.0v9.0h-1.0zM1006.4 1401.0h1.7v9.0h-1.7zM1030.8 1401.0h1.9v9.0h-1.9zM1037.8 1401.0h2.9v9.0h-2.9zM1044.4 1401.0h0.8v9.0h-0.8zM1045.2 1401.0h2.4v9.0h-2.4zM1062.1 1401.0h2.0v9.0h-2.0zM1067.5 1401.0h2.1v9.0h-2.1zM1072.1 1401.0h1.4v9.0h-1.4zM1073.5 1401.0h2.2v9.0h-2.2zM1081.2 1401.0h2.5v9.0h-2.5zM1096.6 1401.0h1.1v9.0h-1.1zM1097.6 1401.0h1.9v9.0h-1.9zM1104.3 1401.0h2.9v9.0h-2.9zM1111.2 1401.0h1.9v9.0h-1.9zM1121.8 1401.0h2.9v9.0h-2.9zM1124.7 1401.0h1.8v9.0h-1.8zM1126.5 1401.0h1.8v9.0h-1.8zM1153.6 1401.0h0.9v9.0h-0.9z" fill="#ffff00"/>
<path d="M880.0 1401.0h2.1v9.0h-2.1zM882.1 1401.0h3.5v9.0h-3.5zM885.6 1401.0h2.9v9.0h-2.9zM889.0 1401.0h5.7v9.0h-5.7zM894.8 1401.0h5.3v9.0h-5.3zM900.1 1401.0h5.8v9.0h-5.8zM905.9 1401.0h2.8v9.0h-2.8zM908.7 1401.0h5.7v9.0h-5.7zM914.4 1401.0h3.8v9.0h-3.8zM918.2 1401.0h2.8v9.0h-2.8zM921.0 1401.0h3.4v9.0h-3.4zM924.4 1401.0h4.8v9.0h-4.8zM929.3 1401.0h2.5v9.0h-2.5zM931.8 1401.0h2.3v9.0h-2.3zM934.1 1401.0h3.1v9.0h-3.1zM937.2 1401.0h3.4v9.0h-3.4zM940.6 1401.0h3.5v9.0h-3.5zM944.1 1401.0h0.9v9.0h-0.9z" fill="#ffff00"/>
<path d="M1040.0 1401.0h3.4v9.0h-3.4zM1043.4 1401.0h4.7v9.0h-4.7zM1048.1 1401.0h3.9v9.0h-3.9z" fill="#ffff00"/>
<path d="M166 1393V1452" stroke="#ffff00" stroke-width="1.8"/><path d="M166 1393V1440" stroke="#8ce830" stroke-width="1.8"/><path d="M166 1392V1402" stroke="#00d8a0" stroke-width="1.8"/>
</g>
<text class="lg" transform="translate(1170.3,1377.2) rotate(-90)">Inboard VMon1</text>
<text class="lg" transform="translate(1182.3,1377.5) rotate(-90)">Inboard VMon2</text>
<text class="lg" transform="translate(1194.6,1378.5) rotate(-90)">Outboard VMon1</text>
<text class="lg" transform="translate(1205.4,1378.5) rotate(-90)">Outboard VMon2</text>
<path d="M1168.0 1462.2 V1477.8" stroke="#0000ff" stroke-width="1.6"/>
<path d="M1180.0 1462.2 V1477.8" stroke="#00ffff" stroke-width="1.6"/>
<path d="M1192.0 1462.2 V1477.8" stroke="#00ff00" stroke-width="1.6"/>
<path d="M1203.0 1462.2 V1477.8" stroke="#ffff00" stroke-width="1.6"/>
<text class="b" x="41.3" y="1498.8">Time:</text>
<text class="b" x="165.5" y="1498.8" text-anchor="middle">12:21:24</text>
<text class="b" x="412.5" y="1498.8" text-anchor="middle">12:47:14</text>
<text class="b" x="660.5" y="1498.8" text-anchor="middle">13:13:05</text>
<text class="b" x="907.5" y="1498.8" text-anchor="middle">13:38:55</text>
<text class="b" x="1154.5" y="1498.8" text-anchor="middle">14:04:46</text>
<text class="b" x="41.3" y="1519.3">Rad(km):</text>
<text class="b" x="165.5" y="1519.3" text-anchor="middle">6732.4</text>
<text class="b" x="412.5" y="1519.3" text-anchor="middle">7365.4</text>
<text class="b" x="660.5" y="1519.3" text-anchor="middle">7614.7</text>
<text class="b" x="907.5" y="1519.3" text-anchor="middle">7008.0</text>
<text class="b" x="1154.5" y="1519.3" text-anchor="middle">6765.2</text>
<text class="b" x="41.3" y="1539.9">Lat:</text>
<text class="b" x="165.5" y="1539.9" text-anchor="middle">-57.5</text>
<text class="b" x="412.5" y="1539.9" text-anchor="middle">37.3</text>
<text class="b" x="660.5" y="1539.9" text-anchor="middle">58.2</text>
<text class="b" x="907.5" y="1539.9" text-anchor="middle">-28.1</text>
<text class="b" x="1154.5" y="1539.9" text-anchor="middle">-47.8</text>
<text class="b" x="41.3" y="1560.5">Lon:</text>
<text class="b" x="165.5" y="1560.5" text-anchor="middle">-26.5</text>
<text class="b" x="412.5" y="1560.5" text-anchor="middle">-11.6</text>
<text class="b" x="660.5" y="1560.5" text-anchor="middle">140.1</text>
<text class="b" x="907.5" y="1560.5" text-anchor="middle">153.3</text>
<text class="b" x="1154.5" y="1560.5" text-anchor="middle">-48.1</text>
<text class="b" x="41.3" y="1581.0">Mlat:</text>
<text class="b" x="165.5" y="1581.0" text-anchor="middle">-50.5</text>
<text class="b" x="412.5" y="1581.0" text-anchor="middle">41.4</text>
<text class="b" x="660.5" y="1581.0" text-anchor="middle">50.0</text>
<text class="b" x="907.5" y="1581.0" text-anchor="middle">-34.4</text>
<text class="b" x="1154.5" y="1581.0" text-anchor="middle">-39.1</text>
<text class="b" x="41.3" y="1601.5">Mlt:</text>
<text class="b" x="165.5" y="1601.5" text-anchor="middle">10.356</text>
<text class="b" x="412.5" y="1601.5" text-anchor="middle">12.820</text>
<text class="b" x="660.5" y="1601.5" text-anchor="middle">22.455</text>
<text class="b" x="907.5" y="1601.5" text-anchor="middle">0.473</text>
<text class="b" x="1154.5" y="1601.5" text-anchor="middle">10.946</text>
<text class="b" x="17.6" y="1640" textLength="1226.3" lengthAdjust="spacing">MGF Quicklook using MGF_20191022_122123_140445_v2.1.0.lv2 on 24-Nov-2021 05:11:51 (calibration from cas_mgf_7day_cal_2019_10_18_v2.1.mat )</text>
</svg></body></html>
